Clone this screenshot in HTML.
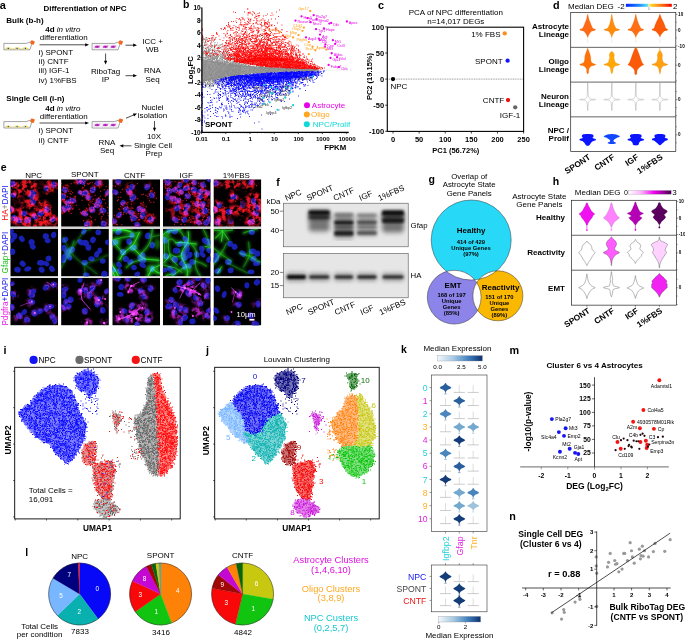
<!DOCTYPE html>
<html><head><meta charset="utf-8"><title>Figure</title><style>html,body{margin:0;padding:0;background:#fff;}body{width:685px;height:640px;overflow:hidden;font-family:"Liberation Sans",sans-serif;}</style></head><body><svg width="685" height="640" viewBox="0 0 685 640" font-family='"Liberation Sans", sans-serif' style="display:block"><text x="-0.30" y="8.56" font-size="11" font-weight="bold">a</text><text x="85.00" y="11.08" font-size="8" text-anchor="middle" font-weight="bold">Differentiation of NPC</text><text x="6.30" y="23.08" font-size="8" font-weight="bold">Bulk (b-h)</text><text x="45.20" y="31.88" font-size="8"><tspan font-weight="bold">4d</tspan> <tspan font-style="italic">in vitro</tspan></text><text x="39.80" y="40.28" font-size="8">differentiation</text><line x1="39.50" y1="44.80" x2="85.96" y2="44.80" stroke="#000" stroke-width="0.7"/><polygon points="89.00,44.80 85.20,43.20 85.20,46.40" fill="#000"/><path d="M3.9 43.4H26.2L30.9 41.8L31.9 43.8L29.8 49.8H3.9Z" fill="#fff" stroke="#555" stroke-width="0.55" stroke-linejoin="round"/><rect x="30.6" y="40.6" width="3.8" height="3.8" rx="0.6" fill="#f4661b" transform="rotate(20 32.5 42.5)"/><line x1="4.90" y1="48.70" x2="28.90" y2="48.70" stroke="#cfc878" stroke-width="0.5"/><ellipse cx="8.3" cy="48.4" rx="2.6" ry="1.1" fill="#e8de58"/><circle cx="8.30" cy="48.40" r="0.65" fill="#2030c0"/><ellipse cx="17.1" cy="48.4" rx="2.6" ry="1.1" fill="#e8de58"/><circle cx="17.10" cy="48.40" r="0.65" fill="#2030c0"/><ellipse cx="25.4" cy="48.4" rx="2.6" ry="1.1" fill="#e8de58"/><circle cx="25.40" cy="48.40" r="0.65" fill="#2030c0"/><text x="38.80" y="55.08" font-size="8">i) SPONT</text><text x="38.80" y="64.28" font-size="8">ii) CNTF</text><text x="38.80" y="73.48" font-size="8">iii) IGF-1</text><text x="38.80" y="82.68" font-size="8">iv) 1%FBS</text><path d="M92.1 43.4H114.4L119.1 41.8L120.1 43.8L118.0 49.8H92.1Z" fill="#fff" stroke="#555" stroke-width="0.55" stroke-linejoin="round"/><rect x="118.8" y="40.6" width="3.8" height="3.8" rx="0.6" fill="#f4661b" transform="rotate(20 120.7 42.5)"/><rect x="92.90" y="44.40" width="24.60" height="4.60" fill="#f6f0f8"/><ellipse cx="97.2" cy="46.8" rx="2.5" ry="1.25" fill="#c83cc8"/><line x1="94.20" y1="47.80" x2="100.20" y2="45.80" stroke="#c83cc8" stroke-width="0.5"/><circle cx="97.20" cy="46.80" r="0.70" fill="#7a1a8a"/><ellipse cx="105.4" cy="46.8" rx="2.5" ry="1.25" fill="#c83cc8"/><line x1="102.40" y1="47.80" x2="108.40" y2="45.80" stroke="#c83cc8" stroke-width="0.5"/><circle cx="105.40" cy="46.80" r="0.70" fill="#7a1a8a"/><ellipse cx="113.2" cy="46.8" rx="2.5" ry="1.25" fill="#c83cc8"/><line x1="110.20" y1="47.80" x2="116.20" y2="45.80" stroke="#c83cc8" stroke-width="0.5"/><circle cx="113.20" cy="46.80" r="0.70" fill="#7a1a8a"/><line x1="125.50" y1="45.20" x2="133.96" y2="45.20" stroke="#000" stroke-width="0.7"/><polygon points="137.00,45.20 133.20,43.60 133.20,46.80" fill="#000"/><text x="152.50" y="44.18" font-size="8" text-anchor="middle">ICC +</text><text x="152.50" y="52.48" font-size="8" text-anchor="middle">WB</text><line x1="105.60" y1="53.50" x2="105.60" y2="61.46" stroke="#000" stroke-width="0.7"/><polygon points="105.60,64.50 107.20,60.70 104.00,60.70" fill="#000"/><text x="105.60" y="73.68" font-size="8" text-anchor="middle">RiboTag</text><text x="105.60" y="81.88" font-size="8" text-anchor="middle">IP</text><line x1="125.50" y1="75.70" x2="133.96" y2="75.70" stroke="#000" stroke-width="0.7"/><polygon points="137.00,75.70 133.20,74.10 133.20,77.30" fill="#000"/><text x="152.50" y="73.48" font-size="8" text-anchor="middle">RNA</text><text x="152.50" y="81.88" font-size="8" text-anchor="middle">Seq</text><text x="6.30" y="101.08" font-size="8" font-weight="bold">Single Cell (i-n)</text><text x="45.20" y="110.68" font-size="8"><tspan font-weight="bold">4d</tspan> <tspan font-style="italic">in vitro</tspan></text><text x="39.80" y="118.68" font-size="8">differentiation</text><line x1="39.50" y1="123.00" x2="85.96" y2="123.00" stroke="#000" stroke-width="0.7"/><polygon points="89.00,123.00 85.20,121.40 85.20,124.60" fill="#000"/><path d="M3.9 121.6H26.2L30.9 120.0L31.9 122.0L29.8 128.0H3.9Z" fill="#fff" stroke="#555" stroke-width="0.55" stroke-linejoin="round"/><rect x="30.6" y="118.8" width="3.8" height="3.8" rx="0.6" fill="#f4661b" transform="rotate(20 32.5 120.7)"/><line x1="4.90" y1="126.90" x2="28.90" y2="126.90" stroke="#cfc878" stroke-width="0.5"/><ellipse cx="8.3" cy="126.6" rx="2.6" ry="1.1" fill="#e8de58"/><circle cx="8.30" cy="126.60" r="0.65" fill="#2030c0"/><ellipse cx="17.1" cy="126.6" rx="2.6" ry="1.1" fill="#e8de58"/><circle cx="17.10" cy="126.60" r="0.65" fill="#2030c0"/><ellipse cx="25.4" cy="126.6" rx="2.6" ry="1.1" fill="#e8de58"/><circle cx="25.40" cy="126.60" r="0.65" fill="#2030c0"/><text x="38.80" y="133.48" font-size="8">i) SPONT</text><text x="38.80" y="142.68" font-size="8">ii) CNTF</text><path d="M92.1 121.6H114.4L119.1 120.0L120.1 122.0L118.0 128.0H92.1Z" fill="#fff" stroke="#555" stroke-width="0.55" stroke-linejoin="round"/><rect x="118.8" y="118.8" width="3.8" height="3.8" rx="0.6" fill="#f4661b" transform="rotate(20 120.7 120.7)"/><rect x="92.90" y="122.60" width="24.60" height="4.60" fill="#f6f0f8"/><ellipse cx="97.2" cy="125.0" rx="2.5" ry="1.25" fill="#c83cc8"/><line x1="94.20" y1="126.00" x2="100.20" y2="124.00" stroke="#c83cc8" stroke-width="0.5"/><circle cx="97.20" cy="125.00" r="0.70" fill="#7a1a8a"/><ellipse cx="105.4" cy="125.0" rx="2.5" ry="1.25" fill="#c83cc8"/><line x1="102.40" y1="126.00" x2="108.40" y2="124.00" stroke="#c83cc8" stroke-width="0.5"/><circle cx="105.40" cy="125.00" r="0.70" fill="#7a1a8a"/><ellipse cx="113.2" cy="125.0" rx="2.5" ry="1.25" fill="#c83cc8"/><line x1="110.20" y1="126.00" x2="116.20" y2="124.00" stroke="#c83cc8" stroke-width="0.5"/><circle cx="113.20" cy="125.00" r="0.70" fill="#7a1a8a"/><line x1="126.00" y1="118.20" x2="134.20" y2="114.77" stroke="#000" stroke-width="0.7"/><polygon points="137.00,113.60 132.88,113.59 134.11,116.54" fill="#000"/><text x="152.50" y="110.28" font-size="8" text-anchor="middle">Nuclei</text><text x="152.50" y="118.48" font-size="8" text-anchor="middle">isolation</text><line x1="154.50" y1="121.00" x2="154.50" y2="128.46" stroke="#000" stroke-width="0.7"/><polygon points="154.50,131.50 156.10,127.70 152.90,127.70" fill="#000"/><text x="154.00" y="139.48" font-size="8" text-anchor="middle">10X</text><text x="153.00" y="147.88" font-size="8" text-anchor="middle">Single Cell</text><text x="154.00" y="156.08" font-size="8" text-anchor="middle">Prep</text><line x1="131.50" y1="145.80" x2="122.54" y2="145.80" stroke="#000" stroke-width="0.7"/><polygon points="119.50,145.80 123.30,147.40 123.30,144.20" fill="#000"/><text x="107.00" y="144.68" font-size="8" text-anchor="middle">RNA</text><text x="107.00" y="152.88" font-size="8" text-anchor="middle">Seq</text>
<polygon points="201.6,59.0 204.5,59.6 207.3,60.2 210.2,60.7 213.1,61.2 216.0,61.7 218.8,62.1 221.7,62.6 224.6,63.0 227.5,63.4 230.3,63.8 233.2,64.1 236.1,64.5 239.0,64.8 241.8,65.1 244.7,65.4 247.6,65.7 250.5,65.9 253.3,66.2 256.2,66.4 259.1,66.6 261.9,66.8 264.8,67.0 267.7,67.2 270.6,67.3 273.4,67.5 276.3,67.7 279.2,67.8 282.1,68.0 284.9,68.1 287.8,68.3 290.7,68.4 293.6,68.5 296.4,68.6 299.3,68.7 302.2,68.8 305.1,68.9 307.9,68.9 310.8,69.0 313.7,69.1 316.6,69.1 316.6,71.0 313.7,71.1 310.8,71.1 307.9,71.2 305.1,71.3 302.2,71.3 299.3,71.4 296.4,71.5 293.6,71.6 290.7,71.6 287.8,71.7 284.9,71.8 282.1,72.0 279.2,72.1 276.3,72.2 273.4,72.3 270.6,72.5 267.7,72.6 264.8,72.8 261.9,73.0 259.1,73.2 256.2,73.4 253.3,73.6 250.5,73.8 247.6,74.1 244.7,74.4 241.8,74.7 239.0,75.0 236.1,75.3 233.2,75.7 230.3,76.1 227.5,76.5 224.6,77.0 221.7,77.4 218.8,78.0 216.0,78.5 213.1,79.1 210.2,79.8 207.3,80.5 204.5,81.2 201.6,82.0" fill="#8a8a8a" fill-opacity="0.85"/><polygon points="240.3,60.8 242.2,60.4 244.1,60.0 245.9,59.7 247.8,59.3 249.7,59.0 251.6,58.7 253.4,58.5 255.3,58.2 257.2,58.0 259.1,57.7 261.0,57.7 262.8,57.7 264.7,57.7 266.6,57.7 268.5,57.7 270.3,57.7 272.2,57.7 274.1,57.7 276.0,57.8 277.8,58.0 279.7,58.1 281.6,58.3 283.5,58.5 285.3,58.6 287.2,58.8 289.1,59.0 291.0,59.3 292.8,59.6 294.7,59.9 296.6,60.4 298.5,61.1 300.3,61.8 302.2,62.6 304.1,63.4 306.0,64.2 307.8,65.0 309.7,65.9 311.6,66.8 313.5,67.7 315.3,68.5 315.3,68.9 313.5,68.9 311.6,68.8 309.7,68.8 307.8,68.7 306.0,68.7 304.1,68.6 302.2,68.6 300.3,68.5 298.5,68.4 296.6,68.3 294.7,68.3 292.8,68.2 291.0,68.1 289.1,68.0 287.2,67.9 285.3,67.8 283.5,67.7 281.6,67.6 279.7,67.5 277.8,67.3 276.0,67.2 274.1,67.1 272.2,66.9 270.3,66.7 268.5,66.6 266.6,66.4 264.7,66.2 262.8,66.0 261.0,65.8 259.1,65.6 257.2,65.3 255.3,65.1 253.4,64.8 251.6,64.5 249.7,64.2 247.8,63.9 245.9,63.6 244.1,63.2 242.2,62.9 240.3,62.5" fill="#ff0000" fill-opacity="0.62"/><polygon points="240.3,75.4 242.3,75.1 244.3,74.9 246.2,74.7 248.2,74.5 250.2,74.3 252.1,74.1 254.1,73.9 256.1,73.8 258.0,73.6 260.0,73.4 261.9,73.3 263.9,73.2 265.9,73.0 267.8,72.9 269.8,72.8 271.8,72.7 273.7,72.6 275.7,72.5 277.7,72.4 279.6,72.3 281.6,72.2 283.6,72.1 285.5,72.0 287.5,71.9 289.5,71.9 291.4,71.8 293.4,71.7 295.4,71.7 297.3,71.6 299.3,71.5 301.3,71.5 303.2,71.4 305.2,71.4 307.2,71.3 309.1,71.3 311.1,71.3 313.1,71.2 315.0,71.2 317.0,71.1 319.0,71.1 319.0,71.2 317.0,73.0 315.0,74.5 313.1,75.0 311.1,75.5 309.1,76.0 307.2,76.4 305.2,76.6 303.2,76.8 301.3,77.0 299.3,77.2 297.3,77.3 295.4,77.4 293.4,77.6 291.4,77.7 289.5,77.8 287.5,77.9 285.5,78.0 283.6,78.1 281.6,78.2 279.6,78.3 277.7,78.3 275.7,78.4 273.7,78.5 271.8,78.5 269.8,78.6 267.8,78.6 265.9,78.7 263.9,78.7 261.9,78.8 260.0,78.8 258.0,78.8 256.1,78.7 254.1,78.6 252.1,78.6 250.2,78.5 248.2,78.1 246.2,77.6 244.3,77.2 242.3,76.8 240.3,76.3" fill="#0000ff" fill-opacity="0.68"/><path d="M201.5 39.5h.9m-.9 1h.9m-.9 .5h.9m-.9 1h.9m-.9 1h.9m-.9 2h.9m-.9 .5h.9m-.9 .5h.9m-.9 1h.9m-.9 .5h.9m-.9 .5h.9m-.9 1.5h.9m-.9 2h.9m-.9 .5h.9m-.9 1.5h.9m-.9 .5h.9m-.9 1h.9m-.9 1h.9m-.9 1h.9m-.9 .5h.9m-.9 1h.9m-.9 1h.9m-.9 .5h.9m-.9 .5h.9m-.9 .5h.9m-.9 .5h.9m-.9 1h.9m-.9 1.5h.9m-.9 1h.9m-.9 1.5h.9m-.9 1h.9m-.9 .5h.9m-.9 .5h.9m-.9 1.5h.9m-.9 1h.9m-.9 .5h.9m-.9 .5h.9m-.9 .5h.9m-.9 2h.9m-.9 .5h.9m-.9 .5h.9m-.9 .5h.9m-.9 1h.9m-.9 .5h.9m-.9 1h.9m-.9 1h.9m-.9 1h.9m-.9 .5h.9m-.9 1.5h.9m-.9 .5h.9m-.9 .5h.9m-.4-43.5h.9m-.9 .5h.9m-.9 1.5h.9m-.9 .5h.9m-.9 .5h.9m-.9 .5h.9m-.9 .5h.9m-.9 .5h.9m-.9 1h.9m-.9 1h.9m-.9 .5h.9m-.9 1.5h.9m-.9 .5h.9m-.9 .5h.9m-.9 1h.9m-.9 .5h.9m-.9 1h.9m-.9 .5h.9m-.9 1h.9m-.9 .5h.9m-.9 .5h.9m-.9 .5h.9m-.9 .5h.9m-.9 1.5h.9m-.9 .5h.9m-.9 .5h.9m-.9 .5h.9m-.9 .5h.9m-.9 .5h.9m-.9 .5h.9m-.9 .5h.9m-.9 2h.9m-.9 .5h.9m-.9 .5h.9m-.9 .5h.9m-.9 .5h.9m-.9 .5h.9m-.9 .5h.9m-.9 .5h.9m-.9 .5h.9m-.9 1h.9m-.9 .5h.9m-.9 .5h.9m-.9 .5h.9m-.9 .5h.9m-.9 1h.9m-.9 .5h.9m-.9 1.5h.9m-.9 .5h.9m-.9 .5h.9m-.9 1h.9m-.9 .5h.9m-.9 .5h.9m-.9 1.5h.9m-.9 1.5h.9m-.9 1h.9m-.9 1.5h.9m-.9 .5h.9m-.9 .5h.9m-.9 .5h.9m-.9 .5h.9m-.9 .5h.9m-.9 .5h.9m-.9 2h.9m-.9 1h.9m-.4-48h.9m-.9 7h.9m-.9 2.5h.9m-.9 1.5h.9m-.9 3h.9m-.9 .5h.9m-.9 1.5h.9m-.9 1.5h.9m-.9 1h.9m-.9 2h.9m-.9 1.5h.9m-.9 1h.9m-.9 1.5h.9m-.9 1h.9m-.9 2.5h.9m-.9 3h.9m-.9 6h.9m-.9 4.5h.9m-.9 1h.9m-.9 1h.9m-.9 1h.9m-.9 .5h.9m-.4-47h.9m-.9 1.5h.9m-.9 1h.9m-.9 .5h.9m-.9 2h.9m-.9 4h.9m-.9 1.5h.9m-.9 4h.9m-.9 .5h.9m-.9 .5h.9m-.9 2.5h.9m-.9 2.5h.9m-.9 .5h.9m-.9 1.5h.9m-.9 4.5h.9m-.9 2h.9m-.9 3h.9m-.9 .5h.9m-.9 2.5h.9m-.9 2h.9m-.9 .5h.9m-.9 .5h.9m-.9 5h.9m-.9 .5h.9m-.9 1h.9m-.9 1h.9m-.9 1.5h.9m-.9 .5h.9m-.9 2.5h.9m-.4-39h.9m-.9 2h.9m-.9 2.5h.9m-.9 .5h.9m-.9 .5h.9m-.9 .5h.9m-.9 2h.9m-.9 1.5h.9m-.9 1.5h.9m-.9 3h.9m-.9 3h.9m-.9 .5h.9m-.9 6h.9m-.9 2h.9m-.9 5h.9m-.9 2h.9m-.9 1h.9m-.9 3h.9m-.4-45h.9m-.9 4.5h.9m-.9 6.5h.9m-.9 7.5h.9m-.9 4h.9m-.9 2.5h.9m-.9 1h.9m-.9 2h.9m-.9 3h.9m-.9 .5h.9m-.9 1.5h.9m-.9 .5h.9m-.9 .5h.9m-.9 3.5h.9m-.9 2.5h.9m-.9 1h.9m-.9 1h.9m-.9 1h.9m-.9 5h.9m-.4-49h.9m-.9 1h.9m-.9 3h.9m-.9 9h.9m-.9 6.5h.9m-.9 9h.9m-.9 1h.9m-.9 .5h.9m-.9 1h.9m-.9 6.5h.9m-.9 1.5h.9m-.9 .5h.9m-.9 1.5h.9m-.9 3h.9m-.9 .5h.9m-.9 2.5h.9m-.4-44h.9m-.9 .5h.9m-.9 .5h.9m-.9 2.5h.9m-.9 .5h.9m-.9 6.5h.9m-.9 2.5h.9m-.9 .5h.9m-.9 1h.9m-.9 1.5h.9m-.9 1.5h.9m-.9 1.5h.9m-.9 3h.9m-.9 2.5h.9m-.9 7.5h.9m-.9 1.5h.9m-.9 1.5h.9m-.9 4h.9m-.9 2h.9m-.9 2.5h.9m-.9 .5h.9m-.9 1h.9m-.4-49h.9m-.9 5h.9m-.9 2.5h.9m-.9 2h.9m-.9 3h.9m-.9 1h.9m-.9 1h.9m-.9 1.5h.9m-.9 .5h.9m-.9 3.5h.9m-.9 .5h.9m-.9 .5h.9m-.9 2h.9m-.9 .5h.9m-.9 2h.9m-.9 1h.9m-.9 1h.9m-.9 .5h.9m-.9 1h.9m-.9 .5h.9m-.9 8h.9m-.9 1h.9m-.9 1h.9m-.9 3h.9m-.9 .5h.9m-.9 1.5h.9m-.9 1.5h.9m-.9 .5h.9m-.9 1.5h.9m-.9 .5h.9m-.4-48.5h.9m-.9 .5h.9m-.9 7h.9m-.9 3h.9m-.9 3.5h.9m-.9 .5h.9m-.9 3h.9m-.9 .5h.9m-.9 .5h.9m-.9 3h.9m-.9 3h.9m-.9 10h.9m-.9 .5h.9m-.9 2h.9m-.9 1.5h.9m-.9 3h.9m-.9 1.5h.9m-.9 .5h.9m-.9 5h.9m-.4-46.5h.9m-.9 .5h.9m-.9 8.5h.9m-.9 2.5h.9m-.9 .5h.9m-.9 1h.9m-.9 1h.9m-.9 1h.9m-.9 .5h.9m-.9 1.5h.9m-.9 .5h.9m-.9 .5h.9m-.9 2.5h.9m-.9 .5h.9m-.9 9h.9m-.9 2.5h.9m-.9 3h.9m-.9 2.5h.9m-.9 2.5h.9m-.9 4.5h.9m-.9 .5h.9m-.4-45h.9m-.9 7.5h.9m-.9 5.5h.9m-.9 .5h.9m-.9 1h.9m-.9 .5h.9m-.9 2h.9m-.9 1h.9m-.9 1.5h.9m-.9 2.5h.9m-.9 9.5h.9m-.9 7.5h.9m-.9 3h.9m-.9 .5h.9m-.9 1h.9m-.4-45.5h.9m-.9 7h.9m-.9 6h.9m-.9 5.5h.9m-.9 3h.9m-.9 1h.9m-.9 4h.9m-.9 2.5h.9m-.9 7h.9m-.9 2.5h.9m-.9 3.5h.9m-.9 2.5h.9m-.9 1h.9m-.9 1h.9m-.9 2.5h.9m-.4-39h.9m-.9 1.5h.9m-.9 .5h.9m-.9 1h.9m-.9 5h.9m-.9 1.5h.9m-.9 1.5h.9m-.9 .5h.9m-.9 1.5h.9m-.9 6h.9m-.9 5.5h.9m-.9 5.5h.9m-.9 2h.9m-.9 .5h.9m-.9 .5h.9m-.9 3.5h.9m-.4-38.5h.9m-.9 1h.9m-.9 1.5h.9m-.9 1h.9m-.9 1.5h.9m-.9 .5h.9m-.9 1h.9m-.9 4.5h.9m-.9 1.5h.9m-.9 7h.9m-.9 1.5h.9m-.9 .5h.9m-.9 .5h.9m-.9 1h.9m-.9 .5h.9m-.9 2h.9m-.9 3.5h.9m-.9 3.5h.9m-.9 .5h.9m-.9 .5h.9m-.9 .5h.9m-.9 1.5h.9m-.9 .5h.9m-.9 2h.9m-.9 2.5h.9m-.4-46.5h.9m-.9 10h.9m-.9 1h.9m-.9 3h.9m-.9 1h.9m-.9 .5h.9m-.9 1h.9m-.9 .5h.9m-.9 2h.9m-.9 .5h.9m-.9 1.5h.9m-.9 12.5h.9m-.9 1h.9m-.9 6h.9m-.9 1h.9m-.9 2.5h.9m-.9 1h.9m-.9 1.5h.9m-.4-48h.9m-.9 11.5h.9m-.9 .5h.9m-.9 2.5h.9m-.9 .5h.9m-.9 1h.9m-.9 1.5h.9m-.9 3h.9m-.9 .5h.9m-.9 .5h.9m-.9 1h.9m-.9 4h.9m-.9 1.5h.9m-.9 1h.9m-.9 1h.9m-.9 2.5h.9m-.9 1.5h.9m-.9 2h.9m-.9 7.5h.9m-.9 1h.9m-.9 1.5h.9m-.9 1h.9m-.9 1h.9m-.4-46h.9m-.9 3h.9m-.9 5h.9m-.9 1.5h.9m-.9 5h.9m-.9 .5h.9m-.9 .5h.9m-.9 .5h.9m-.9 .5h.9m-.9 1h.9m-.9 1.5h.9m-.9 .5h.9m-.9 8.5h.9m-.9 .5h.9m-.9 1.5h.9m-.9 4.5h.9m-.9 .5h.9m-.9 1h.9m-.9 2h.9m-.9 .5h.9m-.9 .5h.9m-.9 1h.9m-.9 1.5h.9m-.9 1h.9m-.9 1.5h.9m-.9 .5h.9m-.4-38h.9m-.9 6h.9m-.9 4h.9m-.9 1h.9m-.9 1h.9m-.9 2.5h.9m-.9 .5h.9m-.9 7h.9m-.9 .5h.9m-.9 6h.9m-.9 3.5h.9m-.9 .5h.9m-.9 3.5h.9m-.9 3h.9m-.4-40.5h.9m-.9 2h.9m-.9 2.5h.9m-.9 3.5h.9m-.9 .5h.9m-.9 1.5h.9m-.9 2.5h.9m-.9 2.5h.9m-.9 1h.9m-.9 .5h.9m-.9 1.5h.9m-.9 1h.9m-.9 6h.9m-.9 2.5h.9m-.9 .5h.9m-.9 .5h.9m-.9 .5h.9m-.9 2.5h.9m-.9 6.5h.9m-.9 2.5h.9m-.4-43.5h.9m-.9 3h.9m-.9 7h.9m-.9 .5h.9m-.9 4.5h.9m-.9 .5h.9m-.9 1.5h.9m-.9 .5h.9m-.9 .5h.9m-.9 .5h.9m-.9 1h.9m-.9 12.5h.9m-.9 1h.9m-.9 1.5h.9m-.9 .5h.9m-.9 .5h.9m-.9 .5h.9m-.9 1h.9m-.9 1h.9m-.9 1h.9m-.9 3.5h.9m-.9 1h.9m-.4-40.5h.9m-.9 1h.9m-.9 3h.9m-.9 .5h.9m-.9 1h.9m-.9 2h.9m-.9 1.5h.9m-.9 1h.9m-.9 1h.9m-.9 .5h.9m-.9 .5h.9m-.9 1h.9m-.9 .5h.9m-.9 1h.9m-.9 .5h.9m-.9 1.5h.9m-.9 4.5h.9m-.9 .5h.9m-.9 1h.9m-.9 3.5h.9m-.9 .5h.9m-.9 1h.9m-.9 5.5h.9m-.9 1h.9m-.9 .5h.9m-.9 .5h.9m-.9 1h.9m-.9 .5h.9m-.9 1.5h.9m-.9 .5h.9m-.9 1.5h.9m-.4-47.5h.9m-.9 10h.9m-.9 2.5h.9m-.9 2h.9m-.9 2.5h.9m-.9 3.5h.9m-.9 1h.9m-.9 2h.9m-.9 4h.9m-.9 2.5h.9m-.9 2.5h.9m-.9 4.5h.9m-.9 3h.9m-.9 .5h.9m-.9 .5h.9m-.9 1h.9m-.9 5h.9m-.9 1.5h.9m-.4-36h.9m-.9 4.5h.9m-.9 2h.9m-.9 1.5h.9m-.9 1h.9m-.9 3h.9m-.9 9h.9m-.9 6.5h.9m-.9 .5h.9m-.9 1.5h.9m-.9 .5h.9m-.9 .5h.9m-.9 1.5h.9m-.9 4h.9m-.4-47.5h.9m-.9 7h.9m-.9 7.5h.9m-.9 2h.9m-.9 1.5h.9m-.9 .5h.9m-.9 1.5h.9m-.9 .5h.9m-.9 1.5h.9m-.9 .5h.9m-.9 1h.9m-.9 6.5h.9m-.9 1.5h.9m-.9 8h.9m-.9 1h.9m-.9 .5h.9m-.9 1.5h.9m-.9 .5h.9m-.4-41.5h.9m-.9 4.5h.9m-.9 3h.9m-.9 4h.9m-.9 4h.9m-.9 1h.9m-.9 1.5h.9m-.9 1h.9m-.9 .5h.9m-.9 5h.9m-.9 10h.9m-.9 1h.9m-.9 .5h.9m-.9 1h.9m-.9 1.5h.9m-.9 3h.9m-.9 1h.9m-.4-40.5h.9m-.9 1.5h.9m-.9 1.5h.9m-.9 3.5h.9m-.9 1.5h.9m-.9 1h.9m-.9 3.5h.9m-.9 2.5h.9m-.9 1h.9m-.9 3.5h.9m-.9 .5h.9m-.9 .5h.9m-.9 1.5h.9m-.9 5.5h.9m-.9 9.5h.9m-.9 .5h.9m-.9 .5h.9m-.9 1h.9m-.9 2.5h.9m-.4-31.5h.9m-.9 1h.9m-.9 1h.9m-.9 2h.9m-.9 .5h.9m-.9 1h.9m-.9 3h.9m-.9 1h.9m-.9 .5h.9m-.9 .5h.9m-.9 6h.9m-.9 3.5h.9m-.9 1.5h.9m-.9 .5h.9m-.9 3h.9m-.9 .5h.9m-.9 2.5h.9m-.9 3h.9m-.4-33h.9m-.9 3h.9m-.9 1h.9m-.9 2h.9m-.9 1.5h.9m-.9 .5h.9m-.9 .5h.9m-.9 2h.9m-.9 .5h.9m-.9 4h.9m-.9 1h.9m-.9 1.5h.9m-.9 2.5h.9m-.9 3h.9m-.9 2.5h.9m-.9 2.5h.9m-.9 .5h.9m-.9 .5h.9m-.9 2.5h.9m-.9 2h.9m-.4-39.5h.9m-.9 1h.9m-.9 8h.9m-.9 2h.9m-.9 .5h.9m-.9 .5h.9m-.9 .5h.9m-.9 2h.9m-.9 .5h.9m-.9 1h.9m-.9 2h.9m-.9 5.5h.9m-.9 4h.9m-.9 2h.9m-.9 .5h.9m-.9 .5h.9m-.9 3h.9m-.9 .5h.9m-.9 1.5h.9m-.9 2h.9m-.9 2h.9m-.4-33.5h.9m-.9 5.5h.9m-.9 .5h.9m-.9 .5h.9m-.9 1h.9m-.9 .5h.9m-.9 .5h.9m-.9 1h.9m-.9 1.5h.9m-.9 .5h.9m-.9 .5h.9m-.9 4.5h.9m-.9 1.5h.9m-.9 3.5h.9m-.9 7h.9m-.9 .5h.9m-.9 .5h.9m-.9 4h.9m-.4-41h.9m-.9 5.5h.9m-.9 1.5h.9m-.9 5h.9m-.9 2.5h.9m-.9 .5h.9m-.9 .5h.9m-.9 .5h.9m-.9 1.5h.9m-.9 .5h.9m-.9 .5h.9m-.9 .5h.9m-.9 1.5h.9m-.9 1h.9m-.9 3.5h.9m-.9 1h.9m-.9 3.5h.9m-.9 4.5h.9m-.9 1.5h.9m-.9 1h.9m-.9 .5h.9m-.9 1.5h.9m-.4-36.5h.9m-.9 2h.9m-.9 3h.9m-.9 .5h.9m-.9 2h.9m-.9 1.5h.9m-.9 2h.9m-.9 .5h.9m-.9 5h.9m-.9 10h.9m-.9 3.5h.9m-.9 .5h.9m-.9 3.5h.9m-.9 3h.9m-.9 3h.9m-.4-35h.9m-.9 1h.9m-.9 .5h.9m-.9 5h.9m-.9 .5h.9m-.9 3h.9m-.9 .5h.9m-.9 1.5h.9m-.9 2h.9m-.9 .5h.9m-.9 1h.9m-.9 4.5h.9m-.9 2.5h.9m-.9 4.5h.9m-.9 .5h.9m-.9 .5h.9m-.9 3h.9m-.9 2.5h.9m-.9 2h.9m-.4-40h.9m-.9 6h.9m-.9 3.5h.9m-.9 5.5h.9m-.9 1h.9m-.9 1h.9m-.9 1h.9m-.9 1h.9m-.9 1h.9m-.9 .5h.9m-.9 3.5h.9m-.9 1h.9m-.9 .5h.9m-.9 2.5h.9m-.9 2h.9m-.9 .5h.9m-.9 .5h.9m-.9 1h.9m-.9 1h.9m-.9 1.5h.9m-.4-33h.9m-.9 1.5h.9m-.9 4.5h.9m-.9 5h.9m-.9 1h.9m-.9 2h.9m-.9 2h.9m-.9 1.5h.9m-.9 7h.9m-.9 2h.9m-.9 2.5h.9m-.9 1.5h.9m-.9 3h.9m-.4-35.5h.9m-.9 2.5h.9m-.9 1h.9m-.9 6.5h.9m-.9 .5h.9m-.9 4h.9m-.9 1.5h.9m-.9 1.5h.9m-.9 .5h.9m-.9 1h.9m-.9 4h.9m-.9 1h.9m-.9 1h.9m-.9 1.5h.9m-.9 1h.9m-.9 1.5h.9m-.9 2.5h.9m-.9 1h.9m-.9 .5h.9m-.9 .5h.9m-.9 1.5h.9m-.9 4h.9m-.4-39h.9m-.9 2.5h.9m-.9 4h.9m-.9 2.5h.9m-.9 2.5h.9m-.9 1.5h.9m-.9 .5h.9m-.9 2.5h.9m-.9 2h.9m-.9 3.5h.9m-.9 4h.9m-.9 3.5h.9m-.9 3h.9m-.9 .5h.9m-.9 .5h.9m-.9 .5h.9m-.9 .5h.9m-.9 .5h.9m-.4-26.5h.9m-.9 1.5h.9m-.9 2h.9m-.9 .5h.9m-.9 2h.9m-.9 2h.9m-.9 .5h.9m-.9 1.5h.9m-.9 .5h.9m-.9 .5h.9m-.9 3.5h.9m-.9 1.5h.9m-.9 .5h.9m-.9 5.5h.9m-.9 .5h.9m-.9 1.5h.9m-.9 .5h.9m-.9 .5h.9m-.9 1.5h.9m-.9 1h.9m-.9 1h.9m-.9 .5h.9m-.4-37.5h.9m-.9 7.5h.9m-.9 3h.9m-.9 2h.9m-.9 4h.9m-.9 1.5h.9m-.9 1.5h.9m-.9 1h.9m-.9 3.5h.9m-.9 3.5h.9m-.9 1.5h.9m-.9 2.5h.9m-.9 1.5h.9m-.9 .5h.9m-.4-29h.9m-.9 .5h.9m-.9 5h.9m-.9 1.5h.9m-.9 1.5h.9m-.9 .5h.9m-.9 1h.9m-.9 .5h.9m-.9 .5h.9m-.9 3.5h.9m-.9 2h.9m-.9 1h.9m-.9 5h.9m-.9 3h.9m-.9 2h.9m-.9 1h.9m-.9 1h.9m-.9 1.5h.9m-.9 1h.9m-.9 3h.9m-.4-31h.9m-.9 4h.9m-.9 .5h.9m-.9 2h.9m-.9 1.5h.9m-.9 1h.9m-.9 .5h.9m-.9 1h.9m-.9 .5h.9m-.9 5.5h.9m-.9 2h.9m-.9 2h.9m-.9 .5h.9m-.9 2h.9m-.9 .5h.9m-.9 .5h.9m-.9 1.5h.9m-.9 1h.9m-.9 1h.9m-.9 1h.9m-.4-26.5h.9m-.9 1h.9m-.9 2h.9m-.9 .5h.9m-.9 2h.9m-.9 1h.9m-.9 .5h.9m-.9 5h.9m-.9 5h.9m-.9 .5h.9m-.9 5h.9m-.9 .5h.9m-.9 3h.9m-.4-28.5h.9m-.9 .5h.9m-.9 1.5h.9m-.9 1h.9m-.9 2h.9m-.9 1h.9m-.9 7.5h.9m-.9 4.5h.9m-.9 2.5h.9m-.9 2h.9m-.9 2.5h.9m-.9 1h.9m-.9 .5h.9m-.9 1h.9m-.9 2h.9m-.4-29h.9m-.9 3h.9m-.9 2.5h.9m-.9 2h.9m-.9 1.5h.9m-.9 .5h.9m-.9 2h.9m-.9 .5h.9m-.9 .5h.9m-.9 2h.9m-.9 3h.9m-.9 2h.9m-.9 1.5h.9m-.9 2h.9m-.9 3h.9m-.9 6h.9m-.4-38.5h.9m-.9 6.5h.9m-.9 2.5h.9m-.9 3.5h.9m-.9 2h.9m-.9 .5h.9m-.9 1h.9m-.9 1h.9m-.9 1h.9m-.9 1h.9m-.9 6h.9m-.9 1.5h.9m-.9 .5h.9m-.9 2h.9m-.9 .5h.9m-.9 .5h.9m-.9 .5h.9m-.9 1h.9m-.4-31h.9m-.9 4h.9m-.9 4h.9m-.9 2h.9m-.9 .5h.9m-.9 .5h.9m-.9 1h.9m-.9 2.5h.9m-.9 .5h.9m-.9 1.5h.9m-.9 2h.9m-.9 3.5h.9m-.9 1h.9m-.9 1.5h.9m-.9 .5h.9m-.9 1.5h.9m-.9 2.5h.9m-.9 .5h.9m-.9 .5h.9m-.4-26h.9m-.9 .5h.9m-.9 5h.9m-.9 3h.9m-.9 3h.9m-.9 1.5h.9m-.9 1h.9m-.9 .5h.9m-.9 2.5h.9m-.9 2h.9m-.9 6h.9m-.9 .5h.9m-.9 1h.9m-.9 1.5h.9m-.9 6h.9m-.4-31.5h.9m-.9 8h.9m-.9 5.5h.9m-.9 4h.9m-.9 2h.9m-.9 3.5h.9m-.9 3h.9m-.4-32.5h.9m-.9 6.5h.9m-.9 .5h.9m-.9 4.5h.9m-.9 1.5h.9m-.9 .5h.9m-.9 .5h.9m-.9 .5h.9m-.9 .5h.9m-.9 .5h.9m-.9 .5h.9m-.9 4h.9m-.9 .5h.9m-.9 .5h.9m-.9 2.5h.9m-.9 1h.9m-.9 .5h.9m-.9 4.5h.9m-.9 1h.9m-.9 .5h.9m-.9 2h.9m-.9 2h.9m-.4-31h.9m-.9 .5h.9m-.9 3.5h.9m-.9 1h.9m-.9 3h.9m-.9 4h.9m-.9 4.5h.9m-.9 3.5h.9m-.9 1.5h.9m-.9 1h.9m-.9 7.5h.9m-.4-32.5h.9m-.9 .5h.9m-.9 4h.9m-.9 2.5h.9m-.9 2.5h.9m-.9 .5h.9m-.9 2h.9m-.9 1h.9m-.9 1h.9m-.9 3.5h.9m-.9 2.5h.9m-.9 2.5h.9m-.9 1h.9m-.9 1h.9m-.9 1.5h.9m-.9 2.5h.9m-.9 .5h.9m-.9 1h.9m-.9 4h.9m-.4-29h.9m-.9 4.5h.9m-.9 1h.9m-.9 1h.9m-.9 1h.9m-.9 2h.9m-.9 .5h.9m-.9 2.5h.9m-.9 1.5h.9m-.9 1.5h.9m-.9 .5h.9m-.9 .5h.9m-.9 1h.9m-.9 .5h.9m-.9 1h.9m-.9 1h.9m-.9 1h.9m-.9 1h.9m-.9 .5h.9m-.9 1.5h.9m-.9 1h.9m-.9 4h.9m-.4-30.5h.9m-.9 5h.9m-.9 .5h.9m-.9 2h.9m-.9 3h.9m-.9 2.5h.9m-.9 2h.9m-.9 3.5h.9m-.9 2.5h.9m-.9 1h.9m-.9 1.5h.9m-.9 1h.9m-.9 1h.9m-.9 .5h.9m-.9 .5h.9m-.9 2h.9m-.4-26h.9m-.9 3h.9m-.9 4.5h.9m-.9 2.5h.9m-.9 .5h.9m-.9 .5h.9m-.9 1h.9m-.9 1.5h.9m-.9 1.5h.9m-.9 .5h.9m-.9 1.5h.9m-.9 1.5h.9m-.9 1.5h.9m-.9 3h.9m-.9 2h.9m-.9 .5h.9m-.4-25h.9m-.9 3h.9m-.9 5.5h.9m-.9 .5h.9m-.9 .5h.9m-.9 1h.9m-.9 3.5h.9m-.9 1.5h.9m-.9 .5h.9m-.9 3h.9m-.9 1h.9m-.9 1h.9m-.9 2h.9m-.9 .5h.9m-.9 .5h.9m-.9 .5h.9m-.4-29h.9m-.9 5.5h.9m-.9 2h.9m-.9 2.5h.9m-.9 .5h.9m-.9 .5h.9m-.9 1.5h.9m-.9 .5h.9m-.9 .5h.9m-.9 .5h.9m-.9 .5h.9m-.9 2.5h.9m-.9 1.5h.9m-.9 1h.9m-.9 6h.9m-.9 1h.9m-.9 1h.9m-.9 .5h.9m-.9 1h.9m-.9 1h.9m-.4-24h.9m-.9 3h.9m-.9 .5h.9m-.9 2.5h.9m-.9 1h.9m-.9 .5h.9m-.9 1h.9m-.9 1.5h.9m-.9 7h.9m-.9 1.5h.9m-.9 .5h.9m-.9 1.5h.9m-.9 1h.9m-.9 7h.9m-.4-31h.9m-.9 4h.9m-.9 .5h.9m-.9 1h.9m-.9 4.5h.9m-.9 .5h.9m-.9 .5h.9m-.9 1.5h.9m-.9 .5h.9m-.9 1h.9m-.9 1h.9m-.9 .5h.9m-.9 3h.9m-.9 2.5h.9m-.9 1.5h.9m-.9 .5h.9m-.9 .5h.9m-.9 2h.9m-.9 .5h.9m-.9 4.5h.9m-.4-26h.9m-.9 1h.9m-.9 2.5h.9m-.9 1h.9m-.9 2.5h.9m-.9 1.5h.9m-.9 1.5h.9m-.9 2.5h.9m-.9 1.5h.9m-.9 .5h.9m-.9 2h.9m-.9 1h.9m-.9 1h.9m-.9 2h.9m-.4-20.5h.9m-.9 .5h.9m-.9 4.5h.9m-.9 1.5h.9m-.9 4h.9m-.9 3.5h.9m-.9 .5h.9m-.9 2h.9m-.9 1h.9m-.9 1h.9m-.9 .5h.9m-.9 2h.9m-.4-25.5h.9m-.9 2.5h.9m-.9 1h.9m-.9 3.5h.9m-.9 1h.9m-.9 1.5h.9m-.9 .5h.9m-.9 .5h.9m-.9 5.5h.9m-.9 1.5h.9m-.9 2.5h.9m-.9 .5h.9m-.9 .5h.9m-.9 1h.9m-.9 .5h.9m-.9 1.5h.9m-.9 2.5h.9m-.4-22h.9m-.9 4h.9m-.9 1h.9m-.9 .5h.9m-.9 1h.9m-.9 .5h.9m-.9 .5h.9m-.9 .5h.9m-.9 .5h.9m-.9 .5h.9m-.9 1.5h.9m-.9 .5h.9m-.9 1h.9m-.9 .5h.9m-.9 1h.9m-.9 1.5h.9m-.9 .5h.9m-.9 1h.9m-.9 .5h.9m-.9 .5h.9m-.9 1.5h.9m-.9 .5h.9m-.9 2.5h.9m-.9 1h.9m-.4-24.5h.9m-.9 4.5h.9m-.9 .5h.9m-.9 .5h.9m-.9 .5h.9m-.9 2h.9m-.9 5h.9m-.9 4h.9m-.9 1h.9m-.9 .5h.9m-.9 1h.9m-.9 10h.9m-.4-32.5h.9m-.9 3.5h.9m-.9 4h.9m-.9 .5h.9m-.9 1.5h.9m-.9 2.5h.9m-.9 3h.9m-.9 1.5h.9m-.9 .5h.9m-.9 2.5h.9m-.9 1h.9m-.9 1.5h.9m-.9 .5h.9m-.9 1h.9m-.4-19.5h.9m-.9 1.5h.9m-.9 .5h.9m-.9 1h.9m-.9 .5h.9m-.9 1.5h.9m-.9 2h.9m-.9 1h.9m-.9 3.5h.9m-.9 2h.9m-.9 .5h.9m-.9 .5h.9m-.9 2.5h.9m-.9 .5h.9m-.9 .5h.9m-.9 1.5h.9m-.9 2h.9m-.4-19.5h.9m-.9 .5h.9m-.9 1h.9m-.9 1h.9m-.9 .5h.9m-.9 2h.9m-.9 1h.9m-.9 3.5h.9m-.9 1h.9m-.9 .5h.9m-.9 1h.9m-.9 2.5h.9m-.9 1h.9m-.9 1h.9m-.9 1h.9m-.9 1.5h.9m-.4-26h.9m-.9 8h.9m-.9 2.5h.9m-.9 .5h.9m-.9 2h.9m-.9 3.5h.9m-.9 2.5h.9m-.9 .5h.9m-.9 .5h.9m-.9 .5h.9m-.9 .5h.9m-.9 1h.9m-.9 .5h.9m-.9 2.5h.9m-.4-21.5h.9m-.9 4.5h.9m-.9 2h.9m-.9 1h.9m-.9 1h.9m-.9 .5h.9m-.9 3h.9m-.9 .5h.9m-.9 1.5h.9m-.9 1.5h.9m-.9 2.5h.9m-.9 1h.9m-.9 2h.9m-.4-19.5h.9m-.9 .5h.9m-.9 .5h.9m-.9 1.5h.9m-.9 1h.9m-.9 1.5h.9m-.9 1.5h.9m-.9 .5h.9m-.9 .5h.9m-.9 .5h.9m-.9 .5h.9m-.9 3h.9m-.9 2h.9m-.9 .5h.9m-.9 .5h.9m-.9 2h.9m-.9 1h.9m-.9 .5h.9m-.9 1h.9m-.9 1h.9m-.9 1h.9m-.4-19.5h.9m-.9 .5h.9m-.9 1.5h.9m-.9 .5h.9m-.9 1h.9m-.9 .5h.9m-.9 2.5h.9m-.9 2.5h.9m-.9 .5h.9m-.9 2h.9m-.9 5h.9m-.9 4.5h.9m-.9 1h.9m-.4-27h.9m-.9 3.5h.9m-.9 2h.9m-.9 1.5h.9m-.9 .5h.9m-.9 .5h.9m-.9 4h.9m-.9 .5h.9m-.9 .5h.9m-.9 3h.9m-.9 2h.9m-.9 2h.9m-.9 .5h.9m-.9 1.5h.9m-.9 .5h.9m-.9 1h.9m-.9 5.5h.9m-.4-24h.9m-.9 .5h.9m-.9 .5h.9m-.9 2.5h.9m-.9 1.5h.9m-.9 .5h.9m-.9 .5h.9m-.9 1h.9m-.9 .5h.9m-.9 5.5h.9m-.9 .5h.9m-.9 .5h.9m-.9 1h.9m-.9 1h.9m-.9 1h.9m-.9 .5h.9m-.9 .5h.9m-.9 .5h.9m-.9 .5h.9m-.4-29h.9m-.9 10.5h.9m-.9 1h.9m-.9 2.5h.9m-.9 .5h.9m-.9 .5h.9m-.9 3h.9m-.9 1.5h.9m-.9 1h.9m-.9 1h.9m-.9 2h.9m-.9 1h.9m-.9 1h.9m-.9 .5h.9m-.9 1h.9m-.9 .5h.9m-.9 1h.9m-.9 2.5h.9m-.4-29.5h.9m-.9 7h.9m-.9 1h.9m-.9 1h.9m-.9 1h.9m-.9 .5h.9m-.9 .5h.9m-.9 2.5h.9m-.9 1h.9m-.9 2h.9m-.9 2.5h.9m-.9 .5h.9m-.9 1h.9m-.9 2.5h.9m-.9 .5h.9m-.9 .5h.9m-.9 1.5h.9m-.4-21.5h.9m-.9 3.5h.9m-.9 1h.9m-.9 .5h.9m-.9 1h.9m-.9 .5h.9m-.9 1h.9m-.9 .5h.9m-.9 .5h.9m-.9 1.5h.9m-.9 .5h.9m-.9 1h.9m-.9 2.5h.9m-.9 1h.9m-.9 1h.9m-.9 1.5h.9m-.9 1h.9m-.9 1.5h.9m-.9 .5h.9m-.9 .5h.9m-.9 1.5h.9m-.9 2.5h.9m-.4-18.5h.9m-.9 1h.9m-.9 1h.9m-.9 .5h.9m-.9 2.5h.9m-.9 1h.9m-.9 .5h.9m-.9 1.5h.9m-.9 .5h.9m-.9 4.5h.9m-.9 .5h.9m-.9 .5h.9m-.9 .5h.9m-.4-11h.9m-.9 .5h.9m-.9 2h.9m-.9 .5h.9m-.9 1.5h.9m-.9 1.5h.9m-.9 1h.9m-.9 1h.9m-.9 3h.9m-.9 3h.9m-.4-17h.9m-.9 2.5h.9m-.9 2h.9m-.9 1.5h.9m-.9 .5h.9m-.9 1.5h.9m-.9 5h.9m-.4-13.5h.9m-.9 3h.9m-.9 1h.9m-.9 .5h.9m-.9 5.5h.9m-.9 2.5h.9m-.9 1.5h.9m-.4-9.5h.9m-.9 .5h.9m-.9 6h.9m-.4-8h.9m-.9 7h.9m-.9 3h.9m-.9 3h.9m-.4-14.5h.9m-.9 1h.9m-.9 9.5h.9m-.4-16h.9m-.9 3.5h.9m-.9 3.5h.9m-.9 1.5h.9m-.9 1h.9m-.9 3h.9m-.9 1.5h.9m-.9 1.5h.9m-.4-9.5h.9m-.9 3h.9m-.9 4.5h.9m-.4-11h.9m-.9 2h.9m-.9 1h.9m-.9 2.5h.9m-.9 1h.9m-.9 2h.9m-.9 3h.9m-.9 2h.9m-.9 1h.9m-.9 .5h.9m-.4-10.5h.9m-.9 1h.9m-.9 5.5h.9m-.9 4.5h.9m-.4-11h.9m-.9 .5h.9m-.9 11h.9m-.4-14.5h.9m-.9 1.5h.9m-.9 1h.9m-.9 2h.9m-.9 1h.9m-.9 5h.9m-.9 1.5h.9m-.9 1h.9m-.4-9.5h.9m-.9 1.5h.9m-.9 4h.9m-.9 1.5h.9m-.9 4.5h.9m-.4-17h.9m-.9 1.5h.9m-.9 7h.9m-.9 6.5h.9m-.4-14.5h.9m-.9 6.5h.9m-.9 .5h.9m-.9 6.5h.9m-.9 1h.9m-.4-11h.9m-.9 2.5h.9m-.4-.5h.9m-.9 .5h.9m-.9 6.5h.9m-.9 2h.9m-.4-12h.9m-.9 .5h.9m-.9 2.5h.9m-.9 1h.9m-.9 .5h.9m-.9 4h.9m-.9 2h.9m-.9 .5h.9m-.4-7h.9m-.9 .5h.9m-.9 2.5h.9m-.9 .5h.9m-.9 1h.9m-.9 5h.9m-.4-13h.9m-.9 .5h.9m-.9 .5h.9m-.9 1.5h.9m-.9 .5h.9m-.9 2h.9m-.9 1.5h.9m-.9 4.5h.9m-.4-11h.9m-.9 .5h.9m-.9 3h.9m-.9 1h.9m-.9 6h.9m-.9 .5h.9m-.9 2h.9m-.4-7h.9m-.9 2h.9m-.4 8h.9m-.4-19h.9m-.9 7h.9m-.9 .5h.9m-.9 2.5h.9m-.9 4.5h.9m-.4-13h.9m-.9 5h.9m-.9 2h.9m-.9 4.5h.9m-.4-9h.9m-.9 2h.9m-.4-3h.9m-.9 4h.9m-.9 .5h.9m-.9 2h.9m-.9 .5h.9m-.9 1.5h.9m-.9 2h.9m-.4-13.5h.9m-.9 10h.9m-.9 4h.9m-.9 1h.9m-.9 1h.9m-.4-9h.9m-.9 .5h.9m-.9 1h.9m-.9 1.5h.9m-.4-6h.9m-.9 4.5h.9m-.9 3.5h.9m-.9 2.5h.9m-.9 2h.9m-.4-12.5h.9m-.9 .5h.9m-.9 4h.9m-.9 3.5h.9m-.9 4h.9m-.4-11h.9m-.9 2.5h.9m-.9 .5h.9m-.9 4h.9m-.4-7h.9m-.9 1.5h.9m-.9 6h.9m-.4-7h.9m-.9 .5h.9m-.9 3.5h.9m-.9 5.5h.9m-.4-9.5h.9m-.9 5.5h.9m-.9 1.5h.9m-.9 .5h.9m-.9 1h.9m-.4-4.5h.9m-.9 4.5h.9m-.4-6.5h.9m-.9 1.5h.9m-.9 1.5h.9m-.9 5h.9m-.4-9h.9m-.9 .5h.9m-.9 1h.9m-.9 7.5h.9m-.4-8.5h.9m-.9 4h.9m-.9 1.5h.9m-.9 1h.9m-.4-7.5h.9m-.9 1.5h.9m-.9 .5h.9m-.4-4h.9m-.9 1h.9m-.9 2h.9m-.9 .5h.9m-.9 2.5h.9m-.9 1h.9m-.9 .5h.9m-.9 1.5h.9m-.4-3.5h.9m-.9 4h.9m-.9 .5h.9m-.4-8h.9m-.9 .5h.9m-.9 .5h.9m-.9 .5h.9m-.9 .5h.9m-.9 .5h.9m-.9 1h.9m-.9 3.5h.9m-.4-8.5h.9m-.9 3h.9m-.9 4h.9m-.9 1h.9m-.4-10.5h.9m-.9 4h.9m-.9 2.5h.9m-.9 .5h.9m-.9 3h.9m-.9 .5h.9m-.9 2.5h.9m-.9 .5h.9m-.4-9.5h.9m-.9 1h.9m-.9 3h.9m-.9 .5h.9m-.9 2h.9m-.9 2h.9m-.4-7.5h.9m-.9 .5h.9m-.9 2h.9m-.9 4h.9m-.9 1h.9m-.4-4.5h.9m-.9 3.5h.9m-.4-5h.9m-.9 .5h.9m-.9 3.5h.9m-.9 2h.9m-.4-10.5h.9m-.9 3.5h.9m-.9 3.5h.9m-.9 1.5h.9m-.4-6h.9m-.9 .5h.9m-.9 1h.9m-.9 .5h.9m-.9 4h.9m-.9 .5h.9m-.4-10h.9m-.9 2h.9m-.9 1.5h.9m-.9 4h.9m-.9 .5h.9m-.4-4h.9m-.9 .5h.9m-.9 1h.9m-.9 4h.9m-.9 1h.9m-.4-1h.9m-.9 .5h.9m-.4-5.5h.9m-.9 .5h.9m-.9 .5h.9m-.9 2.5h.9m-.9 1.5h.9m-.9 .5h.9m-.9 2h.9m-.4-9h.9m-.9 2h.9m-.9 .5h.9m-.9 1.5h.9m-.9 1h.9m-.9 .5h.9m-.9 1h.9m-.9 2.5h.9m-.4-7.5h.9m-.9 2h.9m-.9 2.5h.9m-.9 .5h.9m-.9 1.5h.9m-.9 1h.9m-.9 .5h.9m-.4-10.5h.9m-.9 1.5h.9m-.9 1.5h.9m-.4 1.5h.9m-.9 1h.9m-.9 2h.9m-.4-5h.9m-.9 2.5h.9m-.9 .5h.9m-.9 .5h.9m-.9 1.5h.9m-.4-4h.9m-.9 2h.9m-.9 2h.9m-.4-8h.9m-.9 3h.9m-.9 .5h.9m-.9 .5h.9m-.9 2.5h.9m-.4-5h.9m-.9 1.5h.9m-.9 1h.9m-.9 4h.9m-.4-7h.9m-.9 1h.9m-.9 .5h.9m-.9 4.5h.9m-.9 1h.9m-.4-8.5h.9m-.9 4.5h.9m-.9 2.5h.9m-.4-4h.9m-.9 1h.9m-.9 .5h.9m-.9 1.5h.9m-.4-5h.9m-.9 .5h.9m-.9 1h.9m-.9 2h.9m-.9 9.5h.9m-.4-13h.9m-.9 1h.9m-.9 2h.9m-.9 .5h.9m-.9 3.5h.9m-.9 1.5h.9m-.9 1h.9m-.4-5.5h.9m-.9 1h.9m-.9 .5h.9m-.9 5h.9m-.4-8h.9m-.9 1h.9m-.9 .5h.9m-.9 2.5h.9m-.9 1h.9m-.9 .5h.9m-.4-8h.9m-.9 6h.9m.1-3h.9m-.4-1h.9m-.9 2.5h.9m-.9 2.5h.9m-.4-6h.9m-.9 .5h.9m-.9 3.5h.9m-.9 .5h.9m-.9 .5h.9m-.9 1.5h.9m-.4-8h.9m-.9 2h.9m-.9 1h.9m-.9 3h.9m-.4-3h.9m-.9 1h.9m-.9 .5h.9m-.9 .5h.9m-.4-2.5h.9m-.9 .5h.9m-.9 1.5h.9m-.9 3h.9m-.4 1h.9m-.4-7.5h.9m-.9 1.5h.9m-.9 1.5h.9m-.9 .5h.9m-.9 .5h.9m-.4-2h.9m-.9 1h.9m-.9 .5h.9m-.9 1h.9m-.9 .5h.9m-.4-3h.9m-.9 .5h.9m-.9 .5h.9m-.4 0h.9m-.9 3h.9m-.9 .5h.9m-.9 1h.9m-.4-5.5h.9m-.9 1h.9m-.9 2h.9m-.9 1.5h.9m-.9 .5h.9m-.4-4h.9m-.9 .5h.9m-.9 1.5h.9m-.9 .5h.9m-.9 2.5h.9m-.4-7h.9m-.9 .5h.9m-.9 2.5h.9m-.9 2.5h.9m-.4-3.5h.9m-.9 3h.9m-.4-3h.9m-.9 2h.9m-.9 1h.9m-.4-6h.9m-.9 2.5h.9m-.9 .5h.9m-.9 2h.9m-.4-3.5h.9m-.9 .5h.9m-.9 .5h.9m-.9 .5h.9m-.9 2h.9m-.4-3h.9m-.9 .5h.9m-.9 .5h.9m-.9 1.5h.9m-.4-1.5h.9m-.9 .5h.9m-.9 2h.9m-.9 .5h.9m-.9 1.5h.9m-.4-7h.9m-.9 2h.9m-.9 .5h.9m-.9 1.5h.9m-.9 .5h.9m-.4-2h.9m-.9 .5h.9m-.9 .5h.9m-.9 .5h.9m-.9 1h.9m-.9 1.5h.9m-.4-5.5h.9m-.9 2.5h.9m-.9 2.5h.9m-.4-5h.9m-.9 1h.9m-.9 .5h.9m-.9 1.5h.9m-.9 1.5h.9m-.9 .5h.9m-.4-4h.9m-.9 .5h.9m-.9 .5h.9m-.9 1h.9m-.9 .5h.9m-.9 .5h.9m-.9 1.5h.9m-.4-5h.9m-.9 1.5h.9m-.9 3h.9m-.4-4h.9m-.9 1h.9m-.9 .5h.9m-.9 2h.9m-.4-3h.9m-.9 2h.9m-.9 1h.9m-.9 .5h.9m-.4-4h.9m-.9 .5h.9m-.9 1.5h.9m-.4-1.5h.9m-.9 .5h.9m-.9 1h.9m-.9 1.5h.9m-.9 1.5h.9m-.4-5.5h.9m-.9 .5h.9m-.9 1h.9m-.9 2.5h.9m-.9 1h.9m-.4-1.5h.9m-.9 1h.9m-.4-4h.9m-.9 1h.9m-.9 2.5h.9m-.4-4h.9m-.9 .5h.9m-.9 1.5h.9m-.9 2h.9m-.9 .5h.9m-.9 .5h.9m-.4-4.5h.9m-.9 .5h.9m-.9 .5h.9m-.9 1.5h.9m-.9 .5h.9m-.9 .5h.9m-.9 2h.9m-.4-5.5h.9m-.4 3.5h.9m-.4-4h.9m-.9 .5h.9m-.9 .5h.9m-.9 .5h.9m-.9 1.5h.9m-.4-4h.9m-.9 .5h.9m-.9 1h.9m-.9 .5h.9m-.9 2h.9m-.9 .5h.9m-.4-2h.9m-.4-1.5h.9m-.9 .5h.9m-.9 1h.9m-.9 1h.9m-.9 1.5h.9m-.9 .5h.9m-.4-4h.9m-.9 1h.9m-.9 .5h.9m-.9 .5h.9m-.9 1h.9m-.9 .5h.9m-.4-4h.9m-.9 2.5h.9m-.4-2.5h.9m-.9 2h.9m-.9 2h.9m-.4-1.5h.9m-.4-1h.9m-.9 2h.9m-.9 .5h.9m-.9 .5h.9m-.4-4.5h.9m-.9 4.5h.9m-.4-3.5h.9m-.9 .5h.9m-.9 1.5h.9m-.9 1h.9m-.9 .5h.9m-.4-3.5h.9m-.9 1h.9m-.4-.5h.9m-.4-2h.9m-.9 1.5h.9m-.9 1h.9m-.9 .5h.9m-.9 1h.9m-.9 .5h.9m-.4-2h.9m-.9 .5h.9m-.9 .5h.9m-.9 .5h.9m-.9 1h.9m-.4-4h.9m-.9 .5h.9m-.9 .5h.9m-.9 .5h.9m-.9 1h.9m-.4-2.5h.9m-.9 2.5h.9m-.9 1.5h.9m-.4-4h.9m-.9 .5h.9m-.9 3h.9m-.4-2h.9m-.9 1.5h.9m-.9 1.5h.9m-.4-3.5h.9m-.9 .5h.9m-.4 0h.9m-.9 .5h.9m-.9 1h.9m-.4-.5h.9m-.4-1.5h.9m-.9 .5h.9m-.9 1h.9m-.9 .5h.9m-.4-2.5h.9m-.9 .5h.9m-.9 .5h.9m-.9 1h.9m-.9 1h.9m-.4-3h.9m-.9 .5h.9m-.9 .5h.9m-.9 1h.9m-.9 .5h.9m-.4-2.5h.9m-.9 1h.9m-.9 1h.9m-.9 .5h.9m-.4-2.5h.9m-.9 .5h.9m-.9 1h.9m-.4-1h.9m-.9 1h.9m-.4 .5h.9m-.9 1h.9m-.4-2.5h.9m-.9 .5h.9m-.9 1.5h.9m-.9 .5h.9m-.9 .5h.9m-.9 .5h.9m-.4-2.5h.9m-.9 1.5h.9m-.9 .5h.9m-.4-4h.9m-.9 .5h.9m-.9 .5h.9m-.9 .5h.9m-.9 1h.9m-.9 .5h.9m-.9 1h.9m-.4-3h.9m-.9 .5h.9m-.9 1h.9m-.4-2h.9m-.9 2.5h.9m-.4-3h.9m-.9 1h.9m-.9 1.5h.9m-.9 .5h.9m-.9 .5h.9m-.4-2.5h.9m-.9 1.5h.9m-.9 .5h.9m-.4-1.5h.9m-.9 .5h.9m-.9 .5h.9m-.9 1h.9m-.4-3.5h.9m-.9 3.5h.9m-.4-3.5h.9m-.9 1.5h.9m-.9 1.5h.9m-.4-2h.9m-.9 .5h.9m-.9 .5h.9m-.9 .5h.9m-.4 1.5h.9m-.4-4h.9m-.9 1.5h.9m-.9 1h.9m-.4-1h.9m-.4 0h.9m-.9 2h.9m-.4-4h.9m-.9 1.5h.9m-.9 1.5h.9m-.9 .5h.9m-.4-1.5h.9m-.9 .5h.9m-.9 1h.9m-.4-2.5h.9m-.9 .5h.9m-.9 .5h.9m-.9 1.5h.9m-.9 .5h.9m-.4-1h.9" stroke="#8a8a8a" stroke-width="0.9" fill="none"/><path d="M201.5 29h.9m-.9 5.5h.9m-.9 4h.9m-.9 1.5h.9m-.4-11h.9m-.9 1.5h.9m-.9 5h.9m-.9 1h.9m-.9 .5h.9m-.9 .5h.9m-.9 1.5h.9m1.1 6.5h.9m-.4-1.5h.9m-.9 7.5h.9m-.9 2h.9m-.4-12.5h.9m-.9 7.5h.9m-.4-8.5h.9m-.9 12h.9m-.9 .5h.9m-.9 2.5h.9m-.4-5h.9m-.9 3.5h.9m-.9 .5h.9m-.4-10h.9m-.4-2.5h.9m-.9 11.5h.9m-.9 .5h.9m-.4-6.5h.9m-.4-5.5h.9m-.9 10.5h.9m-.9 3.5h.9m-.4-17h.9m-.9 2h.9m-.9 12.5h.9m-.4-14.5h.9m-.4 7h.9m.1-2.5h.9m-.9 1.5h.9m-.9 2h.9m-.9 7h.9m-.9 3h.9m-.4-18.5h.9m-.9 1h.9m-.9 2h.9m-.4-5.5h.9m-.4 2.5h.9m-.9 2h.9m-.9 10.5h.9m-.9 1.5h.9m-.4-15h.9m-.4-1.5h.9m-.9 5.5h.9m-.9 13h.9m-.9 .5h.9m-.4-4.5h.9m-.9 4h.9m-.9 1.5h.9m-.4-16h.9m-.9 6.5h.9m-.9 .5h.9m-.9 1h.9m-.9 4h.9m-.4 2h.9m-.4-14.5h.9m-.9 7h.9m-.4-8.5h.9m-.4-5h.9m-.9 1h.9m-.9 19.5h.9m-.4-18.5h.9m-.9 14h.9m-.9 2.5h.9m-.9 3.5h.9m-.4-20.5h.9m-.9 14h.9m-.9 7h.9m-.4-1h.9m-.9 .5h.9m-.9 .5h.9m-.4-7.5h.9m-.9 .5h.9m-.4-12h.9m-.9 12.5h.9m-.4 2.5h.9m-.9 1h.9m-.4-12.5h.9m-.4 12h.9m-.4-23h.9m-.4 .5h.9m-.4 18h.9m-.4-3h.9m-.9 9.5h.9m-.4-13h.9m-.9 5.5h.9m-.9 .5h.9m-.9 6h.9m-.9 1.5h.9m-.9 2h.9m-.4-26.5h.9m-.9 21.5h.9m-.9 .5h.9m-.4-18h.9m-.9 4.5h.9m-.9 10h.9m-.9 1.5h.9m-.9 1.5h.9m-.4-23h.9m-.9 .5h.9m-.9 17h.9m-.9 3.5h.9m-.9 5h.9m-.4-26.5h.9m-.9 18h.9m-.9 6.5h.9m-.9 4.5h.9m-.9 .5h.9m-.9 1.5h.9m-.4-29.5h.9m-.9 6h.9m-.9 1h.9m-.9 6.5h.9m-.9 8.5h.9m-.9 4h.9m-.9 1h.9m-.9 3h.9m-.4-16h.9m-.9 1h.9m-.9 1.5h.9m-.9 .5h.9m-.9 1.5h.9m-.9 1h.9m-.9 1h.9m-.4-24h.9m-.9 15h.9m-.9 1.5h.9m-.9 1.5h.9m-.9 9h.9m-.4-20.5h.9m-.9 2h.9m-.9 3h.9m-.9 13h.9m-.9 2h.9m-.9 5.5h.9m-.9 1h.9m-.9 .5h.9m-.4-25.5h.9m-.9 12h.9m-.9 .5h.9m-.9 5.5h.9m-.9 3h.9m-.9 4.5h.9m-.4-32.5h.9m-.9 .5h.9m-.9 3.5h.9m-.9 10h.9m-.9 3.5h.9m-.9 11.5h.9m-.9 2h.9m-.4-35h.9m-.9 1.5h.9m-.9 .5h.9m-.9 18h.9m-.9 1h.9m-.9 5.5h.9m-.9 1.5h.9m-.9 2.5h.9m-.9 3.5h.9m-.9 .5h.9m-.9 1h.9m-.9 1h.9m-.9 .5h.9m-.4-34h.9m-.9 10h.9m-.9 2.5h.9m-.9 6.5h.9m-.9 1h.9m-.9 1h.9m-.9 8.5h.9m-.9 2.5h.9m-.9 1h.9m-.9 1.5h.9m-.4-33h.9m-.9 10.5h.9m-.9 3.5h.9m-.9 3h.9m-.9 4.5h.9m-.9 4h.9m-.9 2h.9m-.9 1h.9m-.9 4.5h.9m-.4-34h.9m-.9 1h.9m-.9 11h.9m-.9 2h.9m-.9 2.5h.9m-.9 1h.9m-.9 4h.9m-.9 6.5h.9m-.9 1h.9m-.9 1h.9m-.9 2.5h.9m-.4-30h.9m-.9 .5h.9m-.9 5.5h.9m-.9 1h.9m-.9 2.5h.9m-.9 2h.9m-.9 1.5h.9m-.9 3h.9m-.9 4h.9m-.9 .5h.9m-.9 .5h.9m-.9 .5h.9m-.9 5h.9m-.9 2h.9m-.9 1h.9m-.9 1h.9m-.9 .5h.9m-.9 1h.9m-.4-32h.9m-.9 2h.9m-.9 23.5h.9m-.9 1.5h.9m-.9 3.5h.9m-.9 .5h.9m-.4-38h.9m-.9 15h.9m-.9 7.5h.9m-.9 2h.9m-.9 1.5h.9m-.9 2h.9m-.9 .5h.9m-.9 4.5h.9m-.9 1.5h.9m-.9 .5h.9m-.9 2.5h.9m-.4-30h.9m-.9 7.5h.9m-.9 2.5h.9m-.9 5h.9m-.9 4h.9m-.9 2h.9m-.9 .5h.9m-.9 2.5h.9m-.9 1.5h.9m-.9 4h.9m-.9 .5h.9m-.4-21h.9m-.9 1.5h.9m-.9 1h.9m-.9 2.5h.9m-.9 4.5h.9m-.9 4h.9m-.9 4h.9m-.9 3.5h.9m-.4-31.5h.9m-.9 .5h.9m-.9 2.5h.9m-.9 12h.9m-.9 2.5h.9m-.9 4.5h.9m-.9 2h.9m-.9 7.5h.9m-.4-47h.9m-.9 9.5h.9m-.9 11.5h.9m-.9 5h.9m-.9 9h.9m-.9 1.5h.9m-.9 .5h.9m-.9 5h.9m-.9 2h.9m-.9 2.5h.9m-.9 1.5h.9m-.4-34.5h.9m-.9 20h.9m-.9 1h.9m-.9 5h.9m-.9 .5h.9m-.9 1h.9m-.9 .5h.9m-.9 1h.9m-.9 .5h.9m-.9 .5h.9m-.9 3.5h.9m-.9 .5h.9m-.4-22h.9m-.9 1h.9m-.9 4.5h.9m-.9 5h.9m-.9 1.5h.9m-.9 3.5h.9m-.9 1.5h.9m-.9 1h.9m-.9 1.5h.9m-.9 1h.9m-.9 .5h.9m-.9 .5h.9m-.9 1.5h.9m-.9 1h.9m-.4-29h.9m-.9 .5h.9m-.9 2h.9m-.9 4.5h.9m-.9 .5h.9m-.9 1.5h.9m-.9 2h.9m-.9 1h.9m-.9 7.5h.9m-.9 1.5h.9m-.9 1h.9m-.9 .5h.9m-.9 2h.9m-.9 1h.9m-.9 .5h.9m-.9 1.5h.9m-.9 1h.9m-.9 .5h.9m-.4-49h.9m-.9 24.5h.9m-.9 4.5h.9m-.9 2.5h.9m-.9 3h.9m-.9 1.5h.9m-.9 1h.9m-.9 1.5h.9m-.9 1.5h.9m-.9 1.5h.9m-.9 1h.9m-.9 .5h.9m-.9 5.5h.9m-.9 .5h.9m-.4-40.5h.9m-.9 5.5h.9m-.9 1.5h.9m-.9 3.5h.9m-.9 12h.9m-.9 2h.9m-.9 2.5h.9m-.9 1h.9m-.9 .5h.9m-.9 5h.9m-.9 .5h.9m-.9 1h.9m-.9 .5h.9m-.9 .5h.9m-.9 1.5h.9m-.9 1h.9m-.9 2h.9m-.9 .5h.9m-.4-39.5h.9m-.9 7h.9m-.9 4.5h.9m-.9 2h.9m-.9 2.5h.9m-.9 1h.9m-.9 1h.9m-.9 2.5h.9m-.9 2.5h.9m-.9 .5h.9m-.9 3h.9m-.9 2h.9m-.9 .5h.9m-.9 2h.9m-.9 1.5h.9m-.9 .5h.9m-.9 .5h.9m-.9 .5h.9m-.9 .5h.9m-.9 .5h.9m-.9 2h.9m-.9 .5h.9m-.9 1.5h.9m-.9 .5h.9m-.4-43.5h.9m-.9 13.5h.9m-.9 4h.9m-.9 6h.9m-.9 .5h.9m-.9 4.5h.9m-.9 1h.9m-.9 1h.9m-.9 1h.9m-.9 1h.9m-.9 1h.9m-.9 .5h.9m-.9 .5h.9m-.9 1h.9m-.9 1.5h.9m-.9 2h.9m-.9 .5h.9m-.9 1.5h.9m-.9 .5h.9m-.9 .5h.9m-.9 .5h.9m-.9 .5h.9m-.4-34h.9m-.9 5h.9m-.9 9h.9m-.9 2h.9m-.9 .5h.9m-.9 4.5h.9m-.9 1.5h.9m-.9 .5h.9m-.9 1.5h.9m-.9 1.5h.9m-.9 1h.9m-.9 1h.9m-.9 1h.9m-.9 .5h.9m-.9 1.5h.9m-.9 .5h.9m-.9 .5h.9m-.9 .5h.9m-.9 .5h.9m-.9 .5h.9m-.9 .5h.9m-.4-26h.9m-.9 1h.9m-.9 2.5h.9m-.9 1.5h.9m-.9 3h.9m-.9 3.5h.9m-.9 1.5h.9m-.9 3h.9m-.9 2.5h.9m-.9 1h.9m-.9 1.5h.9m-.9 1.5h.9m-.9 3.5h.9m-.9 .5h.9m-.4-23.5h.9m-.9 2h.9m-.9 5.5h.9m-.9 .5h.9m-.9 1h.9m-.9 .5h.9m-.9 1h.9m-.9 2h.9m-.9 1.5h.9m-.9 1h.9m-.9 .5h.9m-.9 .5h.9m-.9 1h.9m-.9 1h.9m-.9 .5h.9m-.9 .5h.9m-.9 2h.9m-.9 1.5h.9m-.4-41.5h.9m-.9 6.5h.9m-.9 1.5h.9m-.9 .5h.9m-.9 2.5h.9m-.9 3.5h.9m-.9 5.5h.9m-.9 2.5h.9m-.9 3.5h.9m-.9 1h.9m-.9 2.5h.9m-.9 2.5h.9m-.9 1.5h.9m-.9 2.5h.9m-.9 1h.9m-.9 1h.9m-.9 .5h.9m-.9 2h.9m-.9 1.5h.9m-.4-43h.9m-.9 10.5h.9m-.9 8.5h.9m-.9 1.5h.9m-.9 2.5h.9m-.9 1h.9m-.9 2.5h.9m-.9 4h.9m-.9 1.5h.9m-.9 .5h.9m-.9 .5h.9m-.9 2.5h.9m-.9 .5h.9m-.9 1h.9m-.9 1h.9m-.9 2h.9m-.9 2h.9m-.9 1h.9m-.9 1h.9m-.4-38h.9m-.9 11h.9m-.9 1h.9m-.9 3.5h.9m-.9 4.5h.9m-.9 1.5h.9m-.9 .5h.9m-.9 1.5h.9m-.9 .5h.9m-.9 1h.9m-.9 1.5h.9m-.9 .5h.9m-.9 .5h.9m-.9 .5h.9m-.9 2.5h.9m-.9 .5h.9m-.9 1h.9m-.9 1.5h.9m-.9 1.5h.9m-.9 .5h.9m-.9 .5h.9m-.9 .5h.9m-.4-41h.9m-.9 3h.9m-.9 14h.9m-.9 2h.9m-.9 3.5h.9m-.9 2h.9m-.9 3.5h.9m-.9 2h.9m-.9 1h.9m-.9 1h.9m-.9 1h.9m-.9 3h.9m-.9 .5h.9m-.9 1.5h.9m-.9 1h.9m-.9 1h.9m-.9 2h.9m-.9 .5h.9m-.4-42.5h.9m-.9 2h.9m-.9 2.5h.9m-.9 .5h.9m-.9 8h.9m-.9 6.5h.9m-.9 1h.9m-.9 2h.9m-.9 5h.9m-.9 1h.9m-.9 1.5h.9m-.9 6h.9m-.9 .5h.9m-.9 .5h.9m-.9 1h.9m-.9 .5h.9m-.9 .5h.9m-.9 .5h.9m-.9 1h.9m-.9 1.5h.9m-.4-31h.9m-.9 7.5h.9m-.9 4.5h.9m-.9 1h.9m-.9 2h.9m-.9 4.5h.9m-.9 .5h.9m-.9 1h.9m-.9 1h.9m-.9 2h.9m-.9 2h.9m-.9 .5h.9m-.9 2h.9m-.9 1h.9m-.9 .5h.9m-.9 .5h.9m-.9 .5h.9m-.9 .5h.9m-.9 .5h.9m-.4-45.5h.9m-.9 7h.9m-.9 1h.9m-.9 8.5h.9m-.9 5.5h.9m-.9 .5h.9m-.9 1h.9m-.9 1h.9m-.9 1.5h.9m-.9 1h.9m-.9 .5h.9m-.9 1h.9m-.9 .5h.9m-.9 .5h.9m-.9 .5h.9m-.9 1.5h.9m-.9 2h.9m-.9 2h.9m-.9 .5h.9m-.9 .5h.9m-.9 2h.9m-.9 1.5h.9m-.9 .5h.9m-.9 3h.9m-.9 1.5h.9m-.4-43.5h.9m-.9 10h.9m-.9 2.5h.9m-.9 5h.9m-.9 2h.9m-.9 .5h.9m-.9 1h.9m-.9 1h.9m-.9 1h.9m-.9 1.5h.9m-.9 .5h.9m-.9 1h.9m-.9 3.5h.9m-.9 3h.9m-.9 1.5h.9m-.9 1h.9m-.9 .5h.9m-.9 .5h.9m-.9 .5h.9m-.9 2h.9m-.9 .5h.9m-.9 1.5h.9m-.9 1.5h.9m-.9 .5h.9m-.9 .5h.9m-.9 .5h.9m-.4-44.5h.9m-.9 13h.9m-.9 3.5h.9m-.9 4h.9m-.9 5h.9m-.9 4h.9m-.9 .5h.9m-.9 .5h.9m-.9 .5h.9m-.9 3h.9m-.9 3.5h.9m-.9 2h.9m-.9 1h.9m-.9 .5h.9m-.9 .5h.9m-.9 .5h.9m-.9 .5h.9m-.9 1h.9m-.9 .5h.9m-.9 .5h.9m-.4-43.5h.9m-.9 6h.9m-.9 1.5h.9m-.9 8h.9m-.9 1h.9m-.9 5h.9m-.9 3.5h.9m-.9 3h.9m-.9 .5h.9m-.9 .5h.9m-.9 1h.9m-.9 1h.9m-.9 .5h.9m-.9 1h.9m-.9 .5h.9m-.9 1h.9m-.9 .5h.9m-.9 1h.9m-.9 .5h.9m-.9 2h.9m-.9 3.5h.9m-.9 .5h.9m-.9 1.5h.9m-.4-36h.9m-.9 2.5h.9m-.9 4.5h.9m-.9 3.5h.9m-.9 1h.9m-.9 2h.9m-.9 7.5h.9m-.9 1h.9m-.9 2h.9m-.9 1.5h.9m-.9 .5h.9m-.9 .5h.9m-.9 3.5h.9m-.9 .5h.9m-.9 1h.9m-.9 1h.9m-.9 .5h.9m-.9 1h.9m-.9 .5h.9m-.9 .5h.9m-.9 .5h.9m-.9 .5h.9m-.9 .5h.9m-.4-51h.9m-.9 8h.9m-.9 4.5h.9m-.9 9h.9m-.9 3.5h.9m-.9 1h.9m-.9 3.5h.9m-.9 1.5h.9m-.9 1.5h.9m-.9 5h.9m-.9 4.5h.9m-.9 .5h.9m-.9 2.5h.9m-.9 .5h.9m-.9 1h.9m-.9 1h.9m-.9 .5h.9m-.9 1h.9m-.9 2h.9m-.4-40.5h.9m-.9 2.5h.9m-.9 3h.9m-.9 1h.9m-.9 3.5h.9m-.9 1.5h.9m-.9 .5h.9m-.9 3h.9m-.9 3h.9m-.9 1h.9m-.9 1.5h.9m-.9 3h.9m-.9 2h.9m-.9 1h.9m-.9 .5h.9m-.9 2.5h.9m-.9 .5h.9m-.9 .5h.9m-.9 .5h.9m-.9 2h.9m-.9 .5h.9m-.9 2.5h.9m-.9 .5h.9m-.9 .5h.9m-.9 1h.9m-.9 .5h.9m-.9 .5h.9m-.9 1.5h.9m-.4-39h.9m-.9 3h.9m-.9 .5h.9m-.9 4h.9m-.9 .5h.9m-.9 .5h.9m-.9 4.5h.9m-.9 3h.9m-.9 2h.9m-.9 .5h.9m-.9 2h.9m-.9 4h.9m-.9 1h.9m-.9 1.5h.9m-.9 3h.9m-.9 .5h.9m-.9 .5h.9m-.9 .5h.9m-.9 1h.9m-.9 .5h.9m-.9 1.5h.9m-.9 1h.9m-.9 .5h.9m-.9 .5h.9m-.9 .5h.9m-.9 1h.9m-.9 1h.9m-.4-34h.9m-.9 9h.9m-.9 1h.9m-.9 1h.9m-.9 1.5h.9m-.9 3h.9m-.9 1.5h.9m-.9 1h.9m-.9 .5h.9m-.9 1h.9m-.9 1.5h.9m-.9 .5h.9m-.9 1h.9m-.9 1h.9m-.9 1.5h.9m-.9 .5h.9m-.9 1h.9m-.9 .5h.9m-.9 .5h.9m-.9 2h.9m-.9 1h.9m-.9 .5h.9m-.9 .5h.9m-.4-36.5h.9m-.9 3.5h.9m-.9 2.5h.9m-.9 5h.9m-.9 2.5h.9m-.9 1.5h.9m-.9 5h.9m-.9 1.5h.9m-.9 6.5h.9m-.9 1h.9m-.9 2h.9m-.9 1h.9m-.9 1h.9m-.9 3h.9m-.9 .5h.9m-.9 1h.9m-.9 .5h.9m-.4-37h.9m-.9 7h.9m-.9 2h.9m-.9 1.5h.9m-.9 .5h.9m-.9 1h.9m-.9 .5h.9m-.9 2h.9m-.9 4.5h.9m-.9 3h.9m-.9 1.5h.9m-.9 4h.9m-.9 1.5h.9m-.9 .5h.9m-.9 1.5h.9m-.9 1h.9m-.9 1h.9m-.9 .5h.9m-.9 .5h.9m-.9 1h.9m-.9 1.5h.9m-.9 .5h.9m-.9 1.5h.9m-.9 .5h.9m-.4-55h.9m-.9 12.5h.9m-.9 2.5h.9m-.9 17h.9m-.9 6h.9m-.9 1h.9m-.9 2.5h.9m-.9 1h.9m-.9 2h.9m-.9 1.5h.9m-.9 .5h.9m-.9 2h.9m-.9 .5h.9m-.9 1.5h.9m-.9 .5h.9m-.9 1.5h.9m-.9 .5h.9m-.9 1h.9m-.4-54h.9m-.9 4h.9m-.9 2h.9m-.9 3h.9m-.9 6.5h.9m-.9 11.5h.9m-.9 1h.9m-.9 3h.9m-.9 3h.9m-.9 3.5h.9m-.9 .5h.9m-.9 3h.9m-.9 .5h.9m-.9 .5h.9m-.9 1.5h.9m-.9 .5h.9m-.9 2.5h.9m-.9 1h.9m-.9 1h.9m-.9 2h.9m-.9 1h.9m-.9 .5h.9m-.9 .5h.9m-.9 .5h.9m-.9 .5h.9m-.9 1.5h.9m-.4-51.5h.9m-.9 .5h.9m-.9 6.5h.9m-.9 3h.9m-.9 19.5h.9m-.9 2h.9m-.9 4h.9m-.9 .5h.9m-.9 1.5h.9m-.9 1.5h.9m-.9 1h.9m-.9 2h.9m-.9 1.5h.9m-.9 .5h.9m-.9 .5h.9m-.9 .5h.9m-.9 .5h.9m-.9 .5h.9m-.9 1.5h.9m-.9 1h.9m-.9 .5h.9m-.9 .5h.9m-.9 .5h.9m-.9 1h.9m-.4-44.5h.9m-.9 2h.9m-.9 2h.9m-.9 4.5h.9m-.9 2h.9m-.9 5h.9m-.9 .5h.9m-.9 3h.9m-.9 1h.9m-.9 4.5h.9m-.9 .5h.9m-.9 1h.9m-.9 6h.9m-.9 1h.9m-.9 4h.9m-.9 .5h.9m-.9 .5h.9m-.9 1h.9m-.9 .5h.9m-.9 .5h.9m-.9 .5h.9m-.9 1.5h.9m-.9 2.5h.9m-.9 .5h.9m-.4-51h.9m-.9 15.5h.9m-.9 5h.9m-.9 3h.9m-.9 2.5h.9m-.9 4h.9m-.9 6.5h.9m-.9 3h.9m-.9 1.5h.9m-.9 1h.9m-.9 1h.9m-.9 .5h.9m-.9 .5h.9m-.9 .5h.9m-.9 1.5h.9m-.9 .5h.9m-.9 .5h.9m-.9 .5h.9m-.9 .5h.9m-.9 .5h.9m-.4-49.5h.9m-.9 9h.9m-.9 2.5h.9m-.9 13h.9m-.9 4.5h.9m-.9 2.5h.9m-.9 3.5h.9m-.9 2.5h.9m-.9 1.5h.9m-.9 1h.9m-.9 .5h.9m-.9 1h.9m-.9 .5h.9m-.9 .5h.9m-.9 .5h.9m-.9 .5h.9m-.9 1.5h.9m-.9 1.5h.9m-.9 1h.9m-.9 .5h.9m-.9 1h.9m-.9 .5h.9m-.9 1.5h.9m-.4-50h.9m-.9 6.5h.9m-.9 1.5h.9m-.9 7.5h.9m-.9 1.5h.9m-.9 8.5h.9m-.9 1h.9m-.9 1h.9m-.9 5.5h.9m-.9 4h.9m-.9 1h.9m-.9 1.5h.9m-.9 1h.9m-.9 1h.9m-.9 .5h.9m-.9 1h.9m-.9 .5h.9m-.9 .5h.9m-.9 2h.9m-.9 .5h.9m-.9 .5h.9m-.9 1h.9m-.9 .5h.9m-.9 .5h.9m-.9 1.5h.9m-.9 .5h.9m-.9 .5h.9m-.4-45.5h.9m-.9 7.5h.9m-.9 1h.9m-.9 3h.9m-.9 2h.9m-.9 13.5h.9m-.9 2.5h.9m-.9 2.5h.9m-.9 2h.9m-.9 .5h.9m-.9 1h.9m-.9 1.5h.9m-.9 .5h.9m-.9 1h.9m-.9 2h.9m-.9 .5h.9m-.9 1h.9m-.9 .5h.9m-.9 3h.9m-.4-39h.9m-.9 3h.9m-.9 3.5h.9m-.9 3.5h.9m-.9 .5h.9m-.9 3.5h.9m-.9 2h.9m-.9 4.5h.9m-.9 2.5h.9m-.9 2h.9m-.9 2h.9m-.9 .5h.9m-.9 .5h.9m-.9 1.5h.9m-.9 .5h.9m-.9 .5h.9m-.9 .5h.9m-.9 .5h.9m-.9 1h.9m-.9 .5h.9m-.9 1.5h.9m-.9 1.5h.9m-.9 .5h.9m-.4-48h.9m-.9 16h.9m-.9 7.5h.9m-.9 4h.9m-.9 .5h.9m-.9 3h.9m-.9 5.5h.9m-.9 .5h.9m-.9 .5h.9m-.9 1h.9m-.9 .5h.9m-.9 .5h.9m-.9 1h.9m-.9 .5h.9m-.9 .5h.9m-.9 .5h.9m-.9 .5h.9m-.9 .5h.9m-.9 2h.9m-.9 1h.9m-.9 .5h.9m-.9 .5h.9m-.9 .5h.9m-.9 1.5h.9m-.9 1h.9m-.9 .5h.9m-.4-49.5h.9m-.9 17h.9m-.9 3h.9m-.9 .5h.9m-.9 1.5h.9m-.9 6h.9m-.9 4h.9m-.9 1.5h.9m-.9 2.5h.9m-.9 5h.9m-.9 2.5h.9m-.9 .5h.9m-.9 .5h.9m-.9 .5h.9m-.9 .5h.9m-.9 .5h.9m-.9 .5h.9m-.9 .5h.9m-.9 1h.9m-.9 .5h.9m-.9 1h.9m-.4-53h.9m-.9 12.5h.9m-.9 4.5h.9m-.9 1.5h.9m-.9 2h.9m-.9 1h.9m-.9 5h.9m-.9 .5h.9m-.9 3h.9m-.9 .5h.9m-.9 3.5h.9m-.9 1h.9m-.9 1h.9m-.9 1h.9m-.9 .5h.9m-.9 1h.9m-.9 1.5h.9m-.9 1h.9m-.9 3h.9m-.9 1.5h.9m-.9 .5h.9m-.9 1.5h.9m-.9 1.5h.9m-.9 .5h.9m-.9 1h.9m-.9 .5h.9m-.9 1h.9m-.4-40h.9m-.9 8h.9m-.9 4h.9m-.9 8h.9m-.9 3h.9m-.9 1.5h.9m-.9 2h.9m-.9 1h.9m-.9 .5h.9m-.9 3.5h.9m-.9 1h.9m-.9 .5h.9m-.9 .5h.9m-.9 1.5h.9m-.9 1.5h.9m-.9 1h.9m-.9 1h.9m-.9 .5h.9m-.9 .5h.9m-.4-50.5h.9m-.9 8h.9m-.9 5.5h.9m-.9 1h.9m-.9 4h.9m-.9 5.5h.9m-.9 2h.9m-.9 3h.9m-.9 3.5h.9m-.9 2.5h.9m-.9 1h.9m-.9 4h.9m-.9 .5h.9m-.9 1h.9m-.9 1h.9m-.9 1h.9m-.9 1.5h.9m-.9 .5h.9m-.9 .5h.9m-.9 .5h.9m-.9 1h.9m-.9 .5h.9m-.9 .5h.9m-.9 1h.9m-.9 1h.9m-.9 1h.9m-.9 1h.9m-.4-51.5h.9m-.9 21.5h.9m-.9 5h.9m-.9 1.5h.9m-.9 2.5h.9m-.9 2h.9m-.9 2.5h.9m-.9 .5h.9m-.9 1.5h.9m-.9 1.5h.9m-.9 1.5h.9m-.9 2.5h.9m-.9 .5h.9m-.9 .5h.9m-.9 .5h.9m-.9 .5h.9m-.9 .5h.9m-.9 1h.9m-.9 .5h.9m-.9 .5h.9m-.9 .5h.9m-.9 .5h.9m-.4-44h.9m-.9 .5h.9m-.9 10h.9m-.9 10.5h.9m-.9 3h.9m-.9 1h.9m-.9 1.5h.9m-.9 5h.9m-.9 1h.9m-.9 .5h.9m-.9 1h.9m-.9 2h.9m-.9 .5h.9m-.9 .5h.9m-.9 2h.9m-.9 .5h.9m-.9 .5h.9m-.9 .5h.9m-.9 1.5h.9m-.9 1.5h.9m-.9 .5h.9m-.9 2.5h.9m-.9 .5h.9m-.4-41.5h.9m-.9 12h.9m-.9 1h.9m-.9 2h.9m-.9 .5h.9m-.9 3h.9m-.9 3h.9m-.9 2.5h.9m-.9 1h.9m-.9 2.5h.9m-.9 2h.9m-.9 1h.9m-.9 1h.9m-.9 1h.9m-.9 .5h.9m-.9 .5h.9m-.9 1h.9m-.9 1h.9m-.9 1h.9m-.9 .5h.9m-.9 .5h.9m-.9 .5h.9m-.9 1h.9m-.9 1h.9m-.4-48h.9m-.9 1.5h.9m-.9 11.5h.9m-.9 10h.9m-.9 2h.9m-.9 .5h.9m-.9 1h.9m-.9 1h.9m-.9 3h.9m-.9 3h.9m-.9 1h.9m-.9 1h.9m-.9 .5h.9m-.9 4h.9m-.9 1h.9m-.9 .5h.9m-.9 .5h.9m-.9 .5h.9m-.9 1h.9m-.9 .5h.9m-.9 .5h.9m-.9 1h.9m-.9 .5h.9m-.9 3h.9m-.4-47.5h.9m-.9 2.5h.9m-.9 3.5h.9m-.9 7.5h.9m-.9 8h.9m-.9 1h.9m-.9 .5h.9m-.9 2h.9m-.9 3h.9m-.9 1h.9m-.9 1h.9m-.9 3.5h.9m-.9 2.5h.9m-.9 1h.9m-.9 1.5h.9m-.9 .5h.9m-.9 1h.9m-.9 .5h.9m-.9 2h.9m-.9 .5h.9m-.9 .5h.9m-.9 2h.9m-.9 2.5h.9m-.9 .5h.9m-.4-46.5h.9m-.9 2h.9m-.9 .5h.9m-.9 2.5h.9m-.9 7h.9m-.9 4.5h.9m-.9 1.5h.9m-.9 1h.9m-.9 3h.9m-.9 .5h.9m-.9 3.5h.9m-.9 1h.9m-.9 2h.9m-.9 2.5h.9m-.9 .5h.9m-.9 1.5h.9m-.9 2h.9m-.9 1.5h.9m-.9 .5h.9m-.9 .5h.9m-.9 .5h.9m-.9 1.5h.9m-.9 2h.9m-.9 .5h.9m-.9 .5h.9m-.9 1h.9m-.9 1.5h.9m-.9 1.5h.9m-.4-35.5h.9m-.9 3h.9m-.9 2.5h.9m-.9 1.5h.9m-.9 4h.9m-.9 3.5h.9m-.9 .5h.9m-.9 1h.9m-.9 .5h.9m-.9 .5h.9m-.9 .5h.9m-.9 1h.9m-.9 3h.9m-.9 .5h.9m-.9 2.5h.9m-.9 .5h.9m-.9 2.5h.9m-.9 .5h.9m-.9 .5h.9m-.9 1.5h.9m-.9 .5h.9m-.9 .5h.9m-.9 .5h.9m-.9 2.5h.9m-.9 .5h.9m-.9 .5h.9m-.4-51.5h.9m-.9 2.5h.9m-.9 5h.9m-.9 3.5h.9m-.9 3h.9m-.9 .5h.9m-.9 3.5h.9m-.9 1.5h.9m-.9 2.5h.9m-.9 1h.9m-.9 3h.9m-.9 4h.9m-.9 3.5h.9m-.9 1.5h.9m-.9 1h.9m-.9 1h.9m-.9 .5h.9m-.9 1.5h.9m-.9 1h.9m-.9 1.5h.9m-.9 .5h.9m-.9 .5h.9m-.9 1h.9m-.9 .5h.9m-.9 .5h.9m-.9 .5h.9m-.9 1h.9m-.9 1h.9m-.9 1h.9m-.9 2h.9m-.9 2h.9m-.4-50h.9m-.9 13.5h.9m-.9 2.5h.9m-.9 1h.9m-.9 6.5h.9m-.9 4h.9m-.9 2.5h.9m-.9 1.5h.9m-.9 3h.9m-.9 .5h.9m-.9 .5h.9m-.9 .5h.9m-.9 1h.9m-.9 .5h.9m-.9 2.5h.9m-.9 1.5h.9m-.9 1h.9m-.9 .5h.9m-.9 1.5h.9m-.9 .5h.9m-.9 2.5h.9m-.9 1h.9m-.9 1h.9m-.9 .5h.9m-.4-48.5h.9m-.9 11.5h.9m-.9 2h.9m-.9 .5h.9m-.9 12h.9m-.9 1h.9m-.9 .5h.9m-.9 2h.9m-.9 3h.9m-.9 3h.9m-.9 2h.9m-.9 .5h.9m-.9 1h.9m-.9 1.5h.9m-.9 .5h.9m-.9 .5h.9m-.9 1.5h.9m-.9 .5h.9m-.9 .5h.9m-.9 2.5h.9m-.9 .5h.9m-.4-51h.9m-.9 2.5h.9m-.9 19.5h.9m-.9 1h.9m-.9 4h.9m-.9 1h.9m-.9 2h.9m-.9 1.5h.9m-.9 1.5h.9m-.9 3h.9m-.9 .5h.9m-.9 1.5h.9m-.9 .5h.9m-.9 .5h.9m-.9 2.5h.9m-.9 1h.9m-.9 .5h.9m-.9 1.5h.9m-.9 1h.9m-.9 1.5h.9m-.9 1.5h.9m-.9 1.5h.9m-.9 1.5h.9m-.4-43.5h.9m-.9 3h.9m-.9 12.5h.9m-.9 4.5h.9m-.9 .5h.9m-.9 .5h.9m-.9 1h.9m-.9 .5h.9m-.9 1.5h.9m-.9 2.5h.9m-.9 1.5h.9m-.9 4h.9m-.9 .5h.9m-.9 1.5h.9m-.9 .5h.9m-.9 1h.9m-.9 .5h.9m-.9 1h.9m-.9 .5h.9m-.9 .5h.9m-.9 .5h.9m-.9 .5h.9m-.9 1.5h.9m-.9 .5h.9m-.9 2.5h.9m-.9 1h.9m-.4-41h.9m-.9 10h.9m-.9 8h.9m-.9 1.5h.9m-.9 2.5h.9m-.9 2h.9m-.9 3h.9m-.9 1h.9m-.9 1.5h.9m-.9 1h.9m-.9 .5h.9m-.9 .5h.9m-.9 1h.9m-.9 .5h.9m-.9 1h.9m-.9 .5h.9m-.9 .5h.9m-.9 .5h.9m-.9 1h.9m-.9 1.5h.9m-.9 .5h.9m-.9 .5h.9m-.9 1.5h.9m-.9 .5h.9m-.9 .5h.9m-.4-46h.9m-.9 8h.9m-.9 6h.9m-.9 6h.9m-.9 .5h.9m-.9 .5h.9m-.9 .5h.9m-.9 3.5h.9m-.9 .5h.9m-.9 2h.9m-.9 1.5h.9m-.9 1.5h.9m-.9 3.5h.9m-.9 1.5h.9m-.9 1h.9m-.9 .5h.9m-.9 1h.9m-.9 2h.9m-.9 .5h.9m-.9 .5h.9m-.9 2h.9m-.9 1h.9m-.9 .5h.9m-.9 .5h.9m-.9 1h.9m-.4-43.5h.9m-.9 1.5h.9m-.9 1.5h.9m-.9 10h.9m-.9 3h.9m-.9 1.5h.9m-.9 5.5h.9m-.9 3h.9m-.9 1h.9m-.9 .5h.9m-.9 .5h.9m-.9 .5h.9m-.9 .5h.9m-.9 2.5h.9m-.9 1h.9m-.9 1h.9m-.9 .5h.9m-.9 .5h.9m-.9 1h.9m-.9 .5h.9m-.9 .5h.9m-.9 1.5h.9m-.9 .5h.9m-.9 1.5h.9m-.9 .5h.9m-.9 1h.9m-.9 1h.9m-.4-45h.9m-.9 6.5h.9m-.9 3.5h.9m-.9 5.5h.9m-.9 4h.9m-.9 .5h.9m-.9 1h.9m-.9 1h.9m-.9 .5h.9m-.9 4h.9m-.9 .5h.9m-.9 .5h.9m-.9 2h.9m-.9 .5h.9m-.9 .5h.9m-.9 .5h.9m-.9 2h.9m-.9 .5h.9m-.9 .5h.9m-.9 1h.9m-.9 .5h.9m-.9 .5h.9m-.9 2h.9m-.9 1.5h.9m-.9 .5h.9m-.9 .5h.9m-.9 2.5h.9m-.9 1h.9m-.9 1h.9m-.9 1h.9m-.4-31h.9m-.9 .5h.9m-.9 2h.9m-.9 5h.9m-.9 2.5h.9m-.9 .5h.9m-.9 1h.9m-.9 .5h.9m-.9 2h.9m-.9 2h.9m-.9 1h.9m-.9 .5h.9m-.9 .5h.9m-.9 .5h.9m-.9 1.5h.9m-.9 1h.9m-.9 1.5h.9m-.9 .5h.9m-.9 .5h.9m-.9 1.5h.9m-.9 .5h.9m-.9 1h.9m-.9 1h.9m-.9 3.5h.9m-.4-47.5h.9m-.9 7h.9m-.9 8h.9m-.9 11h.9m-.9 4h.9m-.9 3h.9m-.9 .5h.9m-.9 1h.9m-.9 1.5h.9m-.9 .5h.9m-.9 1.5h.9m-.9 1h.9m-.9 .5h.9m-.9 .5h.9m-.9 .5h.9m-.9 .5h.9m-.9 .5h.9m-.9 .5h.9m-.9 .5h.9m-.9 .5h.9m-.9 .5h.9m-.9 2.5h.9m-.9 1h.9m-.9 .5h.9m-.4-50h.9m-.9 23.5h.9m-.9 2h.9m-.9 1.5h.9m-.9 1.5h.9m-.9 1h.9m-.9 1.5h.9m-.9 .5h.9m-.9 .5h.9m-.9 3h.9m-.9 .5h.9m-.9 1h.9m-.9 1.5h.9m-.9 .5h.9m-.9 .5h.9m-.9 1h.9m-.9 1.5h.9m-.9 1h.9m-.9 1h.9m-.9 .5h.9m-.9 2.5h.9m-.9 .5h.9m-.9 1.5h.9m-.9 1h.9m-.4-45.5h.9m-.9 9.5h.9m-.9 2h.9m-.9 3h.9m-.9 2h.9m-.9 6h.9m-.9 1.5h.9m-.9 2h.9m-.9 1h.9m-.9 4.5h.9m-.9 .5h.9m-.9 .5h.9m-.9 .5h.9m-.9 2.5h.9m-.9 1.5h.9m-.9 1.5h.9m-.9 1h.9m-.9 2h.9m-.9 1.5h.9m-.9 .5h.9m-.9 .5h.9m-.9 .5h.9m-.9 .5h.9m-.9 .5h.9m-.4-43.5h.9m-.9 1.5h.9m-.9 1h.9m-.9 5.5h.9m-.9 3.5h.9m-.9 1.5h.9m-.9 3h.9m-.9 .5h.9m-.9 2.5h.9m-.9 1.5h.9m-.9 1.5h.9m-.9 1h.9m-.9 3.5h.9m-.9 .5h.9m-.9 1h.9m-.9 .5h.9m-.9 1h.9m-.9 2h.9m-.9 1h.9m-.9 1h.9m-.9 .5h.9m-.9 .5h.9m-.9 .5h.9m-.9 1.5h.9m-.9 .5h.9m-.9 .5h.9m-.9 .5h.9m-.9 1h.9m-.9 1h.9m-.9 1h.9m-.9 1.5h.9m-.4-44h.9m-.9 2h.9m-.9 .5h.9m-.9 2h.9m-.9 1h.9m-.9 5h.9m-.9 2h.9m-.9 4h.9m-.9 2.5h.9m-.9 2.5h.9m-.9 5h.9m-.9 3h.9m-.9 2.5h.9m-.9 .5h.9m-.9 .5h.9m-.9 1.5h.9m-.9 .5h.9m-.9 .5h.9m-.9 .5h.9m-.9 .5h.9m-.9 .5h.9m-.9 1.5h.9m-.9 .5h.9m-.9 .5h.9m-.9 1.5h.9m-.9 1h.9m-.9 .5h.9m-.9 1.5h.9m-.9 .5h.9m-.9 .5h.9m-.4-43h.9m-.9 7.5h.9m-.9 .5h.9m-.9 3h.9m-.9 1h.9m-.9 5h.9m-.9 3.5h.9m-.9 3h.9m-.9 .5h.9m-.9 .5h.9m-.9 .5h.9m-.9 1h.9m-.9 .5h.9m-.9 .5h.9m-.9 1h.9m-.9 1h.9m-.9 1h.9m-.9 1h.9m-.9 .5h.9m-.9 .5h.9m-.9 1h.9m-.9 1h.9m-.9 1h.9m-.9 .5h.9m-.9 1h.9m-.9 .5h.9m-.9 .5h.9m-.9 .5h.9m-.9 1h.9m-.9 1.5h.9m-.9 1h.9m-.9 .5h.9m-.9 1h.9m-.9 .5h.9m-.9 .5h.9m-.4-51h.9m-.9 7.5h.9m-.9 1h.9m-.9 2.5h.9m-.9 .5h.9m-.9 1.5h.9m-.9 2h.9m-.9 2.5h.9m-.9 1h.9m-.9 4h.9m-.9 7.5h.9m-.9 .5h.9m-.9 .5h.9m-.9 3h.9m-.9 .5h.9m-.9 2.5h.9m-.9 1.5h.9m-.9 .5h.9m-.9 .5h.9m-.9 .5h.9m-.9 .5h.9m-.9 2h.9m-.9 .5h.9m-.9 2h.9m-.9 1.5h.9m-.9 .5h.9m-.9 1h.9m-.9 1.5h.9m-.4-42h.9m-.9 4h.9m-.9 5.5h.9m-.9 1h.9m-.9 .5h.9m-.9 1.5h.9m-.9 1h.9m-.9 2.5h.9m-.9 2h.9m-.9 2h.9m-.9 .5h.9m-.9 1h.9m-.9 3h.9m-.9 .5h.9m-.9 1h.9m-.9 1.5h.9m-.9 .5h.9m-.9 .5h.9m-.9 1.5h.9m-.9 2h.9m-.9 .5h.9m-.9 .5h.9m-.9 1h.9m-.9 .5h.9m-.9 1h.9m-.9 .5h.9m-.9 .5h.9m-.9 1h.9m-.9 .5h.9m-.9 1.5h.9m-.9 2h.9m-.9 1h.9m-.9 .5h.9m-.9 .5h.9m-.4-43.5h.9m-.9 13h.9m-.9 5.5h.9m-.9 3h.9m-.9 1h.9m-.9 2.5h.9m-.9 .5h.9m-.9 1h.9m-.9 .5h.9m-.9 .5h.9m-.9 .5h.9m-.9 .5h.9m-.9 1h.9m-.9 1h.9m-.9 .5h.9m-.9 1h.9m-.9 .5h.9m-.9 .5h.9m-.9 1h.9m-.9 1.5h.9m-.9 .5h.9m-.9 .5h.9m-.9 .5h.9m-.9 .5h.9m-.9 2h.9m-.9 3h.9m-.4-51.5h.9m-.9 9.5h.9m-.9 1h.9m-.9 3h.9m-.9 .5h.9m-.9 5.5h.9m-.9 2h.9m-.9 2h.9m-.9 2h.9m-.9 .5h.9m-.9 2.5h.9m-.9 1h.9m-.9 .5h.9m-.9 3.5h.9m-.9 1h.9m-.9 3.5h.9m-.9 1.5h.9m-.9 1h.9m-.9 1h.9m-.9 1h.9m-.9 .5h.9m-.9 .5h.9m-.9 1h.9m-.9 .5h.9m-.9 .5h.9m-.9 .5h.9m-.9 3.5h.9m-.9 .5h.9m-.9 .5h.9m-.9 .5h.9m-.9 1.5h.9m-.4-45h.9m-.9 5.5h.9m-.9 7.5h.9m-.9 .5h.9m-.9 4h.9m-.9 2h.9m-.9 2h.9m-.9 2h.9m-.9 .5h.9m-.9 .5h.9m-.9 1.5h.9m-.9 1.5h.9m-.9 .5h.9m-.9 .5h.9m-.9 .5h.9m-.9 3.5h.9m-.9 .5h.9m-.9 1.5h.9m-.9 1h.9m-.9 .5h.9m-.9 1h.9m-.9 .5h.9m-.9 .5h.9m-.9 1.5h.9m-.9 .5h.9m-.9 3.5h.9m-.9 .5h.9m-.9 .5h.9m-.4-46h.9m-.9 6.5h.9m-.9 7.5h.9m-.9 .5h.9m-.9 3h.9m-.9 1.5h.9m-.9 .5h.9m-.9 1h.9m-.9 6.5h.9m-.9 1.5h.9m-.9 .5h.9m-.9 4.5h.9m-.9 3h.9m-.9 .5h.9m-.9 1.5h.9m-.9 2h.9m-.9 1.5h.9m-.9 .5h.9m-.9 .5h.9m-.9 3.5h.9m-.4-44h.9m-.9 2.5h.9m-.9 1h.9m-.9 .5h.9m-.9 3.5h.9m-.9 5h.9m-.9 1.5h.9m-.9 2h.9m-.9 1h.9m-.9 1h.9m-.9 4.5h.9m-.9 1.5h.9m-.9 2.5h.9m-.9 2.5h.9m-.9 2h.9m-.9 1h.9m-.9 .5h.9m-.9 2.5h.9m-.9 .5h.9m-.9 .5h.9m-.9 .5h.9m-.9 .5h.9m-.9 .5h.9m-.9 3h.9m-.9 .5h.9m-.9 1.5h.9m-.9 1.5h.9m-.4-43.5h.9m-.9 5.5h.9m-.9 1h.9m-.9 1.5h.9m-.9 4h.9m-.9 .5h.9m-.9 .5h.9m-.9 4h.9m-.9 4.5h.9m-.9 1h.9m-.9 .5h.9m-.9 2h.9m-.9 .5h.9m-.9 .5h.9m-.9 2h.9m-.9 .5h.9m-.9 .5h.9m-.9 1.5h.9m-.9 1h.9m-.9 1h.9m-.9 .5h.9m-.9 .5h.9m-.9 .5h.9m-.9 .5h.9m-.9 1h.9m-.9 1h.9m-.9 .5h.9m-.9 .5h.9m-.9 5.5h.9m-.9 1h.9m-.4-42h.9m-.9 9.5h.9m-.9 6h.9m-.9 7h.9m-.9 .5h.9m-.9 .5h.9m-.9 .5h.9m-.9 1.5h.9m-.9 1h.9m-.9 1.5h.9m-.9 1.5h.9m-.9 .5h.9m-.9 2h.9m-.9 1h.9m-.9 .5h.9m-.9 .5h.9m-.9 .5h.9m-.9 1h.9m-.9 2.5h.9m-.9 1h.9m-.9 .5h.9m-.9 2h.9m-.4-35h.9m-.9 2h.9m-.9 2h.9m-.9 3h.9m-.9 .5h.9m-.9 1.5h.9m-.9 1h.9m-.9 .5h.9m-.9 3.5h.9m-.9 3.5h.9m-.9 .5h.9m-.9 2.5h.9m-.9 1.5h.9m-.9 1.5h.9m-.9 1h.9m-.9 .5h.9m-.9 .5h.9m-.9 1h.9m-.9 .5h.9m-.9 .5h.9m-.9 .5h.9m-.9 .5h.9m-.9 .5h.9m-.9 .5h.9m-.9 1h.9m-.9 2h.9m-.9 2h.9m-.9 .5h.9m-.9 .5h.9m-.4-51.5h.9m-.9 28.5h.9m-.9 1h.9m-.9 1.5h.9m-.9 .5h.9m-.9 .5h.9m-.9 1h.9m-.9 1.5h.9m-.9 1h.9m-.9 1.5h.9m-.9 1.5h.9m-.9 1.5h.9m-.9 2h.9m-.9 .5h.9m-.9 .5h.9m-.9 .5h.9m-.9 1h.9m-.9 .5h.9m-.9 1h.9m-.9 .5h.9m-.9 1h.9m-.9 .5h.9m-.9 .5h.9m-.9 2h.9m-.9 1h.9m-.4-48h.9m-.9 6.5h.9m-.9 7h.9m-.9 6h.9m-.9 4.5h.9m-.9 2h.9m-.9 3h.9m-.9 .5h.9m-.9 .5h.9m-.9 3h.9m-.9 1.5h.9m-.9 1h.9m-.9 .5h.9m-.9 .5h.9m-.9 .5h.9m-.9 1h.9m-.9 .5h.9m-.9 .5h.9m-.9 .5h.9m-.9 .5h.9m-.9 1.5h.9m-.9 1h.9m-.9 2h.9m-.9 .5h.9m-.9 1h.9m-.9 .5h.9m-.9 .5h.9m-.9 1h.9m-.4-54h.9m-.9 11.5h.9m-.9 1.5h.9m-.9 16.5h.9m-.9 1h.9m-.9 4.5h.9m-.9 .5h.9m-.9 .5h.9m-.9 .5h.9m-.9 3.5h.9m-.9 .5h.9m-.9 1h.9m-.9 2.5h.9m-.9 2h.9m-.9 .5h.9m-.9 .5h.9m-.9 .5h.9m-.9 1.5h.9m-.9 .5h.9m-.9 1.5h.9m-.4-34h.9m-.9 8h.9m-.9 5h.9m-.9 .5h.9m-.9 1.5h.9m-.9 4h.9m-.9 1.5h.9m-.9 1.5h.9m-.9 1.5h.9m-.9 1.5h.9m-.9 .5h.9m-.9 .5h.9m-.9 .5h.9m-.9 1.5h.9m-.9 1h.9m-.9 .5h.9m-.9 1h.9m-.9 .5h.9m-.9 1h.9m-.9 1h.9m-.9 4h.9m-.4-52h.9m-.9 19h.9m-.9 5.5h.9m-.9 6h.9m-.9 1.5h.9m-.9 2h.9m-.9 2.5h.9m-.9 2h.9m-.9 .5h.9m-.9 2.5h.9m-.9 1h.9m-.9 1h.9m-.9 .5h.9m-.9 .5h.9m-.9 .5h.9m-.9 .5h.9m-.9 1h.9m-.9 1h.9m-.9 1h.9m-.9 .5h.9m-.9 .5h.9m-.9 .5h.9m-.9 .5h.9m-.9 .5h.9m-.9 .5h.9m-.9 .5h.9m-.4-31.5h.9m-.9 2h.9m-.9 5h.9m-.9 5.5h.9m-.9 1.5h.9m-.9 1.5h.9m-.9 1h.9m-.9 .5h.9m-.9 1h.9m-.9 1h.9m-.9 1h.9m-.9 1h.9m-.9 1.5h.9m-.9 .5h.9m-.9 .5h.9m-.9 .5h.9m-.9 1.5h.9m-.9 2.5h.9m-.9 2h.9m-.4-35.5h.9m-.9 9.5h.9m-.9 1.5h.9m-.9 .5h.9m-.9 4h.9m-.9 3.5h.9m-.9 2.5h.9m-.9 1.5h.9m-.9 4h.9m-.9 .5h.9m-.9 .5h.9m-.9 .5h.9m-.9 1h.9m-.9 1h.9m-.9 .5h.9m-.9 1h.9m-.9 3h.9m-.9 2h.9m-.4-41.5h.9m-.9 12.5h.9m-.9 4.5h.9m-.9 7h.9m-.9 .5h.9m-.9 1h.9m-.9 1h.9m-.9 3.5h.9m-.9 2.5h.9m-.9 1.5h.9m-.9 .5h.9m-.9 .5h.9m-.9 1h.9m-.9 1h.9m-.9 3.5h.9m-.9 .5h.9m-.4-33h.9m-.9 .5h.9m-.9 2.5h.9m-.9 .5h.9m-.9 8.5h.9m-.9 2h.9m-.9 3h.9m-.9 .5h.9m-.9 1h.9m-.9 1h.9m-.9 .5h.9m-.9 1.5h.9m-.9 1h.9m-.9 .5h.9m-.9 .5h.9m-.9 .5h.9m-.9 .5h.9m-.9 .5h.9m-.9 .5h.9m-.9 3.5h.9m-.9 1.5h.9m-.9 .5h.9m-.9 .5h.9m-.9 1h.9m-.9 1.5h.9m-.4-48.5h.9m-.9 9.5h.9m-.9 1.5h.9m-.9 10h.9m-.9 3h.9m-.9 1h.9m-.9 .5h.9m-.9 6h.9m-.9 .5h.9m-.9 1h.9m-.9 .5h.9m-.9 .5h.9m-.9 2h.9m-.9 1.5h.9m-.9 1h.9m-.9 .5h.9m-.9 .5h.9m-.9 .5h.9m-.9 1.5h.9m-.9 2h.9m-.9 1h.9m-.9 1.5h.9m-.9 .5h.9m-.9 1h.9m-.9 .5h.9m-.4-39.5h.9m-.9 2h.9m-.9 1.5h.9m-.9 6h.9m-.9 .5h.9m-.9 2.5h.9m-.9 1.5h.9m-.9 .5h.9m-.9 3.5h.9m-.9 4h.9m-.9 1h.9m-.9 1h.9m-.9 1.5h.9m-.9 .5h.9m-.9 .5h.9m-.9 2h.9m-.9 1h.9m-.9 1h.9m-.9 .5h.9m-.9 1h.9m-.9 .5h.9m-.9 .5h.9m-.9 .5h.9m-.9 .5h.9m-.9 1.5h.9m-.9 .5h.9m-.9 .5h.9m-.9 .5h.9m-.9 .5h.9m-.9 1h.9m-.9 .5h.9m-.4-54.5h.9m-.9 17h.9m-.9 8h.9m-.9 6h.9m-.9 4.5h.9m-.9 .5h.9m-.9 2h.9m-.9 .5h.9m-.9 .5h.9m-.9 2h.9m-.9 3.5h.9m-.9 .5h.9m-.9 1h.9m-.9 .5h.9m-.9 1h.9m-.9 .5h.9m-.9 .5h.9m-.9 .5h.9m-.9 1.5h.9m-.9 1h.9m-.9 1h.9m-.9 .5h.9m-.9 .5h.9m-.9 1.5h.9m-.4-33.5h.9m-.9 3h.9m-.9 1.5h.9m-.9 1.5h.9m-.9 2h.9m-.9 1h.9m-.9 2h.9m-.9 .5h.9m-.9 1h.9m-.9 1.5h.9m-.9 .5h.9m-.9 1h.9m-.9 1h.9m-.9 .5h.9m-.9 2h.9m-.9 1h.9m-.9 .5h.9m-.9 .5h.9m-.9 .5h.9m-.9 3h.9m-.9 .5h.9m-.9 .5h.9m-.9 1h.9m-.9 .5h.9m-.9 .5h.9m-.9 2.5h.9m-.9 .5h.9m-.9 .5h.9m-.9 .5h.9m-.9 .5h.9m-.9 .5h.9m-.9 1h.9m-.4-44h.9m-.9 19h.9m-.9 1h.9m-.9 7.5h.9m-.9 2.5h.9m-.9 1h.9m-.9 .5h.9m-.9 3h.9m-.9 .5h.9m-.9 .5h.9m-.9 .5h.9m-.9 .5h.9m-.9 .5h.9m-.9 4.5h.9m-.9 1h.9m-.9 .5h.9m-.9 1h.9m-.4-36.5h.9m-.9 6h.9m-.9 14h.9m-.9 .5h.9m-.9 2h.9m-.9 1.5h.9m-.9 2h.9m-.9 .5h.9m-.9 2.5h.9m-.9 .5h.9m-.9 2h.9m-.9 1h.9m-.9 1.5h.9m-.9 2h.9m-.9 1h.9m-.4-51h.9m-.9 14.5h.9m-.9 10h.9m-.9 .5h.9m-.9 1.5h.9m-.9 3h.9m-.9 1h.9m-.9 1h.9m-.9 1h.9m-.9 2.5h.9m-.9 .5h.9m-.9 1.5h.9m-.9 2h.9m-.9 1.5h.9m-.9 .5h.9m-.9 .5h.9m-.9 1.5h.9m-.9 .5h.9m-.9 .5h.9m-.9 .5h.9m-.9 1h.9m-.9 2h.9m-.9 .5h.9m-.9 1h.9m-.9 1.5h.9m-.4-33.5h.9m-.9 5h.9m-.9 1h.9m-.9 6h.9m-.9 1h.9m-.9 .5h.9m-.9 .5h.9m-.9 3.5h.9m-.9 1h.9m-.9 2h.9m-.9 .5h.9m-.9 .5h.9m-.9 .5h.9m-.9 1h.9m-.9 1h.9m-.9 .5h.9m-.9 2h.9m-.9 .5h.9m-.9 5h.9m-.9 1h.9m-.9 .5h.9m-.4-57h.9m-.9 35h.9m-.9 1h.9m-.9 1.5h.9m-.9 3h.9m-.9 1h.9m-.9 1h.9m-.9 1h.9m-.9 3h.9m-.9 1h.9m-.9 1h.9m-.9 1h.9m-.9 1h.9m-.9 2h.9m-.9 .5h.9m-.9 1h.9m-.9 .5h.9m-.9 1h.9m-.4-34h.9m-.9 5h.9m-.9 3h.9m-.9 .5h.9m-.9 1.5h.9m-.9 2h.9m-.9 .5h.9m-.9 4h.9m-.9 .5h.9m-.9 1.5h.9m-.9 1.5h.9m-.9 .5h.9m-.9 1h.9m-.9 .5h.9m-.9 2h.9m-.9 .5h.9m-.9 .5h.9m-.9 .5h.9m-.9 2.5h.9m-.9 1h.9m-.9 .5h.9m-.9 1.5h.9m-.9 1.5h.9m-.9 .5h.9m-.9 .5h.9m-.4-19.5h.9m-.9 .5h.9m-.9 1h.9m-.9 1.5h.9m-.9 .5h.9m-.9 .5h.9m-.9 2h.9m-.9 .5h.9m-.9 2h.9m-.9 .5h.9m-.9 1h.9m-.9 1.5h.9m-.9 1.5h.9m-.9 .5h.9m-.9 .5h.9m-.9 .5h.9m-.9 .5h.9m-.9 .5h.9m-.9 1h.9m-.9 2h.9m-.9 1h.9m-.9 1.5h.9m-.4-29.5h.9m-.9 7h.9m-.9 8h.9m-.9 4h.9m-.9 2.5h.9m-.9 .5h.9m-.9 .5h.9m-.9 1h.9m-.9 3h.9m-.9 .5h.9m-.9 2h.9m-.9 1h.9m-.9 .5h.9m-.4-35h.9m-.9 8.5h.9m-.9 1.5h.9m-.9 2h.9m-.9 1.5h.9m-.9 5h.9m-.9 .5h.9m-.9 1.5h.9m-.9 1h.9m-.9 1h.9m-.9 2h.9m-.9 .5h.9m-.9 1h.9m-.9 .5h.9m-.9 1h.9m-.9 .5h.9m-.9 .5h.9m-.9 3.5h.9m-.9 .5h.9m-.9 .5h.9m-.9 .5h.9m-.4-41h.9m-.9 4.5h.9m-.9 .5h.9m-.9 6h.9m-.9 4h.9m-.9 3.5h.9m-.9 3.5h.9m-.9 .5h.9m-.9 3h.9m-.9 1h.9m-.9 1h.9m-.9 1h.9m-.9 .5h.9m-.9 3.5h.9m-.9 1h.9m-.9 .5h.9m-.9 .5h.9m-.9 1h.9m-.9 .5h.9m-.9 .5h.9m-.9 4h.9m-.9 1h.9m-.4-31h.9m-.9 3.5h.9m-.9 11h.9m-.9 3h.9m-.9 1h.9m-.9 1h.9m-.9 .5h.9m-.9 1h.9m-.9 .5h.9m-.9 1h.9m-.9 1h.9m-.9 .5h.9m-.9 .5h.9m-.9 .5h.9m-.9 6.5h.9m-.9 .5h.9m-.4-33h.9m-.9 4.5h.9m-.9 .5h.9m-.9 2h.9m-.9 1.5h.9m-.9 .5h.9m-.9 3h.9m-.9 .5h.9m-.9 .5h.9m-.9 5h.9m-.9 1.5h.9m-.9 .5h.9m-.9 4h.9m-.9 .5h.9m-.9 1h.9m-.9 1h.9m-.9 2.5h.9m-.9 1.5h.9m-.9 1.5h.9m-.9 1h.9m-.4-32h.9m-.9 1h.9m-.9 13h.9m-.9 2h.9m-.9 6.5h.9m-.9 1h.9m-.9 .5h.9m-.9 .5h.9m-.9 .5h.9m-.9 3h.9m-.9 .5h.9m-.9 .5h.9m-.9 1.5h.9m-.9 .5h.9m-.9 .5h.9m-.9 .5h.9m-.4-27.5h.9m-.9 3h.9m-.9 4h.9m-.9 2h.9m-.9 2h.9m-.9 1h.9m-.9 .5h.9m-.9 1.5h.9m-.9 2.5h.9m-.9 .5h.9m-.9 2h.9m-.9 .5h.9m-.9 1.5h.9m-.9 1h.9m-.9 1h.9m-.9 .5h.9m-.9 2.5h.9m-.9 .5h.9m-.9 .5h.9m-.9 .5h.9m-.4-30.5h.9m-.9 .5h.9m-.9 9h.9m-.9 9.5h.9m-.9 1.5h.9m-.9 1h.9m-.9 1h.9m-.9 .5h.9m-.9 1h.9m-.9 1h.9m-.9 .5h.9m-.9 2h.9m-.9 2.5h.9m-.4-30.5h.9m-.9 .5h.9m-.9 .5h.9m-.9 1.5h.9m-.9 .5h.9m-.9 5h.9m-.9 .5h.9m-.9 2h.9m-.9 .5h.9m-.9 2h.9m-.9 .5h.9m-.9 1h.9m-.9 2.5h.9m-.9 .5h.9m-.9 1h.9m-.9 5h.9m-.9 .5h.9m-.9 .5h.9m-.9 1.5h.9m-.9 .5h.9m-.9 .5h.9m-.9 .5h.9m-.9 .5h.9m-.9 1h.9m-.9 .5h.9m-.9 .5h.9m-.4-29.5h.9m-.9 5.5h.9m-.9 3h.9m-.9 .5h.9m-.9 4h.9m-.9 1.5h.9m-.9 1.5h.9m-.9 1h.9m-.9 .5h.9m-.9 2h.9m-.9 2h.9m-.9 1h.9m-.9 .5h.9m-.9 2h.9m-.9 .5h.9m-.9 2h.9m-.9 .5h.9m-.9 1h.9m-.9 1h.9m-.9 .5h.9m-.4-30h.9m-.9 7.5h.9m-.9 7.5h.9m-.9 1h.9m-.9 1h.9m-.9 1.5h.9m-.9 .5h.9m-.9 .5h.9m-.9 1h.9m-.9 .5h.9m-.9 1h.9m-.9 .5h.9m-.9 .5h.9m-.9 2.5h.9m-.9 1h.9m-.9 .5h.9m-.9 1h.9m-.9 2.5h.9m-.4-20.5h.9m-.9 2.5h.9m-.9 1h.9m-.9 .5h.9m-.9 2h.9m-.9 .5h.9m-.9 3h.9m-.9 1h.9m-.9 1h.9m-.9 1h.9m-.9 .5h.9m-.9 .5h.9m-.9 .5h.9m-.9 .5h.9m-.9 1h.9m-.9 1.5h.9m-.9 1.5h.9m-.9 1h.9m-.9 .5h.9m-.9 .5h.9m-.4-36.5h.9m-.9 7h.9m-.9 4h.9m-.9 6.5h.9m-.9 5h.9m-.9 1h.9m-.9 1h.9m-.9 1.5h.9m-.9 .5h.9m-.9 1.5h.9m-.9 1.5h.9m-.9 1.5h.9m-.9 2.5h.9m-.9 .5h.9m-.9 .5h.9m-.9 1.5h.9m-.4-24h.9m-.9 5h.9m-.9 1.5h.9m-.9 2h.9m-.9 1h.9m-.9 1h.9m-.9 .5h.9m-.9 .5h.9m-.9 2h.9m-.9 1h.9m-.9 .5h.9m-.9 1h.9m-.9 .5h.9m-.9 1.5h.9m-.9 3h.9m-.9 1h.9m-.9 .5h.9m-.9 1h.9m-.9 1h.9m-.4-21.5h.9m-.9 7h.9m-.9 1.5h.9m-.9 1h.9m-.9 2.5h.9m-.9 1h.9m-.9 1h.9m-.9 1h.9m-.9 1h.9m-.9 .5h.9m-.9 .5h.9m-.9 1h.9m-.9 .5h.9m-.9 .5h.9m-.9 1.5h.9m-.9 .5h.9m-.4-24.5h.9m-.9 7h.9m-.9 3.5h.9m-.9 .5h.9m-.9 .5h.9m-.9 .5h.9m-.9 .5h.9m-.9 1.5h.9m-.9 2h.9m-.9 4h.9m-.9 2h.9m-.9 .5h.9m-.9 .5h.9m-.9 .5h.9m-.9 1h.9m-.4-26.5h.9m-.9 2h.9m-.9 1.5h.9m-.9 .5h.9m-.9 1.5h.9m-.9 9.5h.9m-.9 1h.9m-.9 2.5h.9m-.9 1.5h.9m-.9 .5h.9m-.9 .5h.9m-.9 1h.9m-.9 1h.9m-.9 1h.9m-.9 2.5h.9m-.9 .5h.9m-.4-19.5h.9m-.9 6.5h.9m-.9 2h.9m-.9 .5h.9m-.9 .5h.9m-.9 .5h.9m-.9 1h.9m-.9 .5h.9m-.9 1.5h.9m-.9 1h.9m-.9 1.5h.9m-.9 2h.9m-.9 .5h.9m-.9 .5h.9m-.9 .5h.9m-.4-26h.9m-.9 4h.9m-.9 4h.9m-.9 5h.9m-.9 2.5h.9m-.9 .5h.9m-.9 1h.9m-.9 1h.9m-.9 3h.9m-.9 .5h.9m-.9 1h.9m-.9 1h.9m-.9 .5h.9m-.9 2.5h.9m-.4-17h.9m-.9 2.5h.9m-.9 .5h.9m-.9 2.5h.9m-.9 1.5h.9m-.9 1.5h.9m-.9 .5h.9m-.9 1.5h.9m-.9 .5h.9m-.9 2h.9m-.9 .5h.9m-.9 1.5h.9m-.9 1h.9m-.9 .5h.9m-.9 .5h.9m-.4-25h.9m-.9 4h.9m-.9 1h.9m-.9 2.5h.9m-.9 .5h.9m-.9 1h.9m-.9 .5h.9m-.9 1h.9m-.9 2h.9m-.9 .5h.9m-.9 1.5h.9m-.9 1h.9m-.9 1.5h.9m-.9 1h.9m-.9 2h.9m-.9 1.5h.9m-.9 1h.9m-.9 1.5h.9m-.9 1h.9m-.4-23h.9m-.9 1h.9m-.9 2h.9m-.9 1h.9m-.9 .5h.9m-.9 3h.9m-.9 1.5h.9m-.9 1h.9m-.9 1h.9m-.9 .5h.9m-.9 .5h.9m-.9 2h.9m-.9 .5h.9m-.9 1.5h.9m-.9 .5h.9m-.9 2.5h.9m-.9 .5h.9m-.9 .5h.9m-.9 2.5h.9m-.4-18.5h.9m-.9 2h.9m-.9 5h.9m-.9 2h.9m-.9 2.5h.9m-.9 1.5h.9m-.9 1h.9m-.9 .5h.9m-.9 1h.9m-.9 3h.9m-.4-21h.9m-.9 1h.9m-.9 1h.9m-.9 2h.9m-.9 2.5h.9m-.9 3.5h.9m-.9 .5h.9m-.9 .5h.9m-.9 .5h.9m-.9 .5h.9m-.9 1.5h.9m-.9 1h.9m-.9 .5h.9m-.9 .5h.9m-.9 3h.9m-.9 3h.9m-.4-22.5h.9m-.9 1h.9m-.9 1.5h.9m-.9 2h.9m-.9 1h.9m-.9 2.5h.9m-.9 2.5h.9m-.9 1.5h.9m-.9 1.5h.9m-.9 .5h.9m-.9 1h.9m-.9 1.5h.9m-.9 .5h.9m-.9 1h.9m-.9 1h.9m-.9 1h.9m-.9 .5h.9m-.9 .5h.9m-.9 1h.9m-.9 .5h.9m-.4-16h.9m-.9 2.5h.9m-.9 3h.9m-.9 1h.9m-.9 1h.9m-.9 .5h.9m-.9 2h.9m-.9 .5h.9m-.9 4h.9m-.9 1.5h.9m-.4-19.5h.9m-.9 .5h.9m-.9 .5h.9m-.9 1.5h.9m-.9 7.5h.9m-.9 1.5h.9m-.9 4h.9m-.9 .5h.9m-.9 .5h.9m-.9 3h.9m-.4-20.5h.9m-.9 10.5h.9m-.9 1h.9m-.9 2h.9m-.9 1.5h.9m-.9 .5h.9m-.9 2.5h.9m-.4-19h.9m-.9 4h.9m-.9 .5h.9m-.9 6h.9m-.9 5h.9m-.9 1h.9m-.9 1.5h.9m-.9 1.5h.9m-.9 .5h.9m-.9 .5h.9m-.9 1h.9m-.9 .5h.9m-.4-15.5h.9m-.9 1.5h.9m-.9 .5h.9m-.9 3h.9m-.9 1h.9m-.9 2.5h.9m-.9 1.5h.9m-.9 2h.9m-.9 1h.9m-.9 1h.9m-.9 .5h.9m-.4-15.5h.9m-.9 1.5h.9m-.9 2h.9m-.9 1.5h.9m-.9 1h.9m-.9 .5h.9m-.9 3.5h.9m-.9 2h.9m-.9 2h.9m-.9 1h.9m-.9 1.5h.9m-.4-20h.9m-.9 5.5h.9m-.9 .5h.9m-.9 1h.9m-.9 .5h.9m-.9 4h.9m-.9 .5h.9m-.9 .5h.9m-.9 .5h.9m-.9 .5h.9m-.9 2h.9m-.9 1h.9m-.9 1.5h.9m-.9 1.5h.9m-.9 .5h.9m-.4-23.5h.9m-.9 5h.9m-.9 5h.9m-.9 2.5h.9m-.9 2.5h.9m-.9 .5h.9m-.9 1h.9m-.9 .5h.9m-.9 1.5h.9m-.9 1.5h.9m-.9 1h.9m-.9 1.5h.9m-.9 1h.9m-.4-12h.9m-.9 1h.9m-.9 1.5h.9m-.9 .5h.9m-.9 1.5h.9m-.9 .5h.9m-.9 1h.9m-.9 .5h.9m-.9 2.5h.9m-.9 1h.9m-.9 .5h.9m-.4-14.5h.9m-.9 3h.9m-.9 2.5h.9m-.9 1h.9m-.9 1.5h.9m-.9 4.5h.9m-.9 1.5h.9m-.9 1.5h.9m-.4-22h.9m-.9 3.5h.9m-.9 1h.9m-.9 8h.9m-.9 1.5h.9m-.9 .5h.9m-.9 1.5h.9m-.9 .5h.9m-.9 .5h.9m-.9 .5h.9m-.9 1.5h.9m-.9 .5h.9m-.9 .5h.9m-.9 1h.9m-.9 .5h.9m-.9 1h.9m-.4-17.5h.9m-.9 .5h.9m-.9 1h.9m-.9 7h.9m-.9 .5h.9m-.9 2.5h.9m-.9 .5h.9m-.9 1h.9m-.9 1.5h.9m-.9 1.5h.9m-.9 1.5h.9m-.4-14h.9m-.9 1.5h.9m-.9 1.5h.9m-.9 1.5h.9m-.9 .5h.9m-.9 2.5h.9m-.9 1h.9m-.9 1h.9m-.9 1h.9m-.9 .5h.9m-.9 .5h.9m-.9 .5h.9m-.9 1.5h.9m-.9 .5h.9m-.4-14.5h.9m-.9 1h.9m-.9 .5h.9m-.9 1.5h.9m-.9 2h.9m-.9 2.5h.9m-.9 1h.9m-.9 2h.9m-.9 .5h.9m-.9 3h.9m-.4-16h.9m-.9 7h.9m-.9 2h.9m-.9 .5h.9m-.9 .5h.9m-.9 .5h.9m-.9 1h.9m-.9 2h.9m-.9 1h.9m-.4-11h.9m-.9 3.5h.9m-.9 3h.9m-.9 .5h.9m-.9 2.5h.9m-.9 .5h.9m-.9 2h.9m-.9 .5h.9m-.9 .5h.9m-.4-8.5h.9m-.9 1h.9m-.9 5h.9m-.9 2h.9m-.9 .5h.9m-.4-9h.9m-.9 .5h.9m-.9 1h.9m-.9 1.5h.9m-.9 1h.9m-.9 .5h.9m-.4-10h.9m-.9 5h.9m-.9 3h.9m-.9 1h.9m-.9 .5h.9m-.9 .5h.9m-.9 1.5h.9m-.9 1.5h.9m-.9 .5h.9m-.9 .5h.9m-.9 .5h.9m-.4-8h.9m-.9 .5h.9m-.9 .5h.9m-.9 .5h.9m-.9 .5h.9m-.9 .5h.9m-.9 .5h.9m-.9 .5h.9m-.9 .5h.9m-.9 .5h.9m-.9 2h.9m-.9 .5h.9m-.4-13.5h.9m-.9 3h.9m-.9 2.5h.9m-.9 2.5h.9m-.9 .5h.9m-.9 1h.9m-.9 .5h.9m-.9 4h.9m-.9 .5h.9m-.4-3h.9m-.9 1h.9m-.9 1h.9m-.9 .5h.9m-.4-12h.9m-.9 1.5h.9m-.9 3.5h.9m-.9 1.5h.9m-.9 .5h.9m-.9 .5h.9m-.9 1h.9m-.9 .5h.9m-.9 1.5h.9m-.9 .5h.9m-.9 .5h.9m-.9 .5h.9m-.9 .5h.9m-.4-8h.9m-.9 4h.9m-.9 .5h.9m-.9 2.5h.9m-.9 .5h.9m-.4-6h.9m-.9 2h.9m-.9 2h.9m-.9 2h.9m-.4-8.5h.9m-.9 1.5h.9m-.9 1.5h.9m-.9 2h.9m-.9 .5h.9m-.9 1h.9m-.9 1h.9m-.9 1h.9m-.9 .5h.9m-.4-11.5h.9m-.9 4.5h.9m-.9 2h.9m-.9 2.5h.9m-.4-7.5h.9m-.9 4.5h.9m-.9 2.5h.9m-.9 2h.9m-.9 .5h.9m-.9 .5h.9m-.4-9h.9m-.9 5h.9m-.4-2.5h.9m-.9 3.5h.9m-.9 1h.9m-.9 2h.9m-.4-6h.9m-.9 .5h.9m-.9 3h.9m-.9 1.5h.9m-.9 1h.9m-.4-8.5h.9m-.9 1h.9m-.9 4h.9m-.9 1.5h.9m-.9 .5h.9m-.4-1h.9m-.9 .5h.9m-.9 1h.9m-.9 .5h.9m-.4-4h.9m-.9 2h.9m-.9 1h.9m-.9 .5h.9m-.9 1h.9m-.4-5h.9m-.9 .5h.9m-.9 1.5h.9m-.9 .5h.9m-.9 1h.9m-.9 1h.9m-.4-6.5h.9m-.9 2h.9m-.9 1.5h.9m-.9 1.5h.9m-.9 .5h.9m-.4-7h.9m-.9 1.5h.9m-.9 4h.9m-.9 1.5h.9m-.9 .5h.9m-.9 1h.9m-.4-.5h.9m-.9 .5h.9m-.4-9.5h.9m-.9 3h.9m-.9 2h.9m-.9 2.5h.9m-.9 .5h.9m-.9 .5h.9m-.9 1h.9m-.4-4h.9m-.9 3h.9m-.9 .5h.9m-.9 .5h.9m-.4-3.5h.9m-.9 1.5h.9m-.4-2h.9m-.9 1.5h.9m-.9 2.5h.9m-.9 .5h.9m-.4-5h.9m-.9 2.5h.9m-.9 .5h.9m-.9 .5h.9m-.9 .5h.9m-.9 .5h.9m-.4-4h.9m-.9 1.5h.9m-.9 .5h.9m-.9 .5h.9m-.9 .5h.9m-.9 .5h.9m-.9 1h.9m-.4-2h.9m-.9 .5h.9m-.9 .5h.9m-.4-2.5h.9m-.9 2h.9m-.9 .5h.9m-.9 .5h.9m-.9 .5h.9m-.4-.5h.9m-.9 .5h.9m-.4-2h.9m-.9 1.5h.9m-.4-2.5h.9m-.9 2h.9m-.4 0h.9m-.9 .5h.9m-.9 .5h.9m-.4-.5h.9m-.4-2h.9m-.9 1.5h.9m-.9 .5h.9m-.4-.5h.9m-.4-.5h.9m-.4 1.5h.9m.1-1.5h.9m-.4 1.5h.9m-.4-1h.9m-.9 .5h.9m1.1-.5h.9" stroke="#ff0000" stroke-width="0.9" fill="none"/><path d="M201 84.5h.9m-.9 8h.9m-.9 .5h.9m-.9 1.5h.9m-.9 2h.9m-.9 4h.9m-.9 5.5h.9m-.9 6h.9m-.4-29.5h.9m-.9 1h.9m-.9 .5h.9m-.9 .5h.9m-.9 1h.9m-.9 2h.9m-.9 .5h.9m-.9 1.5h.9m-.9 1h.9m-.9 1.5h.9m-.9 .5h.9m-.9 .5h.9m-.9 .5h.9m-.9 .5h.9m-.9 .5h.9m-.9 1.5h.9m-.9 1h.9m-.9 1h.9m-.9 .5h.9m-.9 1h.9m-.9 5h.9m-.9 .5h.9m-.9 1h.9m-.9 1.5h.9m-.9 4.5h.9m-.9 .5h.9m-.9 1h.9m-.9 1h.9m-.9 .5h.9m-.9 1h.9m-.9 4.5h.9m-.9 .5h.9m-.9 .5h.9m-.9 1h.9m-.9 .5h.9m-.9 .5h.9m-.9 1h.9m-.9 .5h.9m-.9 3h.9m-.9 2h.9m-.9 .5h.9m-.9 .5h.9m-.9 .5h.9m-.4-46.5h.9m-.9 1h.9m-.9 .5h.9m-.9 .5h.9m-.9 7h.9m-.9 .5h.9m-.9 1h.9m-.9 2h.9m-.9 3.5h.9m-.9 1h.9m-.9 1.5h.9m-.9 7h.9m-.9 1.5h.9m-.9 3h.9m-.9 .5h.9m-.9 .5h.9m-.9 1h.9m-.9 .5h.9m-.9 .5h.9m-.9 1h.9m-.9 1h.9m-.9 .5h.9m-.9 2h.9m-.9 3h.9m.1-38.5h.9m-.4 10h.9m-.9 19h.9m-.4 5h.9m-.9 1h.9m-.4-13.5h.9m-.9 3.5h.9m-.9 6h.9m-.4-33h.9m-.9 .5h.9m-.9 1.5h.9m.1 20.5h.9m-.4 2.5h.9m-.4-18.5h.9m-.9 3h.9m-.9 13h.9m-.9 3.5h.9m-.4-8.5h.9m-.9 12.5h.9m-.9 3.5h.9m.1-15.5h.9m-.9 6h.9m-.9 .5h.9m-.4-24h.9m-.4 2.5h.9m-.9 6.5h.9m-.9 11h.9m-.9 .5h.9m-.4-8.5h.9m-.9 3h.9m-.9 2h.9m-.9 6h.9m-.9 3h.9m-.9 5h.9m.1-14.5h.9m-.4-12.5h.9m-.9 10.5h.9m-.9 2.5h.9m-.4 2.5h.9m-.9 2.5h.9m.1-22h.9m-.9 28h.9m-.4-29.5h.9m-.9 9.5h.9m-.9 4.5h.9m-.4 .5h.9m-.4-18.5h.9m-.9 1h.9m-.9 11h.9m-.9 23.5h.9m-.4-33h.9m-.9 7.5h.9m-.9 17.5h.9m-.9 2.5h.9m-.9 2.5h.9m-.4-31.5h.9m-.9 11h.9m-.9 16h.9m-.9 2.5h.9m-.4-21h.9m-.9 8.5h.9m-.9 18.5h.9m-.4-34.5h.9m-.9 2h.9m-.9 18h.9m-.9 11h.9m-.4-30h.9m-.9 .5h.9m-.9 2.5h.9m-.9 22.5h.9m-.9 3h.9m-.4-32h.9m-.9 7.5h.9m-.9 .5h.9m-.9 4.5h.9m-.9 3h.9m-.9 21.5h.9m-.4-34.5h.9m-.9 2.5h.9m-.9 9h.9m-.9 2h.9m-.9 2.5h.9m-.9 11h.9m-.4-29.5h.9m-.9 2.5h.9m-.9 1.5h.9m-.9 13.5h.9m-.9 3h.9m-.4-19h.9m-.9 4h.9m-.9 .5h.9m-.9 2.5h.9m-.9 6.5h.9m-.9 4h.9m-.9 2h.9m-.9 6.5h.9m-.9 19h.9m-.4-44.5h.9m-.9 1.5h.9m-.4-4h.9m-.9 9.5h.9m-.9 1h.9m-.9 2h.9m-.9 3h.9m-.9 .5h.9m-.9 .5h.9m-.9 2h.9m-.4-17.5h.9m-.9 .5h.9m-.9 .5h.9m-.9 7.5h.9m-.9 19h.9m-.9 .5h.9m-.4-29h.9m-.9 .5h.9m-.9 .5h.9m-.9 6h.9m-.9 17.5h.9m-.9 1h.9m-.4-25.5h.9m-.9 4h.9m-.9 1.5h.9m-.9 .5h.9m-.9 18h.9m-.9 3h.9m-.9 10.5h.9m-.4-35h.9m-.9 1h.9m-.9 2.5h.9m-.9 1.5h.9m-.9 1h.9m-.9 5.5h.9m-.9 3.5h.9m-.9 8h.9m-.9 13.5h.9m-.4-39h.9m-.9 .5h.9m-.9 1.5h.9m-.9 8h.9m-.4-10h.9m-.9 .5h.9m-.9 1h.9m-.9 3h.9m-.9 3.5h.9m-.9 6.5h.9m-.9 15.5h.9m-.9 2h.9m-.4-33h.9m-.9 3.5h.9m-.9 1.5h.9m-.9 3h.9m-.9 7h.9m-.9 2h.9m-.4-15h.9m-.9 1.5h.9m-.9 3.5h.9m-.9 3.5h.9m-.9 21.5h.9m-.4-32h.9m-.9 1h.9m-.9 .5h.9m-.9 2h.9m-.9 8.5h.9m-.9 .5h.9m-.9 15.5h.9m-.4-28.5h.9m-.9 .5h.9m-.9 .5h.9m-.9 .5h.9m-.9 1h.9m-.9 6h.9m-.9 1h.9m-.9 3.5h.9m-.9 1.5h.9m-.9 1h.9m-.9 15h.9m-.9 7h.9m-.9 1h.9m-.4-37.5h.9m-.9 1h.9m-.9 3h.9m-.9 1.5h.9m-.9 1h.9m-.9 .5h.9m-.9 .5h.9m-.9 2.5h.9m-.9 5.5h.9m-.9 1h.9m-.9 21h.9m-.4-38h.9m-.9 .5h.9m-.9 1.5h.9m-.9 1h.9m-.9 1.5h.9m-.9 2h.9m-.9 12.5h.9m-.9 2h.9m-.9 7h.9m-.9 2h.9m-.4-30h.9m-.9 .5h.9m-.9 1.5h.9m-.9 2h.9m-.9 2h.9m-.9 2.5h.9m-.9 5h.9m-.9 9h.9m-.9 7.5h.9m-.9 1.5h.9m-.4-27h.9m-.9 1.5h.9m-.9 .5h.9m-.9 13.5h.9m-.9 .5h.9m-.9 1h.9m-.4-18.5h.9m-.9 1h.9m-.9 .5h.9m-.9 .5h.9m-.9 .5h.9m-.9 .5h.9m-.9 9.5h.9m-.9 5.5h.9m-.9 12.5h.9m-.4-34h.9m-.9 .5h.9m-.9 1h.9m-.9 4h.9m-.9 .5h.9m-.9 1h.9m-.9 2h.9m-.9 1.5h.9m-.9 5h.9m-.9 3h.9m-.9 3h.9m-.9 2.5h.9m-.9 2h.9m-.9 9.5h.9m-.4-35.5h.9m-.9 2h.9m-.9 1h.9m-.9 .5h.9m-.9 1h.9m-.9 .5h.9m-.9 1h.9m-.9 .5h.9m-.9 2h.9m-.9 15h.9m-.9 12h.9m-.4-35.5h.9m-.9 2h.9m-.9 .5h.9m-.9 .5h.9m-.9 .5h.9m-.9 2.5h.9m-.9 .5h.9m-.9 3h.9m-.9 1.5h.9m-.9 17.5h.9m-.9 11h.9m-.4-40h.9m-.9 .5h.9m-.9 1h.9m-.9 1h.9m-.9 1h.9m-.9 .5h.9m-.9 9h.9m-.9 1h.9m-.9 1h.9m-.9 15h.9m-.9 2h.9m-.9 6h.9m-.4-38h.9m-.9 .5h.9m-.9 1h.9m-.9 1h.9m-.9 2h.9m-.9 .5h.9m-.9 1h.9m-.9 2.5h.9m-.9 4.5h.9m-.9 4h.9m-.9 3h.9m-.9 5h.9m-.9 15h.9m-.4-40h.9m-.9 2h.9m-.9 1.5h.9m-.9 1h.9m-.9 1h.9m-.9 .5h.9m-.9 .5h.9m-.9 2h.9m-.9 2.5h.9m-.9 2.5h.9m-.9 .5h.9m-.9 .5h.9m-.9 4h.9m-.4-19h.9m-.9 1h.9m-.9 1h.9m-.9 .5h.9m-.9 .5h.9m-.9 .5h.9m-.9 .5h.9m-.9 2h.9m-.9 .5h.9m-.9 1.5h.9m-.9 .5h.9m-.9 .5h.9m-.9 1h.9m-.9 14h.9m-.9 3.5h.9m-.9 2h.9m-.9 1h.9m-.9 2.5h.9m-.9 1.5h.9m-.4-33.5h.9m-.9 1.5h.9m-.9 1.5h.9m-.9 .5h.9m-.9 1h.9m-.9 3.5h.9m-.9 5h.9m-.9 1h.9m-.9 1.5h.9m-.9 .5h.9m-.9 4h.9m-.9 19h.9m-.4-40h.9m-.9 .5h.9m-.9 .5h.9m-.9 1.5h.9m-.9 .5h.9m-.9 1.5h.9m-.9 2h.9m-.9 2.5h.9m-.9 3.5h.9m-.9 1h.9m-.4-12.5h.9m-.9 1h.9m-.9 .5h.9m-.9 .5h.9m-.9 .5h.9m-.9 3.5h.9m-.9 4.5h.9m-.9 .5h.9m-.9 4.5h.9m-.9 5.5h.9m-.9 2.5h.9m-.9 10.5h.9m-.4-35h.9m-.9 1h.9m-.9 1h.9m-.9 .5h.9m-.9 .5h.9m-.9 .5h.9m-.9 4.5h.9m-.9 1.5h.9m-.9 3h.9m-.9 1h.9m-.9 2h.9m-.9 7h.9m-.9 2.5h.9m-.4-25h.9m-.9 .5h.9m-.9 .5h.9m-.9 1h.9m-.9 .5h.9m-.9 1h.9m-.9 2.5h.9m-.9 .5h.9m-.9 1h.9m-.9 .5h.9m-.9 4.5h.9m-.9 1.5h.9m-.9 .5h.9m-.9 14.5h.9m-.4-29.5h.9m-.9 .5h.9m-.9 2.5h.9m-.9 1.5h.9m-.9 1h.9m-.9 .5h.9m-.9 1.5h.9m-.9 1h.9m-.9 1h.9m-.9 1.5h.9m-.9 2.5h.9m-.9 1.5h.9m-.9 2.5h.9m-.9 6h.9m-.9 7.5h.9m-.4-30.5h.9m-.9 .5h.9m-.9 1.5h.9m-.9 .5h.9m-.9 .5h.9m-.9 2h.9m-.9 .5h.9m-.9 3h.9m-.9 4.5h.9m-.9 2h.9m-.9 1.5h.9m-.9 1h.9m-.9 2.5h.9m-.4-20h.9m-.9 .5h.9m-.9 .5h.9m-.9 .5h.9m-.9 .5h.9m-.9 .5h.9m-.9 .5h.9m-.9 5h.9m-.9 1h.9m-.9 3.5h.9m-.9 1h.9m-.9 1.5h.9m-.9 2h.9m-.9 1h.9m-.9 1h.9m-.9 3.5h.9m-.9 1h.9m-.4-23h.9m-.9 1.5h.9m-.9 .5h.9m-.9 1h.9m-.9 .5h.9m-.9 1.5h.9m-.9 1h.9m-.9 2h.9m-.9 2.5h.9m-.9 .5h.9m-.9 1h.9m-.9 19h.9m-.4-32h.9m-.9 1h.9m-.9 .5h.9m-.9 .5h.9m-.9 3.5h.9m-.9 .5h.9m-.9 1h.9m-.9 3h.9m-.9 4.5h.9m-.9 .5h.9m-.9 1.5h.9m-.9 3h.9m-.9 6h.9m-.4-25.5h.9m-.9 .5h.9m-.9 1.5h.9m-.9 1h.9m-.9 1h.9m-.9 1.5h.9m-.9 1.5h.9m-.9 .5h.9m-.9 .5h.9m-.9 1h.9m-.9 1h.9m-.9 1h.9m-.9 .5h.9m-.9 .5h.9m-.9 .5h.9m-.9 1h.9m-.9 4.5h.9m-.9 6.5h.9m-.9 3h.9m-.4-27.5h.9m-.9 1h.9m-.9 .5h.9m-.9 .5h.9m-.9 5.5h.9m-.9 .5h.9m-.9 1h.9m-.9 33.5h.9m-.4-42.5h.9m-.9 1.5h.9m-.9 .5h.9m-.9 .5h.9m-.9 .5h.9m-.9 3h.9m-.9 5.5h.9m-.9 4.5h.9m-.9 3h.9m-.9 4h.9m-.9 3.5h.9m-.9 5h.9m-.4-32h.9m-.9 .5h.9m-.9 .5h.9m-.9 .5h.9m-.9 1.5h.9m-.9 1h.9m-.9 1h.9m-.9 2.5h.9m-.9 .5h.9m-.9 .5h.9m-.9 2h.9m-.9 .5h.9m-.9 1h.9m-.9 1h.9m-.9 .5h.9m-.9 .5h.9m-.9 .5h.9m-.9 6h.9m-.9 .5h.9m-.9 14.5h.9m-.9 1.5h.9m-.4-36.5h.9m-.9 1.5h.9m-.9 3.5h.9m-.9 1h.9m-.9 1h.9m-.9 .5h.9m-.9 .5h.9m-.9 .5h.9m-.9 1h.9m-.9 2.5h.9m-.9 1h.9m-.9 .5h.9m-.9 2.5h.9m-.9 5h.9m-.9 5h.9m-.9 6.5h.9m-.4-32.5h.9m-.9 1h.9m-.9 2h.9m-.9 .5h.9m-.9 .5h.9m-.9 .5h.9m-.9 1h.9m-.9 2.5h.9m-.9 1h.9m-.9 2h.9m-.9 2.5h.9m-.9 2.5h.9m-.9 1.5h.9m-.9 11h.9m-.9 4h.9m-.9 1.5h.9m-.4-34.5h.9m-.9 1h.9m-.9 1h.9m-.9 1h.9m-.9 .5h.9m-.9 1.5h.9m-.9 .5h.9m-.9 1.5h.9m-.9 .5h.9m-.9 1h.9m-.9 4.5h.9m-.9 6.5h.9m-.9 4h.9m-.9 10.5h.9m-.9 2.5h.9m-.9 2.5h.9m-.4-39h.9m-.9 .5h.9m-.9 1.5h.9m-.9 .5h.9m-.9 .5h.9m-.9 .5h.9m-.9 .5h.9m-.9 .5h.9m-.9 1h.9m-.9 3.5h.9m-.9 .5h.9m-.9 .5h.9m-.9 1h.9m-.9 2h.9m-.9 3h.9m-.9 3h.9m-.9 10.5h.9m-.9 2h.9m-.9 3.5h.9m-.9 6.5h.9m-.4-41.5h.9m-.9 .5h.9m-.9 .5h.9m-.9 .5h.9m-.9 .5h.9m-.9 .5h.9m-.9 1.5h.9m-.9 .5h.9m-.9 .5h.9m-.9 1h.9m-.9 1h.9m-.9 1.5h.9m-.9 1h.9m-.9 .5h.9m-.9 4.5h.9m-.9 6.5h.9m-.9 4h.9m-.9 13.5h.9m-.4-37.5h.9m-.9 .5h.9m-.9 .5h.9m-.9 1h.9m-.9 .5h.9m-.9 1.5h.9m-.9 1.5h.9m-.9 1.5h.9m-.9 5h.9m-.9 3h.9m-.9 6h.9m-.9 8.5h.9m-.9 .5h.9m-.4-31h.9m-.9 1h.9m-.9 .5h.9m-.9 .5h.9m-.9 3h.9m-.9 1.5h.9m-.9 2h.9m-.9 .5h.9m-.9 .5h.9m-.9 2.5h.9m-.9 .5h.9m-.9 .5h.9m-.9 1.5h.9m-.9 1h.9m-.9 4.5h.9m-.9 .5h.9m-.4-20.5h.9m-.9 .5h.9m-.9 .5h.9m-.9 .5h.9m-.9 .5h.9m-.9 1h.9m-.9 .5h.9m-.9 .5h.9m-.9 2h.9m-.9 1h.9m-.9 3h.9m-.9 1h.9m-.9 .5h.9m-.9 4.5h.9m-.9 4.5h.9m-.9 15h.9m-.9 .5h.9m-.4-36h.9m-.9 2.5h.9m-.9 2h.9m-.9 2.5h.9m-.9 1.5h.9m-.9 3.5h.9m-.9 3.5h.9m-.9 .5h.9m-.9 1.5h.9m-.9 .5h.9m-.9 .5h.9m-.9 .5h.9m-.9 12.5h.9m-.9 .5h.9m-.9 3h.9m-.4-34h.9m-.9 1.5h.9m-.9 1.5h.9m-.9 .5h.9m-.9 3h.9m-.9 .5h.9m-.9 2.5h.9m-.9 .5h.9m-.9 1h.9m-.9 .5h.9m-.9 1h.9m-.9 .5h.9m-.9 5.5h.9m-.9 5.5h.9m-.9 7.5h.9m-.9 4h.9m-.4-36.5h.9m-.9 .5h.9m-.9 1h.9m-.9 1h.9m-.9 1.5h.9m-.9 .5h.9m-.9 .5h.9m-.9 1h.9m-.9 3.5h.9m-.9 1h.9m-.9 .5h.9m-.9 .5h.9m-.9 1h.9m-.9 .5h.9m-.9 .5h.9m-.9 7.5h.9m-.9 2.5h.9m-.9 10h.9m-.9 1h.9m-.9 2h.9m-.4-36h.9m-.9 .5h.9m-.9 .5h.9m-.9 1.5h.9m-.9 .5h.9m-.9 2h.9m-.9 1.5h.9m-.9 1h.9m-.9 1h.9m-.9 5h.9m-.9 2.5h.9m-.9 4h.9m-.9 .5h.9m-.9 6.5h.9m-.9 1.5h.9m-.9 6h.9m-.4-34.5h.9m-.9 1h.9m-.9 .5h.9m-.9 .5h.9m-.9 .5h.9m-.9 .5h.9m-.9 .5h.9m-.9 .5h.9m-.9 .5h.9m-.9 1h.9m-.9 1.5h.9m-.9 .5h.9m-.9 2h.9m-.9 .5h.9m-.9 .5h.9m-.9 .5h.9m-.9 2h.9m-.9 1.5h.9m-.9 1h.9m-.9 7.5h.9m-.9 10h.9m-.4-34h.9m-.9 1h.9m-.9 .5h.9m-.9 1h.9m-.9 2h.9m-.9 3h.9m-.9 .5h.9m-.9 .5h.9m-.9 1.5h.9m-.9 .5h.9m-.9 .5h.9m-.9 1h.9m-.9 2.5h.9m-.9 2.5h.9m-.9 1h.9m-.9 1.5h.9m-.9 .5h.9m-.9 2h.9m-.9 1h.9m-.9 5h.9m-.9 3h.9m-.9 1.5h.9m-.9 5.5h.9m-.4-38h.9m-.9 .5h.9m-.9 1h.9m-.9 .5h.9m-.9 1h.9m-.9 .5h.9m-.9 1h.9m-.9 4.5h.9m-.9 1h.9m-.9 5.5h.9m-.9 3h.9m-.9 .5h.9m-.9 5h.9m-.9 2.5h.9m-.9 4.5h.9m-.9 6h.9m-.4-37h.9m-.9 1h.9m-.9 .5h.9m-.9 .5h.9m-.9 .5h.9m-.9 .5h.9m-.9 .5h.9m-.9 .5h.9m-.9 1h.9m-.9 1h.9m-.9 .5h.9m-.9 .5h.9m-.9 2.5h.9m-.9 1.5h.9m-.9 10.5h.9m-.9 10.5h.9m-.4-32h.9m-.9 1.5h.9m-.9 .5h.9m-.9 .5h.9m-.9 .5h.9m-.9 1h.9m-.9 .5h.9m-.9 1h.9m-.9 .5h.9m-.9 .5h.9m-.9 .5h.9m-.9 1.5h.9m-.9 .5h.9m-.9 1h.9m-.9 1h.9m-.9 1.5h.9m-.9 1h.9m-.9 1.5h.9m-.9 1h.9m-.9 4h.9m-.9 7.5h.9m-.9 9h.9m-.4-36h.9m-.9 .5h.9m-.9 .5h.9m-.9 1h.9m-.9 3h.9m-.9 1h.9m-.9 .5h.9m-.9 .5h.9m-.9 .5h.9m-.9 2h.9m-.9 3h.9m-.9 3.5h.9m-.9 .5h.9m-.9 .5h.9m-.9 .5h.9m-.9 2h.9m-.9 8h.9m-.9 .5h.9m-.9 9.5h.9m-.4-36.5h.9m-.9 1h.9m-.9 1h.9m-.9 1.5h.9m-.9 .5h.9m-.9 2.5h.9m-.9 .5h.9m-.9 .5h.9m-.9 7h.9m-.9 2.5h.9m-.9 6h.9m-.9 7h.9m-.9 4.5h.9m-.4-35h.9m-.9 .5h.9m-.9 .5h.9m-.9 .5h.9m-.9 .5h.9m-.9 .5h.9m-.9 2.5h.9m-.9 1h.9m-.9 .5h.9m-.9 2.5h.9m-.9 1h.9m-.9 1h.9m-.9 4h.9m-.9 3.5h.9m-.9 1h.9m-.9 4.5h.9m-.9 1.5h.9m-.9 12.5h.9m-.4-38h.9m-.9 .5h.9m-.9 1.5h.9m-.9 .5h.9m-.9 .5h.9m-.9 .5h.9m-.9 .5h.9m-.9 .5h.9m-.9 .5h.9m-.9 .5h.9m-.9 .5h.9m-.9 .5h.9m-.9 3h.9m-.9 .5h.9m-.9 2h.9m-.9 17.5h.9m-.9 2h.9m-.4-33h.9m-.9 2.5h.9m-.9 .5h.9m-.9 .5h.9m-.9 1.5h.9m-.9 .5h.9m-.9 .5h.9m-.9 1.5h.9m-.9 1h.9m-.9 2h.9m-.9 .5h.9m-.9 2h.9m-.9 .5h.9m-.9 3h.9m-.9 .5h.9m-.9 4.5h.9m-.9 10h.9m-.9 10.5h.9m-.4-40.5h.9m-.9 1h.9m-.9 .5h.9m-.9 .5h.9m-.9 1h.9m-.9 1.5h.9m-.9 .5h.9m-.9 .5h.9m-.9 1.5h.9m-.9 1h.9m-.9 1h.9m-.9 .5h.9m-.9 .5h.9m-.9 2h.9m-.9 6.5h.9m-.9 .5h.9m-.9 3.5h.9m-.9 9h.9m-.4-32h.9m-.9 1.5h.9m-.9 .5h.9m-.9 .5h.9m-.9 .5h.9m-.9 .5h.9m-.9 .5h.9m-.9 .5h.9m-.9 .5h.9m-.9 2.5h.9m-.9 .5h.9m-.9 .5h.9m-.9 .5h.9m-.9 3.5h.9m-.9 3.5h.9m-.9 2.5h.9m-.9 .5h.9m-.9 .5h.9m-.9 .5h.9m-.9 1h.9m-.9 2h.9m-.9 2.5h.9m-.9 3.5h.9m-.4-30h.9m-.9 2.5h.9m-.9 1h.9m-.9 1h.9m-.9 1h.9m-.9 .5h.9m-.9 .5h.9m-.9 .5h.9m-.9 .5h.9m-.9 1h.9m-.9 5.5h.9m-.9 4.5h.9m-.9 3h.9m-.9 1h.9m-.9 13h.9m-.4-34.5h.9m-.9 1.5h.9m-.9 .5h.9m-.9 1h.9m-.9 1h.9m-.9 .5h.9m-.9 1.5h.9m-.9 1h.9m-.9 1.5h.9m-.9 .5h.9m-.9 .5h.9m-.9 6.5h.9m-.9 6h.9m-.9 8.5h.9m-.9 1h.9m-.4-31.5h.9m-.9 2.5h.9m-.9 .5h.9m-.9 .5h.9m-.9 .5h.9m-.9 .5h.9m-.9 .5h.9m-.9 1h.9m-.9 1h.9m-.9 1h.9m-.9 2h.9m-.9 .5h.9m-.9 1h.9m-.9 8h.9m-.9 3h.9m-.9 3.5h.9m-.9 .5h.9m-.9 1.5h.9m-.9 1h.9m-.9 .5h.9m-.4-29.5h.9m-.9 .5h.9m-.9 1.5h.9m-.9 .5h.9m-.9 .5h.9m-.9 1.5h.9m-.9 2h.9m-.9 1h.9m-.9 4.5h.9m-.9 4h.9m-.9 3h.9m-.9 .5h.9m-.9 4h.9m-.9 11h.9m-.4-35.5h.9m-.9 1h.9m-.9 1.5h.9m-.9 1h.9m-.9 .5h.9m-.9 1h.9m-.9 1.5h.9m-.9 .5h.9m-.9 .5h.9m-.9 2.5h.9m-.9 1.5h.9m-.9 .5h.9m-.9 .5h.9m-.9 3h.9m-.9 1.5h.9m-.9 13h.9m-.4-30.5h.9m-.9 .5h.9m-.9 .5h.9m-.9 .5h.9m-.9 1.5h.9m-.9 .5h.9m-.9 2h.9m-.9 1h.9m-.9 2.5h.9m-.9 .5h.9m-.9 .5h.9m-.9 .5h.9m-.9 1h.9m-.9 2h.9m-.9 3.5h.9m-.9 3h.9m-.9 3h.9m-.9 11h.9m-.4-32.5h.9m-.9 1.5h.9m-.9 .5h.9m-.9 1h.9m-.9 .5h.9m-.9 1.5h.9m-.9 1.5h.9m-.9 .5h.9m-.9 1h.9m-.9 .5h.9m-.9 1.5h.9m-.9 .5h.9m-.9 1.5h.9m-.9 1h.9m-.9 5.5h.9m-.9 2.5h.9m-.9 1h.9m-.4-23.5h.9m-.9 1h.9m-.9 1.5h.9m-.9 1h.9m-.9 .5h.9m-.9 1h.9m-.9 .5h.9m-.9 1h.9m-.9 1.5h.9m-.9 1h.9m-.9 2.5h.9m-.9 5h.9m-.9 2h.9m-.9 3h.9m-.9 12h.9m-.9 15.5h.9m-.4-48h.9m-.9 .5h.9m-.9 .5h.9m-.9 1h.9m-.9 1h.9m-.9 .5h.9m-.9 2h.9m-.9 1.5h.9m-.9 2h.9m-.9 .5h.9m-.9 3h.9m-.9 2h.9m-.9 .5h.9m-.9 1h.9m-.9 1.5h.9m-.9 10.5h.9m-.9 1h.9m-.9 .5h.9m-.4-29.5h.9m-.9 .5h.9m-.9 1h.9m-.9 1h.9m-.9 1h.9m-.9 .5h.9m-.9 .5h.9m-.9 1h.9m-.9 1h.9m-.9 .5h.9m-.9 .5h.9m-.9 1.5h.9m-.9 1.5h.9m-.9 5h.9m-.9 1.5h.9m-.9 .5h.9m-.9 3.5h.9m-.9 .5h.9m-.9 1.5h.9m-.9 7h.9m-.4-31h.9m-.9 1h.9m-.9 2h.9m-.9 1h.9m-.9 .5h.9m-.9 .5h.9m-.9 .5h.9m-.9 .5h.9m-.9 .5h.9m-.9 .5h.9m-.9 2h.9m-.9 1.5h.9m-.9 4h.9m-.9 6h.9m-.9 3h.9m-.4-22.5h.9m-.9 2h.9m-.9 .5h.9m-.9 .5h.9m-.9 .5h.9m-.9 .5h.9m-.9 1h.9m-.9 .5h.9m-.9 .5h.9m-.9 2.5h.9m-.9 .5h.9m-.9 1h.9m-.9 3h.9m-.9 3.5h.9m-.9 .5h.9m-.9 2h.9m-.9 9h.9m-.4-29h.9m-.9 .5h.9m-.9 1h.9m-.9 1h.9m-.9 .5h.9m-.9 .5h.9m-.9 1h.9m-.9 1h.9m-.9 .5h.9m-.9 .5h.9m-.9 1h.9m-.9 .5h.9m-.9 1h.9m-.9 .5h.9m-.9 .5h.9m-.9 .5h.9m-.9 5h.9m-.9 1.5h.9m-.9 14.5h.9m-.4-31.5h.9m-.9 .5h.9m-.9 1h.9m-.9 1.5h.9m-.9 .5h.9m-.9 .5h.9m-.9 .5h.9m-.9 .5h.9m-.9 .5h.9m-.9 .5h.9m-.9 1h.9m-.9 .5h.9m-.9 2.5h.9m-.9 1.5h.9m-.9 3.5h.9m-.9 2h.9m-.9 2.5h.9m-.9 2h.9m-.9 .5h.9m-.9 2.5h.9m-.9 .5h.9m-.9 2h.9m-.9 4h.9m-.9 1h.9m-.4-31h.9m-.9 .5h.9m-.9 .5h.9m-.9 1h.9m-.9 .5h.9m-.9 .5h.9m-.9 .5h.9m-.9 .5h.9m-.9 1.5h.9m-.9 1h.9m-.9 2h.9m-.9 .5h.9m-.9 1.5h.9m-.9 2h.9m-.9 3h.9m-.9 7h.9m-.4-23.5h.9m-.9 .5h.9m-.9 .5h.9m-.9 1h.9m-.9 .5h.9m-.9 .5h.9m-.9 1h.9m-.9 .5h.9m-.9 .5h.9m-.9 .5h.9m-.9 1h.9m-.9 .5h.9m-.9 .5h.9m-.9 .5h.9m-.9 1h.9m-.9 .5h.9m-.9 1h.9m-.9 1h.9m-.9 2h.9m-.9 4h.9m-.9 .5h.9m-.9 .5h.9m-.9 13h.9m-.4-29.5h.9m-.9 1h.9m-.9 .5h.9m-.9 .5h.9m-.9 1h.9m-.9 1.5h.9m-.9 1.5h.9m-.9 1h.9m-.9 2h.9m-.9 1h.9m-.9 5h.9m-.9 6.5h.9m-.9 1h.9m-.9 23.5h.9m-.4-46h.9m-.9 .5h.9m-.9 1h.9m-.9 .5h.9m-.9 .5h.9m-.9 1h.9m-.9 1h.9m-.9 .5h.9m-.9 .5h.9m-.9 .5h.9m-.9 .5h.9m-.9 1h.9m-.9 6.5h.9m-.9 4.5h.9m-.9 1.5h.9m-.9 5h.9m-.9 .5h.9m-.9 2.5h.9m-.4-30.5h.9m-.9 1.5h.9m-.9 2h.9m-.9 .5h.9m-.9 .5h.9m-.9 .5h.9m-.9 1h.9m-.9 .5h.9m-.9 1.5h.9m-.9 .5h.9m-.9 1h.9m-.9 1.5h.9m-.9 1h.9m-.9 6h.9m-.9 3h.9m-.9 3.5h.9m-.9 .5h.9m-.9 .5h.9m-.4-24.5h.9m-.9 2.5h.9m-.9 1.5h.9m-.9 .5h.9m-.9 .5h.9m-.9 .5h.9m-.9 .5h.9m-.9 .5h.9m-.9 1h.9m-.9 1h.9m-.9 1h.9m-.9 1h.9m-.9 5.5h.9m-.9 3h.9m-.9 9.5h.9m-.4-27.5h.9m-.9 .5h.9m-.9 1.5h.9m-.9 1h.9m-.9 1h.9m-.9 .5h.9m-.9 1h.9m-.9 .5h.9m-.9 2.5h.9m-.9 1.5h.9m-.9 .5h.9m-.9 1h.9m-.9 2h.9m-.9 2.5h.9m-.9 .5h.9m-.9 .5h.9m-.9 7h.9m-.4-25.5h.9m-.9 .5h.9m-.9 2h.9m-.9 .5h.9m-.9 .5h.9m-.9 2h.9m-.9 1.5h.9m-.9 .5h.9m-.9 1h.9m-.9 1h.9m-.9 .5h.9m-.9 1h.9m-.9 .5h.9m-.9 .5h.9m-.9 2h.9m-.9 3h.9m-.9 1h.9m-.9 4.5h.9m-.9 18.5h.9m-.4-41.5h.9m-.9 .5h.9m-.9 .5h.9m-.9 .5h.9m-.9 .5h.9m-.9 2.5h.9m-.9 1h.9m-.9 1h.9m-.9 1h.9m-.9 .5h.9m-.9 1h.9m-.9 1h.9m-.9 1h.9m-.9 1.5h.9m-.9 3.5h.9m-.9 .5h.9m-.9 .5h.9m-.9 1h.9m-.9 2h.9m-.9 1.5h.9m-.9 4.5h.9m-.9 1h.9m-.9 3.5h.9m-.9 25h.9m-.4-52.5h.9m-.9 1h.9m-.9 .5h.9m-.9 .5h.9m-.9 .5h.9m-.9 .5h.9m-.9 2.5h.9m-.9 1h.9m-.9 .5h.9m-.9 .5h.9m-.9 .5h.9m-.9 1.5h.9m-.9 2h.9m-.9 2.5h.9m-.9 1.5h.9m-.9 8h.9m-.9 1h.9m-.4-27.5h.9m-.9 .5h.9m-.9 .5h.9m-.9 .5h.9m-.9 1.5h.9m-.9 1h.9m-.9 1.5h.9m-.9 3.5h.9m-.9 2.5h.9m-.9 .5h.9m-.9 7.5h.9m-.9 4.5h.9m-.9 1h.9m-.9 3h.9m-.9 2.5h.9m-.4-30h.9m-.9 1.5h.9m-.9 .5h.9m-.9 .5h.9m-.9 1.5h.9m-.9 .5h.9m-.9 1h.9m-.9 .5h.9m-.9 .5h.9m-.9 1h.9m-.9 1.5h.9m-.9 5h.9m-.9 4h.9m-.4-18.5h.9m-.9 .5h.9m-.9 .5h.9m-.9 .5h.9m-.9 1h.9m-.9 1h.9m-.9 .5h.9m-.9 1h.9m-.9 1h.9m-.9 .5h.9m-.9 2h.9m-.9 .5h.9m-.9 .5h.9m-.9 .5h.9m-.9 2h.9m-.9 1h.9m-.9 4h.9m-.9 3h.9m-.9 7.5h.9m-.9 1h.9m-.9 1.5h.9m-.4-27h.9m-.9 .5h.9m-.9 .5h.9m-.9 2.5h.9m-.9 1h.9m-.9 1h.9m-.9 1h.9m-.9 1h.9m-.9 .5h.9m-.9 2h.9m-.9 .5h.9m-.9 2.5h.9m-.9 1h.9m-.9 .5h.9m-.9 3h.9m-.9 2h.9m-.9 .5h.9m-.4-23h.9m-.9 .5h.9m-.9 .5h.9m-.9 1h.9m-.9 1.5h.9m-.9 .5h.9m-.9 1h.9m-.9 1h.9m-.9 .5h.9m-.9 .5h.9m-.9 .5h.9m-.9 1.5h.9m-.9 1h.9m-.9 .5h.9m-.9 1.5h.9m-.9 .5h.9m-.9 2h.9m-.4-14h.9m-.9 1.5h.9m-.9 .5h.9m-.9 .5h.9m-.9 .5h.9m-.9 .5h.9m-.9 .5h.9m-.9 .5h.9m-.9 1.5h.9m-.9 1h.9m-.9 .5h.9m-.9 2.5h.9m-.9 3.5h.9m-.9 1h.9m-.9 1.5h.9m-.9 2h.9m-.9 1h.9m-.9 2h.9m-.4-20.5h.9m-.9 1h.9m-.9 1h.9m-.9 .5h.9m-.9 1h.9m-.9 .5h.9m-.9 2h.9m-.9 .5h.9m-.9 .5h.9m-.9 .5h.9m-.9 3.5h.9m-.9 .5h.9m-.9 1h.9m-.9 .5h.9m-.9 2h.9m-.9 4h.9m-.4-20.5h.9m-.9 4h.9m-.9 1h.9m-.9 .5h.9m-.9 1h.9m-.9 .5h.9m-.9 .5h.9m-.9 .5h.9m-.9 1h.9m-.9 3h.9m-.9 .5h.9m-.9 2.5h.9m-.9 .5h.9m-.9 9h.9m-.4-24.5h.9m-.9 2h.9m-.9 1.5h.9m-.9 1h.9m-.9 .5h.9m-.9 .5h.9m-.9 1h.9m-.9 .5h.9m-.9 .5h.9m-.9 .5h.9m-.9 .5h.9m-.9 1h.9m-.9 .5h.9m-.9 .5h.9m-.9 2h.9m-.9 .5h.9m-.9 1.5h.9m-.9 1h.9m-.9 2.5h.9m-.9 1.5h.9m-.9 .5h.9m-.9 3h.9m-.4-22h.9m-.9 1.5h.9m-.9 .5h.9m-.9 1h.9m-.9 .5h.9m-.9 .5h.9m-.9 .5h.9m-.9 .5h.9m-.9 1h.9m-.9 .5h.9m-.9 1.5h.9m-.9 .5h.9m-.9 8.5h.9m-.9 4h.9m-.9 4.5h.9m-.4-26.5h.9m-.9 .5h.9m-.9 1h.9m-.9 .5h.9m-.9 1h.9m-.9 1h.9m-.9 .5h.9m-.9 1h.9m-.9 .5h.9m-.9 .5h.9m-.9 1h.9m-.9 .5h.9m-.9 .5h.9m-.9 .5h.9m-.9 .5h.9m-.9 5h.9m-.9 3h.9m-.4-17h.9m-.9 .5h.9m-.9 .5h.9m-.9 .5h.9m-.9 .5h.9m-.9 1h.9m-.9 1h.9m-.9 .5h.9m-.9 .5h.9m-.9 1h.9m-.9 1h.9m-.9 .5h.9m-.9 .5h.9m-.9 2h.9m-.9 3h.9m-.9 1h.9m-.9 1h.9m-.9 12.5h.9m-.4-25.5h.9m-.9 2h.9m-.9 .5h.9m-.9 .5h.9m-.9 1h.9m-.9 .5h.9m-.9 .5h.9m-.9 .5h.9m-.9 .5h.9m-.9 2h.9m-.9 2h.9m-.9 5.5h.9m-.9 1h.9m-.9 1h.9m-.9 4h.9m-.9 2h.9m-.4-25.5h.9m-.9 .5h.9m-.9 1h.9m-.9 2h.9m-.9 .5h.9m-.9 .5h.9m-.9 .5h.9m-.9 .5h.9m-.9 .5h.9m-.9 .5h.9m-.9 1.5h.9m-.9 1h.9m-.9 .5h.9m-.9 2.5h.9m-.9 .5h.9m-.9 4h.9m-.9 5h.9m-.4-22h.9m-.9 .5h.9m-.9 .5h.9m-.9 .5h.9m-.9 1h.9m-.9 .5h.9m-.9 1h.9m-.9 .5h.9m-.9 .5h.9m-.9 .5h.9m-.9 .5h.9m-.9 .5h.9m-.9 .5h.9m-.9 .5h.9m-.9 .5h.9m-.9 2.5h.9m-.9 .5h.9m-.9 .5h.9m-.9 1h.9m-.9 1.5h.9m-.9 .5h.9m-.9 9.5h.9m-.4-24h.9m-.9 .5h.9m-.9 1h.9m-.9 2h.9m-.9 .5h.9m-.9 .5h.9m-.9 1h.9m-.9 .5h.9m-.9 .5h.9m-.9 1.5h.9m-.9 .5h.9m-.9 3h.9m-.9 .5h.9m-.9 .5h.9m-.9 4h.9m-.9 .5h.9m-.9 2h.9m-.9 22.5h.9m-.4-38.5h.9m-.9 1.5h.9m-.9 .5h.9m-.9 1.5h.9m-.9 .5h.9m-.9 .5h.9m-.9 .5h.9m-.9 .5h.9m-.9 1h.9m-.9 1h.9m-.9 1.5h.9m-.9 1h.9m-.9 1.5h.9m-.4-14.5h.9m-.9 .5h.9m-.9 .5h.9m-.9 .5h.9m-.9 3h.9m-.9 1h.9m-.9 .5h.9m-.9 .5h.9m-.9 .5h.9m-.9 1.5h.9m-.9 1h.9m-.9 3h.9m-.9 .5h.9m-.9 .5h.9m-.9 1h.9m-.9 .5h.9m-.9 .5h.9m-.9 6.5h.9m-.9 1.5h.9m-.9 2.5h.9m-.9 7.5h.9m-.4-34h.9m-.9 .5h.9m-.9 .5h.9m-.9 3.5h.9m-.9 .5h.9m-.9 .5h.9m-.9 .5h.9m-.9 .5h.9m-.9 .5h.9m-.9 2.5h.9m-.9 1h.9m-.9 .5h.9m-.9 3.5h.9m-.9 1h.9m-.9 4.5h.9m-.9 7.5h.9m-.4-23.5h.9m-.9 1h.9m-.9 2h.9m-.9 1h.9m-.9 1h.9m-.9 .5h.9m-.9 1.5h.9m-.9 6h.9m-.9 4h.9m-.9 1h.9m-.9 2.5h.9m-.9 2.5h.9m-.4-24h.9m-.9 .5h.9m-.9 1h.9m-.9 1h.9m-.9 .5h.9m-.9 .5h.9m-.9 3h.9m-.9 1h.9m-.9 .5h.9m-.9 .5h.9m-.9 1.5h.9m-.9 3h.9m-.9 1.5h.9m-.9 3.5h.9m-.4-20h.9m-.9 1.5h.9m-.9 1.5h.9m-.9 .5h.9m-.9 .5h.9m-.9 .5h.9m-.9 1.5h.9m-.9 .5h.9m-.9 .5h.9m-.9 .5h.9m-.9 .5h.9m-.9 1h.9m-.9 1h.9m-.9 1.5h.9m-.9 .5h.9m-.9 4h.9m-.4-16h.9m-.9 1h.9m-.9 2h.9m-.9 1h.9m-.9 .5h.9m-.9 .5h.9m-.9 1h.9m-.9 1.5h.9m-.9 .5h.9m-.9 1h.9m-.9 2.5h.9m-.9 2h.9m-.9 .5h.9m-.9 1h.9m-.9 1h.9m-.9 2.5h.9m-.9 6.5h.9m-.4-26h.9m-.9 3.5h.9m-.9 1h.9m-.9 .5h.9m-.9 1h.9m-.9 .5h.9m-.9 .5h.9m-.4-6.5h.9m-.9 2.5h.9m-.9 .5h.9m-.9 .5h.9m-.9 .5h.9m-.9 .5h.9m-.9 1h.9m-.9 2h.9m-.9 1h.9m-.9 .5h.9m-.9 .5h.9m-.9 1.5h.9m-.9 .5h.9m-.9 2h.9m-.9 .5h.9m-.9 2.5h.9m-.9 1.5h.9m-.9 1.5h.9m-.4-19h.9m-.9 1h.9m-.9 2h.9m-.9 .5h.9m-.9 2h.9m-.9 .5h.9m-.9 1.5h.9m-.9 .5h.9m-.9 .5h.9m-.9 4h.9m-.9 .5h.9m-.9 1h.9m-.9 .5h.9m-.9 3.5h.9m-.9 1h.9m-.9 .5h.9m-.9 1.5h.9m-.9 1.5h.9m-.4-21.5h.9m-.9 .5h.9m-.9 2.5h.9m-.9 .5h.9m-.9 .5h.9m-.9 2.5h.9m-.9 3.5h.9m-.9 2h.9m-.9 2h.9m-.9 2h.9m-.9 1.5h.9m-.9 6h.9m-.4-24h.9m-.9 1.5h.9m-.9 1h.9m-.9 1h.9m-.9 1h.9m-.9 1h.9m-.9 .5h.9m-.9 1.5h.9m-.9 3.5h.9m-.9 1h.9m-.9 .5h.9m-.9 2.5h.9m-.9 4.5h.9m-.9 4h.9m-.4-24.5h.9m-.9 3.5h.9m-.9 .5h.9m-.9 .5h.9m-.9 1h.9m-.9 .5h.9m-.9 .5h.9m-.9 .5h.9m-.9 .5h.9m-.9 1.5h.9m-.9 .5h.9m-.9 5h.9m-.9 1.5h.9m-.9 1h.9m-.9 4.5h.9m-.4-21.5h.9m-.9 2h.9m-.9 2.5h.9m-.9 .5h.9m-.9 1.5h.9m-.9 1h.9m-.9 .5h.9m-.9 .5h.9m-.9 .5h.9m-.9 .5h.9m-.9 .5h.9m-.9 1.5h.9m-.9 2h.9m-.9 2h.9m-.9 7h.9m-.9 2h.9m-.9 1.5h.9m-.4-24h.9m-.9 2h.9m-.9 1h.9m-.9 .5h.9m-.9 .5h.9m-.9 .5h.9m-.9 .5h.9m-.9 .5h.9m-.9 1h.9m-.9 .5h.9m-.9 1.5h.9m-.9 1h.9m-.9 .5h.9m-.9 2h.9m-.9 1h.9m-.9 1h.9m-.9 3.5h.9m-.9 .5h.9m-.9 1h.9m-.9 1.5h.9m-.4-22.5h.9m-.9 .5h.9m-.9 1h.9m-.9 1h.9m-.9 1h.9m-.9 .5h.9m-.9 .5h.9m-.9 .5h.9m-.9 .5h.9m-.9 1h.9m-.9 1h.9m-.9 1h.9m-.9 2.5h.9m-.9 6h.9m-.4-17.5h.9m-.9 1h.9m-.9 1.5h.9m-.9 1.5h.9m-.9 .5h.9m-.9 2.5h.9m-.9 .5h.9m-.9 1.5h.9m-.9 .5h.9m-.9 .5h.9m-.9 .5h.9m-.9 1h.9m-.9 3h.9m-.9 1h.9m-.9 22h.9m-.4-37.5h.9m-.9 1h.9m-.9 2.5h.9m-.9 1h.9m-.9 .5h.9m-.9 1h.9m-.9 .5h.9m-.9 1h.9m-.9 1.5h.9m-.9 1.5h.9m-.9 1.5h.9m-.9 1.5h.9m-.9 3h.9m-.9 4h.9m-.9 1.5h.9m-.4-22h.9m-.9 1.5h.9m-.9 .5h.9m-.9 1h.9m-.9 1h.9m-.9 .5h.9m-.9 .5h.9m-.9 1h.9m-.9 2h.9m-.9 1h.9m-.9 1.5h.9m-.9 .5h.9m-.9 3h.9m-.9 2.5h.9m-.9 .5h.9m-.9 1.5h.9m-.9 2.5h.9m-.4-21h.9m-.9 .5h.9m-.9 .5h.9m-.9 4h.9m-.9 .5h.9m-.9 .5h.9m-.9 1h.9m-.9 .5h.9m-.9 .5h.9m-.9 1.5h.9m-.9 3h.9m-.9 1.5h.9m-.9 .5h.9m-.9 3.5h.9m-.9 .5h.9m-.9 1.5h.9m-.4-20h.9m-.9 .5h.9m-.9 .5h.9m-.9 .5h.9m-.9 .5h.9m-.9 1h.9m-.9 .5h.9m-.9 .5h.9m-.9 .5h.9m-.9 .5h.9m-.9 1.5h.9m-.9 .5h.9m-.9 1h.9m-.9 .5h.9m-.9 3.5h.9m-.9 3h.9m-.9 2h.9m-.9 1h.9m-.9 2.5h.9m-.9 2h.9m-.9 5.5h.9m-.4-28h.9m-.9 .5h.9m-.9 .5h.9m-.9 1h.9m-.9 2h.9m-.9 .5h.9m-.9 1h.9m-.9 1h.9m-.9 1.5h.9m-.9 1h.9m-.9 4.5h.9m-.9 1.5h.9m-.9 1h.9m-.9 3h.9m-.9 10h.9m-.4-29h.9m-.9 1h.9m-.9 .5h.9m-.9 .5h.9m-.9 2h.9m-.9 .5h.9m-.9 .5h.9m-.9 1h.9m-.9 .5h.9m-.9 .5h.9m-.9 2h.9m-.9 .5h.9m-.9 .5h.9m-.9 .5h.9m-.9 4h.9m-.4-14.5h.9m-.9 2h.9m-.9 2h.9m-.9 1h.9m-.9 .5h.9m-.9 4h.9m-.9 4.5h.9m-.9 1.5h.9m-.9 2h.9m-.4-17h.9m-.9 1h.9m-.9 .5h.9m-.9 1h.9m-.9 1.5h.9m-.9 .5h.9m-.9 .5h.9m-.9 .5h.9m-.9 1.5h.9m-.9 .5h.9m-.9 3h.9m-.9 1.5h.9m-.9 1.5h.9m-.9 1.5h.9m-.9 3.5h.9m-.9 2.5h.9m-.4-21h.9m-.9 .5h.9m-.9 1.5h.9m-.9 .5h.9m-.9 1h.9m-.9 .5h.9m-.9 1.5h.9m-.9 .5h.9m-.9 .5h.9m-.9 .5h.9m-.9 1h.9m-.9 1h.9m-.9 1.5h.9m-.9 .5h.9m-.9 1h.9m-.9 1.5h.9m-.9 1h.9m-.9 7h.9m-.4-22.5h.9m-.9 1h.9m-.9 .5h.9m-.9 1.5h.9m-.9 1.5h.9m-.9 1.5h.9m-.9 .5h.9m-.9 .5h.9m-.9 1h.9m-.9 1.5h.9m-.9 1h.9m-.4-9h.9m-.9 1h.9m-.9 .5h.9m-.9 2h.9m-.9 .5h.9m-.9 .5h.9m-.9 3h.9m-.9 20.5h.9m-.4-28h.9m-.9 1h.9m-.9 1.5h.9m-.9 1.5h.9m-.9 .5h.9m-.9 1h.9m-.9 .5h.9m-.9 7h.9m-.9 8.5h.9m-.9 2h.9m-.4-25h.9m-.9 1h.9m-.9 .5h.9m-.9 1h.9m-.9 1h.9m-.9 1.5h.9m-.9 1h.9m-.9 1h.9m-.9 1h.9m-.9 1h.9m-.9 .5h.9m-.9 3h.9m-.9 1.5h.9m-.9 2.5h.9m-.9 .5h.9m-.9 1.5h.9m-.9 3h.9m-.4-21.5h.9m-.9 .5h.9m-.9 .5h.9m-.9 .5h.9m-.9 1h.9m-.9 .5h.9m-.9 .5h.9m-.9 1h.9m-.9 .5h.9m-.9 1h.9m-.9 1h.9m-.9 5h.9m-.9 2h.9m-.9 1h.9m-.9 1h.9m-.9 .5h.9m-.9 .5h.9m-.4-17h.9m-.9 1h.9m-.9 1.5h.9m-.9 1h.9m-.9 1h.9m-.9 1h.9m-.9 1h.9m-.9 .5h.9m-.9 .5h.9m-.9 2.5h.9m-.9 .5h.9m-.9 1.5h.9m-.9 1h.9m-.4-13h.9m-.9 .5h.9m-.9 .5h.9m-.9 .5h.9m-.9 .5h.9m-.9 .5h.9m-.9 1.5h.9m-.9 .5h.9m-.9 .5h.9m-.9 2h.9m-.9 .5h.9m-.9 1h.9m-.9 .5h.9m-.9 .5h.9m-.9 2.5h.9m-.9 1h.9m-.9 3.5h.9m-.9 1h.9m-.4-17h.9m-.9 1h.9m-.9 .5h.9m-.9 1h.9m-.9 1.5h.9m-.9 1.5h.9m-.9 .5h.9m-.9 1h.9m-.9 .5h.9m-.9 1.5h.9m-.9 5.5h.9m-.4-14.5h.9m-.9 .5h.9m-.9 .5h.9m-.9 .5h.9m-.9 .5h.9m-.9 1h.9m-.9 .5h.9m-.9 .5h.9m-.9 1.5h.9m-.9 1.5h.9m-.9 1.5h.9m-.9 2h.9m-.9 .5h.9m-.9 2h.9m-.9 .5h.9m-.9 1h.9m-.9 1h.9m-.9 1h.9m-.9 3.5h.9m-.4-19h.9m-.9 .5h.9m-.9 .5h.9m-.9 1.5h.9m-.9 .5h.9m-.9 1h.9m-.9 .5h.9m-.9 1h.9m-.9 1h.9m-.9 1.5h.9m-.9 1h.9m-.9 1h.9m-.9 2.5h.9m-.9 4.5h.9m-.4-18h.9m-.9 .5h.9m-.9 .5h.9m-.9 1.5h.9m-.9 1.5h.9m-.9 1h.9m-.9 1h.9m-.9 .5h.9m-.9 1h.9m-.9 .5h.9m-.9 1.5h.9m-.9 4h.9m-.4-13h.9m-.9 .5h.9m-.9 1h.9m-.9 1.5h.9m-.9 2h.9m-.9 .5h.9m-.9 .5h.9m-.9 1h.9m-.9 3h.9m-.9 7.5h.9m-.9 1h.9m-.9 2.5h.9m-.9 5h.9m-.4-27h.9m-.9 1.5h.9m-.9 2h.9m-.9 1h.9m-.9 1h.9m-.9 .5h.9m-.9 .5h.9m-.9 .5h.9m-.9 1h.9m-.9 2.5h.9m-.9 .5h.9m-.9 .5h.9m-.9 2.5h.9m-.9 7h.9m-.4-20.5h.9m-.9 .5h.9m-.9 1h.9m-.9 .5h.9m-.9 2.5h.9m-.9 1h.9m-.9 .5h.9m-.9 1h.9m-.9 .5h.9m-.9 .5h.9m-.9 1h.9m-.9 2h.9m-.9 6.5h.9m-.4-18h.9m-.9 1.5h.9m-.9 .5h.9m-.9 .5h.9m-.9 1h.9m-.9 1h.9m-.9 .5h.9m-.9 .5h.9m-.9 .5h.9m-.9 1h.9m-.9 2h.9m-.9 .5h.9m-.9 .5h.9m-.9 4h.9m-.4-14h.9m-.9 .5h.9m-.9 1.5h.9m-.9 2.5h.9m-.9 1h.9m-.9 .5h.9m-.9 1h.9m-.9 2h.9m-.9 2h.9m-.4-11h.9m-.9 .5h.9m-.9 3h.9m-.9 1h.9m-.9 .5h.9m-.9 .5h.9m-.9 .5h.9m-.9 1h.9m-.9 3h.9m-.9 .5h.9m-.9 .5h.9m-.9 1h.9m-.9 .5h.9m-.9 1.5h.9m-.9 1.5h.9m-.9 .5h.9m-.9 1h.9m-.4-17h.9m-.9 1h.9m-.9 3h.9m-.9 1h.9m-.9 1h.9m-.9 1h.9m-.9 2h.9m-.9 4h.9m-.9 3.5h.9m-.4-12.5h.9m-.9 1h.9m-.9 2h.9m-.9 1.5h.9m-.9 2h.9m-.9 1.5h.9m-.9 1h.9m-.9 1h.9m-.9 2.5h.9m-.9 2.5h.9m-.9 1h.9m-.4-19h.9m-.9 .5h.9m-.9 .5h.9m-.9 .5h.9m-.9 1h.9m-.9 .5h.9m-.9 .5h.9m-.9 .5h.9m-.9 1h.9m-.9 5h.9m-.9 2h.9m-.4-13h.9m-.9 .5h.9m-.9 .5h.9m-.9 .5h.9m-.9 .5h.9m-.9 1h.9m-.9 1h.9m-.9 .5h.9m-.9 2.5h.9m-.9 3h.9m-.9 .5h.9m-.4-10.5h.9m-.9 2h.9m-.9 1h.9m-.9 1.5h.9m-.9 .5h.9m-.9 .5h.9m-.9 3h.9m-.9 .5h.9m-.4-8.5h.9m-.9 .5h.9m-.9 .5h.9m-.9 .5h.9m-.9 1.5h.9m-.9 .5h.9m-.9 .5h.9m-.9 .5h.9m-.9 .5h.9m-.9 .5h.9m-.9 1h.9m-.9 .5h.9m-.9 1.5h.9m-.9 6.5h.9m-.4-15h.9m-.9 .5h.9m-.9 .5h.9m-.9 2.5h.9m-.9 1.5h.9m-.9 1h.9m-.9 1h.9m-.9 3h.9m-.9 3h.9m-.9 2.5h.9m-.4-15.5h.9m-.9 1h.9m-.9 1h.9m-.9 .5h.9m-.9 1h.9m-.9 1.5h.9m-.9 4h.9m-.9 1.5h.9m-.9 1h.9m-.9 1.5h.9m-.9 1h.9m-.9 1h.9m-.4-15.5h.9m-.9 1h.9m-.9 .5h.9m-.9 .5h.9m-.9 1.5h.9m-.9 .5h.9m-.9 .5h.9m-.9 1h.9m-.9 .5h.9m-.9 1h.9m-.9 4h.9m-.4-10.5h.9m-.9 1h.9m-.9 .5h.9m-.9 .5h.9m-.9 .5h.9m-.9 .5h.9m-.9 .5h.9m-.9 .5h.9m-.9 .5h.9m-.9 .5h.9m-.4-5.5h.9m-.9 1.5h.9m-.9 2.5h.9m-.9 .5h.9m-.9 1h.9m-.9 3.5h.9m-.9 2h.9m-.4-10.5h.9m-.9 1h.9m-.9 3h.9m-.9 .5h.9m-.9 1.5h.9m-.9 1h.9m-.9 1.5h.9m-.9 5.5h.9m-.9 .5h.9m-.4-15.5h.9m-.9 2h.9m-.9 2.5h.9m-.9 .5h.9m-.9 .5h.9m-.9 .5h.9m-.9 1.5h.9m-.9 .5h.9m-.9 .5h.9m-.9 16h.9m-.4-24.5h.9m-.9 .5h.9m-.9 2.5h.9m-.9 2h.9m-.9 .5h.9m-.9 .5h.9m-.9 1.5h.9m-.9 .5h.9m-.4-8h.9m-.9 .5h.9m-.9 .5h.9m-.9 1h.9m-.9 .5h.9m-.9 2h.9m-.9 1h.9m-.9 1h.9m-.9 .5h.9m-.9 2.5h.9m-.9 3h.9m-.4-9h.9m-.9 1.5h.9m-.9 .5h.9m-.9 1h.9m-.9 1h.9m-.9 9.5h.9m-.9 .5h.9m-.4-17h.9m-.9 1h.9m-.9 1h.9m-.9 .5h.9m-.9 2.5h.9m-.9 .5h.9m-.9 4.5h.9m-.4-9.5h.9m-.9 2h.9m-.9 .5h.9m-.9 .5h.9m-.9 8h.9m-.4-11.5h.9m-.9 .5h.9m-.9 .5h.9m-.9 2.5h.9m-.9 2h.9m-.9 .5h.9m-.9 4.5h.9m-.4-11h.9m-.9 .5h.9m-.9 1h.9m-.9 .5h.9m-.9 1h.9m-.9 2.5h.9m-.9 6h.9m-.4-11h.9m-.9 1h.9m-.9 2h.9m-.9 2h.9m-.9 2.5h.9m-.9 1h.9m-.9 2h.9m-.4-10h.9m-.9 .5h.9m-.9 2.5h.9m-.9 .5h.9m-.9 1h.9m-.9 1.5h.9m-.9 .5h.9m-.9 3.5h.9m-.4-10.5h.9m-.9 4h.9m-.9 1h.9m-.9 2.5h.9m-.9 .5h.9m-.9 4.5h.9m-.4-12h.9m-.9 3h.9m-.9 .5h.9m-.9 10h.9m-.4-12h.9m-.9 1.5h.9m-.9 2.5h.9m-.9 1h.9m-.4-7.5h.9m-.9 .5h.9m-.9 .5h.9m-.9 .5h.9m-.9 .5h.9m-.9 .5h.9m-.9 .5h.9m-.9 2h.9m-.9 1.5h.9m-.9 1.5h.9m-.9 5.5h.9m-.9 1h.9m-.4-11.5h.9m-.9 .5h.9m-.9 1.5h.9m-.9 .5h.9m-.9 7.5h.9m-.9 6h.9m-.4-18h.9m-.9 1h.9m-.9 .5h.9m-.9 1h.9m-.9 .5h.9m-.9 .5h.9m-.9 1h.9m-.9 1h.9m-.4-6.5h.9m-.9 1.5h.9m-.9 1.5h.9m-.9 1h.9m-.9 .5h.9m-.9 1h.9m-.9 1h.9m-.4-6.5h.9m-.9 .5h.9m-.9 .5h.9m-.9 1.5h.9m-.9 1h.9m-.9 1h.9m-.9 4h.9m-.4-8.5h.9m-.9 2.5h.9m-.9 8h.9m-.4-9h.9m-.9 3h.9m-.9 3h.9m-.9 6.5h.9m-.4-13.5h.9m-.9 5h.9m-.4-5.5h.9m-.9 1h.9m-.9 3.5h.9m-.9 .5h.9m-.4-4.5h.9m-.9 6h.9m-.9 2.5h.9m-.4-9h.9m-.9 2h.9m-.9 .5h.9m-.9 .5h.9m-.9 .5h.9m-.9 .5h.9m-.9 .5h.9m-.4-1h.9m-.9 .5h.9m-.9 1.5h.9m-.9 .5h.9m-.9 3.5h.9m-.4-7.5h.9m-.9 1.5h.9m-.4-3h.9m-.9 .5h.9m-.9 .5h.9m-.9 1.5h.9m-.9 1h.9m-.9 1.5h.9m-.9 .5h.9m-.9 .5h.9m-.4-6.5h.9m-.9 .5h.9m-.9 1h.9m-.9 2h.9m-.9 1h.9m-.4-4.5h.9m-.9 1h.9m-.9 2h.9m-.9 .5h.9m-.9 1h.9m-.9 .5h.9m-.9 1h.9m-.9 1.5h.9m-.4-5h.9m-.9 2h.9m-.9 4.5h.9m-.9 1.5h.9m-.4-10h.9m-.9 4h.9m-.9 .5h.9m-.4-4.5h.9m-.9 2.5h.9m-.9 8h.9m-.4-8.5h.9m-.9 1h.9m-.4-2h.9m-.9 1.5h.9m-.9 .5h.9m-.9 4.5h.9m-.4-7h.9m-.9 2.5h.9m-.9 .5h.9m-.4-.5h.9m-.4-1h.9m-.9 2h.9m-.9 2.5h.9m-.4-3.5h.9m-.9 .5h.9m-.9 1.5h.9m-.4-5.5h.9m-.9 1.5h.9m-.9 4h.9m-.4-4.5h.9m-.9 1.5h.9m-.9 .5h.9m-.4-2.5h.9m-.9 1h.9m-.9 1h.9m-.9 1.5h.9m-.4-3.5h.9m-.9 1h.9m.1-2h.9m-.9 1.5h.9m-.9 2.5h.9m.1-3.5h.9m-.9 .5h.9m-.4 1.5h.9m-.4 0h.9m-.9 2.5h.9m.6-5h.9m-.9 1h.9m.1-1h.9" stroke="#0000ff" stroke-width="0.9" fill="none"/><line x1="316.55" y1="70.10" x2="352.00" y2="70.10" stroke="#aaa" stroke-width="0.4" stroke-dasharray="0.6 0.8"/><line x1="201.90" y1="7.60" x2="201.90" y2="132.80" stroke="#000" stroke-width="1.2"/><line x1="201.30" y1="132.40" x2="348.80" y2="132.40" stroke="#000" stroke-width="1.1"/><line x1="200.20" y1="132.30" x2="201.60" y2="132.30" stroke="#000" stroke-width="0.6"/><text x="200.50" y="134.70" font-size="6.4" text-anchor="end" font-weight="bold">-10</text><line x1="200.20" y1="119.86" x2="201.60" y2="119.86" stroke="#000" stroke-width="0.6"/><text x="200.50" y="122.26" font-size="6.4" text-anchor="end" font-weight="bold">-8</text><line x1="200.20" y1="107.42" x2="201.60" y2="107.42" stroke="#000" stroke-width="0.6"/><text x="200.50" y="109.82" font-size="6.4" text-anchor="end" font-weight="bold">-6</text><line x1="200.20" y1="94.98" x2="201.60" y2="94.98" stroke="#000" stroke-width="0.6"/><text x="200.50" y="97.38" font-size="6.4" text-anchor="end" font-weight="bold">-4</text><line x1="200.20" y1="82.54" x2="201.60" y2="82.54" stroke="#000" stroke-width="0.6"/><text x="200.50" y="84.94" font-size="6.4" text-anchor="end" font-weight="bold">-2</text><line x1="200.20" y1="70.10" x2="201.60" y2="70.10" stroke="#000" stroke-width="0.6"/><text x="200.50" y="72.50" font-size="6.4" text-anchor="end" font-weight="bold">0</text><line x1="200.20" y1="57.66" x2="201.60" y2="57.66" stroke="#000" stroke-width="0.6"/><text x="200.50" y="60.06" font-size="6.4" text-anchor="end" font-weight="bold">2</text><line x1="200.20" y1="45.22" x2="201.60" y2="45.22" stroke="#000" stroke-width="0.6"/><text x="200.50" y="47.62" font-size="6.4" text-anchor="end" font-weight="bold">4</text><line x1="200.20" y1="32.78" x2="201.60" y2="32.78" stroke="#000" stroke-width="0.6"/><text x="200.50" y="35.18" font-size="6.4" text-anchor="end" font-weight="bold">6</text><line x1="200.20" y1="20.34" x2="201.60" y2="20.34" stroke="#000" stroke-width="0.6"/><text x="200.50" y="22.74" font-size="6.4" text-anchor="end" font-weight="bold">8</text><line x1="200.20" y1="7.90" x2="201.60" y2="7.90" stroke="#000" stroke-width="0.6"/><text x="200.50" y="10.30" font-size="6.4" text-anchor="end" font-weight="bold">10</text><line x1="201.60" y1="132.30" x2="201.60" y2="134.10" stroke="#000" stroke-width="0.7"/><text x="201.80" y="140.93" font-size="6.2" text-anchor="middle" font-weight="bold">0.01</text><line x1="208.88" y1="132.30" x2="208.88" y2="133.40" stroke="#000" stroke-width="0.4"/><line x1="213.15" y1="132.30" x2="213.15" y2="133.40" stroke="#000" stroke-width="0.4"/><line x1="216.17" y1="132.30" x2="216.17" y2="133.40" stroke="#000" stroke-width="0.4"/><line x1="218.52" y1="132.30" x2="218.52" y2="133.40" stroke="#000" stroke-width="0.4"/><line x1="220.43" y1="132.30" x2="220.43" y2="133.40" stroke="#000" stroke-width="0.4"/><line x1="222.05" y1="132.30" x2="222.05" y2="133.40" stroke="#000" stroke-width="0.4"/><line x1="223.45" y1="132.30" x2="223.45" y2="133.40" stroke="#000" stroke-width="0.4"/><line x1="224.69" y1="132.30" x2="224.69" y2="133.40" stroke="#000" stroke-width="0.4"/><line x1="225.80" y1="132.30" x2="225.80" y2="134.10" stroke="#000" stroke-width="0.7"/><text x="226.00" y="140.93" font-size="6.2" text-anchor="middle" font-weight="bold">0.1</text><line x1="233.08" y1="132.30" x2="233.08" y2="133.40" stroke="#000" stroke-width="0.4"/><line x1="237.35" y1="132.30" x2="237.35" y2="133.40" stroke="#000" stroke-width="0.4"/><line x1="240.37" y1="132.30" x2="240.37" y2="133.40" stroke="#000" stroke-width="0.4"/><line x1="242.72" y1="132.30" x2="242.72" y2="133.40" stroke="#000" stroke-width="0.4"/><line x1="244.63" y1="132.30" x2="244.63" y2="133.40" stroke="#000" stroke-width="0.4"/><line x1="246.25" y1="132.30" x2="246.25" y2="133.40" stroke="#000" stroke-width="0.4"/><line x1="247.65" y1="132.30" x2="247.65" y2="133.40" stroke="#000" stroke-width="0.4"/><line x1="248.89" y1="132.30" x2="248.89" y2="133.40" stroke="#000" stroke-width="0.4"/><line x1="250.00" y1="132.30" x2="250.00" y2="134.10" stroke="#000" stroke-width="0.7"/><text x="250.20" y="140.93" font-size="6.2" text-anchor="middle" font-weight="bold">1</text><line x1="257.28" y1="132.30" x2="257.28" y2="133.40" stroke="#000" stroke-width="0.4"/><line x1="261.55" y1="132.30" x2="261.55" y2="133.40" stroke="#000" stroke-width="0.4"/><line x1="264.57" y1="132.30" x2="264.57" y2="133.40" stroke="#000" stroke-width="0.4"/><line x1="266.92" y1="132.30" x2="266.92" y2="133.40" stroke="#000" stroke-width="0.4"/><line x1="268.83" y1="132.30" x2="268.83" y2="133.40" stroke="#000" stroke-width="0.4"/><line x1="270.45" y1="132.30" x2="270.45" y2="133.40" stroke="#000" stroke-width="0.4"/><line x1="271.85" y1="132.30" x2="271.85" y2="133.40" stroke="#000" stroke-width="0.4"/><line x1="273.09" y1="132.30" x2="273.09" y2="133.40" stroke="#000" stroke-width="0.4"/><line x1="274.20" y1="132.30" x2="274.20" y2="134.10" stroke="#000" stroke-width="0.7"/><text x="274.40" y="140.93" font-size="6.2" text-anchor="middle" font-weight="bold">10</text><line x1="281.48" y1="132.30" x2="281.48" y2="133.40" stroke="#000" stroke-width="0.4"/><line x1="285.75" y1="132.30" x2="285.75" y2="133.40" stroke="#000" stroke-width="0.4"/><line x1="288.77" y1="132.30" x2="288.77" y2="133.40" stroke="#000" stroke-width="0.4"/><line x1="291.12" y1="132.30" x2="291.12" y2="133.40" stroke="#000" stroke-width="0.4"/><line x1="293.03" y1="132.30" x2="293.03" y2="133.40" stroke="#000" stroke-width="0.4"/><line x1="294.65" y1="132.30" x2="294.65" y2="133.40" stroke="#000" stroke-width="0.4"/><line x1="296.05" y1="132.30" x2="296.05" y2="133.40" stroke="#000" stroke-width="0.4"/><line x1="297.29" y1="132.30" x2="297.29" y2="133.40" stroke="#000" stroke-width="0.4"/><line x1="298.40" y1="132.30" x2="298.40" y2="134.10" stroke="#000" stroke-width="0.7"/><text x="298.60" y="140.93" font-size="6.2" text-anchor="middle" font-weight="bold">100</text><line x1="305.68" y1="132.30" x2="305.68" y2="133.40" stroke="#000" stroke-width="0.4"/><line x1="309.95" y1="132.30" x2="309.95" y2="133.40" stroke="#000" stroke-width="0.4"/><line x1="312.97" y1="132.30" x2="312.97" y2="133.40" stroke="#000" stroke-width="0.4"/><line x1="315.32" y1="132.30" x2="315.32" y2="133.40" stroke="#000" stroke-width="0.4"/><line x1="317.23" y1="132.30" x2="317.23" y2="133.40" stroke="#000" stroke-width="0.4"/><line x1="318.85" y1="132.30" x2="318.85" y2="133.40" stroke="#000" stroke-width="0.4"/><line x1="320.25" y1="132.30" x2="320.25" y2="133.40" stroke="#000" stroke-width="0.4"/><line x1="321.49" y1="132.30" x2="321.49" y2="133.40" stroke="#000" stroke-width="0.4"/><line x1="322.60" y1="132.30" x2="322.60" y2="134.10" stroke="#000" stroke-width="0.7"/><text x="322.80" y="140.93" font-size="6.2" text-anchor="middle" font-weight="bold">1000</text><line x1="329.88" y1="132.30" x2="329.88" y2="133.40" stroke="#000" stroke-width="0.4"/><line x1="334.15" y1="132.30" x2="334.15" y2="133.40" stroke="#000" stroke-width="0.4"/><line x1="337.17" y1="132.30" x2="337.17" y2="133.40" stroke="#000" stroke-width="0.4"/><line x1="339.52" y1="132.30" x2="339.52" y2="133.40" stroke="#000" stroke-width="0.4"/><line x1="341.43" y1="132.30" x2="341.43" y2="133.40" stroke="#000" stroke-width="0.4"/><line x1="343.05" y1="132.30" x2="343.05" y2="133.40" stroke="#000" stroke-width="0.4"/><line x1="344.45" y1="132.30" x2="344.45" y2="133.40" stroke="#000" stroke-width="0.4"/><line x1="345.69" y1="132.30" x2="345.69" y2="133.40" stroke="#000" stroke-width="0.4"/><line x1="346.80" y1="132.30" x2="346.80" y2="134.10" stroke="#000" stroke-width="0.7"/><text x="347.00" y="140.93" font-size="6.2" text-anchor="middle" font-weight="bold">10000</text><text x="190.40" y="72.81" font-size="7.8" text-anchor="middle" font-weight="bold" transform="rotate(-90 190.40 70.00)"><tspan>Log</tspan><tspan font-size="5.6" dy="1.5">2</tspan><tspan dy="-1.5">FC</tspan></text><text x="335.20" y="149.51" font-size="7.8" text-anchor="middle" font-weight="bold">FPKM</text><text x="205.10" y="127.24" font-size="7.9" font-weight="bold">SPONT</text><text x="183.00" y="7.98" font-size="10.5" font-weight="bold">b</text><circle cx="301.54" cy="16.36" r="1.15" fill="#e800e8"/><text x="303.54" y="19.29" font-size="3.7" fill="#e800e8">Hes5</text><circle cx="307.62" cy="18.22" r="1.15" fill="#e800e8"/><text x="309.62" y="21.16" font-size="3.7" fill="#e800e8">Pax6</text><circle cx="313.69" cy="15.19" r="1.15" fill="#e800e8"/><text x="315.69" y="18.12" font-size="3.7" fill="#e800e8">Pla2g7</text><circle cx="316.50" cy="19.16" r="1.15" fill="#e800e8"/><text x="318.50" y="22.09" font-size="3.7" fill="#e800e8">Mmd2</text><circle cx="295.47" cy="20.56" r="1.15" fill="#e800e8"/><text x="297.47" y="23.49" font-size="3.7" fill="#e800e8">Rnase1</text><circle cx="310.65" cy="22.20" r="1.15" fill="#e800e8"/><text x="312.65" y="25.13" font-size="3.7" fill="#e800e8">Ntsr2</text><circle cx="331.21" cy="22.90" r="1.15" fill="#e800e8"/><text x="333.21" y="25.83" font-size="3.7" fill="#e800e8">Dbi</text><circle cx="329.35" cy="23.60" r="1.15" fill="#e800e8"/><circle cx="346.87" cy="21.50" r="1.15" fill="#e800e8"/><text x="348.87" y="24.43" font-size="3.7" fill="#e800e8">Apoe</text><circle cx="316.03" cy="29.21" r="1.15" fill="#e800e8"/><text x="318.03" y="32.14" font-size="3.7" fill="#e800e8">Tgf1</text><circle cx="323.97" cy="28.50" r="1.15" fill="#e800e8"/><text x="325.97" y="31.44" font-size="3.7" fill="#e800e8">Hopx</text><circle cx="320.00" cy="34.58" r="1.15" fill="#e800e8"/><text x="322.00" y="37.51" font-size="3.7" fill="#e800e8">Agt</text><circle cx="305.98" cy="37.38" r="1.15" fill="#e800e8"/><text x="307.98" y="40.32" font-size="3.7" fill="#e800e8">Aqp4</text><circle cx="318.83" cy="38.55" r="1.15" fill="#e800e8"/><text x="320.83" y="41.48" font-size="3.7" fill="#e800e8">Mt2</text><circle cx="319.77" cy="40.19" r="1.15" fill="#e800e8"/><text x="321.77" y="43.12" font-size="3.7" fill="#e800e8">Clu</text><circle cx="332.85" cy="40.19" r="1.15" fill="#e800e8"/><text x="334.85" y="43.12" font-size="3.7" fill="#e800e8">Mt1</text><circle cx="325.37" cy="44.39" r="1.15" fill="#e800e8"/><text x="327.37" y="47.32" font-size="3.7" fill="#e800e8">Cpe</text><circle cx="335.19" cy="43.93" r="1.15" fill="#e800e8"/><text x="337.19" y="46.86" font-size="3.7" fill="#e800e8">Cst3</text><circle cx="331.68" cy="53.27" r="1.15" fill="#e800e8"/><text x="333.68" y="56.20" font-size="3.7" fill="#e800e8">Aldoc</text><circle cx="330.51" cy="57.94" r="1.15" fill="#e800e8"/><text x="332.51" y="60.88" font-size="3.7" fill="#e800e8">Gja1</text><circle cx="337.06" cy="57.24" r="1.15" fill="#e800e8"/><text x="339.06" y="60.17" font-size="3.7" fill="#e800e8">Glul</text><circle cx="328.64" cy="64.95" r="1.15" fill="#e800e8"/><text x="330.64" y="67.89" font-size="3.7" fill="#e800e8">Fabp7</text><circle cx="338.93" cy="67.06" r="1.15" fill="#e800e8"/><text x="340.93" y="69.99" font-size="3.7" fill="#e800e8">Ckb</text><circle cx="324.91" cy="46.73" r="1.15" fill="#e800e8"/><text x="326.91" y="49.66" font-size="3.7" fill="#e800e8">Mt3</text><circle cx="310.19" cy="10.98" r="1.15" fill="#ffa020"/><text x="308.69" y="10.31" font-size="3.7" text-anchor="end" fill="#ffa020">Gpr17</text><circle cx="279.58" cy="32.01" r="1.15" fill="#ffa020"/><text x="278.08" y="31.34" font-size="3.7" text-anchor="end" fill="#ffa020">Sox10</text><circle cx="293.13" cy="37.38" r="1.15" fill="#ffa020"/><text x="291.63" y="36.72" font-size="3.7" text-anchor="end" fill="#ffa020">Olig1</text><circle cx="302.48" cy="30.84" r="1.15" fill="#ffa020"/><text x="300.98" y="30.17" font-size="3.7" text-anchor="end" fill="#ffa020">Olig2</text><circle cx="303.88" cy="27.57" r="1.15" fill="#ffa020"/><text x="302.38" y="26.90" font-size="3.7" text-anchor="end" fill="#ffa020">C1ql1</text><circle cx="298.50" cy="35.05" r="1.15" fill="#ffa020"/><text x="297.00" y="34.38" font-size="3.7" text-anchor="end" fill="#ffa020">Mbp</text><circle cx="308.79" cy="42.06" r="1.15" fill="#ffa020"/><text x="307.29" y="41.39" font-size="3.7" text-anchor="end" fill="#ffa020">Pdgfra</text><circle cx="312.52" cy="46.73" r="1.15" fill="#ffa020"/><text x="311.02" y="46.06" font-size="3.7" text-anchor="end" fill="#ffa020">Cnp</text><circle cx="308.79" cy="54.21" r="1.15" fill="#ffa020"/><circle cx="326.31" cy="49.53" r="1.15" fill="#ffa020"/><text x="324.81" y="48.86" font-size="3.7" text-anchor="end" fill="#ffa020">Apod</text><circle cx="315.33" cy="50.23" r="1.15" fill="#ffa020"/><text x="313.83" y="49.57" font-size="3.7" text-anchor="end" fill="#ffa020">Bcan</text><circle cx="264.39" cy="84.81" r="1.05" fill="#10d0d0"/><text x="263.39" y="88.55" font-size="3.7" text-anchor="end" fill="#333">Mki67</text><circle cx="270.93" cy="87.15" r="1.05" fill="#10d0d0"/><circle cx="276.31" cy="89.25" r="1.05" fill="#10d0d0"/><text x="275.31" y="92.98" font-size="3.7" text-anchor="end" fill="#333">Top2a</text><circle cx="289.63" cy="84.11" r="1.05" fill="#10d0d0"/><text x="288.63" y="87.84" font-size="3.7" text-anchor="end" fill="#333">Nes</text><circle cx="286.12" cy="87.62" r="1.05" fill="#10d0d0"/><circle cx="290.79" cy="88.32" r="1.05" fill="#10d0d0"/><text x="289.79" y="92.05" font-size="3.7" text-anchor="end" fill="#333">Ube2c</text><circle cx="271.40" cy="92.99" r="1.05" fill="#10d0d0"/><text x="270.40" y="96.72" font-size="3.7" text-anchor="end" fill="#333">Cdca2</text><circle cx="263.93" cy="97.66" r="1.05" fill="#10d0d0"/><text x="262.93" y="101.40" font-size="3.7" text-anchor="end" fill="#333">Ttk</text><circle cx="269.77" cy="102.34" r="1.05" fill="#10d0d0"/><text x="268.77" y="106.07" font-size="3.7" text-anchor="end" fill="#333">Pbk</text><circle cx="263.93" cy="103.97" r="1.05" fill="#10d0d0"/><text x="262.93" y="107.70" font-size="3.7" text-anchor="end" fill="#333">Ccnd2</text><circle cx="285.42" cy="97.66" r="1.05" fill="#10d0d0"/><text x="284.42" y="101.40" font-size="3.7" text-anchor="end" fill="#333">Igfbp2</text><circle cx="290.33" cy="92.29" r="1.05" fill="#10d0d0"/><text x="289.33" y="96.02" font-size="3.7" text-anchor="end" fill="#333">Ccnd1</text><circle cx="293.13" cy="105.14" r="1.05" fill="#10d0d0"/><text x="292.13" y="108.87" font-size="3.7" text-anchor="end" fill="#333">Igfbp2</text><circle cx="277.48" cy="109.81" r="1.05" fill="#10d0d0"/><text x="276.48" y="113.55" font-size="3.7" text-anchor="end" fill="#333">Igfbp4</text><circle cx="312.52" cy="76.64" r="1.05" fill="#10d0d0"/><text x="311.52" y="80.37" font-size="3.7" text-anchor="end" fill="#333">Slc34a8</text><circle cx="272.10" cy="93.46" r="1.05" fill="#10d0d0"/><circle cx="307.00" cy="105.20" r="3.00" fill="#e800e8"/><text x="311.80" y="107.78" font-size="8.0" fill="#e800e8">Astrocyte</text><circle cx="306.80" cy="114.60" r="3.00" fill="#ffa51e"/><text x="311.10" y="117.18" font-size="8.0" fill="#ffa51e">Oligo</text><circle cx="306.80" cy="124.20" r="3.00" fill="#10d8d8"/><text x="312.80" y="126.78" font-size="8.0" fill="#10d8d8">NPC/Prolif</text>
<text x="377.90" y="8.49" font-size="10.8" font-weight="bold">c</text><text x="455.80" y="15.48" font-size="8" text-anchor="middle">PCA of NPC differentiation</text><text x="455.80" y="23.88" font-size="8" text-anchor="middle">n=14,017 DEGs</text><line x1="387.30" y1="79.10" x2="523.60" y2="79.10" stroke="#444" stroke-width="0.55" stroke-dasharray="1 0.7"/><rect x="387.30" y="27.20" width="136.30" height="104.20" fill="none" stroke="#000" stroke-width="1.1"/><line x1="385.10" y1="26.90" x2="387.30" y2="26.90" stroke="#000" stroke-width="0.7"/><text x="384.10" y="29.60" font-size="7.5" text-anchor="end" font-weight="bold">100</text><line x1="385.10" y1="53.00" x2="387.30" y2="53.00" stroke="#000" stroke-width="0.7"/><text x="384.10" y="55.70" font-size="7.5" text-anchor="end" font-weight="bold">50</text><line x1="385.10" y1="79.10" x2="387.30" y2="79.10" stroke="#000" stroke-width="0.7"/><text x="384.10" y="81.80" font-size="7.5" text-anchor="end" font-weight="bold">0</text><line x1="385.10" y1="105.20" x2="387.30" y2="105.20" stroke="#000" stroke-width="0.7"/><text x="384.10" y="107.90" font-size="7.5" text-anchor="end" font-weight="bold">-50</text><line x1="385.10" y1="131.30" x2="387.30" y2="131.30" stroke="#000" stroke-width="0.7"/><text x="384.10" y="134.00" font-size="7.5" text-anchor="end" font-weight="bold">-100</text><line x1="393.00" y1="131.40" x2="393.00" y2="133.60" stroke="#000" stroke-width="0.7"/><text x="393.00" y="141.50" font-size="7.5" text-anchor="middle" font-weight="bold">0</text><line x1="419.12" y1="131.40" x2="419.12" y2="133.60" stroke="#000" stroke-width="0.7"/><text x="419.12" y="141.50" font-size="7.5" text-anchor="middle" font-weight="bold">50</text><line x1="445.24" y1="131.40" x2="445.24" y2="133.60" stroke="#000" stroke-width="0.7"/><text x="445.24" y="141.50" font-size="7.5" text-anchor="middle" font-weight="bold">100</text><line x1="471.36" y1="131.40" x2="471.36" y2="133.60" stroke="#000" stroke-width="0.7"/><text x="471.36" y="141.50" font-size="7.5" text-anchor="middle" font-weight="bold">150</text><line x1="497.48" y1="131.40" x2="497.48" y2="133.60" stroke="#000" stroke-width="0.7"/><text x="497.48" y="141.50" font-size="7.5" text-anchor="middle" font-weight="bold">200</text><line x1="523.60" y1="131.40" x2="523.60" y2="133.60" stroke="#000" stroke-width="0.7"/><text x="523.60" y="141.50" font-size="7.5" text-anchor="middle" font-weight="bold">250</text><text x="455.80" y="152.50" font-size="7.5" text-anchor="middle" font-weight="bold">PC1 (56.72%)</text><text x="369.60" y="79.20" font-size="7.5" text-anchor="middle" font-weight="bold" transform="rotate(-90 369.60 76.50)">PC2 (19.15%)</text><circle cx="393.00" cy="79.10" r="2.15" fill="#000"/><circle cx="504.70" cy="33.40" r="2.15" fill="#ff8c1a"/><circle cx="507.60" cy="60.70" r="2.15" fill="#1414ff"/><circle cx="508.00" cy="100.10" r="2.15" fill="#f01010"/><circle cx="515.20" cy="107.30" r="2.15" fill="#666"/><text x="500.50" y="37.48" font-size="8" text-anchor="end">1% FBS</text><text x="502.60" y="63.58" font-size="8" text-anchor="end">SPONT</text><text x="390.40" y="89.08" font-size="8">NPC</text><text x="504.20" y="102.98" font-size="8" text-anchor="end">CNTF</text><text x="520.30" y="117.68" font-size="8" text-anchor="end">IGF-1</text>
<text x="552.90" y="8.49" font-size="10.8" font-weight="bold">d</text><text x="568.00" y="8.68" font-size="8">Median DEG</text><text x="624.60" y="8.68" font-size="8" text-anchor="end">-2</text><defs><linearGradient id="gd"><stop offset="0" stop-color="#0020ff"/><stop offset="0.3" stop-color="#1e90ff"/><stop offset="0.47" stop-color="#60e0f0"/><stop offset="0.5" stop-color="#f8f0a0"/><stop offset="0.56" stop-color="#ffd020"/><stop offset="0.78" stop-color="#ff7010"/><stop offset="1" stop-color="#f00000"/></linearGradient></defs><rect x="625.90" y="3.80" width="45.90" height="3.00" fill="url(#gd)"/><text x="673.00" y="8.68" font-size="8">2</text><text x="648.80" y="9.54" font-size="2.6" text-anchor="middle" fill="#666">0</text><rect x="570.70" y="12.60" width="105.10" height="139.00" fill="none" stroke="#222" stroke-width="0.7"/><line x1="570.70" y1="47.35" x2="675.80" y2="47.35" stroke="#222" stroke-width="0.7"/><line x1="570.70" y1="82.10" x2="675.80" y2="82.10" stroke="#222" stroke-width="0.7"/><line x1="570.70" y1="116.85" x2="675.80" y2="116.85" stroke="#222" stroke-width="0.7"/><text x="569.00" y="29.18" font-size="8" text-anchor="end" font-weight="bold">Astrocyte</text><text x="569.00" y="37.08" font-size="8" text-anchor="end" font-weight="bold">Lineage</text><text x="569.00" y="63.93" font-size="8" text-anchor="end" font-weight="bold">Oligo</text><text x="569.00" y="71.83" font-size="8" text-anchor="end" font-weight="bold">Lineage</text><text x="569.00" y="98.68" font-size="8" text-anchor="end" font-weight="bold">Neuron</text><text x="569.00" y="106.58" font-size="8" text-anchor="end" font-weight="bold">Lineage</text><text x="569.00" y="133.43" font-size="8" text-anchor="end" font-weight="bold">NPC /</text><text x="569.00" y="141.33" font-size="8" text-anchor="end" font-weight="bold">Prolif</text><line x1="587.70" y1="37.50" x2="587.70" y2="43.00" stroke="#c8c0b8" stroke-width="0.5" stroke-dasharray="0.7 0.5"/><path d="M588.02 14.50C588.19 14.91 588.33 16.46 588.50 17.23C588.67 18.00 588.90 18.91 589.15 19.64C589.39 20.36 589.82 21.32 590.11 22.04C590.40 22.77 590.78 23.73 591.07 24.45C591.36 25.18 591.77 26.31 592.04 26.86C592.30 27.42 592.43 27.83 592.84 28.15C593.25 28.46 594.33 28.73 594.77 28.95C595.20 29.17 595.73 29.38 595.73 29.59C595.73 29.81 595.30 30.18 594.77 30.40C594.24 30.61 592.82 30.77 592.20 31.04C591.57 31.30 591.02 31.70 590.59 32.16C590.16 32.62 589.64 33.51 589.31 34.09C588.97 34.67 588.56 35.53 588.34 36.02C588.13 36.50 587.98 37.11 587.86 37.30C587.74 37.49 587.66 37.49 587.54 37.30C587.42 37.11 587.27 36.50 587.06 36.02C586.84 35.53 586.43 34.67 586.09 34.09C585.76 33.51 585.24 32.62 584.81 32.16C584.38 31.70 583.83 31.30 583.20 31.04C582.58 30.77 581.16 30.61 580.63 30.40C580.10 30.18 579.67 29.81 579.67 29.59C579.67 29.38 580.20 29.17 580.63 28.95C581.07 28.73 582.15 28.46 582.56 28.15C582.97 27.83 583.10 27.42 583.36 26.86C583.63 26.31 584.04 25.18 584.33 24.45C584.62 23.73 585.00 22.77 585.29 22.04C585.58 21.32 586.01 20.36 586.25 19.64C586.50 18.91 586.73 18.00 586.90 17.23C587.07 16.46 587.21 14.91 587.38 14.50C587.55 14.09 587.85 14.09 588.02 14.50Z" fill="#ff6a14" stroke="#d06010" stroke-width="0.15"/><line x1="611.80" y1="37.50" x2="611.80" y2="43.00" stroke="#c8c0b8" stroke-width="0.5" stroke-dasharray="0.7 0.5"/><path d="M612.12 14.50C612.27 14.91 612.32 16.46 612.44 17.23C612.56 18.00 612.78 18.91 612.92 19.64C613.07 20.36 613.21 21.32 613.41 22.04C613.60 22.77 613.94 23.73 614.21 24.45C614.47 25.18 614.88 26.31 615.17 26.86C615.46 27.42 615.63 27.83 616.14 28.15C616.64 28.46 617.99 28.73 618.54 28.95C619.10 29.17 619.83 29.38 619.83 29.59C619.83 29.81 619.17 30.18 618.54 30.40C617.92 30.61 616.30 30.77 615.65 31.04C615.00 31.30 614.59 31.70 614.21 32.16C613.82 32.62 613.37 33.51 613.08 34.09C612.80 34.67 612.45 35.53 612.28 36.02C612.11 36.50 612.06 37.11 611.96 37.30C611.86 37.49 611.74 37.49 611.64 37.30C611.54 37.11 611.49 36.50 611.32 36.02C611.15 35.53 610.80 34.67 610.52 34.09C610.23 33.51 609.78 32.62 609.39 32.16C609.01 31.70 608.60 31.30 607.95 31.04C607.30 30.77 605.68 30.61 605.06 30.40C604.43 30.18 603.77 29.81 603.77 29.59C603.77 29.38 604.50 29.17 605.06 28.95C605.61 28.73 606.96 28.46 607.46 28.15C607.97 27.83 608.14 27.42 608.43 26.86C608.72 26.31 609.13 25.18 609.39 24.45C609.66 23.73 610.00 22.77 610.19 22.04C610.39 21.32 610.53 20.36 610.68 19.64C610.82 18.91 611.04 18.00 611.16 17.23C611.28 16.46 611.33 14.91 611.48 14.50C611.62 14.09 611.98 14.09 612.12 14.50Z" fill="#ff8c0a" stroke="#d06010" stroke-width="0.15"/><line x1="635.80" y1="37.50" x2="635.80" y2="43.00" stroke="#c8c0b8" stroke-width="0.5" stroke-dasharray="0.7 0.5"/><path d="M636.12 14.50C636.29 14.91 636.43 16.46 636.60 17.23C636.77 18.00 637.03 18.91 637.25 19.64C637.46 20.36 637.78 21.32 638.05 22.04C638.31 22.77 638.70 23.73 639.01 24.45C639.32 25.18 639.85 26.31 640.14 26.86C640.43 27.42 640.53 27.83 640.94 28.15C641.35 28.46 642.43 28.73 642.87 28.95C643.30 29.17 643.83 29.38 643.83 29.59C643.83 29.81 643.40 30.18 642.87 30.40C642.34 30.61 640.92 30.77 640.30 31.04C639.67 31.30 639.12 31.70 638.69 32.16C638.26 32.62 637.74 33.51 637.41 34.09C637.07 34.67 636.66 35.53 636.44 36.02C636.23 36.50 636.08 37.11 635.96 37.30C635.84 37.49 635.76 37.49 635.64 37.30C635.52 37.11 635.37 36.50 635.16 36.02C634.94 35.53 634.53 34.67 634.19 34.09C633.86 33.51 633.34 32.62 632.91 32.16C632.48 31.70 631.93 31.30 631.30 31.04C630.68 30.77 629.26 30.61 628.73 30.40C628.20 30.18 627.77 29.81 627.77 29.59C627.77 29.38 628.30 29.17 628.73 28.95C629.17 28.73 630.25 28.46 630.66 28.15C631.07 27.83 631.17 27.42 631.46 26.86C631.75 26.31 632.28 25.18 632.59 24.45C632.90 23.73 633.29 22.77 633.55 22.04C633.82 21.32 634.14 20.36 634.35 19.64C634.57 18.91 634.83 18.00 635.00 17.23C635.17 16.46 635.31 14.91 635.48 14.50C635.65 14.09 635.95 14.09 636.12 14.50Z" fill="#ff7014" stroke="#d06010" stroke-width="0.15"/><line x1="659.90" y1="37.50" x2="659.90" y2="43.00" stroke="#c8c0b8" stroke-width="0.5" stroke-dasharray="0.7 0.5"/><path d="M660.22 14.50C660.41 14.79 660.62 15.77 660.86 16.42C661.10 17.07 661.49 18.11 661.83 18.83C662.16 19.56 662.75 20.52 663.11 21.24C663.47 21.96 663.95 22.93 664.24 23.65C664.53 24.37 664.82 25.41 665.04 26.06C665.26 26.71 665.34 27.55 665.68 27.99C666.02 28.42 666.95 28.71 667.29 28.95C667.62 29.19 667.98 29.38 667.93 29.59C667.88 29.81 667.45 30.18 666.97 30.40C666.48 30.61 665.30 30.77 664.72 31.04C664.14 31.30 663.57 31.70 663.11 32.16C662.65 32.62 662.05 33.56 661.67 34.09C661.28 34.62 660.78 35.26 660.54 35.69C660.30 36.13 660.18 36.79 660.06 36.98C659.94 37.17 659.86 37.17 659.74 36.98C659.62 36.79 659.50 36.13 659.26 35.69C659.02 35.26 658.52 34.62 658.13 34.09C657.75 33.56 657.15 32.62 656.69 32.16C656.23 31.70 655.66 31.30 655.08 31.04C654.50 30.77 653.32 30.61 652.83 30.40C652.35 30.18 651.92 29.81 651.87 29.59C651.82 29.38 652.18 29.19 652.51 28.95C652.85 28.71 653.78 28.42 654.12 27.99C654.46 27.55 654.54 26.71 654.76 26.06C654.98 25.41 655.27 24.37 655.56 23.65C655.85 22.93 656.33 21.96 656.69 21.24C657.05 20.52 657.64 19.56 657.97 18.83C658.31 18.11 658.70 17.07 658.94 16.42C659.18 15.77 659.39 14.79 659.58 14.50C659.77 14.21 660.03 14.21 660.22 14.50Z" fill="#fb5a08" stroke="#d06010" stroke-width="0.15"/><path d="M588.02 48.53C588.21 48.85 588.42 49.95 588.66 50.62C588.90 51.30 589.36 52.31 589.63 53.03C589.89 53.75 590.26 54.72 590.43 55.44C590.60 56.16 590.68 57.12 590.75 57.85C590.82 58.57 590.79 59.58 590.91 60.26C591.03 60.93 591.17 61.86 591.55 62.34C591.94 62.83 592.85 63.18 593.48 63.47C594.11 63.76 595.54 64.01 595.73 64.27C595.92 64.54 595.39 64.97 594.77 65.23C594.14 65.50 592.28 65.70 591.55 66.04C590.83 66.37 590.33 67.03 589.95 67.48C589.56 67.94 589.15 68.61 588.98 69.09C588.82 69.57 588.87 70.16 588.82 70.69C588.78 71.22 588.78 72.14 588.66 72.62C588.54 73.10 588.21 73.71 588.02 73.91C587.83 74.10 587.57 74.10 587.38 73.91C587.19 73.71 586.86 73.10 586.74 72.62C586.62 72.14 586.62 71.22 586.58 70.69C586.53 70.16 586.58 69.57 586.42 69.09C586.25 68.61 585.84 67.94 585.45 67.48C585.07 67.03 584.57 66.37 583.85 66.04C583.12 65.70 581.26 65.50 580.63 65.23C580.01 64.97 579.48 64.54 579.67 64.27C579.86 64.01 581.29 63.76 581.92 63.47C582.55 63.18 583.46 62.83 583.85 62.34C584.23 61.86 584.37 60.93 584.49 60.26C584.61 59.58 584.58 58.57 584.65 57.85C584.72 57.12 584.80 56.16 584.97 55.44C585.14 54.72 585.51 53.75 585.77 53.03C586.04 52.31 586.50 51.30 586.74 50.62C586.98 49.95 587.19 48.85 587.38 48.53C587.57 48.22 587.83 48.22 588.02 48.53Z" fill="#ff7208" stroke="#c87010" stroke-width="0.15"/><path d="M612.12 51.42C612.36 51.54 612.80 51.87 613.08 52.23C613.37 52.59 613.86 53.35 614.05 53.83C614.24 54.31 614.37 54.96 614.37 55.44C614.37 55.92 614.07 56.56 614.05 57.04C614.02 57.53 614.11 58.17 614.21 58.65C614.31 59.13 614.52 59.70 614.69 60.26C614.86 60.81 614.95 61.86 615.33 62.34C615.72 62.83 616.59 63.18 617.26 63.47C617.93 63.76 619.64 64.01 619.83 64.27C620.02 64.54 619.22 64.97 618.54 65.23C617.87 65.50 616.06 65.70 615.33 66.04C614.61 66.37 614.06 67.03 613.73 67.48C613.39 67.94 613.21 68.61 613.08 69.09C612.96 69.57 613.00 70.16 612.92 70.69C612.85 71.22 612.72 72.19 612.60 72.62C612.48 73.06 612.29 73.44 612.12 73.59C611.95 73.73 611.65 73.73 611.48 73.59C611.31 73.44 611.12 73.06 611.00 72.62C610.88 72.19 610.75 71.22 610.68 70.69C610.60 70.16 610.64 69.57 610.52 69.09C610.39 68.61 610.21 67.94 609.87 67.48C609.54 67.03 608.99 66.37 608.27 66.04C607.54 65.70 605.73 65.50 605.06 65.23C604.38 64.97 603.58 64.54 603.77 64.27C603.96 64.01 605.67 63.76 606.34 63.47C607.01 63.18 607.88 62.83 608.27 62.34C608.65 61.86 608.74 60.81 608.91 60.26C609.08 59.70 609.29 59.13 609.39 58.65C609.49 58.17 609.58 57.53 609.55 57.04C609.53 56.56 609.23 55.92 609.23 55.44C609.23 54.96 609.36 54.31 609.55 53.83C609.74 53.35 610.23 52.59 610.52 52.23C610.80 51.87 611.24 51.54 611.48 51.42C611.72 51.30 611.88 51.30 612.12 51.42Z" fill="#ffa808" stroke="#c87010" stroke-width="0.15"/><path d="M636.28 47.41C636.59 47.77 637.09 49.10 637.41 49.82C637.72 50.54 638.08 51.50 638.37 52.23C638.66 52.95 639.07 53.91 639.33 54.64C639.60 55.36 639.90 56.32 640.14 57.04C640.38 57.77 640.67 58.73 640.94 59.45C641.20 60.18 641.66 61.31 641.90 61.86C642.14 62.42 642.30 62.83 642.54 63.15C642.79 63.46 643.32 63.73 643.51 63.95C643.70 64.17 643.97 64.35 643.83 64.59C643.69 64.83 643.07 65.24 642.54 65.56C642.01 65.87 640.87 66.27 640.30 66.68C639.72 67.09 639.12 67.80 638.69 68.29C638.26 68.77 637.65 69.41 637.41 69.89C637.17 70.37 637.16 70.94 637.08 71.50C637.01 72.05 637.04 73.10 636.92 73.59C636.80 74.07 636.52 74.54 636.28 74.71C636.04 74.88 635.56 74.88 635.32 74.71C635.08 74.54 634.80 74.07 634.68 73.59C634.56 73.10 634.59 72.05 634.52 71.50C634.44 70.94 634.43 70.37 634.19 69.89C633.95 69.41 633.34 68.77 632.91 68.29C632.48 67.80 631.88 67.09 631.30 66.68C630.73 66.27 629.59 65.87 629.06 65.56C628.53 65.24 627.91 64.83 627.77 64.59C627.63 64.35 627.90 64.17 628.09 63.95C628.28 63.73 628.81 63.46 629.06 63.15C629.30 62.83 629.46 62.42 629.70 61.86C629.94 61.31 630.40 60.18 630.66 59.45C630.93 58.73 631.22 57.77 631.46 57.04C631.70 56.32 632.00 55.36 632.27 54.64C632.53 53.91 632.94 52.95 633.23 52.23C633.52 51.50 633.88 50.54 634.19 49.82C634.51 49.10 635.01 47.77 635.32 47.41C635.63 47.05 635.97 47.05 636.28 47.41Z" fill="#fb5a08" stroke="#c87010" stroke-width="0.15"/><path d="M660.06 47.89C660.13 48.30 660.05 50.04 660.22 50.62C660.39 51.20 660.90 51.26 661.18 51.74C661.47 52.23 661.93 53.28 662.15 53.83C662.37 54.39 662.61 54.96 662.63 55.44C662.65 55.92 662.36 56.56 662.31 57.04C662.26 57.53 662.26 58.17 662.31 58.65C662.36 59.13 662.46 59.70 662.63 60.26C662.80 60.81 663.02 61.86 663.43 62.34C663.84 62.83 664.69 63.18 665.36 63.47C666.03 63.76 667.74 64.01 667.93 64.27C668.12 64.54 667.32 64.97 666.64 65.23C665.97 65.50 664.16 65.70 663.43 66.04C662.71 66.37 662.19 67.03 661.83 67.48C661.47 67.94 661.19 68.49 661.02 69.09C660.86 69.69 660.85 70.77 660.70 71.50C660.56 72.22 660.21 73.55 660.06 73.91C659.92 74.27 659.88 74.27 659.74 73.91C659.59 73.55 659.24 72.22 659.10 71.50C658.95 70.77 658.94 69.69 658.78 69.09C658.61 68.49 658.33 67.94 657.97 67.48C657.61 67.03 657.09 66.37 656.37 66.04C655.64 65.70 653.83 65.50 653.16 65.23C652.48 64.97 651.68 64.54 651.87 64.27C652.06 64.01 653.77 63.76 654.44 63.47C655.11 63.18 655.96 62.83 656.37 62.34C656.78 61.86 657.00 60.81 657.17 60.26C657.34 59.70 657.44 59.13 657.49 58.65C657.54 58.17 657.54 57.53 657.49 57.04C657.44 56.56 657.15 55.92 657.17 55.44C657.19 54.96 657.43 54.39 657.65 53.83C657.87 53.28 658.33 52.23 658.62 51.74C658.90 51.26 659.41 51.20 659.58 50.62C659.75 50.04 659.67 48.30 659.74 47.89C659.81 47.48 659.99 47.48 660.06 47.89Z" fill="#ffa010" stroke="#c87010" stroke-width="0.15"/><line x1="587.70" y1="83.50" x2="587.70" y2="111.00" stroke="#bbb" stroke-width="0.4" stroke-dasharray="0.8 0.4"/><path d="M587.85 83.60C587.91 84.67 587.93 89.87 588.00 91.60C588.07 93.33 588.20 95.73 588.40 96.60C588.60 97.47 589.19 97.77 589.50 98.10C589.81 98.43 589.93 98.88 590.70 99.05C591.47 99.22 594.69 99.24 595.30 99.35C595.91 99.46 595.91 99.74 595.30 99.85C594.69 99.96 591.47 99.98 590.70 100.15C589.93 100.32 589.81 100.77 589.50 101.10C589.19 101.43 588.61 101.87 588.40 102.60C588.19 103.33 588.02 105.60 587.95 106.60C587.88 107.60 587.90 109.63 587.85 110.10C587.80 110.57 587.60 110.57 587.55 110.10C587.50 109.63 587.52 107.60 587.45 106.60C587.38 105.60 587.21 103.33 587.00 102.60C586.79 101.87 586.21 101.43 585.90 101.10C585.59 100.77 585.47 100.32 584.70 100.15C583.93 99.98 580.71 99.96 580.10 99.85C579.49 99.74 579.49 99.46 580.10 99.35C580.71 99.24 583.93 99.22 584.70 99.05C585.47 98.88 585.59 98.43 585.90 98.10C586.21 97.77 586.80 97.47 587.00 96.60C587.20 95.73 587.33 93.33 587.40 91.60C587.47 89.87 587.49 84.67 587.55 83.60C587.61 82.53 587.79 82.53 587.85 83.60Z" fill="#fff" stroke="#999" stroke-width="0.4"/><line x1="611.80" y1="83.50" x2="611.80" y2="111.00" stroke="#bbb" stroke-width="0.4" stroke-dasharray="0.8 0.4"/><path d="M611.95 83.60C612.01 84.67 612.03 89.87 612.10 91.60C612.17 93.33 612.30 95.73 612.50 96.60C612.70 97.47 613.29 97.77 613.60 98.10C613.91 98.43 614.03 98.88 614.80 99.05C615.57 99.22 618.79 99.24 619.40 99.35C620.01 99.46 620.01 99.74 619.40 99.85C618.79 99.96 615.57 99.98 614.80 100.15C614.03 100.32 613.91 100.77 613.60 101.10C613.29 101.43 612.71 101.87 612.50 102.60C612.29 103.33 612.12 105.60 612.05 106.60C611.98 107.60 612.00 109.63 611.95 110.10C611.90 110.57 611.70 110.57 611.65 110.10C611.60 109.63 611.62 107.60 611.55 106.60C611.48 105.60 611.31 103.33 611.10 102.60C610.89 101.87 610.31 101.43 610.00 101.10C609.69 100.77 609.57 100.32 608.80 100.15C608.03 99.98 604.81 99.96 604.20 99.85C603.59 99.74 603.59 99.46 604.20 99.35C604.81 99.24 608.03 99.22 608.80 99.05C609.57 98.88 609.69 98.43 610.00 98.10C610.31 97.77 610.90 97.47 611.10 96.60C611.30 95.73 611.43 93.33 611.50 91.60C611.57 89.87 611.59 84.67 611.65 83.60C611.71 82.53 611.89 82.53 611.95 83.60Z" fill="#fff" stroke="#999" stroke-width="0.4"/><line x1="635.80" y1="83.50" x2="635.80" y2="111.00" stroke="#bbb" stroke-width="0.4" stroke-dasharray="0.8 0.4"/><path d="M635.95 83.60C636.01 84.67 636.03 89.87 636.10 91.60C636.17 93.33 636.30 95.73 636.50 96.60C636.70 97.47 637.29 97.77 637.60 98.10C637.91 98.43 638.03 98.88 638.80 99.05C639.57 99.22 642.79 99.24 643.40 99.35C644.01 99.46 644.01 99.74 643.40 99.85C642.79 99.96 639.57 99.98 638.80 100.15C638.03 100.32 637.91 100.77 637.60 101.10C637.29 101.43 636.71 101.87 636.50 102.60C636.29 103.33 636.12 105.60 636.05 106.60C635.98 107.60 636.00 109.63 635.95 110.10C635.90 110.57 635.70 110.57 635.65 110.10C635.60 109.63 635.62 107.60 635.55 106.60C635.48 105.60 635.31 103.33 635.10 102.60C634.89 101.87 634.31 101.43 634.00 101.10C633.69 100.77 633.57 100.32 632.80 100.15C632.03 99.98 628.81 99.96 628.20 99.85C627.59 99.74 627.59 99.46 628.20 99.35C628.81 99.24 632.03 99.22 632.80 99.05C633.57 98.88 633.69 98.43 634.00 98.10C634.31 97.77 634.90 97.47 635.10 96.60C635.30 95.73 635.43 93.33 635.50 91.60C635.57 89.87 635.59 84.67 635.65 83.60C635.71 82.53 635.89 82.53 635.95 83.60Z" fill="#fff" stroke="#999" stroke-width="0.4"/><line x1="659.90" y1="83.50" x2="659.90" y2="111.00" stroke="#bbb" stroke-width="0.4" stroke-dasharray="0.8 0.4"/><path d="M660.05 83.60C660.11 84.67 660.13 89.87 660.20 91.60C660.27 93.33 660.40 95.73 660.60 96.60C660.80 97.47 661.39 97.77 661.70 98.10C662.01 98.43 662.13 98.88 662.90 99.05C663.67 99.22 666.89 99.24 667.50 99.35C668.11 99.46 668.11 99.74 667.50 99.85C666.89 99.96 663.67 99.98 662.90 100.15C662.13 100.32 662.01 100.77 661.70 101.10C661.39 101.43 660.81 101.87 660.60 102.60C660.39 103.33 660.22 105.60 660.15 106.60C660.08 107.60 660.10 109.63 660.05 110.10C660.00 110.57 659.80 110.57 659.75 110.10C659.70 109.63 659.72 107.60 659.65 106.60C659.58 105.60 659.41 103.33 659.20 102.60C658.99 101.87 658.41 101.43 658.10 101.10C657.79 100.77 657.67 100.32 656.90 100.15C656.13 99.98 652.91 99.96 652.30 99.85C651.69 99.74 651.69 99.46 652.30 99.35C652.91 99.24 656.13 99.22 656.90 99.05C657.67 98.88 657.79 98.43 658.10 98.10C658.41 97.77 659.00 97.47 659.20 96.60C659.40 95.73 659.53 93.33 659.60 91.60C659.67 89.87 659.69 84.67 659.75 83.60C659.81 82.53 659.99 82.53 660.05 83.60Z" fill="#fff" stroke="#999" stroke-width="0.4"/><path d="M589.31 134.11C590.06 134.17 592.03 134.42 592.52 134.59C593.00 134.76 593.37 135.29 593.48 135.56C593.59 135.82 593.59 136.60 593.48 136.84C593.37 137.08 592.44 137.46 592.52 137.64C592.59 137.83 593.75 138.28 594.12 138.45C594.50 138.61 595.54 138.88 595.73 139.09C595.92 139.29 595.92 140.01 595.73 140.21C595.54 140.42 594.54 140.69 594.12 140.86C593.71 141.02 592.53 141.45 592.20 141.66C591.86 141.86 591.46 142.36 591.23 142.62C591.01 142.88 590.46 143.63 590.27 143.91C590.08 144.19 589.87 144.81 589.63 145.03C589.38 145.26 588.46 145.74 588.18 145.83C587.90 145.93 587.50 145.93 587.22 145.83C586.94 145.74 586.02 145.26 585.77 145.03C585.53 144.81 585.32 144.19 585.13 143.91C584.94 143.63 584.39 142.88 584.17 142.62C583.94 142.36 583.54 141.86 583.20 141.66C582.87 141.45 581.69 141.02 581.28 140.86C580.86 140.69 579.86 140.42 579.67 140.21C579.48 140.01 579.48 139.29 579.67 139.09C579.86 138.88 580.90 138.61 581.28 138.45C581.65 138.28 582.81 137.83 582.88 137.64C582.96 137.46 582.03 137.08 581.92 136.84C581.81 136.60 581.81 135.82 581.92 135.56C582.03 135.29 582.40 134.76 582.88 134.59C583.37 134.42 585.34 134.17 586.09 134.11C586.84 134.05 588.56 134.05 589.31 134.11Z" fill="#0a14ff"/><path d="M612.76 134.11C613.51 134.20 616.44 134.69 617.26 134.91C618.08 135.14 619.60 135.79 619.83 136.04C620.05 136.28 619.60 136.76 619.19 137.00C618.78 137.24 616.88 137.84 616.30 138.13C615.72 138.41 614.55 139.11 614.21 139.41C613.87 139.71 613.44 140.41 613.41 140.69C613.37 140.98 613.63 141.61 613.89 141.82C614.15 142.02 615.45 142.25 615.65 142.46C615.86 142.67 615.95 143.40 615.65 143.59C615.35 143.77 613.68 144.01 613.08 144.07C612.49 144.12 611.11 144.12 610.52 144.07C609.92 144.01 608.25 143.77 607.95 143.59C607.65 143.40 607.74 142.67 607.95 142.46C608.15 142.25 609.45 142.02 609.71 141.82C609.97 141.61 610.23 140.98 610.19 140.69C610.16 140.41 609.73 139.71 609.39 139.41C609.05 139.11 607.88 138.41 607.30 138.13C606.72 137.84 604.82 137.24 604.41 137.00C604.00 136.76 603.55 136.28 603.77 136.04C604.00 135.79 605.52 135.14 606.34 134.91C607.16 134.69 610.09 134.20 610.84 134.11C611.59 134.02 612.01 134.02 612.76 134.11Z" fill="#1446ff"/><path d="M637.41 134.11C638.16 134.17 640.13 134.42 640.62 134.59C641.10 134.76 641.47 135.29 641.58 135.56C641.69 135.82 641.69 136.60 641.58 136.84C641.47 137.08 640.54 137.46 640.62 137.64C640.69 137.83 641.85 138.28 642.22 138.45C642.60 138.61 643.64 138.88 643.83 139.09C644.02 139.29 644.05 140.01 643.83 140.21C643.60 140.42 642.35 140.69 641.90 140.86C641.45 141.02 640.31 141.41 639.98 141.66C639.64 141.90 639.16 142.62 639.01 142.94C638.86 143.26 638.92 144.11 638.69 144.39C638.47 144.67 637.57 145.24 637.08 145.35C636.60 145.46 635.00 145.46 634.52 145.35C634.03 145.24 633.13 144.67 632.91 144.39C632.68 144.11 632.74 143.26 632.59 142.94C632.44 142.62 631.96 141.90 631.62 141.66C631.29 141.41 630.15 141.02 629.70 140.86C629.25 140.69 628.00 140.42 627.77 140.21C627.55 140.01 627.58 139.29 627.77 139.09C627.96 138.88 629.00 138.61 629.38 138.45C629.75 138.28 630.91 137.83 630.98 137.64C631.06 137.46 630.13 137.08 630.02 136.84C629.91 136.60 629.91 135.82 630.02 135.56C630.13 135.29 630.50 134.76 630.98 134.59C631.47 134.42 633.44 134.17 634.19 134.11C634.94 134.05 636.66 134.05 637.41 134.11Z" fill="#0a14ff"/><path d="M661.18 134.11C661.90 134.19 664.23 134.58 664.72 134.75C665.20 134.92 665.29 135.35 665.36 135.56C665.44 135.76 665.44 136.29 665.36 136.52C665.29 136.74 664.57 137.28 664.72 137.48C664.87 137.69 666.27 138.10 666.64 138.29C667.02 138.47 667.82 138.88 667.93 139.09C668.04 139.29 667.87 139.85 667.61 140.05C667.35 140.26 666.09 140.63 665.68 140.86C665.27 141.08 664.41 141.72 664.08 141.98C663.74 142.24 663.09 142.84 662.79 143.10C662.49 143.37 661.81 143.98 661.51 144.23C661.21 144.47 660.45 145.08 660.22 145.19C660.00 145.30 659.80 145.30 659.58 145.19C659.35 145.08 658.59 144.47 658.29 144.23C657.99 143.98 657.31 143.37 657.01 143.10C656.71 142.84 656.06 142.24 655.72 141.98C655.39 141.72 654.53 141.08 654.12 140.86C653.71 140.63 652.45 140.26 652.19 140.05C651.93 139.85 651.76 139.29 651.87 139.09C651.98 138.88 652.78 138.47 653.16 138.29C653.53 138.10 654.93 137.69 655.08 137.48C655.23 137.28 654.51 136.74 654.44 136.52C654.36 136.29 654.36 135.76 654.44 135.56C654.51 135.35 654.60 134.92 655.08 134.75C655.57 134.58 657.90 134.19 658.62 134.11C659.33 134.04 660.47 134.04 661.18 134.11Z" fill="#0a14ff"/><line x1="675.80" y1="14.40" x2="677.50" y2="14.40" stroke="#222" stroke-width="0.45"/><text x="678.10" y="16.06" font-size="4.6" font-weight="bold">10</text><line x1="675.80" y1="30.10" x2="677.50" y2="30.10" stroke="#222" stroke-width="0.45"/><text x="678.10" y="31.76" font-size="4.6" font-weight="bold">0</text><line x1="675.80" y1="45.90" x2="677.50" y2="45.90" stroke="#222" stroke-width="0.45"/><text x="678.10" y="47.56" font-size="4.6" font-weight="bold">-10</text><line x1="675.80" y1="65.20" x2="677.50" y2="65.20" stroke="#222" stroke-width="0.45"/><text x="678.10" y="66.86" font-size="4.6" font-weight="bold">0</text><line x1="675.80" y1="99.60" x2="677.50" y2="99.60" stroke="#222" stroke-width="0.45"/><text x="678.10" y="101.26" font-size="4.6" font-weight="bold">0</text><line x1="675.80" y1="134.80" x2="677.50" y2="134.80" stroke="#222" stroke-width="0.45"/><text x="678.10" y="136.46" font-size="4.6" font-weight="bold">0</text><line x1="675.80" y1="22.20" x2="677.00" y2="22.20" stroke="#222" stroke-width="0.4"/><line x1="675.80" y1="38.00" x2="677.00" y2="38.00" stroke="#222" stroke-width="0.4"/><line x1="675.80" y1="49.40" x2="677.00" y2="49.40" stroke="#222" stroke-width="0.4"/><line x1="675.80" y1="57.30" x2="677.00" y2="57.30" stroke="#222" stroke-width="0.4"/><line x1="675.80" y1="73.00" x2="677.00" y2="73.00" stroke="#222" stroke-width="0.4"/><line x1="675.80" y1="80.90" x2="677.00" y2="80.90" stroke="#222" stroke-width="0.4"/><line x1="675.80" y1="91.60" x2="677.00" y2="91.60" stroke="#222" stroke-width="0.4"/><line x1="675.80" y1="107.60" x2="677.00" y2="107.60" stroke="#222" stroke-width="0.4"/><line x1="675.80" y1="115.50" x2="677.00" y2="115.50" stroke="#222" stroke-width="0.4"/><line x1="675.80" y1="126.80" x2="677.00" y2="126.80" stroke="#222" stroke-width="0.4"/><line x1="675.80" y1="142.80" x2="677.00" y2="142.80" stroke="#222" stroke-width="0.4"/><text x="591.1" y="158.6" font-size="8.3" font-weight="bold" text-anchor="end" transform="rotate(-33 591.1 158.6)">SPONT</text><text x="615.2" y="158.6" font-size="8.3" font-weight="bold" text-anchor="end" transform="rotate(-33 615.2 158.6)">CNTF</text><text x="639.2" y="158.6" font-size="8.3" font-weight="bold" text-anchor="end" transform="rotate(-33 639.2 158.6)">IGF</text><text x="663.3" y="158.6" font-size="8.3" font-weight="bold" text-anchor="end" transform="rotate(-33 663.3 158.6)">1%FBS</text>
<defs><filter id="eb1" x="-20%" y="-20%" width="140%" height="140%"><feGaussianBlur stdDeviation="1.5"/></filter><filter id="et1" x="-10%" y="-10%" width="120%" height="120%"><feGaussianBlur stdDeviation="1.0" result="b"/><feTurbulence type="fractalNoise" baseFrequency="0.24" numOctaves="3" seed="4" result="n"/><feColorMatrix in="n" type="matrix" values="0 0 0 0 1 0 0 0 0 1 0 0 0 0 1 3.6 0 0 0 -1.25" result="m"/><feComposite in="b" in2="m" operator="in"/></filter><filter id="et2" x="-10%" y="-10%" width="120%" height="120%"><feGaussianBlur stdDeviation="1.3" result="b"/><feTurbulence type="fractalNoise" baseFrequency="0.2" numOctaves="2" seed="9" result="n"/><feColorMatrix in="n" type="matrix" values="0 0 0 0 1 0 0 0 0 1 0 0 0 0 1 2.6 0 0 0 -0.35" result="m"/><feComposite in="b" in2="m" operator="in"/></filter><filter id="eb2" x="-20%" y="-20%" width="140%" height="140%"><feGaussianBlur stdDeviation="0.5"/></filter><filter id="eb3" x="-20%" y="-20%" width="140%" height="140%"><feGaussianBlur stdDeviation="0.4"/></filter></defs><text x="0.80" y="170.78" font-size="10.5" font-weight="bold">e</text><text x="33.60" y="178.08" font-size="8" text-anchor="middle">NPC</text><text x="84.80" y="177.48" font-size="8" text-anchor="middle">SPONT</text><text x="134.60" y="178.08" font-size="8" text-anchor="middle">CNTF</text><text x="186.20" y="178.08" font-size="8" text-anchor="middle">IGF</text><text x="236.40" y="178.08" font-size="8" text-anchor="middle">1%FBS</text><rect x="10.30" y="226.70" width="251.00" height="2.30" fill="#d4d4d4"/><rect x="10.30" y="276.40" width="251.00" height="1.60" fill="#e4e4e4"/><rect x="58.10" y="179.30" width="3.00" height="146.10" fill="#fff"/><rect x="108.90" y="179.30" width="3.40" height="146.10" fill="#fff"/><rect x="160.10" y="179.30" width="2.80" height="146.10" fill="#fff"/><rect x="210.70" y="179.30" width="2.80" height="146.10" fill="#fff"/><text x="4.60" y="205.95" font-size="8.2" text-anchor="middle" transform="rotate(-90 4.60 203.00)"><tspan fill="#f01010">HA</tspan><tspan fill="#888">+</tspan><tspan fill="#1818f0">DAPI</tspan></text><text x="4.60" y="255.55" font-size="8.2" text-anchor="middle" transform="rotate(-90 4.60 252.60)"><tspan fill="#18c018">Gfap</tspan><tspan fill="#888">+</tspan><tspan fill="#1818f0">DAPI</tspan></text><text x="4.60" y="304.55" font-size="8.2" text-anchor="middle" transform="rotate(-90 4.60 301.60)"><tspan fill="#e818e8">Pdgfra</tspan><tspan fill="#1818f0">+DAPI</tspan></text><svg x="10.3" y="179.3" width="47.8" height="47.4" viewBox="0 0 47.8 47.4"><rect width="47.8" height="47.4" fill="#000"/><path d="M5.4 3.8a3.3 2.6 166 1 0 -6.3 1.5a3.3 2.6 166 1 0 6.3 -1.5M44.2 2.2a3.3 2.6 105 1 0 -1.8 6.3a3.3 2.6 105 1 0 1.8 -6.3M36.9 6.3a3 2.6 113 1 0 -2.4 5.6a3 2.6 113 1 0 2.4 -5.6M20.7 10.8a3.5 2.4 54 1 0 4.1 5.8a3.5 2.4 54 1 0 -4.1 -5.8M22.9 14.3a3 2.8 124 1 0 -3.4 4.9a3 2.8 124 1 0 3.4 -4.9M25.7 22.4a2.9 2.9 173 1 0 -5.8 0.7a2.9 2.9 173 1 0 5.8 -0.7M-2.3 28a3.4 2.7 28 1 0 6 3.2a3.4 2.7 28 1 0 -6 -3.2M0.2 15.4a2.9 2.6 10 1 0 5.7 1.1a2.9 2.6 10 1 0 -5.7 -1.1M10.6 33.9a3.1 2.4 5 1 0 6.1 0.6a3.1 2.4 5 1 0 -6.1 -0.6M33.2 32.6a3.3 2.6 151 1 0 -5.8 3.1a3.3 2.6 151 1 0 5.8 -3.1M36.4 27a3.3 2.7 89 1 0 0 6.6a3.3 2.7 89 1 0 -0 -6.6M22.1 34.6a3.4 2.6 50 1 0 4.4 5.3a3.4 2.6 50 1 0 -4.4 -5.3M20.7 39.2a3.7 2.9 151 1 0 -6.5 3.6a3.7 2.9 151 1 0 6.5 -3.6M5.7 38.7a3.5 2.5 41 1 0 5.2 4.6a3.5 2.5 41 1 0 -5.2 -4.6M44.8 38.1a3.1 2.3 137 1 0 -4.6 4.2a3.1 2.3 137 1 0 4.6 -4.2M2.7 35.7a3.2 2.8 69 1 0 2.3 6a3.2 2.8 69 1 0 -2.3 -6" fill="#2226cc" opacity="0.85" filter="url(#eb2)"/><g style="mix-blend-mode:screen"><g filter="url(#et1)"><path d="M0.5 12.6a14 8 -15 1 0 27 -7.2a14 8 -15 1 0 -27 7.2" fill="#f01424" opacity="0.95"/><path d="M0.1 28.6a8 10 10 1 0 15.8 2.8a8 10 10 1 0 -15.8 -2.8" fill="#e01424" opacity="0.80"/><path d="M0 41a24 7 0 1 0 48 0a24 7 0 1 0 -48 -0" fill="#f81424" opacity="1.00"/><path d="M30.1 4a8 7 30 1 0 13.9 8a8 7 30 1 0 -13.9 -8" fill="#f01424" opacity="0.90"/><path d="M25.3 35a10 8 -30 1 0 17.3 -10a10 8 -30 1 0 -17.3 10" fill="#ff1424" opacity="0.95"/><path d="M13 20a9 10 0 1 0 18 0a9 10 0 1 0 -18 -0" fill="#e01424" opacity="0.80"/><path d="M39 42a5 7 0 1 0 10 0a5 7 0 1 0 -10 -0" fill="#f01424" opacity="0.80"/><path d="M8.3 4.7a4.4 3.8 163 1 0 -8.5 2.4a4.4 3.8 163 1 0 8.5 -2.4" fill="#f01424" opacity="0.80"/><path d="M48.7 2a4.6 4.7 140 1 0 -7.1 5.9a4.6 4.7 140 1 0 7.1 -5.9" fill="#f01424" opacity="0.73"/><path d="M27.5 5.9a7.1 5 21 1 0 13.1 5.1a7.1 5 21 1 0 -13.1 -5.1" fill="#f01424" opacity="0.72"/><path d="M22.4 5.4a6.6 3.7 100 1 0 -2.4 13a6.6 3.7 100 1 0 2.4 -13" fill="#f01424" opacity="0.79"/><path d="M15.6 15.9a4.8 4.7 20 1 0 8.9 3.4a4.8 4.7 20 1 0 -8.9 -3.4" fill="#f01424" opacity="0.78"/><path d="M17.5 16.1a7.1 5.1 54 1 0 8.2 11.5a7.1 5.1 54 1 0 -8.2 -11.5" fill="#f01424" opacity="0.95"/><path d="M-6.8 27.1a6.7 4.7 18 1 0 12.8 4.2a6.7 4.7 18 1 0 -12.8 -4.2" fill="#f01424" opacity="0.99"/><path d="M-2 9.7a6.5 4 53 1 0 7.8 10.5a6.5 4 53 1 0 -7.8 -10.5" fill="#f01424" opacity="0.66"/><path d="M10 29.8a5.1 4.6 66 1 0 4 9.3a5.1 4.6 66 1 0 -4 -9.3" fill="#f01424" opacity="0.79"/><path d="M27.2 30.8a6 5.2 32 1 0 10 6.5a6 5.2 32 1 0 -10 -6.5" fill="#f01424" opacity="0.69"/><path d="M41.5 27.9a5.1 3.7 133 1 0 -6.9 7.4a5.1 3.7 133 1 0 6.9 -7.4" fill="#f01424" opacity="0.97"/><path d="M21.4 32.4a6.8 4.6 75 1 0 3.3 13.2a6.8 4.6 75 1 0 -3.3 -13.2" fill="#f01424" opacity="0.67"/><path d="M12.1 39.2a5.1 4.9 46 1 0 7 7.3a5.1 4.9 46 1 0 -7 -7.3" fill="#f01424" opacity="0.93"/><path d="M4 39.1a4.9 4.9 12 1 0 9.5 2.1a4.9 4.9 12 1 0 -9.5 -2.1" fill="#f01424" opacity="0.71"/><path d="M48.6 40.1a6.1 3.9 165 1 0 -11.8 3.1a6.1 3.9 165 1 0 11.8 -3.1" fill="#f01424" opacity="0.70"/><path d="M-2.9 34.8a5.6 3.4 31 1 0 9.6 5.9a5.6 3.4 31 1 0 -9.6 -5.9" fill="#f01424" opacity="0.76"/></g><g filter="url(#eb3)"><path d="M3.5 41h1.1m-.6-14.5h1.1m.4-11.5h1.1m-.6-15h1.1m.4 40.5h1.1m.9-5.5h1.1m-.1-1h1.1m2.4-22h1.1m.4 26h1.1m-.6 4.5h1.1m1.9-13h1.1m2.9-11h1.1m-.6-10h1.1m-1.1 10h1.1m-1.1 10.5h1.1m-1.1 9h1.1m-.6-21.5h1.1m.9 14.5h1.1m1.4-.5h1.1m-.6 9.5h1.1m-.1-31.5h1.1m3.4 30.5h1.1m-.6 4h1.1m.9-10h1.1m.9-27.5h1.1m-1.1 35h1.1m-.6-32.5h1.1m.9 4h1.1m6.4 27.5h1.1m-.6-33.5h1.1" stroke="#f02030" stroke-width="1.1" fill="none"/></g></g><g filter="url(#eb1)"><path d="M28 9a3 9 0 1 0 6 0a3 9 0 1 0 -6 -0" fill="#000" opacity="0.90"/><path d="M38 21a5 8 0 1 0 10 0a5 8 0 1 0 -10 -0" fill="#000" opacity="0.90"/><path d="M1 24a5 4 0 1 0 10 0a5 4 0 1 0 -10 -0" fill="#000" opacity="0.80"/><path d="M10 17a4 3 0 1 0 8 0a4 3 0 1 0 -8 -0" fill="#000" opacity="0.70"/><path d="M24 27a3 3 0 1 0 6 0a3 3 0 1 0 -6 -0" fill="#000" opacity="0.70"/></g></svg><svg x="61.1" y="179.3" width="47.8" height="47.4" viewBox="0 0 47.8 47.4"><rect width="47.8" height="47.4" fill="#000"/><path d="M1.8 8.3a3 2.6 49 1 0 3.9 4.6a3 2.6 49 1 0 -3.9 -4.6M3.5 14.6a3.1 2.5 112 1 0 -2.4 5.7a3.1 2.5 112 1 0 2.4 -5.7M9.7 21.2a3.3 2.5 150 1 0 -5.8 3.2a3.3 2.5 150 1 0 5.8 -3.2M7.8 20.4a3.7 2.6 13 1 0 7.2 1.7a3.7 2.6 13 1 0 -7.2 -1.7M4.7 27.7a2.9 2.8 7 1 0 5.8 0.8a2.9 2.8 7 1 0 -5.8 -0.8M1.1 26.7a3.5 2.6 55 1 0 3.9 5.7a3.5 2.6 55 1 0 -3.9 -5.7M16.5 12.2a3.5 2.3 24 1 0 6.4 2.9a3.5 2.3 24 1 0 -6.4 -2.9M27.1 12a3.3 2.3 149 1 0 -5.6 3.3a3.3 2.3 149 1 0 5.6 -3.3M24.3 17.8a3.1 2.4 8 1 0 6.1 0.9a3.1 2.4 8 1 0 -6.1 -0.9M33.2 7.5a3.4 2.6 113 1 0 -2.7 6.2a3.4 2.6 113 1 0 2.7 -6.2M40.6 3.3a3.4 2.8 172 1 0 -6.8 0.9a3.4 2.8 172 1 0 6.8 -0.9M21.7 -1.2a3.4 2.4 85 1 0 0.5 6.9a3.4 2.4 85 1 0 -0.5 -6.9M17.9 -0.8a3 2.3 84 1 0 0.5 6.1a3 2.3 84 1 0 -0.5 -6.1M35.7 19.4a3.5 2.4 48 1 0 4.6 5.2a3.5 2.4 48 1 0 -4.6 -5.2M35.9 22.6a3.2 2.7 93 1 0 -0.4 6.3a3.2 2.7 93 1 0 0.4 -6.3M30 27.2a3.4 2.8 70 1 0 2.2 6.4a3.4 2.8 70 1 0 -2.2 -6.4M38.3 30.2a3.5 2.8 15 1 0 6.8 1.9a3.5 2.8 15 1 0 -6.8 -1.9M20.2 32.7a3.6 2.7 23 1 0 6.7 2.9a3.6 2.7 23 1 0 -6.7 -2.9M50.2 12.7a3.3 2.7 163 1 0 -6.3 1.8a3.3 2.7 163 1 0 6.3 -1.8M28.8 43.6a3.2 2.6 158 1 0 -5.9 2.4a3.2 2.6 158 1 0 5.9 -2.4M42.1 41.3a3.5 2.9 83 1 0 0.8 7a3.5 2.9 83 1 0 -0.8 -7" fill="#2226cc" opacity="0.85" filter="url(#eb2)"/><g style="mix-blend-mode:screen"><g filter="url(#et1)"><path d="M6.4 5.3a4.6 3.7 115 1 0 -4 8.4a4.6 3.7 115 1 0 4 -8.4" fill="#f01424" opacity="0.79"/><path d="M1.7 13.9a5.2 4 96 1 0 -1.2 10.3a5.2 4 96 1 0 1.2 -10.3" fill="#f01424" opacity="0.81"/><path d="M1.4 23.1a4.9 3 14 1 0 9.5 2.5a4.9 3 14 1 0 -9.5 -2.5" fill="#f01424" opacity="0.70"/><path d="M15 20a4.2 2.4 145 1 0 -6.9 4.7a4.2 2.4 145 1 0 6.9 -4.7" fill="#f01424" opacity="0.58"/><path d="M5.3 25.1a3.9 3.7 25 1 0 7 3.3a3.9 3.7 25 1 0 -7 -3.3" fill="#f01424" opacity="0.61"/><path d="M7.9 29.7a4.9 3.5 170 1 0 -9.6 1.7a4.9 3.5 170 1 0 9.6 -1.7" fill="#f01424" opacity="0.72"/><path d="M19.3 9.1a3.6 3.2 52 1 0 4.5 5.8a3.6 3.2 52 1 0 -4.5 -5.8" fill="#f01424" opacity="0.79"/><path d="M22.1 9.7a4.9 3.3 56 1 0 5.5 8.1a4.9 3.3 56 1 0 -5.5 -8.1" fill="#f01424" opacity="0.68"/><path d="M32.3 19.5a3.6 3.8 174 1 0 -7.2 0.7a3.6 3.8 174 1 0 7.2 -0.7" fill="#f01424" opacity="0.73"/><path d="M33.6 5.4a4.3 3.2 108 1 0 -2.8 8.1a4.3 3.2 108 1 0 2.8 -8.1" fill="#f01424" opacity="0.57"/><path d="M39.9 -0.1a4 3.7 101 1 0 -1.6 7.8a4 3.7 101 1 0 1.6 -7.8" fill="#f01424" opacity="0.72"/><path d="M27 -0a4.3 3.1 172 1 0 -8.5 1.2a4.3 3.1 172 1 0 8.5 -1.2" fill="#f01424" opacity="0.86"/><path d="M20.2 0.3a3.5 3.1 146 1 0 -5.8 3.8a3.5 3.1 146 1 0 5.8 -3.8" fill="#f01424" opacity="0.85"/><path d="M41.3 20.4a3.6 3.4 166 1 0 -7 1.7a3.6 3.4 166 1 0 7 -1.7" fill="#f01424" opacity="0.60"/><path d="M38.8 20.9a3.6 2.8 123 1 0 -4 6a3.6 2.8 123 1 0 4 -6" fill="#f01424" opacity="0.66"/><path d="M27.4 29.6a3.4 3.6 22 1 0 6.3 2.6a3.4 3.6 22 1 0 -6.3 -2.6" fill="#f01424" opacity="0.72"/><path d="M39.1 26a4.3 3.1 67 1 0 3.2 7.9a4.3 3.1 67 1 0 -3.2 -7.9" fill="#f01424" opacity="0.69"/><path d="M25.2 29.5a3.6 3.4 114 1 0 -3 6.5a3.6 3.4 114 1 0 3 -6.5" fill="#f01424" opacity="0.73"/><path d="M51.8 10.5a4.9 2.8 133 1 0 -6.7 7.1a4.9 2.8 133 1 0 6.7 -7.1" fill="#f01424" opacity="0.82"/><path d="M24.5 41.6a3.8 3.9 39 1 0 5.9 4.8a3.8 3.9 39 1 0 -5.9 -4.8" fill="#f01424" opacity="0.88"/><path d="M41.5 40.6a3.7 3.6 46 1 0 5 5.4a3.7 3.6 46 1 0 -5 -5.4" fill="#f01424" opacity="0.59"/></g><g filter="url(#eb3)"><path d="M-4.5 18.5h1.1m-.6 4.5h1.1m-.6-16.5h1.1m-1.1 9.5h1.1m-.6 11.5h1.1m.4 1h1.1m-.6 3h1.1m-.6-27h1.1m-1.1 27.5h1.1m-.1-17.5h1.1m-1.1 5.5h1.1m-.6 .5h1.1m-1.1 13.5h1.1m-.1-25.5h1.1m-.1 12h1.1m-1.1 12.5h1.1m.4-6.5h1.1m-.6-1.5h1.1m-.6-19h1.1m-.6 11.5h1.1m-.1-5.5h1.1m-1.1 10.5h1.1m-1.1 4h1.1m-1.1 5h1.1m-.6-2h1.1m-1.1 3h1.1m-.1-18.5h1.1m-1.1 4h1.1m-.6 2h1.1m-1.1 3.5h1.1m-1.1 2.5h1.1m-.6-21.5h1.1m-1.1 7.5h1.1m-1.1 3h1.1m-1.1 19h1.1m-.1-11h1.1m-.6-9.5h1.1m-1.1 16.5h1.1m-.6-1h1.1m-.1-25.5h1.1m-1.1 14.5h1.1m-.1-1h1.1m-1.1 2.5h1.1m-.6-2h1.1m-.6 8.5h1.1m-.6-23h1.1m-.1 1.5h1.1m.4-2h1.1m-1.1 11h1.1m-1.1 16.5h1.1m-.1-18h1.1m-.6-8h1.1m-1.1 10.5h1.1m-1.1 18.5h1.1m-.6-34.5h1.1m-1.1 36h1.1m-.1-32.5h1.1m-1.1 19h1.1m-.6-12.5h1.1m-1.1 8.5h1.1m-.6-8.5h1.1m-1.1 3.5h1.1m-1.1 3.5h1.1m-.6-15.5h1.1m-1.1 3.5h1.1m-1.1 8.5h1.1m-1.1 29.5h1.1m-.1-35.5h1.1m-1.1 .5h1.1m-1.1 43.5h1.1m-.6-4h1.1m-.6-14.5h1.1m-.6 .5h1.1m-.6-3h1.1m-1.1 21.5h1.1m-.1-46h1.1m-1.1 26.5h1.1m-1.1 4.5h1.1m-.6-39.5h1.1m-1.1 9h1.1m-.6 9.5h1.1m-1.1 6.5h1.1m-1.1 4h1.1m-.6-20.5h1.1m-1.1 10.5h1.1m-1.1 11.5h1.1m-.6 2h1.1m-.6-25h1.1m-1.1 8h1.1m-1.1 25.5h1.1m-1.1 10h1.1m-.1-49.5h1.1m-1.1 34h1.1m-1.1 7h1.1m-1.1 3h1.1m-1.1 5.5h1.1m-.6-4.5h1.1m-.6-39h1.1m-1.1 18.5h1.1m-.1-2h1.1m-1.1 4.5h1.1m-.6 4h1.1m-.6-1h1.1m-.6-23h1.1m-1.1 3h1.1m-1.1 2.5h1.1m-1.1 15.5h1.1m-1.1 2h1.1m-.6-11.5h1.1m-1.1 11.5h1.1m-1.1 13h1.1m-.6-13.5h1.1m-.6-28h1.1m.9 7.5h1.1m-1.1 40.5h1.1m-1.1 1h1.1m-.6-29.5h1.1m-.6 .5h1.1m-1.1 16h1.1m-.6-26.5h1.1m-1.1 18.5h1.1m-.6-10h1.1m-1.1 16.5h1.1m-.6-21.5h1.1m-1.1 14.5h1.1m-.6 13h1.1m-.6-2h1.1m-.6 0h1.1m-.6-17.5h1.1m-1.1 12.5h1.1m-1.1 10h1.1m-.1-43.5h1.1m-1.1 30.5h1.1m-1.1 6h1.1m-.6-25h1.1m-1.1 10h1.1m-.6-21.5h1.1m-.1 18h1.1m-1.1 7h1.1m-.6-16.5h1.1m-1.1 8.5h1.1m-1.1 27.5h1.1m.4-33h1.1m-1.1 17.5h1.1m-1.1 6h1.1m-.6 2.5h1.1m-.6 9h1.1m-.1-3h1.1m.9-28h1.1" stroke="#f02030" stroke-width="1.1" fill="none"/></g></g></svg><svg x="112.3" y="179.3" width="47.8" height="47.4" viewBox="0 0 47.8 47.4"><rect width="47.8" height="47.4" fill="#000"/><path d="M3.7 0.5a3 2.8 37 1 0 4.7 3.6a3 2.8 37 1 0 -4.7 -3.6M0.1 11.3a3.3 2.6 28 1 0 5.9 3.2a3.3 2.6 28 1 0 -5.9 -3.2M14.7 9.2a3.6 2.5 55 1 0 4 5.9a3.6 2.5 55 1 0 -4 -5.9M19.4 4.6a3 2.5 84 1 0 0.6 5.9a3 2.5 84 1 0 -0.6 -5.9M36.8 4.7a3.5 2.5 123 1 0 -3.8 5.8a3.5 2.5 123 1 0 3.8 -5.8M39.1 13a3 2.5 83 1 0 0.7 5.9a3 2.5 83 1 0 -0.7 -5.9M22.2 15a3.7 2.8 117 1 0 -3.4 6.5a3.7 2.8 117 1 0 3.4 -6.5M12.4 21.2a2.9 2.5 127 1 0 -3.6 4.6a2.9 2.5 127 1 0 3.6 -4.6M13.3 27.3a3.1 2.6 82 1 0 0.8 6.1a3.1 2.6 82 1 0 -0.8 -6.1M21.3 31.7a2.9 2.9 143 1 0 -4.7 3.4a2.9 2.9 143 1 0 4.7 -3.4M25.4 27.2a3.1 2.7 52 1 0 3.8 4.8a3.1 2.7 52 1 0 -3.8 -4.8M28.5 28.5a3.2 2.6 53 1 0 3.8 5.2a3.2 2.6 53 1 0 -3.8 -5.2M31.9 33.7a3.2 2.5 119 1 0 -3.2 5.5a3.2 2.5 119 1 0 3.2 -5.5M8.9 33.4a3.1 2.4 131 1 0 -4.1 4.6a3.1 2.4 131 1 0 4.1 -4.6M21.9 35.6a3.2 2.9 101 1 0 -1.2 6.2a3.2 2.9 101 1 0 1.2 -6.2M41.7 38.4a3.5 2.5 148 1 0 -5.9 3.6a3.5 2.5 148 1 0 5.9 -3.6M-1.3 40.9a3 2.4 16 1 0 5.7 1.7a3 2.4 16 1 0 -5.7 -1.7M22.1 43.7a3.4 2.7 32 1 0 5.8 3.7a3.4 2.7 32 1 0 -5.8 -3.7" fill="#2226cc" opacity="0.85" filter="url(#eb2)"/><g style="mix-blend-mode:screen"><g filter="url(#et1)"><path d="M32 40a6 5 0 1 0 12 0a6 5 0 1 0 -12 -0" fill="#f01424" opacity="0.80"/><path d="M12 12a6 4 0 1 0 12 0a6 4 0 1 0 -12 -0" fill="#f01424" opacity="0.60"/><path d="M2.4 0.8a4.4 2.5 40 1 0 6.6 5.7a4.4 2.5 40 1 0 -6.6 -5.7" fill="#f01424" opacity="0.50"/><path d="M0.8 9.3a3.3 3.9 76 1 0 1.5 6.5a3.3 3.9 76 1 0 -1.5 -6.5" fill="#f01424" opacity="0.59"/><path d="M14.8 9a4.8 3 59 1 0 4.9 8.4a4.8 3 59 1 0 -4.9 -8.4" fill="#f01424" opacity="0.56"/><path d="M21.4 4.4a4.6 4 142 1 0 -7.3 5.6a4.6 4 142 1 0 7.3 -5.6" fill="#f01424" opacity="0.63"/><path d="M37.1 2.2a3.9 2.9 117 1 0 -3.5 6.9a3.9 2.9 117 1 0 3.5 -6.9" fill="#f01424" opacity="0.48"/><path d="M40.6 11.5a4.8 3.7 110 1 0 -3.3 9a4.8 3.7 110 1 0 3.3 -9" fill="#f01424" opacity="0.50"/><path d="M21.6 15.5a4.3 3 90 1 0 -0 8.6a4.3 3 90 1 0 0 -8.6" fill="#f01424" opacity="0.49"/><path d="M15.2 23.4a4.2 3.5 150 1 0 -7.4 4.2a4.2 3.5 150 1 0 7.4 -4.2" fill="#f01424" opacity="0.51"/><path d="M12.9 28.4a3.6 2.5 44 1 0 5.2 5a3.6 2.5 44 1 0 -5.2 -5" fill="#f01424" opacity="0.60"/><path d="M19.2 27.7a5.1 3 83 1 0 1.2 10a5.1 3 83 1 0 -1.2 -10" fill="#f01424" opacity="0.49"/><path d="M30.2 23.2a5 3.3 100 1 0 -1.9 9.8a5 3.3 100 1 0 1.9 -9.8" fill="#f01424" opacity="0.60"/><path d="M31 27.8a5.2 3.7 108 1 0 -3.3 9.8a5.2 3.7 108 1 0 3.3 -9.8" fill="#f01424" opacity="0.49"/><path d="M32.8 30.7a5 2.8 103 1 0 -2.3 9.7a5 2.8 103 1 0 2.3 -9.7" fill="#f01424" opacity="0.67"/><path d="M2.7 34.1a3.4 2.5 32 1 0 5.7 3.6a3.4 2.5 32 1 0 -5.7 -3.6" fill="#f01424" opacity="0.71"/><path d="M25.6 36.5a3.8 3.5 132 1 0 -5.2 5.6a3.8 3.5 132 1 0 5.2 -5.6" fill="#f01424" opacity="0.55"/><path d="M38.8 38.2a3.2 2.7 84 1 0 0.6 6.4a3.2 2.7 84 1 0 -0.6 -6.4" fill="#f01424" opacity="0.49"/><path d="M-1.3 39.4a3.5 3.2 47 1 0 4.8 5.2a3.5 3.2 47 1 0 -4.8 -5.2" fill="#f01424" opacity="0.60"/><path d="M21.4 44.7a3.3 3.5 26 1 0 5.9 2.9a3.3 3.5 26 1 0 -5.9 -2.9" fill="#f01424" opacity="0.70"/></g><g filter="url(#eb3)"><path d="M-4.5 9.5h1.1m-.1 31.5h1.1m-.6-34h1.1m-.6 5.5h1.1m.4-11h1.1m-.1 5h1.1m.4 29.5h1.1m-.1-29h1.1m-.6-7h1.1m-.6 45h1.1m-.1-23.5h1.1m-1.1 24h1.1m-.6-41h1.1m-.6 13.5h1.1m-1.1 2.5h1.1m-.6 9h1.1m-1.1 8h1.1m-.1-7h1.1m-.6 5h1.1m-.6-22.5h1.1m-1.1 5h1.1m-1.1 9h1.1m-1.1 6h1.1m-.6-8h1.1m-1.1 8h1.1m-.6 12.5h1.1m-.6-35.5h1.1m-.6 16h1.1m-.6 3.5h1.1m-1.1 5.5h1.1m-.6-1.5h1.1m.9-9.5h1.1m-.6 6h1.1m-1.1 4.5h1.1m-.6-22h1.1m-1.1 12.5h1.1m-.6 2h1.1m-.6-18.5h1.1m-1.1 15h1.1m-1.1 5h1.1m-1.1 5h1.1m.9-18.5h1.1m-1.1 2.5h1.1m-.6 2.5h1.1m-1.1 17.5h1.1m-.1-12.5h1.1m-1.1 15.5h1.1m-.6-18h1.1m-1.1 19.5h1.1m-.1-13h1.1m.9-23h1.1m-1.1 28h1.1m.9 4h1.1m-.6-33.5h1.1m-.6 15h1.1m-1.1 8.5h1.1m-1.1 10.5h1.1m-.6-6.5h1.1m-1.1 2.5h1.1m-.6 6h1.1m-.1 0h1.1m-1.1 11h1.1m-.6-17.5h1.1m-.6-9.5h1.1m-1.1 11.5h1.1m-.6 1.5h1.1m-.6-22h1.1m.4-.5h1.1m-1.1 8h1.1m-.1 18.5h1.1m-.6-11.5h1.1m-.1-14h1.1m-.6 11.5h1.1m-.1 14h1.1m-.6-24.5h1.1m.4 4.5h1.1m-.6 13.5h1.1m-.6-22.5h1.1m-.6-1h1.1m-1.1 11.5h1.1m-.6 13.5h1.1m-1.1 7h1.1m-.6-32h1.1m-.6-2.5h1.1m-.1 26h1.1m-.6-12h1.1m-1.1 15h1.1m-.6-24.5h1.1m.9 5.5h1.1" stroke="#f02030" stroke-width="1.1" fill="none"/></g></g></svg><svg x="162.9" y="179.3" width="47.8" height="47.4" viewBox="0 0 47.8 47.4"><rect width="47.8" height="47.4" fill="#000"/><path d="M26.9 24.6a3.3 2.8 137 1 0 -4.9 4.5a3.3 2.8 137 1 0 4.9 -4.5M33.8 9.3a3 2.8 159 1 0 -5.5 2.1a3 2.8 159 1 0 5.5 -2.1M2.6 0.2a3.5 2.8 47 1 0 4.7 5.1a3.5 2.8 47 1 0 -4.7 -5.1M37.2 35.1a3 2.3 144 1 0 -4.9 3.4a3 2.3 144 1 0 4.9 -3.4M3.8 10a3.1 2.5 28 1 0 5.4 2.9a3.1 2.5 28 1 0 -5.4 -2.9M38.6 3a3.1 2.4 59 1 0 3.1 5.3a3.1 2.4 59 1 0 -3.1 -5.3M45.6 37a3.5 2.8 52 1 0 4.2 5.5a3.5 2.8 52 1 0 -4.2 -5.5M23.1 37.7a3.2 2.5 120 1 0 -3.2 5.6a3.2 2.5 120 1 0 3.2 -5.6M16.8 9.2a3.3 2.7 65 1 0 2.8 6a3.3 2.7 65 1 0 -2.8 -6M44.3 29.2a3.5 2.9 132 1 0 -4.7 5.1a3.5 2.9 132 1 0 4.7 -5.1M17.5 26.9a3.6 2.9 147 1 0 -6.1 3.9a3.6 2.9 147 1 0 6.1 -3.9M26.6 7.2a3.6 2.5 152 1 0 -6.4 3.3a3.6 2.5 152 1 0 6.4 -3.3M6.7 19a3.3 2.7 7 1 0 6.6 0.8a3.3 2.7 7 1 0 -6.6 -0.8M22.7 29.5a3.4 2.5 86 1 0 0.4 6.8a3.4 2.5 86 1 0 -0.4 -6.8M17.2 19.1a3.2 2.5 133 1 0 -4.3 4.6a3.2 2.5 133 1 0 4.3 -4.6M41.3 22.2a3.5 2.5 114 1 0 -2.8 6.3a3.5 2.5 114 1 0 2.8 -6.3M22 15.1a3.2 2.7 33 1 0 5.4 3.5a3.2 2.7 33 1 0 -5.4 -3.5M5.6 14a3.6 2.4 101 1 0 -1.4 7a3.6 2.4 101 1 0 1.4 -7M24.4 -2.2a3 2.9 115 1 0 -2.6 5.4a3 2.9 115 1 0 2.6 -5.4M29.6 0.9a3 2.7 48 1 0 4 4.5a3 2.7 48 1 0 -4 -4.5M18 3a3 2.4 111 1 0 -2.2 5.6a3 2.4 111 1 0 2.2 -5.6M40.2 17.5a3.1 2.7 175 1 0 -6.2 0.5a3.1 2.7 175 1 0 6.2 -0.5M40 10.3a3.3 2.7 142 1 0 -5.2 4a3.3 2.7 142 1 0 5.2 -4M42.1 10.7a3.6 2.5 48 1 0 4.8 5.5a3.6 2.5 48 1 0 -4.8 -5.5M33 21.8a3.1 2.7 69 1 0 2.2 5.8a3.1 2.7 69 1 0 -2.2 -5.8M32.5 41.4a3.4 2.4 28 1 0 6.1 3.3a3.4 2.4 28 1 0 -6.1 -3.3M9.3 38.3a3.7 2.8 34 1 0 6.1 4.2a3.7 2.8 34 1 0 -6.1 -4.2M46.1 41.4a3.2 2.6 144 1 0 -5.2 3.7a3.2 2.6 144 1 0 5.2 -3.7M15.1 8.8a3.2 2.8 149 1 0 -5.6 3.2a3.2 2.8 149 1 0 5.6 -3.2M43.3 -0.6a3.6 2.4 12 1 0 7 1.5a3.6 2.4 12 1 0 -7 -1.5" fill="#2226cc" opacity="0.85" filter="url(#eb2)"/><g style="mix-blend-mode:screen"><g filter="url(#et1)"><path d="M29.1 20.4a9 13 10 1 0 17.7 3.1a9 13 10 1 0 -17.7 -3.1" fill="#f01424" opacity="0.80"/><path d="M3 30a11 8 0 1 0 22 0a11 8 0 1 0 -22 -0" fill="#e01424" opacity="0.60"/><path d="M20 38a10 6 0 1 0 20 0a10 6 0 1 0 -20 -0" fill="#e01424" opacity="0.60"/><path d="M27.3 24.7a4.8 2.9 129 1 0 -6.1 7.3a4.8 2.9 129 1 0 6.1 -7.3" fill="#f01424" opacity="0.60"/><path d="M26.6 6.9a4.8 2.9 50 1 0 6.1 7.5a4.8 2.9 50 1 0 -6.1 -7.5" fill="#f01424" opacity="0.73"/><path d="M9 2.4a4.6 4.1 158 1 0 -8.5 3.4a4.6 4.1 158 1 0 8.5 -3.4" fill="#f01424" opacity="0.61"/><path d="M30.8 35.3a4 3.5 49 1 0 5.2 6a4 3.5 49 1 0 -5.2 -6" fill="#f01424" opacity="0.60"/><path d="M6.5 6a3.8 3.5 100 1 0 -1.4 7.5a3.8 3.5 100 1 0 1.4 -7.5" fill="#f01424" opacity="0.53"/><path d="M35.8 2.5a4.8 2.6 60 1 0 4.7 8.4a4.8 2.6 60 1 0 -4.7 -8.4" fill="#f01424" opacity="0.53"/><path d="M46.9 37.9a4.3 2.6 63 1 0 3.8 7.6a4.3 2.6 63 1 0 -3.8 -7.6" fill="#f01424" opacity="0.65"/><path d="M18.4 36a4.7 4 45 1 0 6.6 6.7a4.7 4 45 1 0 -6.6 -6.7" fill="#f01424" opacity="0.54"/><path d="M22.4 10.2a5.1 3.5 169 1 0 -10 1.9a5.1 3.5 169 1 0 10 -1.9" fill="#f01424" opacity="0.50"/><path d="M40.4 30.1a4.5 3.7 48 1 0 6 6.8a4.5 3.7 48 1 0 -6 -6.8" fill="#f01424" opacity="0.50"/><path d="M10.4 26.2a4.4 4.1 11 1 0 8.6 1.7a4.4 4.1 11 1 0 -8.6 -1.7" fill="#f01424" opacity="0.59"/><path d="M24.4 4a3.9 4.1 89 1 0 0.1 7.8a3.9 4.1 89 1 0 -0.1 -7.8" fill="#f01424" opacity="0.58"/><path d="M15.1 19.1a5.1 3.9 168 1 0 -10 2a5.1 3.9 168 1 0 10 -2" fill="#f01424" opacity="0.62"/><path d="M18.9 32.4a5.3 3.6 1 1 0 10.6 0.3a5.3 3.6 1 1 0 -10.6 -0.3" fill="#f01424" opacity="0.53"/><path d="M18.8 22.2a4.5 3 178 1 0 -8.9 0.2a4.5 3 178 1 0 8.9 -0.2" fill="#f01424" opacity="0.67"/><path d="M40.7 21.2a3.5 3.7 106 1 0 -2.1 6.8a3.5 3.7 106 1 0 2.1 -6.8" fill="#f01424" opacity="0.56"/><path d="M21.5 12.7a3.5 2.8 54 1 0 4 5.7a3.5 2.8 54 1 0 -4 -5.7" fill="#f01424" opacity="0.55"/><path d="M0.1 15.9a4.2 2.9 3 1 0 8.4 0.6a4.2 2.9 3 1 0 -8.4 -0.6" fill="#f01424" opacity="0.60"/><path d="M25.3 -4.8a5.4 4 137 1 0 -7.9 7.4a5.4 4 137 1 0 7.9 -7.4" fill="#f01424" opacity="0.50"/><path d="M27.8 -2.5a4.7 3.5 57 1 0 4.9 7.9a4.7 3.5 57 1 0 -4.9 -7.9" fill="#f01424" opacity="0.62"/><path d="M22.9 3a5.1 4.1 146 1 0 -8.4 5.6a5.1 4.1 146 1 0 8.4 -5.6" fill="#f01424" opacity="0.51"/><path d="M37 14.2a5.3 3.9 94 1 0 -0.8 10.5a5.3 3.9 94 1 0 0.8 -10.5" fill="#f01424" opacity="0.49"/><path d="M40.3 8a5.3 2.6 110 1 0 -3.8 10a5.3 2.6 110 1 0 3.8 -10" fill="#f01424" opacity="0.59"/><path d="M48.4 13.3a4.3 4.2 166 1 0 -8.4 2a4.3 4.2 166 1 0 8.4 -2" fill="#f01424" opacity="0.52"/><path d="M38.8 23.5a4.3 3.3 150 1 0 -7.5 4.2a4.3 3.3 150 1 0 7.5 -4.2" fill="#f01424" opacity="0.63"/><path d="M35.3 39.7a3.5 4.1 95 1 0 -0.6 7a3.5 4.1 95 1 0 0.6 -7" fill="#f01424" opacity="0.62"/><path d="M11.8 35.1a3.5 3.1 96 1 0 -0.8 7a3.5 3.1 96 1 0 0.8 -7" fill="#f01424" opacity="0.58"/><path d="M43.1 40a3.8 3.3 99 1 0 -1.2 7.5a3.8 3.3 99 1 0 1.2 -7.5" fill="#f01424" opacity="0.50"/><path d="M9.8 8.5a5.3 2.7 33 1 0 8.8 5.9a5.3 2.7 33 1 0 -8.8 -5.9" fill="#f01424" opacity="0.75"/><path d="M45.4 -3.9a3.6 2.7 45 1 0 5.1 5.2a3.6 2.7 45 1 0 -5.1 -5.2" fill="#f01424" opacity="0.56"/></g><g filter="url(#eb3)"><path d="M-3.5 14.5h1.1m4.4-9.5h1.1m-1.1 4h1.1m-.6-13h1.1m-.1 13.5h1.1m-.6 1.5h1.1m.9-11h1.1m-1.1 11h1.1m-.6 10h1.1m-.1-26h1.1m-.1 7.5h1.1m-.1 7h1.1m.4 35.5h1.1m-.6-42.5h1.1m-1.1 5.5h1.1m-.6 10h1.1m-.6 25h1.1m-.6-29.5h1.1m-1.1 10.5h1.1m-.6-10.5h1.1m-.6-2h1.1m-.6-13h1.1m-1.1 14h1.1m-1.1 7.5h1.1m-1.1 23.5h1.1m-.6-29h1.1m-.6-11.5h1.1m-1.1 37.5h1.1m-.6-24.5h1.1m-1.1 24h1.1m-.6-29h1.1m-1.1 8h1.1m-.6 1h1.1m-.6 25h1.1m-.6 0h1.1m-.6-30.5h1.1m-1.1 23h1.1m-1.1 3h1.1m-.1-19h1.1m-.6-20.5h1.1m-1.1 28h1.1m-1.1 1h1.1m-.1-33.5h1.1m-1.1 37h1.1m-.6-26h1.1m-1.1 12h1.1m-1.1 16h1.1m-1.1 10h1.1m-.1-29.5h1.1m-.6 5h1.1m-.6 21.5h1.1m-.6-37.5h1.1m-.1 1h1.1m-1.1 7h1.1m-.6-4.5h1.1m-1.1 .5h1.1m-.6 1h1.1m-1.1 4h1.1m-1.1 24.5h1.1m-.6-34h1.1m-.6 11h1.1m-1.1 27.5h1.1m-.6-20.5h1.1m-.6-12.5h1.1m-.6-6.5h1.1m-1.1 1h1.1m-.6 10.5h1.1m-.6-9h1.1m-1.1 18h1.1m-.1-1.5h1.1m-1.1 16.5h1.1m-.6 3.5h1.1m-1.1 1h1.1m-.6-30h1.1m-.6 19h1.1m.4-18.5h1.1m-1.1 26h1.1m-.1 1h1.1m-.6-37h1.1m-1.1 16.5h1.1m-.6-4h1.1m-.6 18.5h1.1m-.6-20h1.1m-1.1 13.5h1.1m-.6-18.5h1.1m-1.1 10h1.1m-.6 14h1.1m-.6-4.5h1.1m-1.1 15h1.1m-.6 4.5h1.1m-.6-8.5h1.1m-.6-4h1.1m-.6-18.5h1.1m-1.1 20h1.1m-.6-35.5h1.1m-.6 34.5h1.1m-.6-21.5h1.1m-.1-8.5h1.1m-.6 22.5h1.1m-1.1 11h1.1m-.1-2h1.1m-.1-38h1.1m-.6 30h1.1m-1.1 3h1.1m2.4 1h1.1m-1.1 12h1.1m-.6-32.5h1.1m-1.1 24.5h1.1m.9 6.5h1.1m.4-46h1.1" stroke="#f02030" stroke-width="1.1" fill="none"/></g></g></svg><svg x="213.5" y="179.3" width="47.8" height="47.4" viewBox="0 0 47.8 47.4"><rect width="47.8" height="47.4" fill="#000"/><path d="M38.1 0.1a2.9 2.7 99 1 0 -1 5.8a2.9 2.7 99 1 0 1 -5.8M16.6 17.2a3.6 2.7 4 1 0 7.3 0.5a3.6 2.7 4 1 0 -7.3 -0.5M30.2 21.5a3.6 2.8 104 1 0 -1.8 7.1a3.6 2.8 104 1 0 1.8 -7.1M5 23a2.9 2.7 75 1 0 1.5 5.6a2.9 2.7 75 1 0 -1.5 -5.6M4.5 29.5a3.4 2.9 164 1 0 -6.7 1.8a3.4 2.9 164 1 0 6.7 -1.8M15.1 29.7a3 2.8 79 1 0 1.1 5.8a3 2.8 79 1 0 -1.1 -5.8M39.4 18.6a3.5 2.5 80 1 0 1.2 6.9a3.5 2.5 80 1 0 -1.2 -6.9M42 25.3a3.2 2.4 57 1 0 3.5 5.5a3.2 2.4 57 1 0 -3.5 -5.5M38.9 32.9a3.5 2.3 20 1 0 6.5 2.5a3.5 2.3 20 1 0 -6.5 -2.5M4.8 39a3.6 2.7 98 1 0 -1.1 7.1a3.6 2.7 98 1 0 1.1 -7.1M15.5 39.3a3 2.4 55 1 0 3.4 4.9a3 2.4 55 1 0 -3.4 -4.9M41.2 41.6a3.7 2.6 165 1 0 -7.1 1.8a3.7 2.6 165 1 0 7.1 -1.8M3.1 0.7a3.1 2.5 96 1 0 -0.7 6.1a3.1 2.5 96 1 0 0.7 -6.1" fill="#2226cc" opacity="0.85" filter="url(#eb2)"/><g style="mix-blend-mode:screen"><g filter="url(#et1)"><path d="M31 24a9 11 0 1 0 18 0a9 11 0 1 0 -18 -0" fill="#ff1424" opacity="1.00"/><path d="M7.1 4.5a17 6 5 1 0 33.9 3a17 6 5 1 0 -33.9 -3" fill="#f01424" opacity="0.90"/><path d="M3.2 36.6a15 7 -10 1 0 29.5 -5.2a15 7 -10 1 0 -29.5 5.2" fill="#f81424" opacity="0.95"/><path d="M31 42a9 6 0 1 0 18 0a9 6 0 1 0 -18 -0" fill="#f81424" opacity="0.90"/><path d="M15 18a5 5 0 1 0 10 0a5 5 0 1 0 -10 -0" fill="#ff1424" opacity="0.90"/><path d="M-1 28a5 9 0 1 0 10 0a5 9 0 1 0 -10 -0" fill="#f01424" opacity="0.80"/><path d="M32.9 0.9a6.2 3.9 5 1 0 12.3 1.2a6.2 3.9 5 1 0 -12.3 -1.2" fill="#f01424" opacity="0.79"/><path d="M23.2 12.9a6.3 4 124 1 0 -7.1 10.5a6.3 4 124 1 0 7.1 -10.5" fill="#f01424" opacity="0.77"/><path d="M32 17.8a5.9 3.3 105 1 0 -3.1 11.3a5.9 3.3 105 1 0 3.1 -11.3" fill="#f01424" opacity="0.70"/><path d="M5.5 19.6a4.9 4.2 93 1 0 -0.6 9.7a4.9 4.2 93 1 0 0.6 -9.7" fill="#f01424" opacity="0.77"/><path d="M1.2 26.8a4.9 4.2 86 1 0 0.6 9.8a4.9 4.2 86 1 0 -0.6 -9.8" fill="#f01424" opacity="0.98"/><path d="M18 30a4.6 3.5 131 1 0 -6.1 6.9a4.6 3.5 131 1 0 6.1 -6.9" fill="#f01424" opacity="0.84"/><path d="M42.8 15.6a6.1 3.8 128 1 0 -7.6 9.4a6.1 3.8 128 1 0 7.6 -9.4" fill="#f01424" opacity="0.79"/><path d="M43.3 21.9a6.4 4.8 82 1 0 1.8 12.8a6.4 4.8 82 1 0 -1.8 -12.8" fill="#f01424" opacity="0.81"/><path d="M44.9 33.2a4.3 3.6 152 1 0 -7.6 3.9a4.3 3.6 152 1 0 7.6 -3.9" fill="#f01424" opacity="0.64"/><path d="M0.3 40.3a5.4 3.7 27 1 0 9.6 4.9a5.4 3.7 27 1 0 -9.6 -4.9" fill="#f01424" opacity="0.97"/><path d="M14.9 40.3a4.2 4.6 39 1 0 6.6 5.4a4.2 4.6 39 1 0 -6.6 -5.4" fill="#f01424" opacity="0.70"/><path d="M38.9 38.8a4.3 4.5 104 1 0 -2.2 8.3a4.3 4.5 104 1 0 2.2 -8.3" fill="#f01424" opacity="0.95"/><path d="M7.5 0.8a4.9 4.9 129 1 0 -6.2 7.6a4.9 4.9 129 1 0 6.2 -7.6" fill="#f01424" opacity="0.73"/></g><g filter="url(#eb3)"><path d="M-2.5 2.5h1.1m-.6-6h1.1m-1.1 35h1.1m-.1-4.5h1.1m-.1-26.5h1.1m.9 27.5h1.1m.4-19.5h1.1m.4 27.5h1.1m-.6-4h1.1m1.9-.5h1.1m-.6-4.5h1.1m-1.1 11h1.1m-.6 0h1.1m-.1-9.5h1.1m-.6 13h1.1m-.1-8h1.1m-.6 13.5h1.1m1.9-8h1.1m-.1-2.5h1.1m-.6 1h1.1m-.6-6.5h1.1m-.6 .5h1.1m.4 15.5h1.1m.9-25h1.1m-1.1 11.5h1.1m-.1-16h1.1m-.6 3h1.1m1.9 20h1.1m-.6-18h1.1m-.6-2.5h1.1m3.9-21.5h1.1m-1.1 19.5h1.1m1.4 .5h1.1m-.6-14h1.1m1.4 28.5h1.1m-.6-9.5h1.1m.9 21h1.1m-.6-2.5h1.1m-.6-13.5h1.1m-.6-4h1.1m-.1-18h1.1m-.6 24.5h1.1m-.1-11h1.1m-.1 18h1.1m-.1-9h1.1m-1.1 9h1.1m-.1 3h1.1m.9-1.5h1.1m-.1-8.5h1.1" stroke="#f02030" stroke-width="1.1" fill="none"/></g></g><g filter="url(#eb1)"><path d="M1 15a6 8 0 1 0 12 0a6 8 0 1 0 -12 -0" fill="#000" opacity="0.90"/><path d="M22 12a5 5 0 1 0 10 0a5 5 0 1 0 -10 -0" fill="#000" opacity="0.90"/><path d="M13 39a9 4 0 1 0 18 0a9 4 0 1 0 -18 -0" fill="#000" opacity="0.80"/><path d="M27 24a3 4 0 1 0 6 0a3 4 0 1 0 -6 -0" fill="#000" opacity="0.70"/></g></svg><svg x="10.3" y="229.0" width="47.8" height="47.4" viewBox="0 0 47.8 47.4"><rect width="47.8" height="47.4" fill="#000"/><path d="M2.6 0.2a3.6 2.4 121 1 0 -3.9 6.2a3.6 2.4 121 1 0 3.9 -6.2M4.9 3.9a3.4 2.7 103 1 0 -1.6 6.6a3.4 2.7 103 1 0 1.6 -6.6M9.6 7a3.4 2.3 55 1 0 3.8 5.6a3.4 2.3 55 1 0 -3.8 -5.6M23.3 11.1a3 2.6 133 1 0 -4 4.3a3 2.6 133 1 0 4 -4.3M20.2 15.4a3.1 2.3 44 1 0 4.4 4.3a3.1 2.3 44 1 0 -4.4 -4.3M35.6 4.2a3 2.7 90 1 0 -0.1 5.9a3 2.7 90 1 0 0.1 -5.9M43.9 2.8a3.3 2.3 100 1 0 -1.2 6.4a3.3 2.3 100 1 0 1.2 -6.4M34.4 10.9a3 2.7 12 1 0 5.9 1.3a3 2.7 12 1 0 -5.9 -1.3M5 22.7a3 2.8 179 1 0 -5.9 0a3 2.8 179 1 0 5.9 -0M10 32.6a3.2 2.7 41 1 0 4.8 4.3a3.2 2.7 41 1 0 -4.8 -4.3M21.1 38.8a3.7 2.4 163 1 0 -7.1 2.1a3.7 2.4 163 1 0 7.1 -2.1M3.9 40a3.3 2.9 12 1 0 6.5 1.4a3.3 2.9 12 1 0 -6.5 -1.4M26.8 33.3a3.7 2.8 9 1 0 7.3 1.2a3.7 2.8 9 1 0 -7.3 -1.2M37.5 26.7a2.9 2.9 76 1 0 1.4 5.7a2.9 2.9 76 1 0 -1.4 -5.7M33.4 33.3a3 2.3 28 1 0 5.3 2.9a3 2.3 28 1 0 -5.3 -2.9M39.8 37.1a3.3 2.4 57 1 0 3.6 5.5a3.3 2.4 57 1 0 -3.6 -5.5M3.7 9.8a3 2.4 144 1 0 -4.9 3.5a3 2.4 144 1 0 4.9 -3.5M29 38.6a3.2 2.3 42 1 0 4.6 4.3a3.2 2.3 42 1 0 -4.6 -4.3" fill="#1c28cc" opacity="0.88" filter="url(#eb2)"/><g style="mix-blend-mode:screen"><g filter="url(#eb1)" opacity="0" stroke="#2af02a" fill="none" stroke-linecap="round"></g><g filter="url(#eb3)" stroke="#2af02a" fill="none" stroke-linecap="round"></g></g></svg><svg x="61.1" y="229.0" width="47.8" height="47.4" viewBox="0 0 47.8 47.4"><rect width="47.8" height="47.4" fill="#000"/><path d="M6.9 9.3a3.5 2.4 152 1 0 -6.2 3.2a3.5 2.4 152 1 0 6.2 -3.2M1.6 16a3.6 2.7 66 1 0 2.9 6.6a3.6 2.7 66 1 0 -2.9 -6.6M3.7 21.5a3.5 2.9 26 1 0 6.2 3.1a3.5 2.9 26 1 0 -6.2 -3.1M6.1 24.9a3.6 2.9 130 1 0 -4.7 5.5a3.6 2.9 130 1 0 4.7 -5.5M6.5 25.5a3.4 2.4 57 1 0 3.7 5.8a3.4 2.4 57 1 0 -3.7 -5.8M2.5 27.3a3.4 2.5 93 1 0 -0.5 6.7a3.4 2.5 93 1 0 0.5 -6.7M13.5 18.7a3.6 2.6 144 1 0 -5.8 4.1a3.6 2.6 144 1 0 5.8 -4.1M24.2 -0.2a3.1 2.4 117 1 0 -2.9 5.5a3.1 2.4 117 1 0 2.9 -5.5M40.1 3.1a2.9 2.9 175 1 0 -5.8 0.5a2.9 2.9 175 1 0 5.8 -0.5M16.7 11.2a3.6 2.7 33 1 0 6.1 4a3.6 2.7 33 1 0 -6.1 -4M20.8 12.8a3.7 2.7 18 1 0 6.9 2.4a3.7 2.7 18 1 0 -6.9 -2.4M32.9 7.8a3.3 2.8 107 1 0 -2 6.3a3.3 2.8 107 1 0 2 -6.3M27.2 15.3a3.2 2.9 87 1 0 0.2 6.4a3.2 2.9 87 1 0 -0.2 -6.4M38.4 18.6a2.9 2.4 84 1 0 0.6 5.8a2.9 2.4 84 1 0 -0.6 -5.8M36.6 22a3.4 2.6 105 1 0 -1.8 6.6a3.4 2.6 105 1 0 1.8 -6.6M27.1 29.4a3.3 2.5 8 1 0 6.6 0.9a3.3 2.5 8 1 0 -6.6 -0.9M26.7 33.3a3.2 2.8 172 1 0 -6.4 0.8a3.2 2.8 172 1 0 6.4 -0.8M44.6 31.8a2.9 2.6 172 1 0 -5.8 0.7a2.9 2.6 172 1 0 5.8 -0.7M21.7 45.6a3.4 2.3 4 1 0 6.8 0.5a3.4 2.3 4 1 0 -6.8 -0.5M50.2 12.9a3.2 2.4 174 1 0 -6.3 0.6a3.2 2.4 174 1 0 6.3 -0.6M43.9 42a3.2 2.8 101 1 0 -1.2 6.2a3.2 2.8 101 1 0 1.2 -6.2" fill="#1c28cc" opacity="0.88" filter="url(#eb2)"/><g style="mix-blend-mode:screen"><g filter="url(#eb1)" opacity="0.5" stroke="#22d02a" fill="none" stroke-linecap="round"><path d="M9 23Q5 30 0 39" stroke-width="1.8"/><path d="M9 23Q15 30 22 35" stroke-width="1.8"/><path d="M9 23Q16 12 22 3" stroke-width="1.7"/><path d="M9 23Q5 15 2 8" stroke-width="1.6"/><path d="M23 35Q30 40 36 45" stroke-width="1.7"/><path d="M23 35Q24 41 24 47" stroke-width="1.6"/><path d="M22 3Q26 1 30 0" stroke-width="1.6"/><path d="M23 35Q35 32 47 26" stroke-width="1.5"/><path d="M9 23Q11 17 13 12" stroke-width="2.2"/><path d="M4 24a4 5 0 1 0 8 0a4 5 0 1 0 -8 -0" fill="#22d02a" opacity="1.00"/></g><g filter="url(#eb3)" stroke="#22d02a" fill="none" stroke-linecap="round"><path d="M9 23Q5 30 0 39" stroke-width="0.25"/><path d="M9 23Q15 30 22 35" stroke-width="0.25"/><path d="M9 23Q16 12 22 3" stroke-width="0.23"/><path d="M9 23Q5 15 2 8" stroke-width="0.2"/><path d="M23 35Q30 40 36 45" stroke-width="0.23"/><path d="M23 35Q24 41 24 47" stroke-width="0.2"/><path d="M22 3Q26 1 30 0" stroke-width="0.2"/><path d="M23 35Q35 32 47 26" stroke-width="0.17"/><path d="M9 23Q11 17 13 12" stroke-width="0.35"/></g></g></svg><svg x="112.3" y="229.0" width="47.8" height="47.4" viewBox="0 0 47.8 47.4"><rect width="47.8" height="47.4" fill="#000"/><path d="M8.6 0.3a3.5 2.5 133 1 0 -4.8 5a3.5 2.5 133 1 0 4.8 -5M20.4 3.6a3 2.4 104 1 0 -1.5 5.9a3 2.4 104 1 0 1.5 -5.9M36.4 3.6a3.4 2.6 105 1 0 -1.8 6.5a3.4 2.6 105 1 0 1.8 -6.5M16.7 9.5a3.1 2.9 88 1 0 0.2 6.2a3.1 2.9 88 1 0 -0.2 -6.2M5.8 12.3a3.4 2.7 160 1 0 -6.5 2.3a3.4 2.7 160 1 0 6.5 -2.3M40.7 12.9a3.4 2.6 101 1 0 -1.3 6.7a3.4 2.6 101 1 0 1.3 -6.7M24.5 17.9a3.6 2.8 168 1 0 -7.1 1.5a3.6 2.8 168 1 0 7.1 -1.5M9.8 20.2a3.2 2.6 72 1 0 1.9 6a3.2 2.6 72 1 0 -1.9 -6M31.7 23.7a3.5 2.5 114 1 0 -2.9 6.3a3.5 2.5 114 1 0 2.9 -6.3M27.2 25.9a3.4 2.3 86 1 0 0.4 6.8a3.4 2.3 86 1 0 -0.4 -6.8M16 28.3a3 2.7 144 1 0 -4.8 3.5a3 2.7 144 1 0 4.8 -3.5M32.7 28.7a3.4 2.7 119 1 0 -3.3 6a3.4 2.7 119 1 0 3.3 -6M20.9 31.4a3.2 2.6 152 1 0 -5.7 3a3.2 2.6 152 1 0 5.7 -3M4.9 32.9a3.4 2.3 57 1 0 3.6 5.7a3.4 2.3 57 1 0 -3.6 -5.7M27.2 34.7a3.4 2.3 25 1 0 6.1 3a3.4 2.3 25 1 0 -6.1 -3M18.8 38.2a2.9 2.6 9 1 0 5.8 0.9a2.9 2.6 9 1 0 -5.8 -0.9M40.8 36.8a3.1 2.3 104 1 0 -1.6 6a3.1 2.3 104 1 0 1.6 -6M-1.7 38.8a3.2 2.3 35 1 0 5.3 3.7a3.2 2.3 35 1 0 -5.3 -3.7M6 39.2a3.4 2.4 63 1 0 3 6.1a3.4 2.4 63 1 0 -3 -6.1M27.6 43.9a2.9 2.3 154 1 0 -5.3 2.5a2.9 2.3 154 1 0 5.3 -2.5" fill="#1c28cc" opacity="0.88" filter="url(#eb2)"/><g style="mix-blend-mode:screen"><g filter="url(#eb1)" opacity="0.62" stroke="#2af02a" fill="none" stroke-linecap="round"><path d="M0 1.2Q5.9 0.4 9.9 0.6Q14 0.8 18 2.8" stroke-width="5.6"/><path d="M0.2 11Q5.9 9.3 9.9 8.5Q14 7.7 22.1 6.9" stroke-width="2.8"/><path d="M27 3.7Q23.7 11 22.1 13.8Q20.5 16.7 17.2 19.1Q14 21.5 12 23.6Q9.9 25.6 7.5 30.5" stroke-width="4.2"/><path d="M40 0.4Q39.2 7.7 38 11.8Q36.7 15.9 34.3 18.7Q31.9 21.5 28.6 24.8" stroke-width="2.6"/><path d="M20.5 19.1Q25.4 23.2 27.8 26.4Q30.2 29.7 33.5 30.1Q36.7 30.5 46.5 31.3" stroke-width="4.0"/><path d="M0.2 11.8Q4.2 16.7 9.1 22.4" stroke-width="3.2"/><path d="M14 38.6Q18.9 33.7 21.7 32.9Q24.6 32.1 30.2 30.5" stroke-width="2.4"/><path d="M0 36.2Q3.4 41.9 5.9 46.7" stroke-width="4.8"/><path d="M0 41.9Q1.4 45.1 2.6 47.6" stroke-width="5.2"/><path d="M40 39.4Q37.6 43.5 35.9 46.7" stroke-width="4.8"/><path d="M40 39.4Q44.1 37.8 47.3 36.2" stroke-width="3.6"/><path d="M40 39.4Q43.3 43.5 47.5 44.3" stroke-width="4.4"/><path d="M18 2.8Q22.1 5.3 27 3.7" stroke-width="2.0"/><path d="M40 7.7Q44.1 6.9 47.3 6.1" stroke-width="1.8"/><path d="M0 13a4 5 0 1 0 8 0a4 5 0 1 0 -8 -0" fill="#2af02a" opacity="1.00"/><path d="M34 40a6 4 0 1 0 12 0a6 4 0 1 0 -12 -0" fill="#2af02a" opacity="1.00"/><path d="M17.5 15a4 5 30 1 0 6.9 4a4 5 30 1 0 -6.9 -4" fill="#2af02a" opacity="1.00"/><path d="M42 15a3 5 0 1 0 6 0a3 5 0 1 0 -6 -0" fill="#2af02a" opacity="0.60"/></g><g filter="url(#eb3)" stroke="#2af02a" fill="none" stroke-linecap="round"><path d="M0 1.2Q5.9 0.4 9.9 0.6Q14 0.8 18 2.8" stroke-width="1.2"/><path d="M0.2 11Q5.9 9.3 9.9 8.5Q14 7.7 22.1 6.9" stroke-width="0.5"/><path d="M27 3.7Q23.7 11 22.1 13.8Q20.5 16.7 17.2 19.1Q14 21.5 12 23.6Q9.9 25.6 7.5 30.5" stroke-width="0.85"/><path d="M40 0.4Q39.2 7.7 38 11.8Q36.7 15.9 34.3 18.7Q31.9 21.5 28.6 24.8" stroke-width="0.45"/><path d="M20.5 19.1Q25.4 23.2 27.8 26.4Q30.2 29.7 33.5 30.1Q36.7 30.5 46.5 31.3" stroke-width="0.8"/><path d="M0.2 11.8Q4.2 16.7 9.1 22.4" stroke-width="0.6"/><path d="M14 38.6Q18.9 33.7 21.7 32.9Q24.6 32.1 30.2 30.5" stroke-width="0.4"/><path d="M0 36.2Q3.4 41.9 5.9 46.7" stroke-width="1.0"/><path d="M0 41.9Q1.4 45.1 2.6 47.6" stroke-width="1.1"/><path d="M40 39.4Q37.6 43.5 35.9 46.7" stroke-width="1.0"/><path d="M40 39.4Q44.1 37.8 47.3 36.2" stroke-width="0.7"/><path d="M40 39.4Q43.3 43.5 47.5 44.3" stroke-width="0.9"/><path d="M18 2.8Q22.1 5.3 27 3.7" stroke-width="0.3"/><path d="M40 7.7Q44.1 6.9 47.3 6.1" stroke-width="0.25"/></g></g></svg><svg x="162.9" y="229.0" width="47.8" height="47.4" viewBox="0 0 47.8 47.4"><rect width="47.8" height="47.4" fill="#000"/><path d="M7.8 -1a3 2.5 119 1 0 -3 5.2a3 2.5 119 1 0 3 -5.2M13.5 -0.9a3.3 2.9 116 1 0 -2.9 5.9a3.3 2.9 116 1 0 2.9 -5.9M-0.2 8.6a3.5 2.6 53 1 0 4.1 5.6a3.5 2.6 53 1 0 -4.1 -5.6M20.1 7.8a3.4 2.4 44 1 0 4.9 4.8a3.4 2.4 44 1 0 -4.9 -4.8M40 9a3.5 2.5 53 1 0 4.1 5.6a3.5 2.5 53 1 0 -4.1 -5.6M45.1 9.8a3.6 2.4 85 1 0 0.6 7.2a3.6 2.4 85 1 0 -0.6 -7.2M19.8 13.1a3.5 2.3 145 1 0 -5.7 3.9a3.5 2.3 145 1 0 5.7 -3.9M23.1 11.8a3.7 2.7 84 1 0 0.7 7.3a3.7 2.7 84 1 0 -0.7 -7.3M37.8 16.7a3.4 2.7 71 1 0 2.1 6.5a3.4 2.7 71 1 0 -2.1 -6.5M17.3 21.3a3.7 2.8 175 1 0 -7.3 0.6a3.7 2.8 175 1 0 7.3 -0.6M44.3 19.2a3 2.5 51 1 0 3.7 4.8a3 2.5 51 1 0 -3.7 -4.8M25.3 17.7a3.2 2.5 109 1 0 -2.2 6a3.2 2.5 109 1 0 2.2 -6M23.1 22a3.5 2.5 127 1 0 -4.3 5.6a3.5 2.5 127 1 0 4.3 -5.6M28.4 23.1a3.4 2.7 120 1 0 -3.5 5.9a3.4 2.7 120 1 0 3.5 -5.9M32.9 22.5a3.2 2.5 70 1 0 2.1 6.1a3.2 2.5 70 1 0 -2.1 -6.1M37.3 23a3.5 2.3 47 1 0 4.7 5.2a3.5 2.3 47 1 0 -4.7 -5.2M0.6 25.1a3.3 2.9 40 1 0 5 4.3a3.3 2.9 40 1 0 -5 -4.3M25 28a3.5 2.3 158 1 0 -6.5 2.5a3.5 2.3 158 1 0 6.5 -2.5M9.6 28.3a3.3 2.9 41 1 0 4.9 4.4a3.3 2.9 41 1 0 -4.9 -4.4M26.5 31.4a3.4 2.4 27 1 0 6 3.1a3.4 2.4 27 1 0 -6 -3.1M48 27.8a3.2 2.6 124 1 0 -3.7 5.4a3.2 2.6 124 1 0 3.7 -5.4M21.1 32.2a2.9 2.5 138 1 0 -4.4 3.8a2.9 2.5 138 1 0 4.4 -3.8M4.2 39.3a3 2.5 9 1 0 5.9 1a3 2.5 9 1 0 -5.9 -1M22.5 35a2.9 2.6 104 1 0 -1.5 5.7a2.9 2.6 104 1 0 1.5 -5.7M22.8 36.4a3.1 2.6 10 1 0 6.2 1.1a3.1 2.6 10 1 0 -6.2 -1.1M4.4 41a3 2.4 178 1 0 -6 0.2a3 2.4 178 1 0 6 -0.2M12.2 41.1a3 2.4 126 1 0 -3.5 4.7a3 2.4 126 1 0 3.5 -4.7" fill="#1c28cc" opacity="0.88" filter="url(#eb2)"/><g style="mix-blend-mode:screen"><g filter="url(#eb1)" opacity="0.58" stroke="#2af02a" fill="none" stroke-linecap="round"><path d="M0 5.7Q3.1 2.8 5.9 2Q8.8 1.2 17.7 0.4" stroke-width="3.6"/><path d="M25.4 2.8Q26.3 12.6 24.4 14.6Q22.6 16.7 21 19.5Q19.3 22.4 18.5 24.8Q17.7 27.2 19.3 29.7Q21 32.1 22.2 34.6Q23.4 37 24.2 40.2Q25 43.5 24.2 47.6" stroke-width="3.6"/><path d="M12.8 13.8Q19.3 13 22.6 13.6Q25.9 14.2 33.2 15" stroke-width="3.8"/><path d="M0.7 6.1Q1.5 14.2 1.7 18.3Q1.9 22.4 1.1 30.5" stroke-width="2.6"/><path d="M5.5 11Q5.1 19.1 6.1 22.4Q7.2 25.6 8 28.9Q8.8 32.1 14.5 36.2" stroke-width="2.6"/><path d="M7.2 25.6Q3.1 32.1 0.7 33.7" stroke-width="3.4"/><path d="M0.7 36.2Q6.3 37.8 9.6 38.2Q12.8 38.6 19.3 43.5" stroke-width="2.6"/><path d="M32.4 32.1Q34 24.8 33.2 22Q32.4 19.1 27.5 14.2" stroke-width="2.4"/><path d="M32.4 32.1Q38.9 33.7 43.7 37" stroke-width="2.2"/><path d="M32.4 32.1Q31.5 40.2 37.2 46.7" stroke-width="2.4"/><path d="M40.5 0.4Q43.7 6.1 45.4 11.8Q47 17.5 47.8 19.1" stroke-width="2.2"/><path d="M47 18.3Q44.6 17.9 42.1 17.5" stroke-width="3.2"/><path d="M9.6 46.7Q8 44.3 3.1 46.7" stroke-width="3.2"/><path d="M14.5 0.4Q19.3 2.8 21 7.7" stroke-width="2.4"/><path d="M17.7 27.2Q12.8 28.9 7.2 25.6" stroke-width="2.4"/><path d="M5.5 11Q9.6 7.7 12.8 13.8" stroke-width="2.4"/><path d="M23.4 37Q18.5 40.2 9.6 46.7" stroke-width="2.8"/><path d="M-1 6a4 4 0 1 0 8 0a4 4 0 1 0 -8 -0" fill="#2af02a" opacity="1.00"/><path d="M21 40a4 5 0 1 0 8 0a4 5 0 1 0 -8 -0" fill="#2af02a" opacity="0.90"/><path d="M17 28a3 4 0 1 0 6 0a3 4 0 1 0 -6 -0" fill="#2af02a" opacity="0.80"/></g><g filter="url(#eb3)" stroke="#2af02a" fill="none" stroke-linecap="round"><path d="M0 5.7Q3.1 2.8 5.9 2Q8.8 1.2 17.7 0.4" stroke-width="0.7"/><path d="M25.4 2.8Q26.3 12.6 24.4 14.6Q22.6 16.7 21 19.5Q19.3 22.4 18.5 24.8Q17.7 27.2 19.3 29.7Q21 32.1 22.2 34.6Q23.4 37 24.2 40.2Q25 43.5 24.2 47.6" stroke-width="0.7"/><path d="M12.8 13.8Q19.3 13 22.6 13.6Q25.9 14.2 33.2 15" stroke-width="0.75"/><path d="M0.7 6.1Q1.5 14.2 1.7 18.3Q1.9 22.4 1.1 30.5" stroke-width="0.45"/><path d="M5.5 11Q5.1 19.1 6.1 22.4Q7.2 25.6 8 28.9Q8.8 32.1 14.5 36.2" stroke-width="0.45"/><path d="M7.2 25.6Q3.1 32.1 0.7 33.7" stroke-width="0.65"/><path d="M0.7 36.2Q6.3 37.8 9.6 38.2Q12.8 38.6 19.3 43.5" stroke-width="0.45"/><path d="M32.4 32.1Q34 24.8 33.2 22Q32.4 19.1 27.5 14.2" stroke-width="0.4"/><path d="M32.4 32.1Q38.9 33.7 43.7 37" stroke-width="0.35"/><path d="M32.4 32.1Q31.5 40.2 37.2 46.7" stroke-width="0.4"/><path d="M40.5 0.4Q43.7 6.1 45.4 11.8Q47 17.5 47.8 19.1" stroke-width="0.35"/><path d="M47 18.3Q44.6 17.9 42.1 17.5" stroke-width="0.6"/><path d="M9.6 46.7Q8 44.3 3.1 46.7" stroke-width="0.6"/><path d="M14.5 0.4Q19.3 2.8 21 7.7" stroke-width="0.4"/><path d="M17.7 27.2Q12.8 28.9 7.2 25.6" stroke-width="0.4"/><path d="M5.5 11Q9.6 7.7 12.8 13.8" stroke-width="0.4"/><path d="M23.4 37Q18.5 40.2 9.6 46.7" stroke-width="0.5"/></g></g></svg><svg x="213.5" y="229.0" width="47.8" height="47.4" viewBox="0 0 47.8 47.4"><rect width="47.8" height="47.4" fill="#000"/><path d="M16.9 11.8a2.9 2.8 94 1 0 -0.5 5.9a2.9 2.8 94 1 0 0.5 -5.9M19.7 14.9a3.1 2.9 65 1 0 2.6 5.7a3.1 2.9 65 1 0 -2.6 -5.7M1.5 24a3.2 2.5 61 1 0 3.1 5.7a3.2 2.5 61 1 0 -3.1 -5.7M5.3 29.1a3.7 2.5 154 1 0 -6.6 3.1a3.7 2.5 154 1 0 6.6 -3.1M26.5 22.3a3.6 2.6 38 1 0 5.6 4.5a3.6 2.6 38 1 0 -5.6 -4.5M42.7 21.4a3.6 2.8 164 1 0 -7 1.9a3.6 2.8 164 1 0 7 -1.9M43.5 21.6a3 2.6 85 1 0 0.5 5.9a3 2.6 85 1 0 -0.5 -5.9M42.6 28.1a3.2 2.7 145 1 0 -5.3 3.7a3.2 2.7 145 1 0 5.3 -3.7M46.6 33.9a3.6 2.6 170 1 0 -7.2 1.2a3.6 2.6 170 1 0 7.2 -1.2M11.5 32.8a3.4 2.6 2 1 0 6.7 0.3a3.4 2.6 2 1 0 -6.7 -0.3M20.1 41.2a3 2.4 177 1 0 -5.9 0.3a3 2.4 177 1 0 5.9 -0.3M41 42.5a3.4 2.4 174 1 0 -6.8 0.7a3.4 2.4 174 1 0 6.8 -0.7M7.7 41.3a3.5 2.7 168 1 0 -6.9 1.4a3.5 2.7 168 1 0 6.9 -1.4M35.3 2.9a3.1 2.8 7 1 0 6.2 0.8a3.1 2.8 7 1 0 -6.2 -0.8" fill="#1c28cc" opacity="0.88" filter="url(#eb2)"/><g style="mix-blend-mode:screen"><g filter="url(#eb1)" opacity="0.55" stroke="#2af02a" fill="none" stroke-linecap="round"><path d="M9 2Q6 5 2 9" stroke-width="3.6"/><path d="M9 2Q12 6 15 11" stroke-width="3.2"/><path d="M9 2Q9 7 8 12" stroke-width="3.8"/><path d="M9 2Q14 2 19 1" stroke-width="2.8"/><path d="M9 2Q4 1 0 1" stroke-width="3.2"/><path d="M7 25Q3 30 0 36" stroke-width="2.4"/><path d="M7 25Q11 20 13 14" stroke-width="2.2"/><path d="M7 25Q12 28 18 32" stroke-width="2.2"/><path d="M7 25Q3 21 0 19" stroke-width="2.6"/><path d="M36 27Q31 26 26 24" stroke-width="2.4"/><path d="M36 27Q36 20 35 13" stroke-width="2.0"/><path d="M36 27Q41 31 47 33" stroke-width="2.4"/><path d="M36 27Q33 33 30 38" stroke-width="2.0"/><path d="M30 4Q37 1 44 0" stroke-width="2.6"/><path d="M14 34Q24 39 34 44" stroke-width="1.8"/><path d="M4 44Q6 41 8 38" stroke-width="3.2"/><path d="M5 2a4 3 0 1 0 8 0a4 3 0 1 0 -8 -0" fill="#2af02a" opacity="1.00"/><path d="M3 25a4 3 0 1 0 8 0a4 3 0 1 0 -8 -0" fill="#2af02a" opacity="0.80"/><path d="M32 27a4 3 0 1 0 8 0a4 3 0 1 0 -8 -0" fill="#2af02a" opacity="0.90"/></g><g filter="url(#eb3)" stroke="#2af02a" fill="none" stroke-linecap="round"><path d="M9 2Q6 5 2 9" stroke-width="0.7"/><path d="M9 2Q12 6 15 11" stroke-width="0.6"/><path d="M9 2Q9 7 8 12" stroke-width="0.75"/><path d="M9 2Q14 2 19 1" stroke-width="0.5"/><path d="M9 2Q4 1 0 1" stroke-width="0.6"/><path d="M7 25Q3 30 0 36" stroke-width="0.4"/><path d="M7 25Q11 20 13 14" stroke-width="0.35"/><path d="M7 25Q12 28 18 32" stroke-width="0.35"/><path d="M7 25Q3 21 0 19" stroke-width="0.45"/><path d="M36 27Q31 26 26 24" stroke-width="0.4"/><path d="M36 27Q36 20 35 13" stroke-width="0.3"/><path d="M36 27Q41 31 47 33" stroke-width="0.4"/><path d="M36 27Q33 33 30 38" stroke-width="0.3"/><path d="M30 4Q37 1 44 0" stroke-width="0.45"/><path d="M14 34Q24 39 34 44" stroke-width="0.25"/><path d="M4 44Q6 41 8 38" stroke-width="0.6"/></g></g></svg><svg x="10.3" y="278.0" width="47.8" height="47.4" viewBox="0 0 47.8 47.4"><rect width="47.8" height="47.4" fill="#000"/><path d="M4.5 5.5a2.9 2.3 175 1 0 -5.9 0.5a2.9 2.3 175 1 0 5.9 -0.5M-0.1 13.5a3.7 2.4 45 1 0 5.1 5.2a3.7 2.4 45 1 0 -5.1 -5.2M18.8 13.3a3.6 2.6 0 1 0 7.2 0a3.6 2.6 0 1 0 -7.2 -0M24.4 15.8a3.3 2.7 156 1 0 -6 2.6a3.3 2.7 156 1 0 6 -2.6M38.6 7.2a3.7 2.6 141 1 0 -5.8 4.6a3.7 2.6 141 1 0 5.8 -4.6M41 4.5a3.1 2.8 43 1 0 4.5 4.2a3.1 2.8 43 1 0 -4.5 -4.2M18 22.8a3.6 2.5 15 1 0 6.9 1.9a3.6 2.5 15 1 0 -6.9 -1.9M2.2 26.1a3.4 2.4 102 1 0 -1.5 6.5a3.4 2.4 102 1 0 1.5 -6.5M16.1 31.8a3.2 2.5 133 1 0 -4.4 4.7a3.2 2.5 133 1 0 4.4 -4.7M6.3 35.8a3.5 2.7 37 1 0 5.5 4.2a3.5 2.7 37 1 0 -5.5 -4.2M19.8 41.6a3.1 2.7 177 1 0 -6.2 0.3a3.1 2.7 177 1 0 6.2 -0.3M25.8 31.8a3.6 2.9 114 1 0 -3 6.5a3.6 2.9 114 1 0 3 -6.5M32.7 31.6a3.2 2.3 150 1 0 -5.5 3.1a3.2 2.3 150 1 0 5.5 -3.1M39 27.8a3.5 2.6 132 1 0 -4.7 5.1a3.5 2.6 132 1 0 4.7 -5.1M36.8 28.1a3.6 2.4 6 1 0 7.2 0.8a3.6 2.4 6 1 0 -7.2 -0.8M39.9 37.1a3 2.5 37 1 0 4.7 3.6a3 2.5 37 1 0 -4.7 -3.6M43.5 39.3a3.4 2.4 78 1 0 1.4 6.7a3.4 2.4 78 1 0 -1.4 -6.7" fill="#1e22cc" opacity="0.88" filter="url(#eb2)"/><g style="mix-blend-mode:screen"><g filter="url(#et1)"><path d="M3 3.4a5.1 2.7 132 1 0 -6.8 7.5a5.1 2.7 132 1 0 6.8 -7.5" fill="#c424cc" opacity="0.42"/><path d="M7.8 15.8a4.8 4.1 167 1 0 -9.3 2.1a4.8 4.1 167 1 0 9.3 -2.1" fill="#c424cc" opacity="0.49"/><path d="M26.3 12.1a5 3.7 179 1 0 -10 0.1a5 3.7 179 1 0 10 -0.1" fill="#c424cc" opacity="0.37"/><path d="M23.1 14.7a3.7 3.7 130 1 0 -4.9 5.6a3.7 3.7 130 1 0 4.9 -5.6" fill="#c424cc" opacity="0.40"/><path d="M35.3 4.6a4.6 2.7 68 1 0 3.4 8.5a4.6 2.7 68 1 0 -3.4 -8.5" fill="#c424cc" opacity="0.48"/><path d="M40.6 6.9a4.6 3.5 9 1 0 9 1.5a4.6 3.5 9 1 0 -9 -1.5" fill="#c424cc" opacity="0.30"/><path d="M17.5 20.8a5.3 3.2 65 1 0 4.4 9.6a5.3 3.2 65 1 0 -4.4 -9.6" fill="#c424cc" opacity="0.37"/><path d="M5 26.3a3.9 2.6 135 1 0 -5.6 5.5a3.9 2.6 135 1 0 5.6 -5.5" fill="#c424cc" opacity="0.40"/><path d="M4.9 35.2a4.4 4.4 58 1 0 4.5 7.5a4.4 4.4 58 1 0 -4.5 -7.5" fill="#c424cc" opacity="0.50"/><path d="M19.7 36.8a5.8 4.4 121 1 0 -6.1 9.8a5.8 4.4 121 1 0 6.1 -9.8" fill="#c424cc" opacity="0.27"/><path d="M21.3 31.7a4.6 2.5 52 1 0 5.6 7.3a4.6 2.5 52 1 0 -5.6 -7.3" fill="#c424cc" opacity="0.36"/><path d="M25 30.9a3.9 3.2 38 1 0 6.1 4.9a3.9 3.2 38 1 0 -6.1 -4.9" fill="#c424cc" opacity="0.44"/><path d="M35.5 25.8a4.8 3.3 72 1 0 2.9 9.3a4.8 3.3 72 1 0 -2.9 -9.3" fill="#c424cc" opacity="0.46"/><path d="M45.6 27.8a4 2.6 163 1 0 -7.7 2.2a4 2.6 163 1 0 7.7 -2.2" fill="#c424cc" opacity="0.42"/><path d="M42.9 33.8a3.6 3.7 119 1 0 -3.6 6.3a3.6 3.7 119 1 0 3.6 -6.3" fill="#c424cc" opacity="0.32"/><path d="M48.8 40.9a4.3 4.1 162 1 0 -8.2 2.5a4.3 4.1 162 1 0 8.2 -2.5" fill="#c424cc" opacity="0.48"/></g><g filter="url(#eb3)" stroke="#e040e8" fill="none" stroke-linecap="round"><path d="M36 4Q39 5 42 8" stroke-width="0.6"/><path d="M10 28Q16 25 22 24" stroke-width="0.5"/></g><g filter="url(#eb3)"><circle cx="43" cy="6.5" r="1.0" fill="#ff58ff"/><circle cx="21.5" cy="23.5" r="0.9" fill="#ff58ff"/><circle cx="39.5" cy="28.5" r="0.8" fill="#ff58ff"/><circle cx="24.5" cy="35" r="1.0" fill="#ff58ff"/></g></g></svg><svg x="61.1" y="278.0" width="47.8" height="47.4" viewBox="0 0 47.8 47.4"><rect width="47.8" height="47.4" fill="#000"/><path d="M7.1 10.5a3.5 2.3 165 1 0 -6.7 1.8a3.5 2.3 165 1 0 6.7 -1.8M2.9 13.5a3.5 2.5 90 1 0 -0.1 7.1a3.5 2.5 90 1 0 0.1 -7.1M5.7 20.7a3.2 2.6 108 1 0 -2 6.1a3.2 2.6 108 1 0 2 -6.1M12.5 21a3.2 2.7 165 1 0 -6.1 1.5a3.2 2.7 165 1 0 6.1 -1.5M-0.2 27.6a3.5 2.8 31 1 0 6 3.7a3.5 2.8 31 1 0 -6 -3.7M9.8 26.4a3 2.7 137 1 0 -4.5 4.1a3 2.7 137 1 0 4.5 -4.1M22.2 30.3a3.3 2.7 62 1 0 3 5.8a3.3 2.7 62 1 0 -3 -5.8M23.1 10.8a3.5 2.5 153 1 0 -6.3 3.1a3.5 2.5 153 1 0 6.3 -3.1M24.6 9.1a3.3 2.3 88 1 0 0.2 6.6a3.3 2.3 88 1 0 -0.2 -6.6M33.7 8a3.4 2.8 134 1 0 -4.8 4.9a3.4 2.8 134 1 0 4.8 -4.9M41.4 3.1a3.5 2.7 169 1 0 -6.9 1.3a3.5 2.7 169 1 0 6.9 -1.3M19.8 -0.9a2.9 2.5 106 1 0 -1.7 5.6a2.9 2.5 106 1 0 1.7 -5.6M38.3 18.3a3.5 2.6 95 1 0 -0.7 7a3.5 2.6 95 1 0 0.7 -7M40.9 29.2a3.2 2.8 75 1 0 1.6 6.2a3.2 2.8 75 1 0 -1.6 -6.2M29.1 13.5a3.6 2.7 99 1 0 -1.2 7.2a3.6 2.7 99 1 0 1.2 -7.2M47.1 10.8a2.9 2.4 122 1 0 -3.1 5a2.9 2.4 122 1 0 3.1 -5M33.8 24.7a2.9 2.8 39 1 0 4.5 3.8a2.9 2.8 39 1 0 -4.5 -3.8" fill="#1e22cc" opacity="0.88" filter="url(#eb2)"/><g style="mix-blend-mode:screen"><g filter="url(#et1)"><path d="M32 22a6 5 0 1 0 12 0a6 5 0 1 0 -12 -0" fill="#d428dc" opacity="0.90"/><path d="M21 44a5 4 0 1 0 10 0a5 4 0 1 0 -10 -0" fill="#d428dc" opacity="0.90"/><path d="M17.1 13.3a4 7 10 1 0 7.9 1.4a4 7 10 1 0 -7.9 -1.4" fill="#d428dc" opacity="0.80"/><path d="M39 44a4 3 0 1 0 8 0a4 3 0 1 0 -8 -0" fill="#d428dc" opacity="0.80"/><path d="M25 8a5 3 0 1 0 10 0a5 3 0 1 0 -10 -0" fill="#c424cc" opacity="0.60"/><path d="M-3 9.1a5.8 3.1 2 1 0 11.6 0.5a5.8 3.1 2 1 0 -11.6 -0.5" fill="#c424cc" opacity="0.36"/><path d="M3.6 12.5a3.9 2.7 121 1 0 -4.1 6.6a3.9 2.7 121 1 0 4.1 -6.6" fill="#c424cc" opacity="0.31"/><path d="M9.7 21a5.5 3.4 129 1 0 -7 8.5a5.5 3.4 129 1 0 7 -8.5" fill="#c424cc" opacity="0.32"/><path d="M5.9 26.3a4.9 4.5 144 1 0 -8 5.7a4.9 4.5 144 1 0 8 -5.7" fill="#c424cc" opacity="0.50"/><path d="M6.1 23a5.1 2.6 82 1 0 1.4 10.1a5.1 2.6 82 1 0 -1.4 -10.1" fill="#c424cc" opacity="0.41"/><path d="M30 32.6a4.7 3.2 169 1 0 -9.2 1.6a4.7 3.2 169 1 0 9.2 -1.6" fill="#c424cc" opacity="0.28"/><path d="M14.6 9.7a5.1 4.2 35 1 0 8.4 5.9a5.1 4.2 35 1 0 -8.4 -5.9" fill="#c424cc" opacity="0.28"/><path d="M21 8.2a4.9 2.6 52 1 0 6 7.7a4.9 2.6 52 1 0 -6 -7.7" fill="#c424cc" opacity="0.36"/><path d="M40.3 1.4a5.5 3.9 135 1 0 -7.8 7.8a5.5 3.9 135 1 0 7.8 -7.8" fill="#c424cc" opacity="0.38"/><path d="M45.6 26.7a5.3 2.6 134 1 0 -7.3 7.6a5.3 2.6 134 1 0 7.3 -7.6" fill="#c424cc" opacity="0.32"/><path d="M35.6 16.3a5.5 4.5 165 1 0 -10.7 2.7a5.5 4.5 165 1 0 10.7 -2.7" fill="#c424cc" opacity="0.43"/><path d="M43.6 10.8a5 3 56 1 0 5.6 8.3a5 3 56 1 0 -5.6 -8.3" fill="#c424cc" opacity="0.30"/></g><g filter="url(#eb3)" stroke="#e040e8" fill="none" stroke-linecap="round"><path d="M19.5 12.5Q20 17 21 22" stroke-width="0.9"/><path d="M21 22Q25 27 29 31" stroke-width="0.8"/><path d="M19.5 12.5Q22 9 23 5" stroke-width="0.7"/><path d="M28 15Q31 13 33 10" stroke-width="0.6"/></g><g filter="url(#eb3)"><circle cx="19.5" cy="12.5" r="1.2" fill="#ff58ff"/><circle cx="37.5" cy="22" r="1.3" fill="#ff58ff"/><circle cx="44" cy="21" r="0.9" fill="#ff58ff"/><circle cx="26" cy="44.5" r="1.2" fill="#ff58ff"/><circle cx="43" cy="45" r="1.2" fill="#ff58ff"/><circle cx="40" cy="2" r="1.0" fill="#ff58ff"/></g></g></svg><svg x="112.3" y="278.0" width="47.8" height="47.4" viewBox="0 0 47.8 47.4"><rect width="47.8" height="47.4" fill="#000"/><path d="M22.2 45.2a3 2.5 21 1 0 5.6 2.2a3 2.5 21 1 0 -5.6 -2.2M9.4 5.8a3.2 2.7 100 1 0 -1.1 6.3a3.2 2.7 100 1 0 1.1 -6.3M39.5 7.7a3.2 2.9 115 1 0 -2.8 5.8a3.2 2.9 115 1 0 2.8 -5.8M4.5 16.2a3.4 2.4 2 1 0 6.8 0.2a3.4 2.4 2 1 0 -6.8 -0.2M36 30.8a3.4 2.7 112 1 0 -2.7 6.3a3.4 2.7 112 1 0 2.7 -6.3M32.2 41.6a3.3 2.6 7 1 0 6.5 0.9a3.3 2.6 7 1 0 -6.5 -0.9M2.4 -1a3.3 2.9 23 1 0 6.1 2.6a3.3 2.9 23 1 0 -6.1 -2.6M13.9 38.5a3.2 2.4 78 1 0 1.3 6.3a3.2 2.4 78 1 0 -1.3 -6.3M30.1 15.5a3.2 2.4 65 1 0 2.7 5.8a3.2 2.4 65 1 0 -2.7 -5.8M27.8 0.9a3.6 2.5 12 1 0 7 1.5a3.6 2.5 12 1 0 -7 -1.5M31.2 11.8a3.1 2.7 161 1 0 -5.9 2a3.1 2.7 161 1 0 5.9 -2M9.3 31.6a3.1 2.7 26 1 0 5.6 2.7a3.1 2.7 26 1 0 -5.6 -2.7M13.6 -2.7a3.5 2.4 61 1 0 3.3 6.1a3.5 2.4 61 1 0 -3.3 -6.1M20.7 24.3a3.7 2.8 106 1 0 -2.1 7.1a3.7 2.8 106 1 0 2.1 -7.1" fill="#1e22cc" opacity="0.88" filter="url(#eb2)"/><g style="mix-blend-mode:screen"><g filter="url(#et1)"><path d="M13 38a9 7 0 1 0 18 0a9 7 0 1 0 -18 -0" fill="#e030e8" opacity="1.00"/><path d="M12 10a6 5 0 1 0 12 0a6 5 0 1 0 -12 -0" fill="#d428dc" opacity="0.90"/><path d="M2 40a5 5 0 1 0 10 0a5 5 0 1 0 -10 -0" fill="#d428dc" opacity="0.90"/><path d="M25 28a5 4 0 1 0 10 0a5 4 0 1 0 -10 -0" fill="#d428dc" opacity="0.80"/><path d="M32 40a4 4 0 1 0 8 0a4 4 0 1 0 -8 -0" fill="#d428dc" opacity="0.70"/><path d="M24 41.5a4.6 2.6 94 1 0 -0.6 9.2a4.6 2.6 94 1 0 0.6 -9.2" fill="#c424cc" opacity="0.32"/><path d="M32.3 10a5.4 2.7 1 1 0 10.7 0.2a5.4 2.7 1 1 0 -10.7 -0.2" fill="#c424cc" opacity="0.41"/><path d="M40 33.6a4.6 4.1 153 1 0 -8.1 4.1a4.6 4.1 153 1 0 8.1 -4.1" fill="#c424cc" opacity="0.40"/><path d="M41.4 39.4a5.5 4.3 166 1 0 -10.7 2.6a5.5 4.3 166 1 0 10.7 -2.6" fill="#c424cc" opacity="0.34"/><path d="M0.6 -1.8a4.1 4.5 17 1 0 7.8 2.5a4.1 4.5 17 1 0 -7.8 -2.5" fill="#c424cc" opacity="0.56"/><path d="M15.8 38.8a4.4 3 100 1 0 -1.6 8.6a4.4 3 100 1 0 1.6 -8.6" fill="#c424cc" opacity="0.34"/><path d="M36.9 16.8a5.2 3.7 158 1 0 -9.7 3.8a5.2 3.7 158 1 0 9.7 -3.8" fill="#c424cc" opacity="0.61"/><path d="M27.4 -1.4a4.2 3.6 46 1 0 5.7 6.1a4.2 3.6 46 1 0 -5.7 -6.1" fill="#c424cc" opacity="0.47"/><path d="M25.7 10.6a4.6 3.7 37 1 0 7.3 5.6a4.6 3.7 37 1 0 -7.3 -5.6" fill="#c424cc" opacity="0.63"/><path d="M6.4 30.5a5.7 2.6 33 1 0 9.4 6.3a5.7 2.6 33 1 0 -9.4 -6.3" fill="#c424cc" opacity="0.48"/><path d="M18.4 -3.9a4.5 3.7 132 1 0 -6 6.6a4.5 3.7 132 1 0 6 -6.6" fill="#c424cc" opacity="0.34"/><path d="M15.5 28a4.7 3.5 4 1 0 9.3 0.8a4.7 3.5 4 1 0 -9.3 -0.8" fill="#c424cc" opacity="0.45"/></g><g filter="url(#eb3)" stroke="#e040e8" fill="none" stroke-linecap="round"><path d="M20 36Q24 33 28 30" stroke-width="1.2"/><path d="M20 36Q14 39 8 41" stroke-width="1.2"/><path d="M18 9Q17 12 16 15" stroke-width="0.9"/><path d="M18 9Q22 6 27 4" stroke-width="0.7"/></g><g filter="url(#eb3)"><circle cx="19" cy="8" r="1.3" fill="#ff58ff"/><circle cx="16" cy="14" r="1.0" fill="#ff58ff"/><circle cx="21" cy="36" r="1.6" fill="#ff58ff"/><circle cx="7" cy="41" r="1.3" fill="#ff58ff"/><circle cx="24" cy="40" r="1.2" fill="#ff58ff"/><circle cx="8" cy="34" r="1.0" fill="#ff58ff"/><circle cx="30" cy="30" r="0.9" fill="#ff58ff"/></g></g></svg><svg x="162.9" y="278.0" width="47.8" height="47.4" viewBox="0 0 47.8 47.4"><rect width="47.8" height="47.4" fill="#000"/><path d="M41.3 36.5a3 2.4 29 1 0 5.3 3a3 2.4 29 1 0 -5.3 -3M10.5 19.7a3 2.8 132 1 0 -4 4.4a3 2.8 132 1 0 4 -4.4M21 29a3.4 2.4 59 1 0 3.4 5.8a3.4 2.4 59 1 0 -3.4 -5.8M10.9 24.3a3 2.9 50 1 0 3.9 4.7a3 2.9 50 1 0 -3.9 -4.7M10.8 31.4a2.9 2.7 76 1 0 1.4 5.7a2.9 2.7 76 1 0 -1.4 -5.7M40.3 25.3a3 2.6 175 1 0 -5.9 0.5a3 2.6 175 1 0 5.9 -0.5M32.6 42.6a3.2 2.5 165 1 0 -6.1 1.6a3.2 2.5 165 1 0 6.1 -1.6M9.4 27.4a3.5 2.8 163 1 0 -6.7 1.9a3.5 2.8 163 1 0 6.7 -1.9M31 17.5a3 2.6 55 1 0 3.5 5a3 2.6 55 1 0 -3.5 -5M20.4 30.2a3.2 2.8 172 1 0 -6.4 0.9a3.2 2.8 172 1 0 6.4 -0.9M17.2 41a3.2 2.4 82 1 0 0.9 6.4a3.2 2.4 82 1 0 -0.9 -6.4M11.5 9.2a3 2.3 74 1 0 1.6 5.9a3 2.3 74 1 0 -1.6 -5.9M24.8 37.7a3.6 2.9 146 1 0 -6.1 4a3.6 2.9 146 1 0 6.1 -4M45.1 -0.4a3.1 2.8 92 1 0 -0.3 6.2a3.1 2.8 92 1 0 0.3 -6.2M37.9 5.9a3.3 2.5 30 1 0 5.7 3.4a3.3 2.5 30 1 0 -5.7 -3.4M17.6 1.2a3.3 2.8 107 1 0 -1.9 6.3a3.3 2.8 107 1 0 1.9 -6.3M45.5 15a3.1 2.4 121 1 0 -3.2 5.3a3.1 2.4 121 1 0 3.2 -5.3M23 13.2a3.6 2.9 40 1 0 5.5 4.6a3.6 2.9 40 1 0 -5.5 -4.6M18.1 8.1a3 2.6 41 1 0 4.4 3.9a3 2.6 41 1 0 -4.4 -3.9M48.7 31.1a3.1 2.6 152 1 0 -5.5 2.9a3.1 2.6 152 1 0 5.5 -2.9M24 3.9a3.3 2.4 13 1 0 6.4 1.6a3.3 2.4 13 1 0 -6.4 -1.6M32.6 -2a3.1 2.7 44 1 0 4.4 4.3a3.1 2.7 44 1 0 -4.4 -4.3" fill="#1e22cc" opacity="0.88" filter="url(#eb2)"/><g style="mix-blend-mode:screen"><g filter="url(#et1)"><path d="M16.2 9.3a10 5 10 1 0 19.7 3.5a10 5 10 1 0 -19.7 -3.5" fill="#e030e8" opacity="1.00"/><path d="M28 34a6 5 0 1 0 12 0a6 5 0 1 0 -12 -0" fill="#d428dc" opacity="0.80"/><path d="M7 36a5 5 0 1 0 10 0a5 5 0 1 0 -10 -0" fill="#d428dc" opacity="0.70"/><path d="M36 20a4 4 0 1 0 8 0a4 4 0 1 0 -8 -0" fill="#d428dc" opacity="0.70"/><path d="M48.7 34.5a5.9 4.2 142 1 0 -9.5 7.2a5.9 4.2 142 1 0 9.5 -7.2" fill="#c424cc" opacity="0.52"/><path d="M2.1 21.7a5.8 4.1 22 1 0 10.7 4.4a5.8 4.1 22 1 0 -10.7 -4.4" fill="#c424cc" opacity="0.35"/><path d="M19.7 26.8a5.2 2.8 51 1 0 6.5 8.2a5.2 2.8 51 1 0 -6.5 -8.2" fill="#c424cc" opacity="0.48"/><path d="M18.1 25.3a5.9 2.8 164 1 0 -11.4 3.3a5.9 2.8 164 1 0 11.4 -3.3" fill="#c424cc" opacity="0.46"/><path d="M12.9 31.4a4.8 3.8 96 1 0 -1 9.6a4.8 3.8 96 1 0 1 -9.6" fill="#c424cc" opacity="0.51"/><path d="M40 20.7a5.2 4.4 144 1 0 -8.5 6.2a5.2 4.4 144 1 0 8.5 -6.2" fill="#c424cc" opacity="0.56"/><path d="M5.9 22.3a4.9 4.1 89 1 0 0.1 9.8a4.9 4.1 89 1 0 -0.1 -9.8" fill="#c424cc" opacity="0.27"/><path d="M30.6 16.1a4.9 3 84 1 0 1 9.7a4.9 3 84 1 0 -1 -9.7" fill="#c424cc" opacity="0.42"/><path d="M18.8 26.5a4.1 2.8 111 1 0 -3.1 7.7a4.1 2.8 111 1 0 3.1 -7.7" fill="#c424cc" opacity="0.51"/><path d="M18.5 39.1a5.1 2.9 118 1 0 -4.8 8.9a5.1 2.9 118 1 0 4.8 -8.9" fill="#c424cc" opacity="0.43"/><path d="M10.1 7.9a4.3 3.1 53 1 0 5.2 6.9a4.3 3.1 53 1 0 -5.2 -6.9" fill="#c424cc" opacity="0.29"/><path d="M20.2 33.9a4.3 2.7 93 1 0 -0.5 8.5a4.3 2.7 93 1 0 0.5 -8.5" fill="#c424cc" opacity="0.54"/><path d="M41.4 2.6a5.6 4 80 1 0 1.9 10.9a5.6 4 80 1 0 -1.9 -10.9" fill="#c424cc" opacity="0.53"/><path d="M13.2 3.9a5.4 2.7 25 1 0 9.9 4.6a5.4 2.7 25 1 0 -9.9 -4.6" fill="#c424cc" opacity="0.32"/><path d="M43.5 14.5a3.8 3.2 75 1 0 1.9 7.3a3.8 3.2 75 1 0 -1.9 -7.3" fill="#c424cc" opacity="0.43"/><path d="M29.6 10.6a4.4 3.8 120 1 0 -4.4 7.6a4.4 3.8 120 1 0 4.4 -7.6" fill="#c424cc" opacity="0.51"/><path d="M15.1 9.8a4.6 2.6 10 1 0 9 1.7a4.6 2.6 10 1 0 -9 -1.7" fill="#c424cc" opacity="0.42"/><path d="M51.1 32.2a4.8 3.5 173 1 0 -9.6 1.2a4.8 3.5 173 1 0 9.6 -1.2" fill="#c424cc" opacity="0.34"/><path d="M30.8 0.4a5.2 3.4 126 1 0 -6.1 8.3a5.2 3.4 126 1 0 6.1 -8.3" fill="#c424cc" opacity="0.54"/><path d="M39.4 -0.5a4.4 3.4 163 1 0 -8.5 2.4a4.4 3.4 163 1 0 8.5 -2.4" fill="#c424cc" opacity="0.30"/></g><g filter="url(#eb3)" stroke="#e040e8" fill="none" stroke-linecap="round"><path d="M14 8Q22 10 26 11Q30 12 38 17" stroke-width="1.2"/><path d="M30 12Q33 8 37 5" stroke-width="0.8"/><path d="M22 10Q19 15 17 20" stroke-width="0.7"/></g><g filter="url(#eb3)"><circle cx="22" cy="10" r="1.2" fill="#ff58ff"/><circle cx="28" cy="12" r="1.0" fill="#ff58ff"/><circle cx="36" cy="16" r="1.0" fill="#ff58ff"/><circle cx="12" cy="30" r="0.9" fill="#ff58ff"/><circle cx="30" cy="38" r="1.0" fill="#ff58ff"/></g></g></svg><svg x="213.5" y="278.0" width="47.8" height="47.4" viewBox="0 0 47.8 47.4"><rect width="47.8" height="47.4" fill="#000"/><path d="M-2.6 38.1a3.4 2.5 33 1 0 5.7 3.7a3.4 2.5 33 1 0 -5.7 -3.7M45.8 2.2a3.2 2.6 137 1 0 -4.7 4.3a3.2 2.6 137 1 0 4.7 -4.3M16.6 39.6a3 2.8 169 1 0 -6 1.1a3 2.8 169 1 0 6 -1.1M25.4 13.4a3.1 2.5 84 1 0 0.6 6.1a3.1 2.5 84 1 0 -0.6 -6.1M34.2 37.2a3 2.8 7 1 0 5.9 0.8a3 2.8 7 1 0 -5.9 -0.8M21 44.1a3.3 2.4 18 1 0 6.3 2a3.3 2.4 18 1 0 -6.3 -2M38.3 45.3a3.7 2.9 11 1 0 7.2 1.5a3.7 2.9 11 1 0 -7.2 -1.5M33.7 4.2a3.1 2.5 95 1 0 -0.6 6.2a3.1 2.5 95 1 0 0.6 -6.2M23.6 24.1a3 2.8 59 1 0 3 5.1a3 2.8 59 1 0 -3 -5.1M43.9 22.5a3.6 2.4 82 1 0 0.9 7.2a3.6 2.4 82 1 0 -0.9 -7.2M11.7 13.1a3.6 2.3 105 1 0 -2 7a3.6 2.3 105 1 0 2 -7M3.1 7.6a3.2 2.4 74 1 0 1.7 6.1a3.2 2.4 74 1 0 -1.7 -6.1M0.7 29.7a3.5 2.3 53 1 0 4.2 5.7a3.5 2.3 53 1 0 -4.2 -5.7" fill="#1e22cc" opacity="0.88" filter="url(#eb2)"/><g style="mix-blend-mode:screen"><g filter="url(#et1)"><path d="M18.4 13.9a6 4 20 1 0 11.3 4.1a6 4 20 1 0 -11.3 -4.1" fill="#d428dc" opacity="0.80"/><path d="M10.6 37.2a4.5 3.3 72 1 0 2.7 8.7a4.5 3.3 72 1 0 -2.7 -8.7" fill="#c424cc" opacity="0.36"/><path d="M23.1 14.2a4.3 3 52 1 0 5.2 6.8a4.3 3 52 1 0 -5.2 -6.8" fill="#c424cc" opacity="0.44"/><path d="M39.5 35.3a3.6 3.7 143 1 0 -5.8 4.3a3.6 3.7 143 1 0 5.8 -4.3" fill="#c424cc" opacity="0.23"/><path d="M25.4 43.9a3.9 3 144 1 0 -6.4 4.5a3.9 3 144 1 0 6.4 -4.5" fill="#c424cc" opacity="0.36"/><path d="M38.8 39.4a4.8 2.8 75 1 0 2.4 9.4a4.8 2.8 75 1 0 -2.4 -9.4" fill="#c424cc" opacity="0.31"/><path d="M27.7 25.8a4.2 3.3 174 1 0 -8.3 0.8a4.2 3.3 174 1 0 8.3 -0.8" fill="#c424cc" opacity="0.38"/><path d="M48.1 22.4a5.9 4.3 150 1 0 -10.3 5.8a5.9 4.3 150 1 0 10.3 -5.8" fill="#c424cc" opacity="0.34"/></g><g filter="url(#eb3)" stroke="#e040e8" fill="none" stroke-linecap="round"><path d="M18 10Q22 14 27 18" stroke-width="0.8"/><path d="M22 14Q20 19 19 24" stroke-width="0.6"/></g><g filter="url(#eb3)"><circle cx="22" cy="14" r="1.0" fill="#ff58ff"/><circle cx="26" cy="17" r="0.8" fill="#ff58ff"/><circle cx="18" cy="34" r="0.9" fill="#ff58ff"/></g></g></svg><text x="255.60" y="317.34" font-size="7.6" text-anchor="end" fill="#fff">10µm</text><rect x="249.40" y="318.90" width="5.00" height="1.70" fill="#fff"/>
<defs><filter id="fb1" x="-20%" y="-60%" width="140%" height="220%"><feGaussianBlur stdDeviation="1.0"/></filter><filter id="fb2" x="-20%" y="-60%" width="140%" height="220%"><feGaussianBlur stdDeviation="2.2"/></filter></defs><text x="276.20" y="185.98" font-size="10.5" font-weight="bold">f</text><text x="266.60" y="203.71" font-size="7.8">kDa</text><rect x="283.40" y="203.20" width="124.80" height="43.60" fill="#e6e6e6" stroke="#555" stroke-width="0.6"/><rect x="283.40" y="253.40" width="124.80" height="44.40" fill="#e6e6e6" stroke="#555" stroke-width="0.6"/><line x1="279.80" y1="211.20" x2="283.40" y2="211.20" stroke="#333" stroke-width="0.6"/><text x="279.20" y="214.01" font-size="7.8" text-anchor="end">50</text><line x1="279.80" y1="230.40" x2="283.40" y2="230.40" stroke="#333" stroke-width="0.6"/><text x="279.20" y="233.21" font-size="7.8" text-anchor="end">40</text><line x1="279.80" y1="272.40" x2="283.40" y2="272.40" stroke="#333" stroke-width="0.6"/><text x="279.20" y="275.21" font-size="7.8" text-anchor="end">20</text><line x1="279.80" y1="285.60" x2="283.40" y2="285.60" stroke="#333" stroke-width="0.6"/><text x="279.20" y="288.41" font-size="7.8" text-anchor="end">15</text><text x="410.60" y="228.01" font-size="7.8">Gfap</text><text x="410.60" y="278.41" font-size="7.8">HA</text><svg x="283.4" y="204.1" width="124.80000000000001" height="43.2" viewBox="283.4 204.1 124.80000000000001 43.2"><rect x="308.8" y="210.0" width="20.8" height="20.0" rx="1.2" fill="#111" opacity="0.45" filter="url(#fb2)"/><rect x="308.8" y="211.5" width="20.8" height="9.0" rx="1.2" fill="#111" opacity="0.5" filter="url(#fb2)"/><rect x="308.8" y="210.5" width="20.8" height="4.2" rx="1.2" fill="#111" opacity="0.95" filter="url(#fb1)"/><rect x="308.8" y="215.4" width="20.8" height="3.6" rx="1.2" fill="#111" opacity="0.55" filter="url(#fb1)"/><rect x="309.8" y="225.0" width="18.8" height="8.0" rx="1.2" fill="#111" opacity="0.2" filter="url(#fb2)"/><rect x="334.3" y="214.0" width="19.1" height="22.0" rx="1.2" fill="#111" opacity="0.42" filter="url(#fb2)"/><rect x="334.3" y="212.8" width="19.1" height="3.6" rx="1.2" fill="#111" opacity="0.3" filter="url(#fb1)"/><rect x="334.3" y="220.5" width="19.1" height="4.2" rx="1.2" fill="#111" opacity="0.85" filter="url(#fb1)"/><rect x="334.3" y="225.7" width="19.1" height="3.4" rx="1.2" fill="#111" opacity="0.45" filter="url(#fb1)"/><rect x="334.3" y="230.7" width="19.1" height="5.0" rx="1.2" fill="#111" opacity="0.85" filter="url(#fb1)"/><rect x="334.3" y="236.0" width="19.1" height="3.0" rx="1.2" fill="#111" opacity="0.3" filter="url(#fb2)"/><rect x="357.0" y="214.0" width="19.8" height="22.0" rx="1.2" fill="#111" opacity="0.32" filter="url(#fb2)"/><rect x="357.0" y="213.6" width="19.8" height="3.2" rx="1.2" fill="#111" opacity="0.28" filter="url(#fb1)"/><rect x="357.0" y="220.6" width="19.8" height="3.6" rx="1.2" fill="#111" opacity="0.55" filter="url(#fb1)"/><rect x="357.0" y="225.5" width="19.8" height="3.0" rx="1.2" fill="#111" opacity="0.3" filter="url(#fb1)"/><rect x="357.0" y="230.9" width="19.8" height="4.2" rx="1.2" fill="#111" opacity="0.5" filter="url(#fb1)"/><rect x="382.2" y="211.0" width="21.6" height="20.0" rx="1.2" fill="#111" opacity="0.45" filter="url(#fb2)"/><rect x="382.2" y="212.0" width="21.6" height="10.0" rx="1.2" fill="#111" opacity="0.5" filter="url(#fb2)"/><rect x="382.2" y="210.5" width="21.6" height="5.0" rx="1.2" fill="#111" opacity="0.95" filter="url(#fb1)"/><rect x="382.2" y="218.3" width="21.6" height="4.6" rx="1.2" fill="#111" opacity="0.8" filter="url(#fb1)"/><rect x="383.2" y="226.0" width="19.6" height="8.0" rx="1.2" fill="#111" opacity="0.22" filter="url(#fb2)"/></svg><svg x="283.4" y="253.4" width="124.80000000000001" height="44.4" viewBox="283.4 253.4 124.80000000000001 44.4"><rect x="286.5" y="272.5" width="19.7" height="9.0" rx="1.2" fill="#111" opacity="0.35" filter="url(#fb2)"/><rect x="287.0" y="275.0" width="18.7" height="4.0" rx="1.2" fill="#111" opacity="1.0" filter="url(#fb1)"/><rect x="308.8" y="273.0" width="20.8" height="8.0" rx="1.2" fill="#111" opacity="0.35" filter="url(#fb2)"/><rect x="309.3" y="275.5" width="19.8" height="3.0" rx="1.2" fill="#111" opacity="0.85" filter="url(#fb1)"/><rect x="334.3" y="273.0" width="19.1" height="8.0" rx="1.2" fill="#111" opacity="0.35" filter="url(#fb2)"/><rect x="334.8" y="275.5" width="18.1" height="3.0" rx="1.2" fill="#111" opacity="0.85" filter="url(#fb1)"/><rect x="357.0" y="272.9" width="19.8" height="8.2" rx="1.2" fill="#111" opacity="0.35" filter="url(#fb2)"/><rect x="357.5" y="275.4" width="18.8" height="3.2" rx="1.2" fill="#111" opacity="0.9" filter="url(#fb1)"/><rect x="382.2" y="273.0" width="21.6" height="8.0" rx="1.2" fill="#111" opacity="0.35" filter="url(#fb2)"/><rect x="382.7" y="275.5" width="20.6" height="3.0" rx="1.2" fill="#111" opacity="0.85" filter="url(#fb1)"/></svg><text x="286.4" y="201.0" font-size="8.2" transform="rotate(-23.5 286.4 201.0)">NPC</text><text x="287.6" y="315.2" font-size="8.2" transform="rotate(-23.5 287.6 315.2)">NPC</text><text x="308.0" y="201.0" font-size="8.2" transform="rotate(-23.5 308.0 201.0)">SPONT</text><text x="309.2" y="315.2" font-size="8.2" transform="rotate(-23.5 309.2 315.2)">SPONT</text><text x="334.8" y="201.0" font-size="8.2" transform="rotate(-23.5 334.8 201.0)">CNTF</text><text x="336.0" y="315.2" font-size="8.2" transform="rotate(-23.5 336.0 315.2)">CNTF</text><text x="360.6" y="201.0" font-size="8.2" transform="rotate(-23.5 360.6 201.0)">IGF</text><text x="361.8" y="315.2" font-size="8.2" transform="rotate(-23.5 361.8 315.2)">IGF</text><text x="379.6" y="201.0" font-size="8.2" transform="rotate(-23.5 379.6 201.0)">1%FBS</text><text x="380.8" y="315.2" font-size="8.2" transform="rotate(-23.5 380.8 315.2)">1%FBS</text>
<text x="428.40" y="183.38" font-size="10.5" font-weight="bold">g</text><text x="469.20" y="179.21" font-size="7.8" text-anchor="middle">Overlap of</text><text x="469.20" y="187.41" font-size="7.8" text-anchor="middle">Astrocyte State</text><text x="469.20" y="195.61" font-size="7.8" text-anchor="middle">Gene Panels</text><defs><clipPath id="gh"><circle cx="471.2" cy="240.0" r="40.0"/></clipPath><clipPath id="ge"><circle cx="454.2" cy="297.2" r="26.9"/></clipPath><clipPath id="gr"><circle cx="497.9" cy="295.8" r="25.0"/></clipPath></defs><circle cx="471.20" cy="240.00" r="40.00" fill="#27d9f7"/><circle cx="454.20" cy="297.20" r="26.90" fill="#8c84e8"/><circle cx="497.90" cy="295.80" r="25.00" fill="#fbb800"/><g clip-path="url(#gh)"><circle cx="454.2" cy="297.2" r="26.9" fill="#fff"/><circle cx="497.9" cy="295.8" r="25.0" fill="#fff"/></g><g clip-path="url(#ge)"><circle cx="497.9" cy="295.8" r="25.0" fill="#fff"/></g><circle cx="471.20" cy="240.00" r="40.00" fill="none" stroke="#222" stroke-width="0.45"/><circle cx="454.20" cy="297.20" r="26.90" fill="none" stroke="#222" stroke-width="0.45"/><circle cx="497.90" cy="295.80" r="25.00" fill="none" stroke="#222" stroke-width="0.45"/><text x="471.20" y="232.96" font-size="7.95" text-anchor="middle" font-weight="bold">Healthy</text><text x="471.00" y="244.21" font-size="5.85" text-anchor="middle" font-weight="bold">414 of 429</text><text x="471.00" y="250.11" font-size="5.85" text-anchor="middle" font-weight="bold">Unique Genes</text><text x="471.00" y="256.01" font-size="5.85" text-anchor="middle" font-weight="bold">(97%)</text><text x="453.00" y="287.96" font-size="7.95" text-anchor="middle" font-weight="bold">EMT</text><text x="451.60" y="297.21" font-size="5.85" text-anchor="middle" font-weight="bold">168 of 197</text><text x="451.60" y="303.16" font-size="5.85" text-anchor="middle" font-weight="bold">Unique</text><text x="451.60" y="309.11" font-size="5.85" text-anchor="middle" font-weight="bold">Genes</text><text x="451.60" y="315.06" font-size="5.85" text-anchor="middle" font-weight="bold">(85%)</text><text x="500.60" y="290.08" font-size="8.0" text-anchor="middle" font-weight="bold">Reactivity</text><text x="499.40" y="299.21" font-size="5.85" text-anchor="middle" font-weight="bold">151 of 170</text><text x="499.40" y="305.11" font-size="5.85" text-anchor="middle" font-weight="bold">Unique</text><text x="499.40" y="311.01" font-size="5.85" text-anchor="middle" font-weight="bold">Genes</text><text x="499.40" y="316.91" font-size="5.85" text-anchor="middle" font-weight="bold">(89%)</text>
<text x="552.80" y="184.78" font-size="10.5" font-weight="bold">h</text><text x="539.40" y="198.68" font-size="8" text-anchor="middle">Astrocyte State</text><text x="539.40" y="206.88" font-size="8" text-anchor="middle">Gene Panels</text><text x="574.80" y="195.08" font-size="8">Median DEG</text><text x="627.80" y="194.82" font-size="7" text-anchor="end">0</text><defs><linearGradient id="gh2"><stop offset="0" stop-color="#fff"/><stop offset="0.3" stop-color="#ffb0ff"/><stop offset="0.6" stop-color="#f000f0"/><stop offset="0.8" stop-color="#a000a0"/><stop offset="1" stop-color="#480050"/></linearGradient></defs><rect x="628.60" y="190.50" width="42.60" height="3.70" fill="url(#gh2)" stroke="#777" stroke-width="0.25"/><text x="672.20" y="195.08" font-size="8">3</text><rect x="571.60" y="200.30" width="104.90" height="104.85" fill="none" stroke="#222" stroke-width="0.7"/><line x1="571.60" y1="235.25" x2="676.50" y2="235.25" stroke="#222" stroke-width="0.7"/><line x1="571.60" y1="270.20" x2="676.50" y2="270.20" stroke="#222" stroke-width="0.7"/><text x="565.00" y="220.38" font-size="8" text-anchor="end" font-weight="bold">Healthy</text><text x="565.00" y="255.08" font-size="8" text-anchor="end" font-weight="bold">Reactivity</text><text x="565.00" y="290.98" font-size="8" text-anchor="end" font-weight="bold">EMT</text><line x1="586.90" y1="225.62" x2="586.90" y2="229.48" stroke="#f010f0" stroke-width="0.6"/><circle cx="586.90" cy="230.12" r="0.90" fill="#f010f0"/><path d="M587.22 202.82C587.44 203.01 587.86 203.72 588.02 204.10C588.19 204.49 588.08 204.86 588.35 205.39C588.61 205.92 589.33 206.82 589.79 207.64C590.25 208.45 590.87 210.08 591.40 210.85C591.93 211.62 592.79 212.29 593.32 212.77C593.85 213.26 594.93 213.67 594.93 214.06C594.93 214.44 593.68 214.91 593.32 215.34C592.96 215.78 592.76 216.52 592.52 216.95C592.28 217.38 592.03 217.82 591.72 218.23C591.40 218.64 590.87 219.10 590.43 219.68C590.00 220.26 589.24 221.37 588.83 222.09C588.42 222.81 587.94 223.97 587.70 224.50C587.46 225.03 587.39 225.45 587.22 225.62C587.05 225.79 586.75 225.79 586.58 225.62C586.41 225.45 586.34 225.03 586.10 224.50C585.86 223.97 585.38 222.81 584.97 222.09C584.56 221.37 583.80 220.26 583.37 219.68C582.93 219.10 582.40 218.64 582.08 218.23C581.77 217.82 581.52 217.38 581.28 216.95C581.04 216.52 580.84 215.78 580.48 215.34C580.12 214.91 578.87 214.44 578.87 214.06C578.87 213.67 579.95 213.26 580.48 212.77C581.01 212.29 581.87 211.62 582.40 210.85C582.93 210.08 583.55 208.45 584.01 207.64C584.47 206.82 585.19 205.92 585.45 205.39C585.72 204.86 585.61 204.49 585.78 204.10C585.94 203.72 586.36 203.01 586.58 202.82C586.80 202.63 587.00 202.63 587.22 202.82Z" fill="#f010f0" stroke="#444" stroke-width="0.15"/><line x1="611.40" y1="227.23" x2="611.40" y2="229.15" stroke="#ff82ff" stroke-width="0.6"/><circle cx="611.40" cy="229.80" r="0.90" fill="#ff82ff"/><path d="M611.72 202.82C611.91 203.06 612.22 203.89 612.36 204.42C612.51 204.95 612.49 205.63 612.68 206.35C612.88 207.07 613.26 208.33 613.65 209.24C614.03 210.16 614.72 211.49 615.25 212.45C615.78 213.42 616.65 214.99 617.18 215.67C617.71 216.34 618.45 216.64 618.79 216.95C619.12 217.26 619.53 217.46 619.43 217.75C619.33 218.04 618.77 218.35 618.14 218.88C617.52 219.41 615.98 220.56 615.25 221.29C614.53 222.01 613.78 222.97 613.33 223.69C612.87 224.42 612.44 225.57 612.20 226.10C611.96 226.63 611.89 227.06 611.72 227.23C611.55 227.40 611.25 227.40 611.08 227.23C610.91 227.06 610.84 226.63 610.60 226.10C610.36 225.57 609.93 224.42 609.47 223.69C609.02 222.97 608.27 222.01 607.55 221.29C606.82 220.56 605.28 219.41 604.66 218.88C604.03 218.35 603.47 218.04 603.37 217.75C603.27 217.46 603.68 217.26 604.01 216.95C604.35 216.64 605.09 216.34 605.62 215.67C606.15 214.99 607.02 213.42 607.55 212.45C608.08 211.49 608.77 210.16 609.15 209.24C609.54 208.33 609.92 207.07 610.12 206.35C610.31 205.63 610.29 204.95 610.44 204.42C610.58 203.89 610.89 203.06 611.08 202.82C611.27 202.58 611.53 202.58 611.72 202.82Z" fill="#ff82ff" stroke="#444" stroke-width="0.15"/><line x1="635.40" y1="224.98" x2="635.40" y2="229.15" stroke="#b600b6" stroke-width="0.6"/><circle cx="635.40" cy="229.80" r="0.90" fill="#b600b6"/><path d="M635.72 202.01C635.91 202.21 636.22 202.89 636.36 203.30C636.51 203.71 636.49 204.21 636.68 204.74C636.88 205.27 637.36 206.16 637.65 206.83C637.94 207.51 638.23 208.52 638.61 209.24C639.00 209.96 639.69 211.14 640.22 211.65C640.75 212.16 641.66 212.35 642.14 212.61C642.63 212.88 643.48 213.13 643.43 213.42C643.38 213.71 642.40 214.16 641.82 214.54C641.25 214.93 639.72 215.62 639.58 215.99C639.43 216.35 640.47 216.68 640.86 216.95C641.25 217.21 642.10 217.46 642.14 217.75C642.19 218.04 641.71 218.35 641.18 218.88C640.65 219.41 639.29 220.56 638.61 221.29C637.94 222.01 637.12 223.14 636.68 223.69C636.25 224.25 635.96 224.79 635.72 224.98C635.48 225.17 635.32 225.17 635.08 224.98C634.84 224.79 634.55 224.25 634.12 223.69C633.68 223.14 632.86 222.01 632.19 221.29C631.51 220.56 630.15 219.41 629.62 218.88C629.09 218.35 628.61 218.04 628.66 217.75C628.70 217.46 629.55 217.21 629.94 216.95C630.33 216.68 631.37 216.35 631.22 215.99C631.08 215.62 629.55 214.93 628.98 214.54C628.40 214.16 627.42 213.71 627.37 213.42C627.32 213.13 628.17 212.88 628.66 212.61C629.14 212.35 630.05 212.16 630.58 211.65C631.11 211.14 631.80 209.96 632.19 209.24C632.57 208.52 632.86 207.51 633.15 206.83C633.44 206.16 633.92 205.27 634.12 204.74C634.31 204.21 634.29 203.71 634.44 203.30C634.58 202.89 634.89 202.21 635.08 202.01C635.27 201.82 635.53 201.82 635.72 202.01Z" fill="#b600b6" stroke="#444" stroke-width="0.15"/><line x1="659.40" y1="224.66" x2="659.40" y2="227.87" stroke="#5a005e" stroke-width="0.6"/><circle cx="659.40" cy="227.39" r="0.90" fill="#5a005e"/><path d="M659.88 202.50C660.15 202.64 660.54 203.12 660.68 203.46C660.83 203.80 660.70 204.36 660.85 204.74C660.99 205.13 661.34 205.55 661.65 206.03C661.96 206.51 662.40 207.43 662.93 207.96C663.46 208.49 664.60 209.18 665.18 209.56C665.76 209.95 666.45 210.24 666.79 210.53C667.12 210.82 667.48 211.15 667.43 211.49C667.38 211.83 666.95 212.27 666.47 212.77C665.98 213.28 664.41 214.36 664.22 214.86C664.03 215.37 664.94 215.79 665.18 216.15C665.42 216.51 665.92 216.86 665.82 217.27C665.73 217.68 665.12 218.27 664.54 218.88C663.96 219.48 662.60 220.56 661.97 221.29C661.34 222.01 660.70 223.19 660.36 223.69C660.03 224.20 659.91 224.51 659.72 224.66C659.53 224.80 659.27 224.80 659.08 224.66C658.89 224.51 658.77 224.20 658.44 223.69C658.10 223.19 657.46 222.01 656.83 221.29C656.20 220.56 654.84 219.48 654.26 218.88C653.68 218.27 653.07 217.68 652.98 217.27C652.88 216.86 653.38 216.51 653.62 216.15C653.86 215.79 654.77 215.37 654.58 214.86C654.39 214.36 652.82 213.28 652.33 212.77C651.85 212.27 651.42 211.83 651.37 211.49C651.32 211.15 651.68 210.82 652.01 210.53C652.35 210.24 653.04 209.95 653.62 209.56C654.20 209.18 655.34 208.49 655.87 207.96C656.40 207.43 656.84 206.51 657.15 206.03C657.46 205.55 657.81 205.13 657.95 204.74C658.10 204.36 657.97 203.80 658.12 203.46C658.26 203.12 658.65 202.64 658.92 202.50C659.18 202.35 659.62 202.35 659.88 202.50Z" fill="#5a005e" stroke="#444" stroke-width="0.15"/><path d="M587.06 241.23C587.28 241.47 587.68 242.35 588.18 242.83C588.69 243.31 589.90 243.84 590.43 244.44C590.96 245.04 591.48 246.12 591.72 246.85C591.96 247.57 591.80 248.65 592.04 249.26C592.28 249.86 592.94 250.45 593.32 250.86C593.71 251.27 594.37 251.72 594.61 251.99C594.85 252.25 595.03 252.32 594.93 252.63C594.83 252.94 594.30 253.62 593.97 254.07C593.63 254.53 593.07 255.08 592.68 255.68C592.30 256.28 591.83 257.37 591.40 258.09C590.96 258.81 590.27 259.77 589.79 260.50C589.31 261.22 588.59 262.18 588.18 262.91C587.78 263.63 587.28 264.95 587.06 265.32C586.84 265.68 586.96 265.68 586.74 265.32C586.52 264.95 586.02 263.63 585.62 262.91C585.21 262.18 584.49 261.22 584.01 260.50C583.53 259.77 582.84 258.81 582.40 258.09C581.97 257.37 581.50 256.28 581.12 255.68C580.73 255.08 580.17 254.53 579.83 254.07C579.50 253.62 578.97 252.94 578.87 252.63C578.77 252.32 578.95 252.25 579.19 251.99C579.43 251.72 580.09 251.27 580.48 250.86C580.86 250.45 581.52 249.86 581.76 249.26C582.00 248.65 581.84 247.57 582.08 246.85C582.32 246.12 582.84 245.04 583.37 244.44C583.90 243.84 585.11 243.31 585.62 242.83C586.12 242.35 586.52 241.47 586.74 241.23C586.96 240.99 586.84 240.99 587.06 241.23Z" fill="#fff" stroke="#333" stroke-width="0.35"/><path d="M611.56 236.89C611.83 237.18 612.40 238.17 613.01 238.82C613.61 239.47 615.05 240.50 615.58 241.23C616.11 241.95 616.49 242.91 616.54 243.64C616.59 244.36 616.19 245.32 615.90 246.04C615.61 246.77 614.71 247.85 614.61 248.45C614.52 249.06 614.87 249.63 615.25 250.06C615.64 250.49 616.55 250.98 617.18 251.34C617.81 251.71 619.24 252.15 619.43 252.47C619.62 252.78 618.95 253.14 618.47 253.43C617.98 253.72 616.75 254.08 616.22 254.40C615.69 254.71 615.32 255.09 614.93 255.52C614.55 255.95 614.03 256.66 613.65 257.29C613.26 257.91 612.65 258.73 612.36 259.69C612.07 260.66 611.84 262.84 611.72 263.71C611.60 264.58 611.63 265.21 611.56 265.48C611.49 265.74 611.31 265.74 611.24 265.48C611.17 265.21 611.20 264.58 611.08 263.71C610.96 262.84 610.73 260.66 610.44 259.69C610.15 258.73 609.54 257.91 609.15 257.29C608.77 256.66 608.25 255.95 607.87 255.52C607.48 255.09 607.11 254.71 606.58 254.40C606.05 254.08 604.82 253.72 604.33 253.43C603.85 253.14 603.18 252.78 603.37 252.47C603.56 252.15 604.99 251.71 605.62 251.34C606.25 250.98 607.16 250.49 607.55 250.06C607.93 249.63 608.28 249.06 608.19 248.45C608.09 247.85 607.19 246.77 606.90 246.04C606.61 245.32 606.21 244.36 606.26 243.64C606.31 242.91 606.69 241.95 607.22 241.23C607.75 240.50 609.19 239.47 609.79 238.82C610.40 238.17 610.97 237.18 611.24 236.89C611.50 236.60 611.30 236.60 611.56 236.89Z" fill="#ff5cff" stroke="#333" stroke-width="0.35"/><path d="M635.56 239.62C635.83 239.98 636.40 241.43 637.01 242.03C637.61 242.63 639.00 243.03 639.58 243.64C640.15 244.24 640.81 245.37 640.86 246.04C640.91 246.72 639.99 247.58 639.90 248.13C639.80 248.69 639.83 249.26 640.22 249.74C640.60 250.22 641.98 250.93 642.47 251.34C642.95 251.75 643.53 252.06 643.43 252.47C643.33 252.88 642.16 253.47 641.82 254.07C641.49 254.68 641.66 255.76 641.18 256.48C640.70 257.21 639.33 258.17 638.61 258.89C637.89 259.61 636.82 260.65 636.36 261.30C635.91 261.95 635.73 262.94 635.56 263.23C635.39 263.52 635.41 263.52 635.24 263.23C635.07 262.94 634.89 261.95 634.44 261.30C633.98 260.65 632.91 259.61 632.19 258.89C631.47 258.17 630.10 257.21 629.62 256.48C629.14 255.76 629.31 254.68 628.98 254.07C628.64 253.47 627.47 252.88 627.37 252.47C627.27 252.06 627.85 251.75 628.33 251.34C628.82 250.93 630.20 250.22 630.58 249.74C630.97 249.26 631.00 248.69 630.90 248.13C630.81 247.58 629.89 246.72 629.94 246.04C629.99 245.37 630.65 244.24 631.22 243.64C631.80 243.03 633.19 242.63 633.79 242.03C634.40 241.43 634.97 239.98 635.24 239.62C635.50 239.26 635.30 239.26 635.56 239.62Z" fill="#fff" stroke="#333" stroke-width="0.35"/><path d="M659.56 237.21C659.73 237.69 659.66 239.65 660.36 240.42C661.06 241.19 663.21 241.82 664.22 242.35C665.23 242.88 666.63 243.57 667.11 243.96C667.59 244.34 667.48 244.58 667.43 244.92C667.38 245.26 667.03 245.80 666.79 246.20C666.55 246.61 666.06 247.07 665.82 247.65C665.58 248.23 665.18 249.51 665.18 250.06C665.18 250.61 665.63 250.98 665.82 251.34C666.02 251.71 666.47 252.13 666.47 252.47C666.47 252.81 666.06 253.23 665.82 253.59C665.58 253.95 665.29 254.20 664.86 254.88C664.43 255.55 663.51 257.13 662.93 258.09C662.35 259.05 661.46 260.34 661.01 261.30C660.55 262.26 660.10 263.55 659.88 264.51C659.66 265.48 659.66 267.24 659.56 267.72C659.46 268.21 659.34 268.21 659.24 267.72C659.14 267.24 659.14 265.48 658.92 264.51C658.70 263.55 658.25 262.26 657.79 261.30C657.34 260.34 656.45 259.05 655.87 258.09C655.29 257.13 654.37 255.55 653.94 254.88C653.51 254.20 653.22 253.95 652.98 253.59C652.74 253.23 652.33 252.81 652.33 252.47C652.33 252.13 652.78 251.71 652.98 251.34C653.17 250.98 653.62 250.61 653.62 250.06C653.62 249.51 653.22 248.23 652.98 247.65C652.74 247.07 652.25 246.61 652.01 246.20C651.77 245.80 651.42 245.26 651.37 244.92C651.32 244.58 651.21 244.34 651.69 243.96C652.17 243.57 653.57 242.88 654.58 242.35C655.59 241.82 657.74 241.19 658.44 240.42C659.14 239.65 659.07 237.69 659.24 237.21C659.41 236.73 659.39 236.73 659.56 237.21Z" fill="#ffd2ff" stroke="#333" stroke-width="0.35"/><path d="M587.06 274.42C587.23 275.15 587.60 278.04 587.86 279.24C588.13 280.45 588.44 281.61 588.83 282.45C589.21 283.30 589.85 284.26 590.43 284.86C591.01 285.46 592.01 286.08 592.68 286.47C593.36 286.85 594.59 287.21 594.93 287.43C595.27 287.65 595.27 287.70 594.93 287.91C594.59 288.13 593.31 288.49 592.68 288.88C592.05 289.26 591.28 289.88 590.75 290.48C590.22 291.08 589.58 292.17 589.15 292.89C588.71 293.61 588.18 294.51 587.86 295.30C587.55 296.10 587.23 297.76 587.06 298.19C586.89 298.62 586.91 298.62 586.74 298.19C586.57 297.76 586.25 296.10 585.94 295.30C585.62 294.51 585.09 293.61 584.65 292.89C584.22 292.17 583.58 291.08 583.05 290.48C582.52 289.88 581.75 289.26 581.12 288.88C580.49 288.49 579.21 288.13 578.87 287.91C578.53 287.70 578.53 287.65 578.87 287.43C579.21 287.21 580.44 286.85 581.12 286.47C581.79 286.08 582.79 285.46 583.37 284.86C583.95 284.26 584.59 283.30 584.97 282.45C585.36 281.61 585.67 280.45 585.94 279.24C586.20 278.04 586.57 275.15 586.74 274.42C586.91 273.70 586.89 273.70 587.06 274.42Z" fill="#fff" stroke="#333" stroke-width="0.35"/><path d="M611.56 272.01C611.68 272.62 611.90 275.14 612.04 276.03C612.19 276.92 612.43 277.47 612.52 277.96C612.62 278.44 612.71 278.86 612.68 279.24C612.66 279.63 612.41 280.09 612.36 280.53C612.32 280.96 612.27 281.60 612.36 282.13C612.46 282.66 612.81 283.48 613.01 284.06C613.20 284.64 612.93 285.55 613.65 285.99C614.37 286.42 616.96 286.71 617.82 286.95C618.69 287.19 619.53 287.38 619.43 287.59C619.33 287.81 618.10 288.13 617.18 288.40C616.27 288.66 614.00 288.80 613.33 289.36C612.65 289.91 612.85 291.32 612.68 292.09C612.52 292.86 612.37 293.82 612.20 294.50C612.03 295.17 611.71 296.27 611.56 296.59C611.42 296.90 611.38 296.90 611.24 296.59C611.09 296.27 610.77 295.17 610.60 294.50C610.43 293.82 610.28 292.86 610.12 292.09C609.95 291.32 610.15 289.91 609.47 289.36C608.80 288.80 606.53 288.66 605.62 288.40C604.70 288.13 603.47 287.81 603.37 287.59C603.27 287.38 604.11 287.19 604.98 286.95C605.84 286.71 608.43 286.42 609.15 285.99C609.87 285.55 609.60 284.64 609.79 284.06C609.99 283.48 610.34 282.66 610.44 282.13C610.53 281.60 610.48 280.96 610.44 280.53C610.39 280.09 610.14 279.63 610.12 279.24C610.09 278.86 610.18 278.44 610.28 277.96C610.37 277.47 610.61 276.92 610.76 276.03C610.90 275.14 611.12 272.62 611.24 272.01C611.36 271.41 611.44 271.41 611.56 272.01Z" fill="#fff" stroke="#333" stroke-width="0.35"/><path d="M635.56 276.03C635.71 276.63 635.94 278.96 636.20 280.04C636.47 281.13 636.97 282.46 637.33 283.26C637.69 284.05 638.03 284.81 638.61 285.34C639.19 285.87 640.46 286.43 641.18 286.79C641.90 287.15 643.09 287.54 643.43 287.75C643.77 287.97 643.81 288.02 643.43 288.23C643.04 288.45 641.63 288.74 640.86 289.20C640.09 289.66 638.87 290.61 638.29 291.29C637.71 291.96 637.34 292.97 637.01 293.69C636.67 294.42 636.26 295.43 636.04 296.10C635.83 296.78 635.68 297.88 635.56 298.19C635.44 298.50 635.36 298.50 635.24 298.19C635.12 297.88 634.97 296.78 634.76 296.10C634.54 295.43 634.13 294.42 633.79 293.69C633.46 292.97 633.09 291.96 632.51 291.29C631.93 290.61 630.71 289.66 629.94 289.20C629.17 288.74 627.76 288.45 627.37 288.23C626.99 288.02 627.03 287.97 627.37 287.75C627.71 287.54 628.90 287.15 629.62 286.79C630.34 286.43 631.61 285.87 632.19 285.34C632.77 284.81 633.11 284.05 633.47 283.26C633.83 282.46 634.33 281.13 634.60 280.04C634.86 278.96 635.09 276.63 635.24 276.03C635.38 275.43 635.42 275.43 635.56 276.03Z" fill="#fff" stroke="#333" stroke-width="0.35"/><path d="M659.56 273.62C659.83 273.86 660.50 274.74 661.01 275.23C661.51 275.71 662.40 276.35 662.93 276.83C663.46 277.31 664.15 278.03 664.54 278.44C664.92 278.85 665.21 279.25 665.50 279.56C665.79 279.88 666.27 280.21 666.47 280.53C666.66 280.84 666.81 281.31 666.79 281.65C666.76 281.99 666.31 282.46 666.31 282.77C666.31 283.09 666.62 283.42 666.79 283.74C666.96 284.05 667.41 284.52 667.43 284.86C667.45 285.20 666.95 285.70 666.95 285.99C666.95 286.28 667.45 286.48 667.43 286.79C667.41 287.10 667.17 287.64 666.79 288.07C666.40 288.51 665.49 289.08 664.86 289.68C664.23 290.28 663.24 291.37 662.61 292.09C661.99 292.81 661.14 293.77 660.68 294.50C660.23 295.22 659.78 296.55 659.56 296.91C659.34 297.27 659.46 297.27 659.24 296.91C659.02 296.55 658.57 295.22 658.12 294.50C657.66 293.77 656.81 292.81 656.19 292.09C655.56 291.37 654.57 290.28 653.94 289.68C653.31 289.08 652.40 288.51 652.01 288.07C651.63 287.64 651.39 287.10 651.37 286.79C651.35 286.48 651.85 286.28 651.85 285.99C651.85 285.70 651.35 285.20 651.37 284.86C651.39 284.52 651.84 284.05 652.01 283.74C652.18 283.42 652.49 283.09 652.49 282.77C652.49 282.46 652.04 281.99 652.01 281.65C651.99 281.31 652.14 280.84 652.33 280.53C652.53 280.21 653.01 279.88 653.30 279.56C653.59 279.25 653.88 278.85 654.26 278.44C654.65 278.03 655.34 277.31 655.87 276.83C656.40 276.35 657.29 275.71 657.79 275.23C658.30 274.74 658.97 273.86 659.24 273.62C659.50 273.38 659.30 273.38 659.56 273.62Z" fill="#f222f2" stroke="#333" stroke-width="0.35"/><line x1="676.50" y1="201.40" x2="678.20" y2="201.40" stroke="#222" stroke-width="0.45"/><text x="678.80" y="203.06" font-size="4.6" font-weight="bold">10</text><line x1="676.50" y1="218.20" x2="678.20" y2="218.20" stroke="#222" stroke-width="0.45"/><text x="678.80" y="219.86" font-size="4.6" font-weight="bold">0</text><line x1="676.50" y1="234.60" x2="678.20" y2="234.60" stroke="#222" stroke-width="0.45"/><text x="678.80" y="236.26" font-size="4.6" font-weight="bold">-10</text><line x1="676.50" y1="252.80" x2="678.20" y2="252.80" stroke="#222" stroke-width="0.45"/><text x="678.80" y="254.46" font-size="4.6" font-weight="bold">0</text><line x1="676.50" y1="287.70" x2="678.20" y2="287.70" stroke="#222" stroke-width="0.45"/><text x="678.80" y="289.36" font-size="4.6" font-weight="bold">0</text><line x1="676.50" y1="209.80" x2="677.70" y2="209.80" stroke="#222" stroke-width="0.4"/><line x1="676.50" y1="226.40" x2="677.70" y2="226.40" stroke="#222" stroke-width="0.4"/><line x1="676.50" y1="244.40" x2="677.70" y2="244.40" stroke="#222" stroke-width="0.4"/><line x1="676.50" y1="261.20" x2="677.70" y2="261.20" stroke="#222" stroke-width="0.4"/><line x1="676.50" y1="269.60" x2="677.70" y2="269.60" stroke="#222" stroke-width="0.4"/><line x1="676.50" y1="279.30" x2="677.70" y2="279.30" stroke="#222" stroke-width="0.4"/><line x1="676.50" y1="296.10" x2="677.70" y2="296.10" stroke="#222" stroke-width="0.4"/><line x1="676.50" y1="304.50" x2="677.70" y2="304.50" stroke="#222" stroke-width="0.4"/><line x1="586.90" y1="305.20" x2="586.90" y2="306.80" stroke="#222" stroke-width="0.5"/><text x="590.5" y="312.2" font-size="8.3" font-weight="bold" text-anchor="end" transform="rotate(-33 590.5 312.2)">SPONT</text><line x1="611.40" y1="305.20" x2="611.40" y2="306.80" stroke="#222" stroke-width="0.5"/><text x="615.0" y="312.2" font-size="8.3" font-weight="bold" text-anchor="end" transform="rotate(-33 615.0 312.2)">CNTF</text><line x1="635.40" y1="305.20" x2="635.40" y2="306.80" stroke="#222" stroke-width="0.5"/><text x="639.0" y="312.2" font-size="8.3" font-weight="bold" text-anchor="end" transform="rotate(-33 639.0 312.2)">IGF</text><line x1="659.40" y1="305.20" x2="659.40" y2="306.80" stroke="#222" stroke-width="0.5"/><text x="663.0" y="312.2" font-size="8.3" font-weight="bold" text-anchor="end" transform="rotate(-33 663.0 312.2)">1%FBS</text>
<defs><filter id="rgh" x="-5%" y="-5%" width="110%" height="110%"><feTurbulence type="fractalNoise" baseFrequency="0.35" numOctaves="2" seed="2" result="n"/><feDisplacementMap in="SourceGraphic" in2="n" scale="5" xChannelSelector="R" yChannelSelector="G"/></filter></defs><g filter="url(#rgh)"><polygon points="31.3,401.5 39.1,390.9 49.6,385.2 61.5,384.4 70.7,389.6 76.4,401.5 79.9,413.3 73.3,414.6 65.4,422.5 61.5,431.7 52.3,434.3 44.4,430.4 43.1,418.5 36.5,409.3" fill="#1010ff" opacity="0.55"/><polygon points="17.3,413.3 24.7,406.7 31.3,401.5 36.5,409.3 43.1,418.5 44.4,430.4 48.3,440.9 44.4,443.5 33.9,435.6 24.7,425.1" fill="#1010ff" opacity="0.55"/><polygon points="44.4,430.4 52.3,434.3 61.5,431.7 65.4,422.5 73.3,414.6 81.2,413.3 86.4,425.1 85.1,438.2 78.5,450.1 70.7,461.9 65.4,464.0 56.2,454.0 48.3,443.5 44.4,436.9" fill="#1010ff" opacity="0.55"/><polygon points="73.8,380.4 76.4,373.9 83.8,369.9 93.0,371.2 98.3,377.8 98.3,387.0 94.3,393.6 90.4,398.8 83.8,392.3 77.2,388.3" fill="#1010ff" opacity="0.55"/><polygon points="81.2,454.0 83.8,444.8 93.0,440.3 96.9,443.5 95.6,452.7 94.3,463.2 87.7,465.8 82.5,460.6" fill="#e03030" opacity="0.55"/><polygon points="94.3,463.2 102.2,461.9 111.4,460.6 115.3,467.1 114.0,480.3 112.7,493.4 110.1,500.0 102.2,498.7 95.6,490.8 93.0,477.7 93.0,467.1" fill="#d83838" opacity="0.55"/><polygon points="94.3,501.3 102.2,497.4 110.1,500.0 116.6,505.2 120.6,509.2 115.3,514.4 104.8,517.6 96.9,513.1 93.0,506.6" fill="#909090" opacity="0.55"/><polygon points="111.4,410.7 118.0,414.6 122.4,418.5 118.5,425.1 116.4,434.3 114.0,425.1 112.7,417.2" fill="#b06060" opacity="0.55"/><polygon points="133.5,419.8 141.4,411.9 146.6,401.4 147.9,377.8 151.9,373.8 154.5,388.3 156.6,414.5 157.9,440.8 159.2,467.1 157.1,476.3 149.3,472.4 141.4,454.0 136.1,438.2" fill="#6e6e6e" opacity="0.5"/><polygon points="153.2,372.5 159.8,373.8 161.1,388.3 167.6,401.4 174.2,414.5 176.8,430.3 176.8,451.3 171.6,467.1 162.4,476.3 158.4,475.5 159.2,467.1 157.9,440.8 156.6,414.5 154.5,388.3" fill="#ff1010" opacity="0.5"/></g><path d="M19 412.5h1m-1 2h1m-1 2h1m-.5-4h1m-1 .5h1m-1 1.5h1m-.5-5h1m-.5 2.5h1m-1 .5h1m-1 .5h1m-.5-3.5h1m-1 .5h1m-1 4.5h1m-1 1h1m-1 5.5h1m-.5-5h1m-1 3h1m-1 .5h1m-1 1.5h1m-.5-11h1m-1 .5h1m-1 2.5h1m-1 2.5h1m-.5-6.5h1m-1 1h1m-1 2h1m-1 4.5h1m-1 1h1m-1 2h1m-.5-4.5h1m-1 2.5h1m-1 .5h1m-.5-3.5h1m-1 4.5h1m-1 3h1m-.5-13.5h1m-1 .5h1m-1 4.5h1m-1 1h1m-1 2h1m-.5-6.5h1m-1 2.5h1m-1 2h1m-1 2.5h1m-1 3h1m-1 1h1m-1 3h1m-.5-16.5h1m-1 1.5h1m-1 2.5h1m-.5-6.5h1m-1 3.5h1m-1 1h1m-1 .5h1m-1 3.5h1m-1 5h1m-1 2h1m-.5-12h1m-1 1.5h1m-1 1h1m-1 1h1m-1 2.5h1m-1 2h1m-1 1h1m-1 3h1m-.5-12.5h1m-1 14.5h1m-1 2h1m-.5-20h1m-1 4h1m-1 1h1m-1 1.5h1m-1 4.5h1m-1 8h1m-.5-17.5h1m-1 .5h1m-1 8h1m-1 4.5h1m-1 5h1m-.5-19h1m-1 1h1m-1 3h1m-1 2.5h1m-1 9.5h1m-1 7h1m-.5-21.5h1m-1 1.5h1m-1 .5h1m-1 .5h1m-1 1h1m-1 6.5h1m-1 .5h1m-1 1h1m-1 .5h1m-1 1.5h1m-1 1h1m-.5-15.5h1m-1 .5h1m-1 1h1m-1 2h1m-1 1h1m-1 5.5h1m-1 3h1m-1 2h1m-1 3.5h1m-1 1.5h1m-1 2.5h1m-.5-20.5h1m-1 1.5h1m-1 7h1m-1 1h1m-1 2.5h1m-1 3h1m-1 4h1m-1 1.5h1m-1 .5h1m-1 2.5h1m-.5-30.5h1m-1 5.5h1m-1 5.5h1m-1 .5h1m-1 1h1m-1 1h1m-1 10h1m-1 3.5h1m-.5-25h1m-1 4.5h1m-1 1.5h1m-1 1h1m-1 3.5h1m-1 .5h1m-1 5.5h1m-1 1h1m-1 1h1m-1 1.5h1m-1 .5h1m-1 2h1m-1 7.5h1m-.5-29.5h1m-1 1h1m-1 1.5h1m-1 3h1m-1 8.5h1m-1 .5h1m-1 1h1m-1 1.5h1m-1 2.5h1m-1 4h1m-.5-24h1m-1 1h1m-1 .5h1m-1 13.5h1m-1 4h1m-1 3.5h1m-1 3.5h1m-.5-20h1m-1 3.5h1m-1 6.5h1m-1 .5h1m-1 7h1m-1 8.5h1m-.5-27h1m-1 2.5h1m-1 10h1m-1 5h1m-.5-21h1m-1 6.5h1m-1 1.5h1m-1 8.5h1m-.5-24h1m-1 2h1m-1 3h1m-1 6.5h1m-1 1.5h1m-1 1h1m-1 2.5h1m-1 7.5h1m-1 1h1m-1 1.5h1m-1 .5h1m-1 2.5h1m-1 1.5h1m-1 1h1m-1 2.5h1m-.5-35h1m-1 3.5h1m-1 .5h1m-1 2h1m-1 4h1m-1 1h1m-1 3.5h1m-1 2.5h1m-1 5h1m-1 5h1m-1 1h1m-1 2.5h1m-1 .5h1m-1 1h1m-1 1.5h1m-1 2.5h1m-.5-30.5h1m-1 2h1m-1 1h1m-1 1h1m-1 1h1m-1 1.5h1m-1 1.5h1m-1 5.5h1m-1 9h1m-1 2.5h1m-1 1h1m-1 .5h1m-1 .5h1m-1 5.5h1m-.5-34h1m-1 2h1m-1 1h1m-1 3.5h1m-1 5h1m-1 1.5h1m-1 .5h1m-1 .5h1m-1 2.5h1m-1 3.5h1m-1 1h1m-1 1.5h1m-1 1.5h1m-1 2h1m-1 3.5h1m-1 .5h1m-1 2h1m-1 5h1m-.5-37.5h1m-1 1h1m-1 19.5h1m-1 1.5h1m-1 3h1m-1 1h1m-1 .5h1m-1 8.5h1m-1 .5h1m-1 2h1m-.5-41.5h1m-1 2h1m-1 3.5h1m-1 2.5h1m-1 8h1m-1 .5h1m-1 2.5h1m-1 2h1m-1 1h1m-1 1h1m-1 2.5h1m-1 2h1m-1 .5h1m-1 2.5h1m-1 3h1m-1 3.5h1m-1 .5h1m-1 .5h1m-1 2.5h1m-.5-41h1m-1 2.5h1m-1 4h1m-1 1h1m-1 2.5h1m-1 7h1m-1 1.5h1m-1 1.5h1m-1 10.5h1m-1 1h1m-1 8h1m-1 1.5h1m-1 1.5h1m-.5-41h1m-1 1.5h1m-1 2.5h1m-1 3h1m-1 4.5h1m-1 3.5h1m-1 2.5h1m-1 1h1m-1 3.5h1m-1 6h1m-1 1h1m-1 2.5h1m-1 .5h1m-1 4h1m-1 .5h1m-1 3.5h1m-.5-43.5h1m-1 3h1m-1 4.5h1m-1 .5h1m-1 .5h1m-1 1.5h1m-1 3h1m-1 1h1m-1 .5h1m-1 2h1m-1 2h1m-1 4h1m-1 2h1m-1 10h1m-1 3h1m-1 4.5h1m-1 2h1m-.5-42.5h1m-1 2.5h1m-1 2.5h1m-1 1h1m-1 10h1m-1 19h1m-1 5h1m-.5-40h1m-1 1h1m-1 2h1m-1 .5h1m-1 2h1m-1 5.5h1m-1 9h1m-1 1.5h1m-1 2h1m-1 4.5h1m-1 1.5h1m-1 3.5h1m-1 1.5h1m-1 1.5h1m-1 4h1m-1 .5h1m-1 1.5h1m-1 1h1m-.5-38h1m-1 1h1m-1 10h1m-1 2h1m-1 4h1m-1 2h1m-1 2.5h1m-1 .5h1m-1 3.5h1m-1 8h1m-1 1h1m-.5-40.5h1m-1 6.5h1m-1 3h1m-1 1h1m-1 5h1m-1 4.5h1m-1 2.5h1m-1 3h1m-1 3h1m-1 5.5h1m-1 1.5h1m-1 1.5h1m-1 1.5h1m-1 1h1m-1 2.5h1m-.5-41h1m-1 1h1m-1 1.5h1m-1 3.5h1m-1 2.5h1m-1 3.5h1m-1 1h1m-1 6.5h1m-1 1h1m-1 .5h1m-1 1h1m-1 .5h1m-1 1.5h1m-1 1h1m-1 2h1m-1 2h1m-1 2h1m-1 2h1m-1 3.5h1m-1 .5h1m-1 .5h1m-.5-39.5h1m-1 2.5h1m-1 .5h1m-1 4h1m-1 2h1m-1 3h1m-1 2h1m-1 2h1m-1 10h1m-1 1h1m-1 1.5h1m-1 13.5h1m-1 2h1m-1 2.5h1m-.5-49.5h1m-1 4h1m-1 .5h1m-1 1.5h1m-1 .5h1m-1 3h1m-1 1.5h1m-1 5h1m-1 5h1m-1 15.5h1m-1 4h1m-.5-37h1m-1 .5h1m-1 3h1m-1 5h1m-1 4h1m-1 5h1m-1 2.5h1m-1 2h1m-1 2h1m-1 1h1m-1 8.5h1m-1 9.5h1m-1 2h1m-1 1.5h1m-.5-49.5h1m-1 3h1m-1 1.5h1m-1 6h1m-1 4h1m-1 4.5h1m-1 6h1m-1 3.5h1m-1 6.5h1m-1 .5h1m-1 1h1m-1 2.5h1m-1 3.5h1m-1 2h1m-1 5h1m-.5-48.5h1m-1 3.5h1m-1 5h1m-1 2h1m-1 5.5h1m-1 13.5h1m-1 3.5h1m-1 4h1m-1 1.5h1m-1 .5h1m-1 2h1m-1 2h1m-1 3.5h1m-1 2h1m-.5-44.5h1m-1 1.5h1m-1 1.5h1m-1 .5h1m-1 1.5h1m-1 11h1m-1 2.5h1m-1 .5h1m-1 .5h1m-1 3.5h1m-1 10.5h1m-1 4.5h1m-1 1h1m-1 2.5h1m-1 1h1m-1 5h1m-.5-54.5h1m-1 2h1m-1 5.5h1m-1 4h1m-1 6.5h1m-1 2.5h1m-1 .5h1m-1 1.5h1m-1 5h1m-1 2.5h1m-1 2h1m-1 5h1m-1 1h1m-1 .5h1m-1 6.5h1m-1 6.5h1m-1 .5h1m-1 1h1m-1 2h1m-.5-49h1m-1 3h1m-1 2h1m-1 2.5h1m-1 3.5h1m-1 1.5h1m-1 1h1m-1 6h1m-1 2h1m-1 3h1m-1 3h1m-1 3.5h1m-1 1h1m-1 2h1m-1 3h1m-1 1h1m-1 10.5h1m-.5-53.5h1m-1 7.5h1m-1 5.5h1m-1 .5h1m-1 2.5h1m-1 1.5h1m-1 2h1m-1 .5h1m-1 4h1m-1 9h1m-1 1h1m-1 .5h1m-1 10.5h1m-1 1h1m-1 2h1m-1 3h1m-.5-51.5h1m-1 2h1m-1 4h1m-1 1.5h1m-1 2.5h1m-1 3.5h1m-1 .5h1m-1 1h1m-1 4h1m-1 2h1m-1 1.5h1m-1 .5h1m-1 2.5h1m-1 .5h1m-1 5.5h1m-1 5h1m-1 1.5h1m-1 3h1m-1 3.5h1m-1 1.5h1m-1 2.5h1m-.5-46.5h1m-1 2h1m-1 .5h1m-1 .5h1m-1 .5h1m-1 2.5h1m-1 1h1m-1 3h1m-1 3.5h1m-1 .5h1m-1 3h1m-1 6.5h1m-1 3.5h1m-1 1.5h1m-1 2h1m-1 2h1m-1 2h1m-1 5.5h1m-1 3h1m-1 1.5h1m-1 7h1m-.5-53.5h1m-1 3.5h1m-1 .5h1m-1 2h1m-1 3.5h1m-1 1h1m-1 4h1m-1 3h1m-1 3h1m-1 8.5h1m-1 .5h1m-1 4.5h1m-1 1h1m-1 2.5h1m-1 2h1m-1 1h1m-1 2.5h1m-1 2.5h1m-1 1.5h1m-1 2.5h1m-1 1h1m-1 .5h1m-1 1.5h1m-1 1h1m-.5-50h1m-1 .5h1m-1 3h1m-1 1.5h1m-1 3h1m-1 2h1m-1 4h1m-1 2h1m-1 3.5h1m-1 1.5h1m-1 1.5h1m-1 .5h1m-1 4.5h1m-1 1.5h1m-1 3.5h1m-1 10h1m-1 3.5h1m-1 2.5h1m-1 .5h1m-1 1.5h1m-.5-56h1m-1 5h1m-1 .5h1m-1 1.5h1m-1 3.5h1m-1 16h1m-1 5.5h1m-1 2.5h1m-1 5.5h1m-1 2h1m-1 2h1m-1 5h1m-.5-46.5h1m-1 4h1m-1 1h1m-1 3.5h1m-1 .5h1m-1 1h1m-1 1.5h1m-1 6.5h1m-1 2.5h1m-1 5h1m-1 4.5h1m-1 15h1m-1 2.5h1m-1 3h1m-1 1.5h1m-1 .5h1m-.5-49.5h1m-1 6h1m-1 1h1m-1 5.5h1m-1 2h1m-1 6h1m-1 3.5h1m-1 1h1m-1 1h1m-1 1h1m-1 1h1m-1 2.5h1m-1 2h1m-1 10.5h1m-1 1h1m-1 .5h1m-1 2h1m-1 2h1m-1 1.5h1m-.5-56h1m-1 3.5h1m-1 1.5h1m-1 .5h1m-1 7.5h1m-1 1h1m-1 2h1m-1 11h1m-1 4h1m-1 3.5h1m-1 1.5h1m-1 2.5h1m-1 4h1m-1 1.5h1m-1 3.5h1m-1 5h1m-.5-53h1m-1 .5h1m-1 1.5h1m-1 2h1m-1 2h1m-1 2h1m-1 5h1m-1 7.5h1m-1 2.5h1m-1 .5h1m-1 4h1m-1 2h1m-1 1.5h1m-1 2.5h1m-1 1.5h1m-1 1.5h1m-1 3.5h1m-1 1h1m-1 2h1m-1 2h1m-1 1h1m-1 3h1m-1 5.5h1m-.5-54h1m-1 2.5h1m-1 .5h1m-1 3h1m-1 3h1m-1 .5h1m-1 1.5h1m-1 9.5h1m-1 4h1m-1 1.5h1m-1 1.5h1m-1 1h1m-1 7.5h1m-1 13.5h1m-1 1h1m-1 2h1m-1 1h1m-1 .5h1m-1 1.5h1m-1 1h1m-.5-52h1m-1 .5h1m-1 3.5h1m-1 2.5h1m-1 2h1m-1 4.5h1m-1 7.5h1m-1 2h1m-1 2.5h1m-1 3h1m-1 5h1m-1 .5h1m-1 2h1m-1 6.5h1m-1 1h1m-1 2.5h1m-1 5h1m-1 .5h1m-1 6h1m-.5-59h1m-1 1.5h1m-1 1h1m-1 .5h1m-1 1.5h1m-1 4h1m-1 5h1m-1 6.5h1m-1 5h1m-1 2h1m-1 3.5h1m-1 8h1m-1 3.5h1m-1 1h1m-1 4.5h1m-1 1h1m-1 4.5h1m-.5-49.5h1m-1 .5h1m-1 5.5h1m-1 3h1m-1 9.5h1m-1 1.5h1m-1 23h1m-.5-48h1m-1 5.5h1m-1 4h1m-1 3h1m-1 1.5h1m-1 9.5h1m-1 1.5h1m-1 .5h1m-1 1.5h1m-1 9h1m-1 2h1m-1 .5h1m-1 3h1m-1 3h1m-1 3h1m-1 5h1m-1 2h1m-1 2h1m-.5-57.5h1m-1 1h1m-1 1h1m-1 .5h1m-1 16.5h1m-1 8.5h1m-1 1.5h1m-1 .5h1m-1 5.5h1m-1 3h1m-1 8.5h1m-1 8.5h1m-1 2.5h1m-1 4.5h1m-.5-57h1m-1 2h1m-1 1.5h1m-1 4.5h1m-1 .5h1m-1 .5h1m-1 1.5h1m-1 3h1m-1 12h1m-1 9.5h1m-1 7h1m-1 1h1m-1 12h1m-1 .5h1m-1 2h1m-.5-53.5h1m-1 1h1m-1 .5h1m-1 1h1m-1 3h1m-1 2h1m-1 1h1m-1 4.5h1m-1 .5h1m-1 9h1m-1 .5h1m-1 9h1m-1 4.5h1m-1 2h1m-1 .5h1m-1 .5h1m-1 6h1m-1 4.5h1m-1 5.5h1m-.5-64h1m-1 1h1m-1 1h1m-1 3.5h1m-1 11h1m-1 1.5h1m-1 3.5h1m-1 .5h1m-1 3.5h1m-1 1.5h1m-1 1.5h1m-1 3.5h1m-1 9.5h1m-1 1.5h1m-1 9h1m-1 8.5h1m-1 1h1m-1 1h1m-1 .5h1m-.5-64h1m-1 3.5h1m-1 1h1m-1 .5h1m-1 1.5h1m-1 .5h1m-1 3h1m-1 1.5h1m-1 2h1m-1 2h1m-1 2.5h1m-1 1.5h1m-1 3.5h1m-1 3.5h1m-1 2h1m-1 4h1m-1 1.5h1m-1 1.5h1m-1 2.5h1m-1 4.5h1m-1 1h1m-1 .5h1m-1 1h1m-1 1.5h1m-1 2h1m-1 8h1m-1 1h1m-1 1h1m-1 2h1m-1 3h1m-1 1.5h1m-.5-62.5h1m-1 8.5h1m-1 6.5h1m-1 2h1m-1 .5h1m-1 .5h1m-1 .5h1m-1 1.5h1m-1 .5h1m-1 7.5h1m-1 1.5h1m-1 3h1m-1 .5h1m-1 3h1m-1 4h1m-1 1.5h1m-1 4h1m-1 2h1m-1 1.5h1m-1 1.5h1m-1 2.5h1m-1 2.5h1m-1 4.5h1m-1 1h1m-1 1.5h1m-1 1.5h1m-.5-67.5h1m-1 10.5h1m-1 9h1m-1 1h1m-1 4h1m-1 2h1m-1 1.5h1m-1 1.5h1m-1 8.5h1m-1 10h1m-1 2h1m-1 3h1m-1 9.5h1m-1 7.5h1m-.5-69.5h1m-1 1.5h1m-1 2.5h1m-1 3h1m-1 2h1m-1 4h1m-1 6.5h1m-1 1.5h1m-1 3.5h1m-1 2.5h1m-1 1.5h1m-1 1h1m-1 7h1m-1 3.5h1m-1 10h1m-1 1h1m-1 .5h1m-1 4.5h1m-1 2.5h1m-1 3.5h1m-1 1h1m-1 2h1m-.5-59h1m-1 3h1m-1 2h1m-1 3h1m-1 .5h1m-1 .5h1m-1 1.5h1m-1 1h1m-1 2.5h1m-1 2h1m-1 .5h1m-1 6h1m-1 .5h1m-1 1h1m-1 2h1m-1 11.5h1m-1 2h1m-1 2h1m-1 .5h1m-1 2.5h1m-1 1h1m-1 .5h1m-1 4h1m-1 1h1m-1 2.5h1m-1 2.5h1m-1 1h1m-1 4.5h1m-.5-63.5h1m-1 2.5h1m-1 .5h1m-1 1.5h1m-1 1h1m-1 .5h1m-1 1h1m-1 3h1m-1 2h1m-1 2h1m-1 11.5h1m-1 10.5h1m-1 3h1m-1 1h1m-1 5.5h1m-1 2.5h1m-1 5h1m-1 .5h1m-1 4h1m-1 1h1m-1 1.5h1m-1 5h1m-.5-67h1m-1 1.5h1m-1 1.5h1m-1 .5h1m-1 .5h1m-1 1h1m-1 1h1m-1 3h1m-1 6h1m-1 1.5h1m-1 8h1m-1 18h1m-1 1h1m-1 1h1m-1 .5h1m-1 .5h1m-1 5.5h1m-1 6.5h1m-1 2.5h1m-1 1h1m-1 5.5h1m-.5-68h1m-1 7.5h1m-1 .5h1m-1 3h1m-1 4.5h1m-1 7.5h1m-1 4h1m-1 1h1m-1 2h1m-1 1.5h1m-1 7h1m-1 12h1m-1 5h1m-1 2h1m-1 2.5h1m-1 2h1m-1 2.5h1m-1 1.5h1m-1 1.5h1m-.5-57.5h1m-1 13.5h1m-1 4.5h1m-1 5h1m-1 2h1m-1 6.5h1m-1 2h1m-1 2.5h1m-1 .5h1m-1 3h1m-1 2.5h1m-1 3.5h1m-1 1h1m-1 4h1m-1 9h1m-1 1h1m-.5-67.5h1m-1 10.5h1m-1 21h1m-1 1h1m-1 4h1m-1 1.5h1m-1 .5h1m-1 4.5h1m-1 .5h1m-1 7h1m-1 2.5h1m-1 5h1m-1 .5h1m-1 .5h1m-1 6h1m-.5-63.5h1m-1 3.5h1m-1 3.5h1m-1 2h1m-1 .5h1m-1 5h1m-1 6.5h1m-1 3h1m-1 1h1m-1 3.5h1m-1 1.5h1m-1 2.5h1m-1 1.5h1m-1 4.5h1m-1 1.5h1m-1 3h1m-1 4.5h1m-1 1h1m-1 4.5h1m-1 .5h1m-1 7h1m-1 .5h1m-1 .5h1m-.5-65.5h1m-1 .5h1m-1 2.5h1m-1 4h1m-1 4.5h1m-1 2h1m-1 1h1m-1 .5h1m-1 13.5h1m-1 1h1m-1 2.5h1m-1 2.5h1m-1 .5h1m-1 .5h1m-1 4h1m-1 1h1m-1 1.5h1m-1 9h1m-1 1h1m-1 3.5h1m-1 2h1m-1 1h1m-1 .5h1m-1 4.5h1m-1 1.5h1m-1 1h1m-1 1h1m-.5-65h1m-1 2h1m-1 5h1m-1 1.5h1m-1 10.5h1m-1 1.5h1m-1 3.5h1m-1 3h1m-1 13.5h1m-1 2.5h1m-1 4.5h1m-1 3.5h1m-1 4.5h1m-1 2h1m-1 3h1m-1 1h1m-1 2h1m-1 .5h1m-1 3h1m-1 1.5h1m-1 2h1m-.5-73h1m-1 1h1m-1 3.5h1m-1 1h1m-1 2h1m-1 1.5h1m-1 1.5h1m-1 7.5h1m-1 5.5h1m-1 14h1m-1 1h1m-1 1h1m-1 3.5h1m-1 9h1m-1 10h1m-1 2h1m-1 1.5h1m-.5-64.5h1m-1 6.5h1m-1 1.5h1m-1 1h1m-1 2.5h1m-1 4h1m-1 3h1m-1 2h1m-1 4h1m-1 3h1m-1 6.5h1m-1 1.5h1m-1 3h1m-1 4h1m-1 3.5h1m-1 6.5h1m-1 5h1m-1 1h1m-1 .5h1m-1 10h1m-1 2.5h1m-.5-71.5h1m-1 .5h1m-1 4.5h1m-1 4h1m-1 1.5h1m-1 .5h1m-1 6.5h1m-1 16.5h1m-1 1h1m-1 3h1m-1 .5h1m-1 4h1m-1 4.5h1m-1 3.5h1m-1 2h1m-1 2.5h1m-1 2h1m-1 1.5h1m-1 3.5h1m-1 2h1m-1 4.5h1m-.5-68.5h1m-1 3h1m-1 1.5h1m-1 5.5h1m-1 2h1m-1 2.5h1m-1 2.5h1m-1 .5h1m-1 2.5h1m-1 3.5h1m-1 2.5h1m-1 1.5h1m-1 2h1m-1 .5h1m-1 2.5h1m-1 .5h1m-1 1h1m-1 .5h1m-1 4h1m-1 .5h1m-1 2h1m-1 1h1m-1 2h1m-1 .5h1m-1 2.5h1m-1 1h1m-1 4h1m-1 4.5h1m-1 2h1m-1 8.5h1m-.5-56h1m-1 .5h1m-1 4h1m-1 1h1m-1 1.5h1m-1 1.5h1m-1 3.5h1m-1 3.5h1m-1 2h1m-1 2h1m-1 1h1m-1 1h1m-1 1.5h1m-1 1.5h1m-1 1h1m-1 .5h1m-1 .5h1m-1 .5h1m-1 1h1m-1 1h1m-1 5.5h1m-1 3h1m-1 1h1m-1 5.5h1m-1 2h1m-1 2.5h1m-1 2.5h1m-1 3h1m-1 3h1m-.5-70.5h1m-1 6h1m-1 4.5h1m-1 5h1m-1 1h1m-1 .5h1m-1 4.5h1m-1 .5h1m-1 6.5h1m-1 3.5h1m-1 5.5h1m-1 .5h1m-1 3h1m-1 4.5h1m-1 1h1m-1 10h1m-1 3h1m-1 .5h1m-1 1h1m-1 7h1m-1 4.5h1m-1 2.5h1m-.5-72.5h1m-1 2.5h1m-1 3h1m-1 2h1m-1 3h1m-1 1.5h1m-1 4h1m-1 .5h1m-1 6.5h1m-1 6.5h1m-1 1.5h1m-1 3.5h1m-1 .5h1m-1 1h1m-1 2h1m-1 .5h1m-1 3h1m-1 7.5h1m-1 16h1m-1 1h1m-1 1h1m-1 .5h1m-1 1.5h1m-1 1.5h1m-1 3.5h1m-.5-73.5h1m-1 3.5h1m-1 .5h1m-1 .5h1m-1 4.5h1m-1 1.5h1m-1 1h1m-1 3h1m-1 .5h1m-1 2.5h1m-1 1.5h1m-1 1h1m-1 2h1m-1 4.5h1m-1 6.5h1m-1 .5h1m-1 2.5h1m-1 4h1m-1 1h1m-1 2.5h1m-1 8h1m-1 .5h1m-1 4h1m-1 1.5h1m-1 .5h1m-1 4.5h1m-1 12.5h1m-.5-61h1m-1 4h1m-1 .5h1m-1 2h1m-1 8.5h1m-1 .5h1m-1 1.5h1m-1 4h1m-1 3h1m-1 3.5h1m-1 4.5h1m-1 2.5h1m-1 8h1m-1 1h1m-1 1h1m-1 1.5h1m-1 6h1m-1 2.5h1m-1 2.5h1m-.5-71.5h1m-1 6.5h1m-1 2.5h1m-1 12h1m-1 9h1m-1 3.5h1m-1 2.5h1m-1 1.5h1m-1 2h1m-1 2.5h1m-1 .5h1m-1 3.5h1m-1 3h1m-1 1.5h1m-1 .5h1m-1 1.5h1m-1 2.5h1m-1 1.5h1m-1 3.5h1m-1 1.5h1m-1 4h1m-.5-65.5h1m-1 1h1m-1 3.5h1m-1 2h1m-1 3.5h1m-1 4.5h1m-1 1h1m-1 3.5h1m-1 .5h1m-1 7.5h1m-1 5h1m-1 .5h1m-1 5h1m-1 .5h1m-1 7h1m-1 2h1m-1 .5h1m-1 1h1m-1 4.5h1m-1 4h1m-1 .5h1m-1 1h1m-1 1h1m-1 1h1m-1 1.5h1m-1 5.5h1m-1 .5h1m-1 .5h1m-1 7.5h1m-1 1h1m-.5-77h1m-1 6.5h1m-1 1h1m-1 1.5h1m-1 2.5h1m-1 6.5h1m-1 1h1m-1 9.5h1m-1 .5h1m-1 5h1m-1 .5h1m-1 2.5h1m-1 8h1m-1 8h1m-1 2.5h1m-1 7h1m-1 1h1m-1 .5h1m-1 .5h1m-1 2h1m-1 2.5h1m-.5-65h1m-1 7h1m-1 .5h1m-1 4.5h1m-1 2h1m-1 4h1m-1 .5h1m-1 1h1m-1 .5h1m-1 3h1m-1 7.5h1m-1 1h1m-1 6.5h1m-1 2.5h1m-1 15h1m-1 1h1m-1 .5h1m-1 3.5h1m-1 1h1m-1 7.5h1m-1 1h1m-.5-70h1m-1 1.5h1m-1 2h1m-1 8h1m-1 2h1m-1 3h1m-1 1h1m-1 1h1m-1 3h1m-1 9h1m-1 1h1m-1 10h1m-1 4h1m-1 3.5h1m-1 3.5h1m-1 4h1m-1 1h1m-1 5h1m-1 5h1m-1 5.5h1m-.5-74h1m-1 .5h1m-1 7h1m-1 7.5h1m-1 1h1m-1 2h1m-1 4h1m-1 .5h1m-1 .5h1m-1 3.5h1m-1 4.5h1m-1 5h1m-1 1h1m-1 13.5h1m-1 5h1m-1 2h1m-1 3h1m-1 4.5h1m-1 2h1m-1 .5h1m-1 1h1m-1 3.5h1m-.5-64h1m-1 1h1m-1 3h1m-1 14h1m-1 1.5h1m-1 8.5h1m-1 3h1m-1 .5h1m-1 2.5h1m-1 8.5h1m-1 1.5h1m-1 4.5h1m-1 3.5h1m-1 5h1m-1 1h1m-1 1h1m-1 4.5h1m-1 .5h1m-1 2.5h1m-.5-61h1m-1 4h1m-1 .5h1m-1 4.5h1m-1 .5h1m-1 3.5h1m-1 4.5h1m-1 4h1m-1 1.5h1m-1 1.5h1m-1 11.5h1m-1 2h1m-1 2h1m-1 2.5h1m-1 1h1m-1 1.5h1m-1 5h1m-1 2h1m-1 1.5h1m-1 1h1m-1 1.5h1m-.5-68.5h1m-1 1.5h1m-1 5h1m-1 3h1m-1 2h1m-1 .5h1m-1 1.5h1m-1 4h1m-1 1.5h1m-1 2h1m-1 .5h1m-1 .5h1m-1 1h1m-1 2h1m-1 4.5h1m-1 1.5h1m-1 6.5h1m-1 3.5h1m-1 4.5h1m-1 .5h1m-1 4.5h1m-1 6.5h1m-1 1.5h1m-1 1.5h1m-1 1.5h1m-1 4.5h1m-1 1h1m-1 2h1m-.5-70h1m-1 1h1m-1 .5h1m-1 5h1m-1 1h1m-1 .5h1m-1 1.5h1m-1 3h1m-1 .5h1m-1 2.5h1m-1 3h1m-1 2h1m-1 4h1m-1 4.5h1m-1 1h1m-1 3h1m-1 7h1m-1 7h1m-1 .5h1m-1 1.5h1m-1 8.5h1m-1 6.5h1m-1 6.5h1m-.5-69.5h1m-1 2h1m-1 3h1m-1 .5h1m-1 2h1m-1 .5h1m-1 3.5h1m-1 4.5h1m-1 1.5h1m-1 4h1m-1 .5h1m-1 2h1m-1 8h1m-1 1h1m-1 .5h1m-1 3h1m-1 2h1m-1 .5h1m-1 2.5h1m-1 .5h1m-1 1.5h1m-1 4.5h1m-1 1h1m-1 3h1m-1 2h1m-1 2.5h1m-1 3.5h1m-1 5h1m-1 .5h1m-1 2h1m-1 2.5h1m-.5-69.5h1m-1 11.5h1m-1 2.5h1m-1 .5h1m-1 8h1m-1 3h1m-1 1.5h1m-1 6h1m-1 2h1m-1 .5h1m-1 1.5h1m-1 5.5h1m-1 4h1m-1 5h1m-1 9h1m-1 2h1m-.5-58h1m-1 2h1m-1 1.5h1m-1 6h1m-1 5.5h1m-1 .5h1m-1 1h1m-1 .5h1m-1 3.5h1m-1 1.5h1m-1 7h1m-1 3h1m-1 2h1m-1 4h1m-1 2.5h1m-1 10h1m-1 2.5h1m-1 7h1m-1 3.5h1m-.5-68h1m-1 1h1m-1 3h1m-1 4.5h1m-1 1h1m-1 1h1m-1 2.5h1m-1 5h1m-1 5h1m-1 8h1m-1 3.5h1m-1 6.5h1m-1 .5h1m-1 16h1m-1 .5h1m-1 3.5h1m-1 3.5h1m-1 4h1m-.5-64h1m-1 1h1m-1 12h1m-1 5.5h1m-1 .5h1m-1 .5h1m-1 6h1m-1 2h1m-1 2.5h1m-1 .5h1m-1 4.5h1m-1 5.5h1m-1 3h1m-1 11h1m-1 3h1m-1 2h1m-1 1.5h1m-1 2.5h1m-.5-54.5h1m-1 3.5h1m-1 2.5h1m-1 4h1m-1 .5h1m-1 .5h1m-1 4h1m-1 4h1m-1 3.5h1m-1 1h1m-1 2h1m-1 1h1m-1 .5h1m-1 5h1m-1 6.5h1m-1 2h1m-1 6.5h1m-1 2.5h1m-1 3.5h1m-.5-62h1m-1 4.5h1m-1 2h1m-1 1h1m-1 .5h1m-1 2h1m-1 11.5h1m-1 9.5h1m-1 .5h1m-1 1.5h1m-1 9h1m-1 11.5h1m-1 6.5h1m-.5-78h1m-1 18.5h1m-1 1h1m-1 11h1m-1 2h1m-1 .5h1m-1 3.5h1m-1 .5h1m-1 .5h1m-1 7h1m-1 5h1m-1 3.5h1m-1 .5h1m-1 .5h1m-1 3h1m-1 9.5h1m-1 .5h1m-1 .5h1m-1 2.5h1m-1 1h1m-1 1h1m-1 1h1m-1 3h1m-1 3.5h1m-.5-62.5h1m-1 2.5h1m-1 2.5h1m-1 6.5h1m-1 1.5h1m-1 2h1m-1 4.5h1m-1 .5h1m-1 1h1m-1 4.5h1m-1 6h1m-1 4h1m-1 2.5h1m-1 1.5h1m-1 4.5h1m-1 3h1m-1 .5h1m-1 2.5h1m-1 1.5h1m-1 1.5h1m-1 2h1m-1 3.5h1m-.5-54h1m-1 9h1m-1 .5h1m-1 2.5h1m-1 .5h1m-1 2h1m-1 1.5h1m-1 3h1m-1 6.5h1m-1 .5h1m-1 1.5h1m-1 2.5h1m-1 .5h1m-1 2.5h1m-1 3.5h1m-1 1h1m-1 10h1m-1 6h1m-1 1.5h1m-1 .5h1m-.5-75.5h1m-1 1h1m-1 7.5h1m-1 12h1m-1 .5h1m-1 4.5h1m-1 3.5h1m-1 .5h1m-1 5h1m-1 4.5h1m-1 1.5h1m-1 2h1m-1 1.5h1m-1 .5h1m-1 6h1m-1 7.5h1m-1 5.5h1m-1 1h1m-1 1h1m-1 .5h1m-1 5h1m-1 1.5h1m-.5-76.5h1m-1 2h1m-1 1h1m-1 1h1m-1 6h1m-1 19h1m-1 1h1m-1 1.5h1m-1 1.5h1m-1 1.5h1m-1 6.5h1m-1 1h1m-1 4.5h1m-1 .5h1m-1 3h1m-1 3h1m-1 2h1m-1 1h1m-1 2.5h1m-1 2.5h1m-1 1h1m-1 12.5h1m-1 4h1m-.5-74h1m-1 2h1m-1 24h1m-1 1.5h1m-1 1h1m-1 .5h1m-1 5h1m-1 1.5h1m-1 4h1m-1 1h1m-1 1h1m-1 .5h1m-1 .5h1m-1 1h1m-1 1h1m-1 4h1m-1 1h1m-1 1.5h1m-1 2.5h1m-1 18.5h1m-1 3h1m-.5-82h1m-1 4h1m-1 1h1m-1 4h1m-1 4.5h1m-1 19h1m-1 1.5h1m-1 13h1m-1 2h1m-1 2.5h1m-1 2.5h1m-1 12h1m-1 2h1m-1 3h1m-1 5.5h1m-.5-76h1m-1 10h1m-1 20.5h1m-1 1.5h1m-1 2h1m-1 2h1m-1 2.5h1m-1 1h1m-1 7h1m-1 1.5h1m-1 2h1m-1 1h1m-1 .5h1m-1 3.5h1m-1 .5h1m-1 4.5h1m-1 2.5h1m-1 10.5h1m-.5-69h1m-1 4.5h1m-1 1.5h1m-1 21.5h1m-1 2.5h1m-1 3.5h1m-1 2.5h1m-1 1.5h1m-1 1.5h1m-1 1.5h1m-1 1.5h1m-1 2.5h1m-1 3.5h1m-1 1h1m-1 5.5h1m-1 3h1m-1 1h1m-1 4.5h1m-1 .5h1m-1 2.5h1m-1 1.5h1m-1 1.5h1m-1 1h1m-1 2.5h1m-.5-73h1m-1 2h1m-1 3h1m-1 2h1m-1 3h1m-1 16.5h1m-1 1.5h1m-1 10h1m-1 3.5h1m-1 6h1m-1 1h1m-1 2h1m-1 .5h1m-1 1h1m-1 1.5h1m-1 9h1m-1 2.5h1m-1 4h1m-1 .5h1m-1 5.5h1m-.5-78h1m-1 5.5h1m-1 6.5h1m-1 25.5h1m-1 1.5h1m-1 6.5h1m-1 2h1m-1 3.5h1m-1 1h1m-1 2h1m-1 11h1m-1 5.5h1m-1 .5h1m-1 .5h1m-1 3.5h1m-.5-74.5h1m-1 .5h1m-1 4.5h1m-1 1.5h1m-1 2h1m-1 29.5h1m-1 3h1m-1 3h1m-1 1.5h1m-1 11.5h1m-1 .5h1m-1 2h1m-1 .5h1m-1 1h1m-1 2h1m-1 10h1m-1 5.5h1m-.5-80.5h1m-1 1.5h1m-1 2h1m-1 1.5h1m-1 .5h1m-1 9.5h1m-1 3h1m-1 25h1m-1 1h1m-1 10.5h1m-1 1h1m-1 .5h1m-1 5h1m-1 5h1m-1 3h1m-1 3.5h1m-1 2.5h1m-1 .5h1m-.5-69.5h1m-1 1h1m-1 3h1m-1 6h1m-1 17h1m-1 12h1m-1 3h1m-1 1.5h1m-1 1h1m-1 1h1m-1 3h1m-1 4h1m-1 1.5h1m-.5-55.5h1m-1 .5h1m-1 8.5h1m-1 4h1m-1 1h1m-1 10h1m-1 14.5h1m-1 12h1m-1 1.5h1m-1 1h1m-1 1.5h1m-1 3h1m-1 1.5h1m-1 .5h1m-1 1.5h1m-1 .5h1m-1 3.5h1m-1 .5h1m-1 1.5h1m-1 1h1m-1 .5h1m-.5-74h1m-1 7h1m-1 1h1m-1 10.5h1m-1 1.5h1m-1 22h1m-1 1h1m-1 3.5h1m-1 3.5h1m-1 1.5h1m-1 .5h1m-1 5.5h1m-1 6h1m-.5-59h1m-1 3h1m-1 4.5h1m-1 1.5h1m-1 2h1m-1 .5h1m-1 26h1m-1 4h1m-1 1.5h1m-1 4h1m-1 7h1m-1 3.5h1m-1 1.5h1m-1 1h1m-1 2.5h1m-1 1h1m-1 1.5h1m-.5-62h1m-1 4.5h1m-1 6.5h1m-1 37h1m-1 2.5h1m-1 2h1m-1 .5h1m-1 .5h1m-1 1h1m-1 1.5h1m-1 1h1m-1 5h1m-1 1h1m-1 1h1m-.5-70.5h1m-1 1.5h1m-1 3.5h1m-1 1.5h1m-1 2.5h1m-1 3.5h1m-1 5.5h1m-1 13.5h1m-1 2h1m-1 3h1m-1 9h1m-1 4.5h1m-1 4.5h1m-.5-53h1m-1 4h1m-1 1.5h1m-1 .5h1m-1 2h1m-1 1h1m-1 1h1m-1 4h1m-1 .5h1m-1 2h1m-1 .5h1m-1 30h1m-1 .5h1m-1 8.5h1m-1 4.5h1m-1 1h1m-1 .5h1m-.5-62h1m-1 2h1m-1 2.5h1m-1 1.5h1m-1 1.5h1m-1 41h1m-1 2.5h1m-1 2h1m-1 1h1m-1 8.5h1m-1 1.5h1m-.5-67h1m-1 2h1m-1 1.5h1m-1 11.5h1m-1 .5h1m-1 1.5h1m-1 6.5h1m-1 29.5h1m-1 1h1m-1 4.5h1m-1 1.5h1m-1 .5h1m-1 1h1m-1 2h1m-1 1.5h1m-.5-55.5h1m-1 .5h1m-1 1.5h1m-1 5h1m-1 .5h1m-1 2h1m-1 2h1m-1 2.5h1m-1 13.5h1m-1 15h1m-1 .5h1m-1 .5h1m-1 5h1m-1 7.5h1m-1 2h1m-1 .5h1m-.5-67h1m-1 1.5h1m-1 1.5h1m-1 1h1m-1 2h1m-1 1h1m-1 1.5h1m-1 6h1m-1 .5h1m-1 1.5h1m-1 10.5h1m-1 20h1m-1 4h1m-1 2.5h1m-1 1h1m-1 1h1m-.5-47h1m-1 4h1m-1 1.5h1m-1 1.5h1m-1 2.5h1m-1 13h1m-1 21.5h1m-1 .5h1m-.5-52h1m-1 1h1m-1 .5h1m-1 1h1m-1 2h1m-1 8h1m-1 11.5h1m-1 11.5h1m-1 15.5h1m-.5-52h1m-1 1h1m-1 2h1m-1 1h1m-1 2h1m-1 2.5h1m-1 3.5h1m-1 43.5h1m-1 4h1m-.5-62.5h1m-1 10h1m-1 .5h1m-1 .5h1m-1 2h1m-1 1h1m-1 2.5h1m-1 3.5h1m-1 5h1m-1 15h1m-.5-37h1m-1 2.5h1m-1 1.5h1m-1 3h1m-1 2h1m-1 3.5h1m-1 1h1m-1 2h1m-1 2.5h1m-1 5h1m-1 27h1m-1 35h1m-.5-88h1m-1 2h1m-1 2h1m-1 5h1m-1 .5h1m-1 .5h1m-1 1h1m-1 2.5h1m-1 .5h1m-1 2h1m-1 10h1m-1 2.5h1m-1 13.5h1m-.5-36h1m-1 7h1m-1 3h1m-1 3.5h1m-1 3.5h1m-1 2.5h1m-1 1h1m-1 1.5h1m-1 3.5h1m-1 55.5h1m-.5-77h1m-1 1h1m-1 11.5h1m-1 .5h1m-1 .5h1m-1 2h1m-1 .5h1m-1 3h1m-1 .5h1m-.5-25.5h1m-1 1.5h1m-1 5h1m-1 2h1m-1 4.5h1m-1 4.5h1m-1 21h1m-1 36h1m-.5-73h1m-1 .5h1m-1 .5h1m-1 .5h1m-1 3h1m-1 15h1m-1 14h1m-1 54h1m-.5-91.5h1m-1 2.5h1m-1 3.5h1m-1 1h1m-1 12.5h1m-1 3h1m-1 50h1m-.5-73h1m-1 3.5h1m-1 1h1m-1 3h1m-1 .5h1m-1 1.5h1m-1 .5h1m-1 11h1m-1 1h1m-1 8h1m-1 2.5h1m-.5-27h1m-1 .5h1m-1 15.5h1m-1 6h1m-1 4.5h1m-.5-19h1m-1 5.5h1m-1 1h1m-1 2.5h1m-1 1h1m-1 20.5h1m-1 42h1m-.5-80.5h1m-1 5h1m-1 .5h1m-1 3.5h1m-1 9.5h1m-.5-24.5h1m-1 3.5h1m-1 3h1m-1 6.5h1m-1 1h1m-1 1.5h1m-1 1h1m-1 .5h1m-1 1.5h1m-.5-12.5h1m-1 1h1m-1 1.5h1m-1 1.5h1m-1 1h1m-1 5h1m-1 1.5h1m-1 5h1m-1 7.5h1m-.5-27h1m-1 6.5h1m-1 1.5h1m-1 1h1m-1 7.5h1m-1 1h1m-1 .5h1m-1 1h1m-1 2.5h1m-1 11h1m-1 43h1m-.5-64.5h1m-1 .5h1m-1 7h1m-1 3h1m-.5-14h1m-1 .5h1m-1 4.5h1m-1 3h1m-1 1.5h1m-1 7h1m-1 5.5h1m-1 10h1m-.5-35.5h1m-1 7h1m-1 3h1m-1 1.5h1m-1 2.5h1m-1 .5h1m-1 2.5h1m-1 5.5h1m-.5-22h1m-1 9.5h1m-1 1h1m-1 23.5h1m-1 .5h1m-1 60.5h1m-.5-97h1m-1 2h1m-1 9.5h1m-1 .5h1m-1 .5h1m-1 13.5h1m-1 6.5h1m-1 7h1m-.5-37h1m-1 .5h1m-1 26.5h1m-.5-26h1m-1 .5h1m-1 2.5h1m-1 1.5h1m-1 .5h1m-1 .5h1m-1 3.5h1m-1 12h1m-1 9.5h1m-1 75.5h1m-.5-103.5h1m-1 8h1m-.5 83.5h1m0-92h1m0 97.5h1m-.5 6.5h1m-.5-10.5h1m-1 1.5h1m0-1.5h1m-1 23h1m-.5 0h1m-.5-21.5h1m.5-2h1m-1 11h1m-.5-.5h1m-1 11.5h1m-.5-2h1m-.5-29.5h1m-.5 11h1m-.5-7.5h1m-1 32h1m2.5-37.5h1m-.5 4.5h1m-1 1.5h1m1 8h1m.5-5.5h1m.5-8.5h1" stroke="#0c0cff" stroke-width="1.0" fill="none"/><path d="M81 452.5h1m-.5 5h1m.5-2.5h1m-1 1.5h1m-.5-3.5h1m1 3h1m-1 4h1m0-16h1m-1 6h1m0 .5h1m-1 9h1m-.5-7h1m-1 9.5h1m-.5-5.5h1m-.5-12.5h1m-1 6.5h1m-1 2h1m-1 .5h1m-.5-3h1m-1 .5h1m-1 10.5h1m-1 .5h1m-.5-2h1m-.5-15h1m-1 12.5h1m-.5-15h1m-.5 8h1m-1 7.5h1m-.5-14h1m-1 11.5h1m-1 4h1m-1 9h1m-.5-6h1m-1 1h1m-1 17h1m-1 26.5h1m-.5-64.5h1m-1 20.5h1m-1 5.5h1m-1 7.5h1m-.5 2h1m-.5-9h1m-1 7h1m-1 32h1m-.5-53h1m-1 8h1m-1 13h1m-1 2h1m-1 3h1m-1 26.5h1m-.5-57.5h1m-1 10h1m-1 7.5h1m-1 4h1m-1 5.5h1m-.5-25h1m-1 8.5h1m-1 18.5h1m-1 24.5h1m-1 .5h1m-1 4.5h1m-1 1.5h1m-.5-66h1m-1 28h1m-.5-23.5h1m-1 31h1m-1 24h1m-1 4h1m-.5-42.5h1m-1 16.5h1m-1 20h1m-1 2.5h1m-.5-30.5h1m-1 19.5h1m-1 9.5h1m-1 4.5h1m-.5-40h1m-1 20.5h1m-1 4h1m-1 8.5h1m-1 2.5h1m-.5-36.5h1m-1 20.5h1m-1 2h1m-1 1h1m-1 16.5h1m-1 3h1m-1 2.5h1m-.5-16.5h1m-1 9h1m-1 1h1m-1 1.5h1m-.5-31h1m-1 2.5h1m-1 28.5h1m-1 .5h1m-1 2h1m-1 3.5h1m-1 4h1m-.5-46h1m-1 11h1m-1 8.5h1m-1 3.5h1m-.5-31h1m-1 40h1m-1 .5h1m-1 4.5h1m-1 8.5h1m-.5-45h1m-1 2.5h1m-1 7h1m-1 16h1m-1 1.5h1m-.5-33h1m-1 3h1m-1 7h1m-1 3h1m-1 .5h1m-.5-22h1m-1 9h1m-1 27h1m-1 2h1m-1 12.5h1m-1 1h1m-1 6.5h1m-.5-31h1m-1 15h1m-1 12.5h1m-.5-12h1m-1 1.5h1m-1 1.5h1m-1 3.5h1m-1 .5h1m-.5-24h1m-1 5h1m-1 17.5h1m-1 .5h1m-1 1h1m-1 4.5h1m-1 6h1m-1 1h1m-.5-37h1m-1 5h1m-1 10h1m-1 3h1m-.5-33.5h1m-1 2.5h1m-1 29h1m-1 7h1m-1 1h1m-1 10h1m-1 .5h1m-.5-42.5h1m-1 .5h1m-1 26.5h1m-1 14h1m-.5-21h1m-1 8h1m-1 8h1m-1 9.5h1m-.5-48h1m-1 7h1m-1 5.5h1m-1 23h1m-1 12h1m-.5-43h1m-1 2h1m-1 23.5h1m-1 1.5h1m-1 2.5h1m-1 9.5h1m-.5-42.5h1m-1 21h1m-1 1h1m-1 1.5h1m-1 8.5h1m-.5-24.5h1m-1 .5h1m-1 29h1m-1 4.5h1m-.5-51.5h1m-1 19.5h1m-1 8h1m-1 21h1m-1 2h1m-1 3.5h1m-.5-39h1m-1 13h1m-1 6h1m-1 10h1m-1 3h1m-.5-91h1m-1 68h1m-1 14h1m-1 1.5h1m-1 3h1m-1 7h1m-1 5.5h1m-.5-48h1m-1 5.5h1m-1 4h1m-1 2.5h1m-1 9h1m-1 3.5h1m-1 17h1m-1 2.5h1m-.5-95.5h1m-1 48h1m-1 8.5h1m-1 14.5h1m-1 9.5h1m-1 8h1m-1 4.5h1m-1 3h1m-1 .5h1m-1 1h1m-.5-50.5h1m-1 .5h1m-1 10.5h1m-1 2h1m-1 14h1m-1 1h1m-1 .5h1m-1 15.5h1m-1 3h1m-1 1h1m-.5-45h1m-1 1h1m-1 2.5h1m-1 15.5h1m-1 5h1m-1 9.5h1m-1 9h1m-1 2h1m-1 1h1m-.5-48.5h1m-1 1.5h1m-1 5h1m-1 41.5h1m-.5-95h1m-1 60.5h1m-1 9.5h1m-1 19h1m-1 1h1m-1 1.5h1m-1 4.5h1m-1 1.5h1m-1 1h1m-.5-32h1m-1 30.5h1m-.5-96.5h1m-1 69h1m-1 17.5h1m-1 2h1m-1 1h1m-1 5h1m-1 1.5h1m-.5-40.5h1m-1 30h1m-1 6h1m-1 .5h1m-.5-84.5h1m-1 2.5h1m-1 43.5h1m-1 7h1m-1 37.5h1m-1 1h1m-.5-96h1m-1 86h1m-1 .5h1m-1 4.5h1m-.5-99.5h1m-1 3h1m-1 13.5h1m-1 78.5h1m-1 2.5h1m-1 .5h1m-1 4h1m-.5-91.5h1m-1 88.5h1m-1 .5h1m-.5-96.5h1m-1 1h1m-1 1h1m-1 3h1m-1 5.5h1m-1 4h1m-1 43h1m-1 39.5h1m-.5-96h1m-1 7h1m-1 84.5h1m-1 4.5h1m-.5-95h1m-1 1h1m-1 .5h1m-1 89h1m-.5-88.5h1m-1 5.5h1m-.5-6h1m-1 .5h1m-1 4.5h1m-1 85.5h1m-.5-93.5h1m-1 7h1m-1 43.5h1m-1 47h1m-.5-94.5h1m-1 49.5h1m-.5-51.5h1m-1 48h1m-1 1h1m-.5-49.5h1m-.5 5.5h1m-.5-1h1m-1 1.5h1m-1 8.5h1m2-8h1m.5 3.5h1m2-2.5h1m-1 4h1m-1 4.5h1m-1 2h1m-.5-15.5h1m.5 1h1m-1 18.5h1m-.5 13h1m-.5-18.5h1m-1 15h1m-.5-15.5h1m-1 20.5h1m-1 4.5h1m-.5 .5h1m-.5-27.5h1m-.5-5.5h1m-1 4h1m-.5-9.5h1m-1 4.5h1m-1 7.5h1m-1 6.5h1m-1 3.5h1m-1 11h1m-1 1.5h1m-.5-36.5h1m-1 36.5h1m-1 4h1m-.5-38.5h1m-1 2h1m-1 1.5h1m-1 2h1m-1 11h1m-1 24h1m-.5-43.5h1m-1 5h1m-1 4h1m-1 10.5h1m-1 19h1m-.5-34h1m-1 4h1m-1 3.5h1m-1 1h1m-1 1h1m-1 2.5h1m-1 3.5h1m-1 3.5h1m-1 13.5h1m-.5-30.5h1m-1 2h1m-1 6h1m-1 2h1m-1 2h1m-1 1.5h1m-1 1h1m-1 2h1m-.5-19.5h1m-1 2h1m-1 1.5h1m-1 1.5h1m-1 .5h1m-1 6h1m-1 .5h1m-1 4h1m-1 4.5h1m-.5-21h1m-1 2.5h1m-1 2h1m-1 10h1m-1 10h1m-1 6h1m-1 9h1m-.5-40.5h1m-1 3h1m-1 1h1m-1 1.5h1m-1 1h1m-1 3h1m-1 1.5h1m-1 1h1m-1 2h1m-1 1.5h1m-1 5h1m-1 18h1m-.5-34.5h1m-1 4h1m-1 3.5h1m-1 2.5h1m-1 .5h1m-1 3.5h1m-1 16.5h1m-.5-34h1m-1 2.5h1m-1 4h1m-1 1.5h1m-1 .5h1m-1 3h1m-1 3h1m-1 6.5h1m-1 3h1m-1 .5h1m-1 2.5h1m-1 1.5h1m-.5-32h1m-1 5h1m-1 1h1m-1 12.5h1m-1 .5h1m-1 3h1m-1 1.5h1m-1 .5h1m-1 2.5h1m-1 4h1m-1 1h1m-1 3h1m-1 2h1m-1 .5h1m-.5-39h1m-1 7.5h1m-1 2h1m-1 .5h1m-1 5h1m-1 6h1m-1 1.5h1m-1 1h1m-1 7h1m-1 2.5h1m-1 1.5h1m-1 4h1m-.5-34.5h1m-1 2.5h1m-1 4h1m-1 3.5h1m-1 1.5h1m-1 .5h1m-1 5h1m-1 2.5h1m-1 9.5h1m-1 1h1m-1 6.5h1m-1 1.5h1m-.5-33.5h1m-1 2h1m-1 14h1m-1 1.5h1m-1 2.5h1m-1 5.5h1m-1 3h1m-1 .5h1m-1 1h1m-1 3.5h1m-1 5h1m-.5-44h1m-1 1.5h1m-1 5h1m-1 3.5h1m-1 2.5h1m-1 5h1m-1 2.5h1m-1 2h1m-1 3h1m-1 7h1m-1 8.5h1m-.5-42.5h1m-1 3h1m-1 11.5h1m-1 1h1m-1 .5h1m-1 4.5h1m-1 3.5h1m-1 4.5h1m-1 1h1m-1 5.5h1m-1 5.5h1m-.5-41h1m-1 1h1m-1 1h1m-1 2.5h1m-1 6h1m-1 9.5h1m-1 1.5h1m-1 4h1m-1 2.5h1m-1 7h1m-1 2.5h1m-1 1h1m-1 1h1m-1 1h1m-1 3.5h1m-.5-46h1m-1 2h1m-1 2h1m-1 1h1m-1 5h1m-1 3h1m-1 2h1m-1 3h1m-1 2h1m-1 1.5h1m-1 .5h1m-1 9h1m-1 .5h1m-1 4h1m-1 1h1m-1 5.5h1m-1 1h1m-1 2h1m-1 .5h1m-.5-46.5h1m-1 1h1m-1 9.5h1m-1 3h1m-1 1.5h1m-1 .5h1m-1 1h1m-1 .5h1m-1 1.5h1m-1 .5h1m-1 1h1m-1 1h1m-1 1.5h1m-1 8.5h1m-1 .5h1m-1 6h1m-1 1.5h1m-.5-40.5h1m-1 4h1m-1 1h1m-1 1h1m-1 1h1m-1 4.5h1m-1 1h1m-1 .5h1m-1 1.5h1m-1 3h1m-1 11h1m-1 4.5h1m-1 3h1m-1 1h1m-1 2h1m-1 4h1m-1 2.5h1m-1 1.5h1m-.5-47h1m-1 .5h1m-1 2.5h1m-1 4h1m-1 4h1m-1 1.5h1m-1 4h1m-1 2.5h1m-1 1.5h1m-1 1.5h1m-1 1h1m-1 .5h1m-1 2h1m-1 1h1m-1 10h1m-1 .5h1m-1 4h1m-1 3h1m-1 3.5h1m-1 2h1m-1 7h1m-.5-70h1m-1 13.5h1m-1 1.5h1m-1 3.5h1m-1 .5h1m-1 5h1m-1 .5h1m-1 5h1m-1 3.5h1m-1 6h1m-1 6h1m-1 .5h1m-1 4.5h1m-1 1h1m-1 2.5h1m-1 1.5h1m-1 4.5h1m-1 3.5h1m-1 7.5h1m-.5-77h1m-1 18.5h1m-1 3h1m-1 2.5h1m-1 .5h1m-1 1.5h1m-1 5.5h1m-1 4h1m-1 2h1m-1 .5h1m-1 6h1m-1 6.5h1m-1 3h1m-1 .5h1m-1 6h1m-1 5.5h1m-1 8h1m-.5-70.5h1m-1 8h1m-1 5.5h1m-1 1.5h1m-1 .5h1m-1 .5h1m-1 1h1m-1 14h1m-1 1h1m-1 6h1m-1 1.5h1m-1 2h1m-1 .5h1m-1 .5h1m-1 4.5h1m-1 11.5h1m-1 .5h1m-1 1.5h1m-1 .5h1m-1 1h1m-1 5h1m-1 2h1m-1 .5h1m-1 .5h1m-.5-71h1m-1 2h1m-1 3h1m-1 7.5h1m-1 1h1m-1 3h1m-1 2h1m-1 1h1m-1 1.5h1m-1 2.5h1m-1 5h1m-1 6.5h1m-1 .5h1m-1 2h1m-1 4h1m-1 1h1m-1 2h1m-1 .5h1m-1 .5h1m-1 9h1m-1 16.5h1m-1 3h1m-.5-81.5h1m-1 2.5h1m-1 18.5h1m-1 1.5h1m-1 7h1m-1 .5h1m-1 .5h1m-1 1h1m-1 7h1m-1 5.5h1m-1 .5h1m-1 1h1m-1 2h1m-1 1h1m-1 3h1m-1 .5h1m-1 3h1m-1 1.5h1m-1 .5h1m-1 7h1m-1 .5h1m-1 1.5h1m-1 3.5h1m-1 1h1m-1 12.5h1m-.5-84.5h1m-1 6.5h1m-1 4h1m-1 1.5h1m-1 .5h1m-1 2.5h1m-1 4.5h1m-1 3.5h1m-1 1.5h1m-1 2.5h1m-1 4h1m-1 6.5h1m-1 2.5h1m-1 4h1m-1 .5h1m-1 3.5h1m-1 10.5h1m-1 6.5h1m-1 4.5h1m-1 2.5h1m-1 1.5h1m-1 1h1m-1 5h1m-1 2h1m-1 1.5h1m-1 3h1m-.5-88h1m-1 1.5h1m-1 2.5h1m-1 10h1m-1 .5h1m-1 5.5h1m-1 1.5h1m-1 4.5h1m-1 2.5h1m-1 2h1m-1 2.5h1m-1 2.5h1m-1 4.5h1m-1 1.5h1m-1 1h1m-1 3.5h1m-1 1h1m-1 2h1m-1 5h1m-1 .5h1m-1 3.5h1m-1 3h1m-1 1.5h1m-1 1h1m-1 .5h1m-1 4.5h1m-1 1.5h1m-1 2.5h1m-1 1h1m-1 4.5h1m-1 4.5h1m-1 1h1m-1 2.5h1m-1 4h1m-.5-89h1m-1 2h1m-1 3h1m-1 3.5h1m-1 .5h1m-1 1h1m-1 .5h1m-1 2h1m-1 4.5h1m-1 3.5h1m-1 1h1m-1 1h1m-1 2h1m-1 9.5h1m-1 .5h1m-1 2.5h1m-1 .5h1m-1 3h1m-1 .5h1m-1 .5h1m-1 1.5h1m-1 2h1m-1 10.5h1m-1 4h1m-1 2.5h1m-1 4.5h1m-1 2h1m-1 1h1m-1 .5h1m-1 2.5h1m-1 .5h1m-1 2.5h1m-1 1.5h1m-1 .5h1m-1 3.5h1m-1 2h1m-1 1.5h1m-1 6.5h1m-.5-91h1m-1 1.5h1m-1 3.5h1m-1 3.5h1m-1 5h1m-1 7h1m-1 1h1m-1 .5h1m-1 5h1m-1 .5h1m-1 4h1m-1 2h1m-1 5h1m-1 11h1m-1 1.5h1m-1 .5h1m-1 3.5h1m-1 1.5h1m-1 .5h1m-1 .5h1m-1 2.5h1m-1 2h1m-1 10h1m-1 3h1m-1 1.5h1m-1 .5h1m-1 1h1m-1 .5h1m-1 4h1m-1 5h1m-1 3h1m-.5-89h1m-1 1.5h1m-1 .5h1m-1 .5h1m-1 .5h1m-1 2.5h1m-1 2.5h1m-1 5h1m-1 2h1m-1 1.5h1m-1 6.5h1m-1 3h1m-1 1.5h1m-1 1.5h1m-1 6.5h1m-1 3.5h1m-1 2.5h1m-1 6.5h1m-1 1.5h1m-1 1h1m-1 3.5h1m-1 4.5h1m-1 1h1m-1 .5h1m-1 11h1m-1 2.5h1m-1 4h1m-1 5h1m-1 1.5h1m-1 .5h1m-1 .5h1m-1 1h1m-.5-86.5h1m-1 .5h1m-1 3h1m-1 .5h1m-1 4.5h1m-1 2h1m-1 1.5h1m-1 1.5h1m-1 1.5h1m-1 1h1m-1 1.5h1m-1 2.5h1m-1 1h1m-1 8h1m-1 3.5h1m-1 3.5h1m-1 3.5h1m-1 9.5h1m-1 1h1m-1 5h1m-1 6.5h1m-1 6h1m-1 3h1m-1 5.5h1m-1 5h1m-1 1.5h1m-1 .5h1m-1 2h1m-1 4h1m-.5-94h1m-1 3h1m-1 1.5h1m-1 1h1m-1 2.5h1m-1 1h1m-1 .5h1m-1 .5h1m-1 2h1m-1 2.5h1m-1 6h1m-1 4.5h1m-1 7.5h1m-1 1.5h1m-1 8.5h1m-1 2.5h1m-1 1.5h1m-1 .5h1m-1 4h1m-1 1h1m-1 2.5h1m-1 1h1m-1 5.5h1m-1 11.5h1m-1 3h1m-1 11.5h1m-1 4.5h1m-1 1h1m-.5-91h1m-1 .5h1m-1 1h1m-1 4h1m-1 1.5h1m-1 6h1m-1 11h1m-1 .5h1m-1 2h1m-1 2h1m-1 2.5h1m-1 5h1m-1 5.5h1m-1 1.5h1m-1 2.5h1m-1 1h1m-1 10h1m-1 2.5h1m-1 2.5h1m-1 5h1m-1 7.5h1m-1 2.5h1m-1 1h1m-1 4h1m-1 1.5h1m-1 .5h1m-1 4.5h1m-1 2.5h1m-1 6h1m-.5-99h1m-1 .5h1m-1 3h1m-1 1.5h1m-1 3.5h1m-1 .5h1m-1 5.5h1m-1 5.5h1m-1 5.5h1m-1 2.5h1m-1 2.5h1m-1 1h1m-1 1.5h1m-1 .5h1m-1 2h1m-1 8.5h1m-1 .5h1m-1 9.5h1m-1 6h1m-1 4.5h1m-1 .5h1m-1 4h1m-1 1.5h1m-1 .5h1m-1 2h1m-1 2h1m-1 2h1m-1 5h1m-1 6.5h1m-1 5h1m-1 3h1m-.5-91.5h1m-1 2h1m-1 7h1m-1 9.5h1m-1 2h1m-1 6h1m-1 3h1m-1 1.5h1m-1 .5h1m-1 5.5h1m-1 2h1m-1 3h1m-1 4.5h1m-1 2.5h1m-1 3.5h1m-1 1h1m-1 3h1m-1 12h1m-1 3h1m-1 .5h1m-1 11h1m-1 10h1m-.5-96h1m-1 2.5h1m-1 12h1m-1 2.5h1m-1 2.5h1m-1 .5h1m-1 .5h1m-1 3.5h1m-1 9h1m-1 2h1m-1 .5h1m-1 .5h1m-1 1.5h1m-1 2.5h1m-1 4h1m-1 4h1m-1 7.5h1m-1 5h1m-1 .5h1m-1 .5h1m-1 2.5h1m-1 5.5h1m-1 3h1m-1 .5h1m-1 .5h1m-1 2h1m-1 3h1m-1 2.5h1m-1 1h1m-1 .5h1m-1 2.5h1m-1 2h1m-1 .5h1m-1 2.5h1m-1 4.5h1m-1 4.5h1m-.5-98.5h1m-1 4h1m-1 2h1m-1 4.5h1m-1 11h1m-1 1h1m-1 1h1m-1 4h1m-1 7h1m-1 .5h1m-1 2.5h1m-1 5h1m-1 1.5h1m-1 1h1m-1 5.5h1m-1 3h1m-1 3h1m-1 2.5h1m-1 9h1m-1 2h1m-1 4.5h1m-1 1h1m-1 .5h1m-1 2.5h1m-1 2.5h1m-1 4h1m-1 .5h1m-1 4h1m-1 4h1m-1 2.5h1m-1 1.5h1m-.5-92.5h1m-1 1.5h1m-1 .5h1m-1 3h1m-1 7.5h1m-1 6.5h1m-1 .5h1m-1 3.5h1m-1 2.5h1m-1 1h1m-1 3.5h1m-1 1.5h1m-1 1.5h1m-1 6.5h1m-1 8.5h1m-1 7h1m-1 4h1m-1 4h1m-1 2.5h1m-1 2.5h1m-1 7.5h1m-1 4h1m-1 1.5h1m-1 2h1m-1 1.5h1m-1 1h1m-1 1h1m-1 .5h1m-1 2h1m-1 .5h1m-1 1h1m-.5-93h1m-1 7.5h1m-1 2.5h1m-1 4h1m-1 5h1m-1 5.5h1m-1 5h1m-1 2h1m-1 4.5h1m-1 2h1m-1 2.5h1m-1 3.5h1m-1 1h1m-1 2h1m-1 1.5h1m-1 1h1m-1 2h1m-1 6h1m-1 2h1m-1 4.5h1m-1 4h1m-1 2.5h1m-1 3h1m-1 1h1m-1 9.5h1m-1 .5h1m-1 1.5h1m-1 6.5h1m-.5-89.5h1m-1 1h1m-1 13.5h1m-1 .5h1m-1 1h1m-1 3.5h1m-1 2.5h1m-1 4.5h1m-1 1h1m-1 4h1m-1 7h1m-1 .5h1m-1 2h1m-1 6h1m-1 .5h1m-1 1h1m-1 2.5h1m-1 1.5h1m-1 .5h1m-1 4.5h1m-1 3h1m-1 2h1m-1 2.5h1m-1 .5h1m-1 1.5h1m-1 16h1m-1 2.5h1m-1 2.5h1m-1 4h1m-.5-76.5h1m-1 5.5h1m-1 1h1m-1 .5h1m-1 1.5h1m-1 1.5h1m-1 1h1m-1 6h1m-1 1h1m-1 1h1m-1 12h1m-1 7.5h1m-1 1.5h1m-1 6h1m-1 1h1m-1 4h1m-1 2.5h1m-1 1h1m-1 6h1m-1 12h1m-.5-79.5h1m-1 1.5h1m-1 10h1m-1 3h1m-1 1.5h1m-1 2.5h1m-1 2h1m-1 5h1m-1 7h1m-1 13.5h1m-1 .5h1m-1 1h1m-1 3.5h1m-1 2h1m-1 5h1m-1 6h1m-1 2h1m-1 2h1m-1 9.5h1m-1 3h1m-1 1.5h1m-1 1h1m-.5-67.5h1m-1 1.5h1m-1 3h1m-1 6.5h1m-1 1h1m-1 .5h1m-1 7.5h1m-1 .5h1m-1 5h1m-1 2.5h1m-1 6h1m-1 11.5h1m-1 .5h1m-1 4h1m-1 2h1m-1 2h1m-1 .5h1m-1 2h1m-1 6h1m-1 1h1m-1 2h1m-.5-64.5h1m-1 .5h1m-1 6h1m-1 13h1m-1 1.5h1m-1 2.5h1m-1 1.5h1m-1 1h1m-1 10h1m-1 4h1m-1 3.5h1m-1 2h1m-1 3h1m-1 3h1m-1 2h1m-1 4.5h1m-1 1h1m-1 3.5h1m-1 1.5h1m-1 2.5h1m-1 .5h1m-.5-80h1m-1 6.5h1m-1 6.5h1m-1 16.5h1m-1 9.5h1m-1 3.5h1m-1 5h1m-1 3h1m-1 1.5h1m-1 .5h1m-1 .5h1m-1 3h1m-1 .5h1m-1 .5h1m-1 .5h1m-1 3h1m-1 .5h1m-1 2h1m-1 2.5h1m-1 4h1m-1 1h1m-1 .5h1m-1 2h1m-1 .5h1m-1 7.5h1m-.5-51h1m-1 7.5h1m-1 8.5h1m-1 4h1m-1 7.5h1m-1 2.5h1m-1 1h1m-1 6.5h1m-1 .5h1m-1 1.5h1m-1 .5h1m-1 3h1m-1 1h1m-.5-47.5h1m-1 10.5h1m-1 1h1m-1 .5h1m-1 .5h1m-1 7.5h1m-1 1.5h1m-1 .5h1m-1 2h1m-1 2.5h1m-1 4.5h1m-1 1.5h1m-1 1.5h1m-1 9h1m-1 8.5h1m-.5-31.5h1m-1 2h1m-1 3.5h1m-1 2.5h1m-1 10.5h1m-1 7.5h1m-.5-20.5h1m-1 19h1m-1 1h1m-.5-3h1m-.5 10h1" stroke="#666" stroke-width="1.0" fill="none"/><path d="M82 453h1m-1 .5h1m-1 7.5h1m0-9.5h1m-1 5.5h1m-.5-11h1m-1 7.5h1m-1 5.5h1m-1 1.5h1m-1 1.5h1m-.5-3.5h1m-1 4h1m-.5-1h1m-.5-17h1m-1 5.5h1m-1 8h1m-1 6.5h1m-.5-19h1m-1 .5h1m-.5 2.5h1m-1 7.5h1m-1 .5h1m-.5-9.5h1m-1 1h1m-1 3h1m-1 6.5h1m-1 7h1m-.5-19h1m-1 4h1m-.5-4.5h1m-1 2.5h1m-1 1.5h1m-1 8.5h1m-.5-11h1m-1 4h1m-1 1.5h1m-1 2h1m-1 1h1m-1 4.5h1m-.5-9h1m-1 1h1m-1 8h1m-1 2h1m-.5-8h1m-1 .5h1m-1 9.5h1m-.5-20h1m-1 7.5h1m-1 3h1m-1 2h1m-1 6h1m-.5-19h1m-1 3h1m-1 10.5h1m-1 3h1m-1 6h1m-.5-14h1m-1 6h1m-1 7h1m-.5-21h1m-1 9.5h1m-1 4.5h1m-1 6.5h1m-.5-16.5h1m-1 5.5h1m-1 25h1m-.5-33h1m-1 8h1m-1 5h1m-1 2h1m-1 .5h1m-1 4h1m-1 2.5h1m-.5-17.5h1m-1 2.5h1m-1 7h1m-1 12h1m-1 10h1m-.5-38h1m-1 3h1m-1 4h1m-1 5.5h1m-1 3.5h1m-.5-9.5h1m-1 9.5h1m-1 1h1m-1 3.5h1m-1 2.5h1m-1 17.5h1m-.5-42h1m-1 12h1m-1 1h1m-1 5.5h1m-1 1h1m-1 2h1m-1 6h1m-1 .5h1m-1 3h1m-1 1h1m-1 5h1m-1 9h1m-1 19h1m-.5-63h1m-1 14h1m-1 1h1m-1 2h1m-1 5h1m-1 17h1m-.5-41h1m-1 .5h1m-1 4h1m-1 1.5h1m-1 3h1m-1 4h1m-1 2h1m-1 7h1m-1 8.5h1m-1 2h1m-1 .5h1m-1 2.5h1m-1 23h1m-.5-47h1m-1 11h1m-1 1.5h1m-1 3.5h1m-1 11.5h1m-1 3.5h1m-1 1h1m-.5-35.5h1m-1 6.5h1m-1 19.5h1m-1 14h1m-1 .5h1m-1 17.5h1m-.5-34h1m-1 2.5h1m-1 5.5h1m-1 1h1m-1 5h1m-1 .5h1m-1 15.5h1m-.5-40h1m-1 .5h1m-1 .5h1m-1 3h1m-1 11.5h1m-1 1h1m-1 3.5h1m-1 .5h1m-1 .5h1m-1 6h1m-1 5h1m-1 5h1m-1 7h1m-1 5h1m-.5-52.5h1m-1 9h1m-1 1h1m-1 7.5h1m-1 4.5h1m-1 1.5h1m-1 4h1m-1 12h1m-.5-29h1m-1 2h1m-1 11h1m-1 3h1m-1 5h1m-1 8h1m-.5-31.5h1m-1 4h1m-1 .5h1m-1 7h1m-1 6.5h1m-1 2.5h1m-1 3.5h1m-1 .5h1m-1 12h1m-.5-38h1m-1 5h1m-1 1h1m-1 .5h1m-1 15h1m-.5-21.5h1m-1 1h1m-1 4h1m-1 10h1m-.5-17.5h1m-1 15.5h1m-1 4.5h1m-1 .5h1m-1 1h1m-1 4.5h1m-.5-24.5h1m-1 4.5h1m-1 3h1m-1 1.5h1m-1 1.5h1m-1 3h1m-1 2h1m-1 12.5h1m-1 14.5h1m-.5-50h1m-1 5.5h1m-1 1.5h1m-1 3.5h1m-1 2h1m-1 3.5h1m-1 6h1m-1 7.5h1m-1 5.5h1m-1 8h1m-.5-27.5h1m-1 1.5h1m-1 6.5h1m-1 5.5h1m-1 10.5h1m-1 7h1m-1 9h1m-.5-50h1m-1 6h1m-1 .5h1m-1 1.5h1m-1 3h1m-1 1.5h1m-1 1h1m-1 9.5h1m-1 1h1m-1 3h1m-1 2h1m-1 1.5h1m-1 2h1m-1 2.5h1m-.5-43.5h1m-1 9.5h1m-1 5.5h1m-1 6.5h1m-1 2h1m-1 4.5h1m-.5-19h1m-1 5.5h1m-1 5.5h1m-1 .5h1m-1 8.5h1m-1 4.5h1m-1 15h1m-1 .5h1m-.5-38h1m-1 .5h1m-1 2h1m-1 2.5h1m-1 6.5h1m-1 6h1m-1 1h1m-1 1h1m-1 2h1m-1 4.5h1m-.5-32h1m-1 4.5h1m-1 5h1m-1 .5h1m-1 9.5h1m-1 3.5h1m-1 7h1m-1 6h1m-.5-35h1m-1 2.5h1m-1 3.5h1m-1 8h1m-1 2h1m-1 3.5h1m-1 3.5h1m-1 3h1m-1 1h1m-1 1.5h1m-1 .5h1m-1 .5h1m-1 6h1m-1 14.5h1m-.5-46.5h1m-1 .5h1m-1 3.5h1m-1 .5h1m-1 3h1m-1 11h1m-1 20.5h1m-1 9.5h1m-.5-51.5h1m-1 3h1m-1 10h1m-1 5.5h1m-1 .5h1m-1 7.5h1m-1 6.5h1m-.5-33h1m-1 5h1m-1 4.5h1m-1 .5h1m-1 5h1m-1 13h1m-1 13.5h1m-1 7.5h1m-.5-36h1m-1 12.5h1m-1 3h1m-1 .5h1m-1 6h1m-1 1.5h1m-.5-37h1m-1 1h1m-1 4.5h1m-1 6.5h1m-1 2h1m-1 4.5h1m-1 2.5h1m-1 2.5h1m-1 .5h1m-1 6h1m-1 4.5h1m-1 1h1m-1 .5h1m-1 13h1m-.5-39h1m-1 .5h1m-1 8h1m-1 7h1m-1 2h1m-1 6h1m-1 3.5h1m-1 2h1m-1 16.5h1m-.5-48h1m-1 3h1m-1 9h1m-1 2.5h1m-1 2.5h1m-1 2h1m-1 .5h1m-1 3.5h1m-1 .5h1m-1 6.5h1m-1 14h1m-.5-39h1m-1 2h1m-1 8.5h1m-1 2h1m-1 1h1m-1 1.5h1m-1 1h1m-1 1h1m-1 7h1m-1 1h1m-1 18h1m-.5-85h1m-1 30h1m-1 1.5h1m-1 4h1m-1 18.5h1m-1 2.5h1m-1 1.5h1m-1 4.5h1m-1 22.5h1m-.5-53.5h1m-1 2h1m-1 2.5h1m-1 3h1m-1 1.5h1m-1 4.5h1m-1 3h1m-1 2.5h1m-1 4.5h1m-1 20.5h1m-1 9h1m-.5-54h1m-1 12h1m-1 3.5h1m-1 8.5h1m-1 13h1m-1 6h1m-1 3h1m-.5-47h1m-1 4.5h1m-1 9h1m-1 3.5h1m-1 9.5h1m-1 9h1m-.5-25h1m-1 .5h1m-1 9h1m-1 3h1m-1 2.5h1m-1 7h1m-.5 3.5h1m-1 6.5h1m-1 3.5h1m-.5-47h1m-1 2.5h1m-1 4h1m-1 6.5h1m-1 1.5h1m-1 .5h1m-1 1h1m-1 18.5h1m-1 16.5h1m-.5-95.5h1m-1 3h1m-1 47h1m-1 2.5h1m-1 3h1m-1 .5h1m-.5-57h1m-1 53.5h1m-1 2.5h1m-1 2h1m-1 3.5h1m-1 29.5h1m-1 4.5h1m-.5-47.5h1m-1 44h1m-1 3h1m-.5-93h1m-1 6.5h1m-1 48h1m-1 31h1m-1 13h1m-.5-92h1m-1 42h1m-1 4.5h1m-1 13.5h1m-1 28h1m-.5-93.5h1m-1 4.5h1m-1 44.5h1m-1 4h1m-.5-54.5h1m-1 50.5h1m-.5-50.5h1m-1 7h1m-1 3h1m-.5-5h1m-.5-1h1m-1 37.5h1m-.5-39.5h1m-1 6.5h1m-1 88h1m-.5-92.5h1m-1 5h1m-1 5.5h1m-1 30.5h1m-.5-43.5h1m-.5-5.5h1m-1 11.5h1m-1 86h1m-.5-88.5h1m-1 88h1m0-97h1m0 .5h1m-1 4h1m-.5 2h1m0-2h1m-1 1.5h1m-.5 14h1m4-13h1m-1 12h1m.5-12.5h1m-1 12h1m-1 25.5h1m-.5-18.5h1m-.5-18h1m-1 39h1m0-4h1m-.5-.5h1m-.5 4h1m.5-30h1m-1 11h1m-1 11h1m-1 9h1m0-32h1m-.5 22.5h1m0 9.5h1m-.5-6h1m-1 2.5h1m-.5-6h1m-.5 2.5h1m-.5-.5h1m-1 1h1m0 4.5h1m-.5-8.5h1m0 3h1m-1 2h1m10.5-78.5h1m-.5 1h1m-.5-2.5h1m-1 1.5h1m-1 3h1m-1 6h1m-1 12h1m-1 .5h1m-.5-21.5h1m-1 5.5h1m-1 .5h1m-1 2h1m-.5-8h1m-1 .5h1m-1 3h1m-1 5h1m-1 3h1m-1 1.5h1m-.5-14.5h1m-1 2h1m-1 1.5h1m-1 .5h1m-1 2h1m-1 4h1m-1 1.5h1m-1 1.5h1m-1 5h1m-1 3.5h1m-1 .5h1m-1 5.5h1m-1 4h1m-1 3h1m-.5-30h1m-1 3.5h1m-1 .5h1m-1 1h1m-1 2h1m-1 8.5h1m-1 1.5h1m-1 2h1m-1 .5h1m-1 .5h1m-1 10.5h1m-1 4h1m-1 4h1m-1 1h1m-1 19.5h1m-1 1h1m-1 10h1m-.5-71h1m-1 .5h1m-1 1.5h1m-1 1.5h1m-1 1.5h1m-1 2.5h1m-1 4.5h1m-1 1h1m-1 5.5h1m-1 2.5h1m-1 2h1m-1 2.5h1m-1 2.5h1m-1 4.5h1m-1 7.5h1m-1 4h1m-1 9.5h1m-1 3h1m-1 1.5h1m-.5-62.5h1m-1 1h1m-1 3h1m-1 1h1m-1 2h1m-1 .5h1m-1 4h1m-1 4h1m-1 2h1m-1 .5h1m-1 2h1m-1 1h1m-1 3h1m-1 3.5h1m-1 2.5h1m-1 2.5h1m-1 6h1m-1 5h1m-1 3.5h1m-1 2.5h1m-1 1h1m-1 2h1m-1 2.5h1m-1 3.5h1m-1 14h1m-1 11.5h1m-1 7.5h1m-.5-85.5h1m-1 2.5h1m-1 .5h1m-1 1.5h1m-1 .5h1m-1 .5h1m-1 2h1m-1 1.5h1m-1 1h1m-1 2h1m-1 4h1m-1 .5h1m-1 2h1m-1 9h1m-1 2.5h1m-1 3h1m-1 1h1m-1 7h1m-1 1h1m-1 2h1m-1 1.5h1m-1 4.5h1m-1 6.5h1m-1 1.5h1m-1 7h1m-1 5.5h1m-1 .5h1m-1 17h1m-1 1.5h1m-1 3h1m-.5-93.5h1m-1 1.5h1m-1 1h1m-1 2h1m-1 3.5h1m-1 2h1m-1 2h1m-1 .5h1m-1 2.5h1m-1 7h1m-1 1.5h1m-1 1h1m-1 .5h1m-1 1.5h1m-1 .5h1m-1 1h1m-1 2.5h1m-1 4h1m-1 6h1m-1 .5h1m-1 2.5h1m-1 1.5h1m-1 6.5h1m-1 4h1m-1 .5h1m-1 .5h1m-1 3.5h1m-1 11h1m-1 13.5h1m-1 7.5h1m-1 2h1m-.5-96.5h1m-1 4h1m-1 3h1m-1 4h1m-1 1h1m-1 3.5h1m-1 4.5h1m-1 10h1m-1 1h1m-1 .5h1m-1 2.5h1m-1 1.5h1m-1 3h1m-1 1h1m-1 5h1m-1 1.5h1m-1 4h1m-1 2.5h1m-1 1h1m-1 1.5h1m-1 4h1m-1 3h1m-1 2.5h1m-1 11h1m-1 3.5h1m-1 9.5h1m-.5-88.5h1m-1 3h1m-1 .5h1m-1 7.5h1m-1 3h1m-1 3h1m-1 1.5h1m-1 11h1m-1 3h1m-1 3.5h1m-1 1h1m-1 .5h1m-1 9.5h1m-1 5h1m-1 1.5h1m-1 .5h1m-1 4.5h1m-1 2.5h1m-1 4h1m-1 .5h1m-1 2.5h1m-1 .5h1m-1 1.5h1m-1 1h1m-1 3h1m-1 19h1m-.5-92h1m-1 10h1m-1 .5h1m-1 2h1m-1 1h1m-1 1.5h1m-1 2.5h1m-1 3.5h1m-1 5h1m-1 2h1m-1 5h1m-1 1h1m-1 1h1m-1 2.5h1m-1 4h1m-1 2.5h1m-1 8.5h1m-1 1.5h1m-1 3h1m-1 .5h1m-1 .5h1m-1 2.5h1m-1 2h1m-1 4h1m-1 .5h1m-1 1h1m-1 4.5h1m-1 8h1m-1 8.5h1m-1 3h1m-1 5h1m-.5-95h1m-1 1.5h1m-1 22h1m-1 14h1m-1 1h1m-1 2h1m-1 1h1m-1 .5h1m-1 1h1m-1 1h1m-1 1h1m-1 1h1m-1 .5h1m-1 2.5h1m-1 6.5h1m-1 4.5h1m-1 7h1m-1 .5h1m-1 .5h1m-1 2h1m-1 3h1m-1 1.5h1m-1 6.5h1m-1 1.5h1m-1 1.5h1m-1 3h1m-1 2.5h1m-1 2.5h1m-1 1.5h1m-1 .5h1m-1 1.5h1m-.5-90.5h1m-1 2.5h1m-1 3h1m-1 1h1m-1 1.5h1m-1 5.5h1m-1 1.5h1m-1 3h1m-1 .5h1m-1 1.5h1m-1 3.5h1m-1 1.5h1m-1 2h1m-1 .5h1m-1 2.5h1m-1 3h1m-1 3.5h1m-1 6.5h1m-1 1h1m-1 1.5h1m-1 1.5h1m-1 2.5h1m-1 4h1m-1 .5h1m-1 10.5h1m-1 3h1m-1 1h1m-1 1.5h1m-1 1.5h1m-1 2h1m-1 3.5h1m-1 1.5h1m-1 6h1m-1 2h1m-1 1.5h1m-1 2h1m-1 2.5h1m-.5-92h1m-1 4h1m-1 .5h1m-1 .5h1m-1 6h1m-1 1.5h1m-1 1h1m-1 1h1m-1 2.5h1m-1 2h1m-1 3.5h1m-1 1.5h1m-1 7.5h1m-1 1h1m-1 1h1m-1 7.5h1m-1 2.5h1m-1 5.5h1m-1 3.5h1m-1 1h1m-1 .5h1m-1 8h1m-1 5.5h1m-1 .5h1m-1 4h1m-1 1h1m-1 .5h1m-1 4.5h1m-1 7h1m-1 1.5h1m-1 1.5h1m-1 2h1m-.5-94.5h1m-1 10h1m-1 6h1m-1 7.5h1m-1 8.5h1m-1 .5h1m-1 1h1m-1 3h1m-1 .5h1m-1 6.5h1m-1 3.5h1m-1 7.5h1m-1 1h1m-1 1h1m-1 4h1m-1 4h1m-1 1.5h1m-1 .5h1m-1 8h1m-1 2h1m-1 6h1m-1 3h1m-1 1.5h1m-1 6.5h1m-1 .5h1m-.5-78h1m-1 2h1m-1 .5h1m-1 1.5h1m-1 4.5h1m-1 .5h1m-1 3h1m-1 1h1m-1 3h1m-1 .5h1m-1 3.5h1m-1 3h1m-1 2.5h1m-1 .5h1m-1 3.5h1m-1 .5h1m-1 2.5h1m-1 1.5h1m-1 .5h1m-1 1h1m-1 4h1m-1 4.5h1m-1 1h1m-1 2h1m-1 .5h1m-1 1h1m-1 3h1m-1 3h1m-1 .5h1m-1 1h1m-1 1h1m-1 2.5h1m-1 3.5h1m-1 1.5h1m-1 2h1m-1 2h1m-1 1.5h1m-1 3h1m-1 3h1m-1 .5h1m-1 1.5h1m-1 .5h1m-.5-82.5h1m-1 .5h1m-1 .5h1m-1 5.5h1m-1 .5h1m-1 1.5h1m-1 5.5h1m-1 1.5h1m-1 5.5h1m-1 3.5h1m-1 6.5h1m-1 3.5h1m-1 1.5h1m-1 1.5h1m-1 1.5h1m-1 .5h1m-1 1.5h1m-1 5.5h1m-1 1h1m-1 5.5h1m-1 4.5h1m-1 .5h1m-1 1.5h1m-1 4h1m-1 1h1m-1 4.5h1m-1 3.5h1m-1 5h1m-1 .5h1m-1 .5h1m-1 1h1m-.5-83.5h1m-1 10h1m-1 3.5h1m-1 3h1m-1 1.5h1m-1 5h1m-1 2h1m-1 1h1m-1 .5h1m-1 6h1m-1 1h1m-1 2h1m-1 2.5h1m-1 3h1m-1 5.5h1m-1 1h1m-1 1.5h1m-1 .5h1m-1 4h1m-1 3h1m-1 9h1m-1 6h1m-1 6.5h1m-1 2h1m-1 3.5h1m-1 2h1m-.5-77.5h1m-1 1.5h1m-1 4h1m-1 8.5h1m-1 5h1m-1 .5h1m-1 1h1m-1 15.5h1m-1 .5h1m-1 2.5h1m-1 4h1m-1 2h1m-1 11.5h1m-1 1h1m-1 1.5h1m-1 3.5h1m-1 .5h1m-1 .5h1m-1 6.5h1m-1 1.5h1m-1 1.5h1m-1 2.5h1m-1 4h1m-.5-84h1m-1 3.5h1m-1 4h1m-1 2h1m-1 1h1m-1 2h1m-1 2h1m-1 1h1m-1 9.5h1m-1 .5h1m-1 1.5h1m-1 .5h1m-1 1h1m-1 1.5h1m-1 5h1m-1 2h1m-1 .5h1m-1 3.5h1m-1 2.5h1m-1 .5h1m-1 13h1m-1 .5h1m-1 2.5h1m-1 1.5h1m-1 .5h1m-1 2h1m-1 3.5h1m-1 3h1m-1 4h1m-1 2.5h1m-1 2h1m-1 1h1m-1 2.5h1m-1 3h1m-.5-76.5h1m-1 .5h1m-1 .5h1m-1 2h1m-1 4h1m-1 1.5h1m-1 2h1m-1 2h1m-1 4.5h1m-1 .5h1m-1 1h1m-1 5.5h1m-1 3.5h1m-1 4.5h1m-1 .5h1m-1 .5h1m-1 4h1m-1 3.5h1m-1 1h1m-1 1h1m-1 .5h1m-1 2.5h1m-1 .5h1m-1 1.5h1m-1 1h1m-1 1h1m-1 1.5h1m-1 .5h1m-1 3h1m-1 2.5h1m-1 2h1m-1 1.5h1m-1 3.5h1m-1 1h1m-1 1.5h1m-1 .5h1m-1 4.5h1m-.5-78.5h1m-1 5.5h1m-1 1.5h1m-1 1.5h1m-1 1.5h1m-1 3h1m-1 2h1m-1 .5h1m-1 2.5h1m-1 7h1m-1 6.5h1m-1 1h1m-1 3.5h1m-1 1.5h1m-1 1.5h1m-1 1.5h1m-1 1h1m-1 1.5h1m-1 3h1m-1 .5h1m-1 1.5h1m-1 1h1m-1 2h1m-1 1h1m-1 3.5h1m-1 1.5h1m-1 1h1m-1 6.5h1m-1 .5h1m-1 1h1m-1 1h1m-1 7h1m-1 3.5h1m-.5-68.5h1m-1 17h1m-1 1h1m-1 6.5h1m-1 6h1m-1 2.5h1m-1 1.5h1m-1 2.5h1m-1 .5h1m-1 .5h1m-1 2h1m-1 .5h1m-1 5h1m-1 .5h1m-1 1h1m-1 .5h1m-1 1.5h1m-1 3.5h1m-1 5.5h1m-1 2h1m-1 .5h1m-1 3.5h1m-1 .5h1m-1 .5h1m-1 2h1m-.5-64h1m-1 2h1m-1 .5h1m-1 1h1m-1 1.5h1m-1 10.5h1m-1 2h1m-1 3.5h1m-1 8h1m-1 2.5h1m-1 .5h1m-1 1h1m-1 1h1m-1 .5h1m-1 3h1m-1 4.5h1m-1 3h1m-1 .5h1m-1 1h1m-1 .5h1m-1 .5h1m-1 .5h1m-1 .5h1m-1 9h1m-1 5h1m-1 2h1m-1 1.5h1m-1 1.5h1m-.5-71h1m-1 2h1m-1 2h1m-1 2h1m-1 1h1m-1 .5h1m-1 2h1m-1 1.5h1m-1 2h1m-1 2.5h1m-1 .5h1m-1 3.5h1m-1 8h1m-1 .5h1m-1 1h1m-1 .5h1m-1 1h1m-1 1.5h1m-1 2h1m-1 1.5h1m-1 .5h1m-1 3.5h1m-1 2.5h1m-1 3h1m-1 1h1m-1 .5h1m-1 5h1m-1 5.5h1m-1 .5h1m-1 2.5h1m-1 3.5h1m-1 1h1m-1 5h1m-1 2.5h1m-1 .5h1m-.5-72.5h1m-1 1h1m-1 2h1m-1 .5h1m-1 1.5h1m-1 3h1m-1 .5h1m-1 .5h1m-1 3h1m-1 1.5h1m-1 5h1m-1 2h1m-1 8h1m-1 4h1m-1 1h1m-1 4.5h1m-1 2h1m-1 1.5h1m-1 2h1m-1 3.5h1m-1 1h1m-1 1h1m-1 1h1m-1 3h1m-1 9h1m-1 8.5h1m-.5-73h1m-1 8h1m-1 1h1m-1 .5h1m-1 1h1m-1 1h1m-1 2h1m-1 2h1m-1 .5h1m-1 8h1m-1 1h1m-1 1h1m-1 1.5h1m-1 2h1m-1 .5h1m-1 1h1m-1 .5h1m-1 3.5h1m-1 .5h1m-1 2h1m-1 2h1m-1 .5h1m-1 .5h1m-1 .5h1m-1 .5h1m-1 2.5h1m-1 3h1m-1 6h1m-1 .5h1m-1 4h1m-1 1h1m-1 5.5h1m-1 1h1m-1 2h1m-1 1.5h1m-1 2h1m-.5-68h1m-1 11h1m-1 2h1m-1 1h1m-1 .5h1m-1 2.5h1m-1 7h1m-1 11h1m-1 .5h1m-1 .5h1m-1 .5h1m-1 7.5h1m-1 11.5h1m-1 .5h1m-1 1.5h1m-1 6.5h1m-.5-56.5h1m-1 2.5h1m-1 2.5h1m-1 .5h1m-1 10.5h1m-1 4.5h1m-1 3.5h1m-1 .5h1m-1 2.5h1m-1 .5h1m-1 .5h1m-1 1h1m-1 3.5h1m-1 1h1m-1 1h1m-1 3h1m-1 .5h1m-1 .5h1m-1 .5h1m-1 2.5h1m-1 6h1m-1 1h1m-1 1h1m-1 2h1m-.5-55h1m-1 3.5h1m-1 3h1m-1 1h1m-1 1.5h1m-1 1h1m-1 1h1m-1 6h1m-1 1h1m-1 1h1m-1 .5h1m-1 1h1m-1 2h1m-1 5h1m-1 1h1m-1 3.5h1m-1 6.5h1m-1 7.5h1m-1 4.5h1m-1 3.5h1m-1 1h1m-1 2.5h1m-.5-59h1m-1 20h1m-1 1.5h1m-1 .5h1m-1 4h1m-1 4.5h1m-1 1.5h1m-1 2h1m-1 2.5h1m-1 .5h1m-1 1.5h1m-1 1h1m-1 .5h1m-1 .5h1m-1 3h1m-1 4.5h1m-1 2h1m-1 6.5h1m-1 3h1m-1 1.5h1m-.5-61.5h1m-1 9.5h1m-1 3h1m-1 2.5h1m-1 .5h1m-1 2.5h1m-1 5.5h1m-1 1.5h1m-1 1.5h1m-1 4.5h1m-1 4h1m-1 3.5h1m-1 1h1m-1 2.5h1m-1 1h1m-1 .5h1m-1 2h1m-1 2h1m-1 1h1m-1 1.5h1m-1 1h1m-1 2h1m-1 .5h1m-1 2.5h1m-1 2h1m-1 2.5h1m-.5-56h1m-1 2.5h1m-1 1.5h1m-1 1h1m-1 2h1m-1 .5h1m-1 .5h1m-1 .5h1m-1 1.5h1m-1 .5h1m-1 6h1m-1 2h1m-1 1.5h1m-1 .5h1m-1 1h1m-1 2.5h1m-1 .5h1m-1 3h1m-1 .5h1m-1 .5h1m-1 1h1m-1 4h1m-1 .5h1m-1 1h1m-1 5h1m-1 .5h1m-1 2.5h1m-1 1.5h1m-1 4h1m-1 2h1m-1 1.5h1m-1 1h1m-1 2.5h1m-1 2.5h1m-1 .5h1m-1 2h1m-.5-58h1m-1 3.5h1m-1 2.5h1m-1 1.5h1m-1 6.5h1m-1 .5h1m-1 3h1m-1 .5h1m-1 6h1m-1 3h1m-1 1h1m-1 1h1m-1 1h1m-1 3h1m-1 .5h1m-1 1h1m-1 2h1m-1 1.5h1m-1 1h1m-1 4.5h1m-1 12.5h1m-1 1h1m-.5-54.5h1m-1 6.5h1m-1 4.5h1m-1 3h1m-1 7h1m-1 3h1m-1 1h1m-1 3h1m-1 2h1m-1 .5h1m-1 3h1m-1 .5h1m-1 5.5h1m-.5-45h1m-1 9h1m-1 .5h1m-1 3h1m-1 3h1m-1 .5h1m-1 1.5h1m-1 2.5h1m-1 2.5h1m-1 2.5h1m-1 2h1m-1 3h1m-1 1h1m-1 .5h1m-1 3.5h1m-1 .5h1m-1 1h1m-1 1h1m-1 3.5h1m-1 1h1m-1 2h1m-1 5.5h1m-1 .5h1m-1 4h1m-1 4.5h1m-1 1.5h1m-.5-54h1m-1 2.5h1m-1 9h1m-1 .5h1m-1 .5h1m-1 1.5h1m-1 1.5h1m-1 3h1m-1 .5h1m-1 4.5h1m-1 3.5h1m-1 3h1m-1 1h1m-1 .5h1m-1 9.5h1m-1 6.5h1m-.5-45h1m-1 3.5h1m-1 1.5h1m-1 1.5h1m-1 4h1m-1 1.5h1m-1 1h1m-1 8.5h1m-1 .5h1m-1 1h1m-1 4h1m-1 1h1m-1 5h1m-1 1.5h1m-1 4h1m-1 1.5h1m-1 7.5h1m-.5-50.5h1m-1 5h1m-1 11h1m-1 1.5h1m-1 3h1m-1 7h1m-1 1h1m-1 1.5h1m-1 2.5h1m-1 .5h1m-1 1h1m-1 6h1m-1 6.5h1m-.5-41h1m-1 7h1m-1 1.5h1m-1 5h1m-1 8h1m-1 1.5h1m-1 .5h1m-1 4.5h1m-1 .5h1m-1 9.5h1m-1 .5h1m-1 3h1m-1 4.5h1m-.5-44h1m-1 16.5h1m-1 .5h1m-1 5.5h1m-1 5h1m-1 .5h1m-1 6h1m-1 4h1m-1 1.5h1m-.5-42h1m-1 6.5h1m-1 .5h1m-1 3h1m-1 2.5h1m-1 1h1m-1 2h1m-1 12h1m-1 7h1m-1 2h1m-.5-32.5h1m-1 .5h1m-1 10.5h1m-1 1h1m-1 5h1m-1 1.5h1m-1 1.5h1m-1 1h1m-1 2h1m-1 2h1m-1 3h1m-1 3.5h1m-.5-22.5h1m-1 1.5h1m-1 5.5h1m-1 1.5h1m-1 5.5h1m-1 2h1m-1 2h1m-1 .5h1m-.5-21.5h1m-1 3.5h1m-1 1h1m-1 10h1m-1 2h1m-1 7.5h1m-1 4h1m-.5-30.5h1m-1 1h1m-1 10.5h1m-1 1.5h1m-1 3h1m-1 3h1" stroke="#ff0c0c" stroke-width="1.0" fill="none"/><rect x="14.70" y="367.30" width="165.50" height="151.60" fill="none" stroke="#000" stroke-width="0.9"/><line x1="13.10" y1="371.30" x2="14.70" y2="371.30" stroke="#000" stroke-width="0.6"/><line x1="13.10" y1="407.70" x2="14.70" y2="407.70" stroke="#000" stroke-width="0.6"/><line x1="13.10" y1="444.10" x2="14.70" y2="444.10" stroke="#000" stroke-width="0.6"/><line x1="13.10" y1="480.50" x2="14.70" y2="480.50" stroke="#000" stroke-width="0.6"/><line x1="13.10" y1="516.90" x2="14.70" y2="516.90" stroke="#000" stroke-width="0.6"/><line x1="15.20" y1="518.90" x2="15.20" y2="520.50" stroke="#000" stroke-width="0.6"/><line x1="46.50" y1="518.90" x2="46.50" y2="520.50" stroke="#000" stroke-width="0.6"/><line x1="77.80" y1="518.90" x2="77.80" y2="520.50" stroke="#000" stroke-width="0.6"/><line x1="109.10" y1="518.90" x2="109.10" y2="520.50" stroke="#000" stroke-width="0.6"/><line x1="140.40" y1="518.90" x2="140.40" y2="520.50" stroke="#000" stroke-width="0.6"/><line x1="171.70" y1="518.90" x2="171.70" y2="520.50" stroke="#000" stroke-width="0.6"/><text x="3.40" y="354.29" font-size="10.8" font-weight="bold">i</text><circle cx="33.60" cy="359.90" r="4.10" fill="#1414f5"/><text x="38.40" y="362.95" font-size="8.2">NPC</text><circle cx="79.50" cy="359.90" r="4.10" fill="#6a6a6a"/><text x="84.00" y="362.95" font-size="8.2">SPONT</text><circle cx="135.80" cy="359.90" r="4.10" fill="#f51414"/><text x="140.60" y="362.95" font-size="8.2">CNTF</text><text x="7.90" y="442.99" font-size="8.3" text-anchor="middle" font-weight="bold" transform="rotate(-90 7.90 440.00)">UMAP2</text><text x="97.50" y="531.39" font-size="8.3" text-anchor="middle" font-weight="bold">UMAP1</text><text x="28.80" y="493.08" font-size="8">Total Cells =</text><text x="28.80" y="501.88" font-size="8">16,091</text>
<g filter="url(#rgh)"><polygon points="231.3,401.5 239.1,390.9 249.6,385.2 261.5,384.4 270.7,389.6 276.4,401.5 279.9,413.3 273.3,414.6 265.4,422.5 261.5,431.7 252.3,434.3 244.4,430.4 243.1,418.5 236.5,409.3" fill="#0a0af0" opacity="0.55"/><polygon points="217.3,413.3 224.7,406.7 231.3,401.5 236.5,409.3 243.1,418.5 244.4,430.4 248.3,440.9 244.4,443.5 233.9,435.6 224.7,425.1" fill="#78b6ff" opacity="0.55"/><polygon points="244.4,430.4 252.3,434.3 261.5,431.7 265.4,422.5 273.3,414.6 281.2,413.3 286.4,425.1 285.1,438.2 278.5,450.1 270.7,461.9 265.4,464.0 256.2,454.0 248.3,443.5 244.4,436.9" fill="#12b2b2" opacity="0.55"/><polygon points="273.8,380.4 276.4,373.9 283.8,369.9 293.0,371.2 298.3,377.8 298.3,387.0 294.3,393.6 290.4,398.8 283.8,392.3 277.2,388.3" fill="#00007a" opacity="0.55"/><polygon points="281.2,454.0 283.8,444.8 293.0,440.3 296.9,443.5 295.6,452.7 294.3,463.2 287.7,465.8 282.5,460.6" fill="#a00a0a" opacity="0.55"/><polygon points="294.3,463.2 302.2,461.9 311.4,460.6 315.3,467.1 314.0,480.3 312.7,493.4 310.1,500.0 302.2,498.7 295.6,490.8 293.0,477.7 293.0,467.1" fill="#f20a0a" opacity="0.55"/><polygon points="294.3,501.3 302.2,497.4 310.1,500.0 316.6,505.2 320.6,509.2 315.3,514.4 304.8,517.6 296.9,513.1 293.0,506.6" fill="#c81ad8" opacity="0.55"/><polygon points="311.4,410.7 318.0,414.6 322.4,418.5 318.5,425.1 316.4,434.3 314.0,425.1 312.7,417.2" fill="#c81ad8" opacity="0.55"/><polygon points="331.1,421.2 336.4,414.6 342.9,406.7 345.5,397.5 349.5,393.6 356.1,396.2 357.4,409.3 358.7,422.5 357.4,438.2 352.1,446.1 342.9,447.4 337.7,440.9 332.4,431.7" fill="#ff8212" opacity="0.55"/><polygon points="356.1,396.2 360.0,393.6 365.3,401.5 371.8,412.0 375.8,425.1 375.2,438.2 370.5,446.1 360.0,446.6 352.1,446.1 357.4,438.2 358.7,422.5 357.4,409.3" fill="#c8c81a" opacity="0.55"/><polygon points="337.7,451.4 342.9,446.6 352.1,446.1 360.0,446.6 370.5,446.1 374.4,454.0 373.1,464.5 366.6,472.4 357.4,477.7 350.8,476.3 344.2,469.8 340.3,460.6" fill="#12c412" opacity="0.55"/><polygon points="346.3,373.9 352.1,372.0 357.9,373.9 357.4,380.4 355.8,388.3 351.1,391.5 349.0,384.4" fill="#0a6a0a" opacity="0.55"/></g><path d="M219 412.5h1m-1 2h1m-1 2h1m-.5-4h1m-1 .5h1m-1 1.5h1m-.5-5h1m-.5 2.5h1m-1 .5h1m-1 .5h1m-.5-3.5h1m-1 .5h1m-1 4.5h1m-1 1h1m-1 5.5h1m-.5-5h1m-1 3h1m-1 .5h1m-1 1.5h1m-.5-11h1m-1 .5h1m-1 2.5h1m-1 2.5h1m-.5-6.5h1m-1 1h1m-1 2h1m-1 4.5h1m-1 1h1m-1 2h1m-.5-4.5h1m-1 2.5h1m-1 .5h1m-.5-3.5h1m-1 4.5h1m-1 3h1m-.5-13.5h1m-1 .5h1m-1 4.5h1m-1 1h1m-1 2h1m-.5-6.5h1m-1 2.5h1m-1 2h1m-1 2.5h1m-1 3h1m-1 1h1m-1 3h1m-.5-16.5h1m-1 1.5h1m-1 2.5h1m-.5-6.5h1m-1 3.5h1m-1 1h1m-1 .5h1m-1 3.5h1m-1 5h1m-1 2h1m-.5-12h1m-1 1.5h1m-1 1h1m-1 1h1m-1 2.5h1m-1 2h1m-1 1h1m-1 3h1m-.5-12.5h1m-1 14.5h1m-1 2h1m-.5-20h1m-1 4h1m-1 1h1m-1 1.5h1m-1 4.5h1m-1 8h1m-.5-17.5h1m-1 .5h1m-1 8h1m-1 4.5h1m-1 5h1m-.5-19h1m-1 1h1m-1 3h1m-1 2.5h1m-1 9.5h1m-1 7h1m-.5-21.5h1m-1 1.5h1m-1 .5h1m-1 .5h1m-1 1h1m-1 6.5h1m-1 .5h1m-1 1h1m-1 .5h1m-1 1.5h1m-1 1h1m-.5-15.5h1m-1 .5h1m-1 1h1m-1 2h1m-1 1h1m-1 5.5h1m-1 3h1m-1 2h1m-1 3.5h1m-1 1.5h1m-1 2.5h1m-.5-20.5h1m-1 1.5h1m-1 7h1m-1 1h1m-1 2.5h1m-1 3h1m-1 4h1m-1 1.5h1m-1 .5h1m-1 2.5h1m-.5-25h1m-1 5.5h1m-1 .5h1m-1 1h1m-1 1h1m-1 10h1m-1 3.5h1m-.5-25h1m-1 4.5h1m-1 1.5h1m-1 1h1m-1 3.5h1m-1 .5h1m-1 5.5h1m-1 1h1m-1 1h1m-1 1.5h1m-1 .5h1m-1 2h1m-1 7.5h1m-.5-29.5h1m-1 1h1m-1 1.5h1m-1 3h1m-1 8.5h1m-1 .5h1m-1 1h1m-1 1.5h1m-1 2.5h1m-1 4h1m-.5-24h1m-1 1h1m-1 .5h1m-1 13.5h1m-1 4h1m-1 3.5h1m-1 3.5h1m-.5-20h1m-1 3.5h1m-1 6.5h1m-1 .5h1m-1 7h1m-1 8.5h1m-.5-27h1m-1 2.5h1m-1 10h1m-1 5h1m-.5-14.5h1m-1 1.5h1m-1 8.5h1m-.5-12.5h1m-1 1.5h1m-1 1h1m-1 2.5h1m-1 7.5h1m-1 1h1m-1 1.5h1m-1 .5h1m-1 2.5h1m-1 1.5h1m-1 1h1m-1 2.5h1m-.5-25h1m-1 1h1m-1 3.5h1m-1 2.5h1m-1 5h1m-1 5h1m-1 1h1m-1 2.5h1m-1 .5h1m-1 1h1m-1 1.5h1m-1 2.5h1m-.5-24h1m-1 7h1m-1 9h1m-1 2.5h1m-1 1h1m-1 .5h1m-1 .5h1m-1 5.5h1m-.5-27.5h1m-1 5h1m-1 1.5h1m-1 .5h1m-1 .5h1m-1 2.5h1m-1 3.5h1m-1 1h1m-1 1.5h1m-1 1.5h1m-1 2h1m-1 3.5h1m-1 .5h1m-1 2h1m-1 5h1m-.5-17h1m-1 1.5h1m-1 3h1m-1 1h1m-1 .5h1m-1 8.5h1m-1 .5h1m-1 2h1m-.5-25.5h1m-1 .5h1m-1 2.5h1m-1 2h1m-1 1h1m-1 1h1m-1 2.5h1m-1 2h1m-1 .5h1m-1 2.5h1m-1 3h1m-1 3.5h1m-1 .5h1m-1 .5h1m-1 2.5h1m-.5-24h1m-1 1.5h1m-1 1.5h1m-1 10.5h1m-1 1h1m-1 8h1m-1 1.5h1m-1 1.5h1m-.5-26h1m-1 2.5h1m-1 1h1m-1 3.5h1m-1 6h1m-1 1h1m-1 2.5h1m-1 .5h1m-1 4h1m-1 .5h1m-1 3.5h1m-.5-21h1m-1 2h1m-1 10h1m-1 3h1m-1 4.5h1m-1 2h1m-.5-7.5h1m-1 5h1m-.5-20h1m-1 1.5h1m-1 2h1m-1 4.5h1m-1 1.5h1m-1 3.5h1m-1 1.5h1m-1 1.5h1m-1 4h1m-1 .5h1m-1 1.5h1m-1 1h1m-.5-25h1m-1 4h1m-1 2h1m-1 2.5h1m-1 .5h1m-1 3.5h1m-1 8h1m-1 1h1m-.5-20.5h1m-1 2.5h1m-1 3h1m-1 3h1m-1 5.5h1m-1 1.5h1m-1 1.5h1m-1 1.5h1m-1 1h1m-1 2.5h1m-.5-21.5h1m-1 1h1m-1 .5h1m-1 1h1m-1 .5h1m-1 1.5h1m-1 1h1m-1 2h1m-1 2h1m-1 2h1m-1 2h1m-1 3.5h1m-1 .5h1m-1 .5h1m-.5-13.5h1m-1 1h1m-1 1.5h1m-1 13.5h1m-1 2h1m-1 2.5h1m-.5-13h1m-1 4h1m-.5-12h1m-1 8.5h1m-1 9.5h1m-1 2h1m-1 1.5h1m-.5-14.5h1m-1 .5h1m-1 1h1m-1 2.5h1m-1 3.5h1m-1 2h1m-1 5h1m-.5-19h1m-1 3.5h1m-1 4h1m-1 1.5h1m-1 .5h1m-1 2h1m-1 2h1m-1 3.5h1m-1 2h1m-.5-11h1m-1 4.5h1m-1 1h1m-1 2.5h1m-1 1h1m-1 5h1m-.5-17.5h1m-1 1h1m-1 13.5h1m-1 .5h1m-1 1h1m-1 2h1m-.5-18h1m-1 1h1m-1 2h1m-1 3h1m-1 1h1m-1 10.5h1m-.5-20.5h1m-1 13h1m-1 2h1m-1 3h1m-.5-3h1m-.5 5h1m-.5-14h1m-1 6h1m-1 4h1m-1 1h1m-1 .5h1m-1 1.5h1m-1 1h1m-.5-4h1m-1 2.5h1m-1 .5h1m-1 1.5h1m0-3h1m-1 2h1m-.5-3h1m-1 2h1" stroke="#78b6ff" stroke-width="1.0" fill="none"/><path d="M243.5 433h1m0 1h1m-.5-1h1m-1 1.5h1m-.5-1h1m-1 1.5h1m-.5-3.5h1m-1 4h1m-1 5.5h1m-.5-6.5h1m-.5 1h1m-.5-1.5h1m-1 2.5h1m-1 4.5h1m-.5-6h1m-1 1h1m-1 .5h1m-1 5.5h1m-.5-8.5h1m-1 5h1m-.5-4h1m-1 5.5h1m-.5-4.5h1m-1 1h1m-1 2h1m-1 1h1m-1 .5h1m-1 1.5h1m-1 1h1m-.5-6.5h1m-1 5h1m-1 .5h1m-1 6h1m-.5-11.5h1m-1 1h1m-1 4.5h1m-.5-6.5h1m-.5-.5h1m-1 5h1m-1 2h1m-1 2h1m-.5-2.5h1m-1 2.5h1m-1 4.5h1m-.5-14h1m-1 12h1m-1 .5h1m-1 2h1m-.5-15h1m-1 1h1m-1 6h1m-1 4.5h1m-1 5.5h1m-.5-12h1m-1 8.5h1m-1 1h1m-1 1h1m-1 .5h1m-.5-15.5h1m-1 8h1m-1 1h1m-1 1h1m-1 2h1m-1 3h1m-1 1.5h1m-.5-17h1m-1 2h1m-1 1.5h1m-1 1.5h1m-1 2.5h1m-1 2.5h1m-1 4.5h1m-1 1h1m-1 1.5h1m-1 1.5h1m-.5-17.5h1m-1 3h1m-1 9.5h1m-1 7.5h1m-.5-19.5h1m-1 1h1m-1 .5h1m-1 4.5h1m-1 2.5h1m-1 3.5h1m-1 1h1m-1 2h1m-.5-14.5h1m-1 1h1m-1 .5h1m-1 4h1m-1 1h1m-1 2.5h1m-1 2.5h1m-1 1h1m-1 4.5h1m-.5-18h1m-1 2.5h1m-1 5h1m-1 .5h1m-1 4h1m-1 1h1m-1 1.5h1m-1 5h1m-.5-16h1m-1 6.5h1m-1 2.5h1m-1 1h1m-1 5.5h1m-.5-17.5h1m-1 5h1m-1 2h1m-1 2.5h1m-1 2h1m-1 2.5h1m-1 1.5h1m-1 1.5h1m-.5-21h1m-1 3h1m-1 2.5h1m-1 3.5h1m-1 1h1m-1 4h1m-1 9h1m-1 1h1m-.5-17h1m-1 2.5h1m-1 5h1m-1 .5h1m-1 .5h1m-1 6h1m-.5-20.5h1m-1 4.5h1m-1 1h1m-1 4.5h1m-1 .5h1m-1 7h1m-1 .5h1m-1 .5h1m-.5-14.5h1m-1 1h1m-1 3.5h1m-1 2h1m-1 1h1m-1 .5h1m-1 4.5h1m-1 1.5h1m-1 1h1m-1 1h1m-.5-17.5h1m-1 3.5h1m-1 4.5h1m-1 2h1m-1 3h1m-1 1h1m-1 2h1m-1 .5h1m-1 3h1m-1 1.5h1m-1 2h1m-.5-21h1m-1 10h1m-1 2h1m-1 1.5h1m-.5-22h1m-1 3.5h1m-1 6.5h1m-1 5h1m-1 1h1m-1 .5h1m-1 10h1m-1 2.5h1m-.5-24.5h1m-1 3.5h1m-1 2h1m-1 2.5h1m-1 2h1m-1 1.5h1m-1 3.5h1m-1 2h1m-1 4.5h1m-.5-26.5h1m-1 2h1m-1 3h1m-1 1h1m-1 4h1m-1 4.5h1m-1 2h1m-1 8.5h1m-.5-18.5h1m-1 1h1m-1 5.5h1m-1 2h1m-1 2.5h1m-1 2.5h1m-1 3h1m-1 3h1m-.5-25h1m-1 1h1m-1 10h1m-1 3h1m-1 .5h1m-1 1h1m-1 7h1m-1 4.5h1m-1 2.5h1m-.5-34.5h1m-1 3.5h1m-1 7.5h1m-1 16h1m-1 1h1m-1 1h1m-1 .5h1m-1 1.5h1m-1 1.5h1m-1 3.5h1m-.5-37.5h1m-1 4h1m-1 1h1m-1 2.5h1m-1 8h1m-1 .5h1m-1 4h1m-1 1.5h1m-1 .5h1m-1 4.5h1m-1 12.5h1m-.5-37h1m-1 3.5h1m-1 4.5h1m-1 2.5h1m-1 8h1m-1 1h1m-1 1h1m-1 1.5h1m-1 6h1m-1 2.5h1m-1 2.5h1m-.5-32h1m-1 2.5h1m-1 .5h1m-1 3.5h1m-1 3h1m-1 1.5h1m-1 .5h1m-1 1.5h1m-1 2.5h1m-1 1.5h1m-1 3.5h1m-1 1.5h1m-1 4h1m-.5-28h1m-1 .5h1m-1 7h1m-1 2h1m-1 .5h1m-1 1h1m-1 4.5h1m-1 4h1m-1 .5h1m-1 1h1m-1 1h1m-1 1h1m-1 1.5h1m-1 5.5h1m-1 .5h1m-1 .5h1m-1 7.5h1m-1 1h1m-.5-40h1m-1 8h1m-1 8h1m-1 2.5h1m-1 7h1m-1 1h1m-1 .5h1m-1 .5h1m-1 2h1m-1 2.5h1m-.5-33.5h1m-1 6.5h1m-1 2.5h1m-1 15h1m-1 1h1m-1 .5h1m-1 3.5h1m-1 1h1m-1 7.5h1m-1 1h1m-.5-38.5h1m-1 10h1m-1 4h1m-1 3.5h1m-1 3.5h1m-1 4h1m-1 1h1m-1 5h1m-1 5h1m-1 5.5h1m-.5-38h1m-1 1h1m-1 13.5h1m-1 5h1m-1 2h1m-1 3h1m-1 4.5h1m-1 2h1m-1 .5h1m-1 1h1m-1 3.5h1m-.5-36h1m-1 3h1m-1 .5h1m-1 2.5h1m-1 8.5h1m-1 1.5h1m-1 4.5h1m-1 3.5h1m-1 5h1m-1 1h1m-1 1h1m-1 4.5h1m-1 .5h1m-1 2.5h1m-.5-43.5h1m-1 4h1m-1 1.5h1m-1 1.5h1m-1 11.5h1m-1 2h1m-1 2h1m-1 2.5h1m-1 1h1m-1 1.5h1m-1 5h1m-1 2h1m-1 1.5h1m-1 1h1m-1 1.5h1m-.5-39h1m-1 1.5h1m-1 6.5h1m-1 3.5h1m-1 4.5h1m-1 .5h1m-1 4.5h1m-1 6.5h1m-1 1.5h1m-1 1.5h1m-1 1.5h1m-1 4.5h1m-1 1h1m-1 2h1m-.5-41h1m-1 1h1m-1 3h1m-1 7h1m-1 7h1m-1 .5h1m-1 1.5h1m-1 8.5h1m-1 6.5h1m-1 6.5h1m-.5-37.5h1m-1 1h1m-1 .5h1m-1 3h1m-1 2h1m-1 .5h1m-1 2.5h1m-1 .5h1m-1 1.5h1m-1 4.5h1m-1 1h1m-1 3h1m-1 2h1m-1 2.5h1m-1 3.5h1m-1 5h1m-1 .5h1m-1 2h1m-1 2.5h1m-.5-42.5h1m-1 6h1m-1 2h1m-1 .5h1m-1 1.5h1m-1 5.5h1m-1 4h1m-1 5h1m-1 9h1m-1 2h1m-.5-29h1m-1 3h1m-1 2h1m-1 4h1m-1 2.5h1m-1 10h1m-1 2.5h1m-1 7h1m-1 3.5h1m-.5-37h1m-1 3.5h1m-1 6.5h1m-1 .5h1m-1 16h1m-1 .5h1m-1 3.5h1m-1 3.5h1m-1 4h1m-.5-38.5h1m-1 2h1m-1 2.5h1m-1 .5h1m-1 4.5h1m-1 5.5h1m-1 3h1m-1 11h1m-1 3h1m-1 2h1m-1 1.5h1m-1 2.5h1m-.5-44h1m-1 .5h1m-1 4h1m-1 4h1m-1 3.5h1m-1 1h1m-1 2h1m-1 1h1m-1 .5h1m-1 5h1m-1 6.5h1m-1 2h1m-1 6.5h1m-1 2.5h1m-1 3.5h1m-.5-40.5h1m-1 9.5h1m-1 .5h1m-1 1.5h1m-1 9h1m-1 11.5h1m-1 6.5h1m-.5-41.5h1m-1 1h1m-1 7h1m-1 5h1m-1 3.5h1m-1 .5h1m-1 .5h1m-1 3h1m-1 9.5h1m-1 .5h1m-1 .5h1m-1 2.5h1m-1 1h1m-1 1h1m-1 1h1m-1 3h1m-1 3.5h1m-.5-41.5h1m-1 4.5h1m-1 6h1m-1 4h1m-1 2.5h1m-1 1.5h1m-1 4.5h1m-1 3h1m-1 .5h1m-1 2.5h1m-1 1.5h1m-1 1.5h1m-1 2h1m-1 3.5h1m-.5-35h1m-1 6.5h1m-1 .5h1m-1 1.5h1m-1 2.5h1m-1 .5h1m-1 2.5h1m-1 3.5h1m-1 1h1m-1 10h1m-1 6h1m-1 1.5h1m-1 .5h1m-.5-36.5h1m-1 1.5h1m-1 2h1m-1 1.5h1m-1 .5h1m-1 6h1m-1 7.5h1m-1 5.5h1m-1 1h1m-1 1h1m-1 .5h1m-1 5h1m-1 1.5h1m-.5-35.5h1m-1 1h1m-1 4.5h1m-1 .5h1m-1 3h1m-1 3h1m-1 2h1m-1 1h1m-1 2.5h1m-1 2.5h1m-1 1h1m-1 12.5h1m-1 4h1m-.5-40h1m-1 1.5h1m-1 4h1m-1 1h1m-1 1h1m-1 .5h1m-1 .5h1m-1 1h1m-1 1h1m-1 4h1m-1 1h1m-1 1.5h1m-1 2.5h1m-1 18.5h1m-1 3h1m-.5-35h1m-1 2h1m-1 2.5h1m-1 2.5h1m-1 12h1m-1 2h1m-1 3h1m-1 5.5h1m-.5-29.5h1m-1 1.5h1m-1 2h1m-1 1h1m-1 .5h1m-1 3.5h1m-1 .5h1m-1 4.5h1m-1 2.5h1m-1 10.5h1m-.5-31.5h1m-1 1.5h1m-1 1.5h1m-1 1.5h1m-1 2.5h1m-1 3.5h1m-1 1h1m-1 5.5h1m-1 3h1m-1 1h1m-1 4.5h1m-1 .5h1m-1 2.5h1m-1 1.5h1m-1 1.5h1m-1 1h1m-1 2.5h1m-.5-35h1m-1 3.5h1m-1 6h1m-1 1h1m-1 2h1m-1 .5h1m-1 1h1m-1 1.5h1m-1 9h1m-1 2.5h1m-1 4h1m-1 .5h1m-1 5.5h1m-.5-39h1m-1 6.5h1m-1 2h1m-1 3.5h1m-1 1h1m-1 2h1m-1 11h1m-1 5.5h1m-1 .5h1m-1 .5h1m-1 3.5h1m-.5-33.5h1m-1 3h1m-1 1.5h1m-1 11.5h1m-1 .5h1m-1 2h1m-1 .5h1m-1 1h1m-1 2h1m-1 10h1m-1 5.5h1m-.5-37.5h1m-1 1h1m-1 10.5h1m-1 1h1m-1 .5h1m-1 5h1m-1 5h1m-1 3h1m-1 3.5h1m-1 2.5h1m-1 .5h1m-.5-30.5h1m-1 3h1m-1 1.5h1m-1 1h1m-1 1h1m-1 3h1m-1 4h1m-1 1.5h1m-.5-17h1m-1 12h1m-1 1.5h1m-1 1h1m-1 1.5h1m-1 3h1m-1 1.5h1m-1 .5h1m-1 1.5h1m-1 .5h1m-1 3.5h1m-1 .5h1m-1 1.5h1m-1 1h1m-1 .5h1m-.5-32h1m-1 1h1m-1 3.5h1m-1 3.5h1m-1 1.5h1m-1 .5h1m-1 5.5h1m-1 6h1m-.5-17.5h1m-1 1.5h1m-1 4h1m-1 7h1m-1 3.5h1m-1 1.5h1m-1 1h1m-1 2.5h1m-1 1h1m-1 1.5h1m-.5-14h1m-1 2.5h1m-1 2h1m-1 .5h1m-1 .5h1m-1 1h1m-1 1.5h1m-1 1h1m-1 5h1m-1 1h1m-1 1h1m-.5-25h1m-1 4.5h1m-1 4.5h1m-.5-6h1m-1 .5h1m-1 8.5h1m-1 4.5h1m-1 1h1m-1 .5h1m-.5-13.5h1m-1 2.5h1m-1 2h1m-1 1h1m-1 8.5h1m-1 1.5h1m-.5-14h1m-1 1h1m-1 4.5h1m-1 1.5h1m-1 .5h1m-1 1h1m-1 2h1m-1 1.5h1m-.5-13h1m-1 .5h1m-1 .5h1m-1 5h1m-1 7.5h1m-1 2h1m-1 .5h1m-.5-20h1m-1 4h1m-1 2.5h1m-1 1h1m-1 1h1m-.5-3h1m-1 .5h1m-.5-1h1m-.5 3.5h1m-1 4h1m0-9.5h1" stroke="#12b2b2" stroke-width="1.0" fill="none"/><path d="M230 400.5h1m2 3.5h1m-.5-7.5h1m-1 2h1m-1 3h1m-.5-5.5h1m-1 3.5h1m-1 .5h1m-1 2h1m-.5-.5h1m-1 2h1m-1 1h1m-1 1h1m-1 1h1m-1 3h1m-.5-9.5h1m-1 2h1m-1 1h1m-1 3.5h1m-.5-7h1m-1 1h1m-.5-5h1m-1 2h1m-1 3.5h1m-1 2.5h1m-.5-8.5h1m-1 2.5h1m-1 4h1m-1 1h1m-1 2.5h1m-.5-8.5h1m-1 1.5h1m-1 2.5h1m-1 3h1m-1 4.5h1m-.5-15h1m-1 3h1m-1 4.5h1m-1 .5h1m-1 .5h1m-1 1.5h1m-1 3h1m-1 1h1m-1 .5h1m-1 2h1m-1 2h1m-.5-17h1m-1 2.5h1m-1 2.5h1m-1 1h1m-1 10h1m-.5-16h1m-1 1h1m-1 2h1m-1 .5h1m-1 2h1m-1 5.5h1m-.5-6h1m-1 1h1m-1 10h1m-.5-17h1m-1 6.5h1m-1 3h1m-1 1h1m-1 5h1m-.5-14.5h1m-1 1h1m-1 1.5h1m-1 3.5h1m-1 2.5h1m-1 3.5h1m-1 1h1m-.5-15h1m-1 2.5h1m-1 .5h1m-1 4h1m-1 2h1m-1 3h1m-1 2h1m-1 2h1m-.5-19h1m-1 4h1m-1 .5h1m-1 1.5h1m-1 .5h1m-1 3h1m-1 1.5h1m-1 5h1m-1 5h1m-.5-17.5h1m-1 .5h1m-1 3h1m-1 5h1m-1 4h1m-1 5h1m-1 2.5h1m-1 2h1m-1 2h1m-.5-27h1m-1 3h1m-1 1.5h1m-1 6h1m-1 4h1m-1 4.5h1m-1 6h1m-1 3.5h1m-.5-27.5h1m-1 3.5h1m-1 5h1m-1 2h1m-1 5.5h1m-.5-12h1m-1 1.5h1m-1 1.5h1m-1 .5h1m-1 1.5h1m-1 11h1m-1 2.5h1m-1 .5h1m-1 .5h1m-1 3.5h1m-.5-30h1m-1 2h1m-1 5.5h1m-1 4h1m-1 6.5h1m-1 2.5h1m-1 .5h1m-1 1.5h1m-1 5h1m-1 2.5h1m-1 2h1m-1 6.5h1m-.5-32.5h1m-1 3h1m-1 2h1m-1 2.5h1m-1 3.5h1m-1 1.5h1m-1 1h1m-1 6h1m-1 2h1m-1 3h1m-1 3h1m-.5-32.5h1m-1 7.5h1m-1 5.5h1m-1 .5h1m-1 2.5h1m-1 1.5h1m-1 2h1m-1 .5h1m-1 4h1m-1 10h1m-1 .5h1m-.5-35h1m-1 2h1m-1 4h1m-1 1.5h1m-1 2.5h1m-1 3.5h1m-1 .5h1m-1 1h1m-1 4h1m-1 2h1m-1 1.5h1m-1 .5h1m-1 2.5h1m-1 .5h1m-1 5.5h1m-1 5h1m-1 1.5h1m-1 3h1m-.5-39h1m-1 2h1m-1 .5h1m-1 .5h1m-1 .5h1m-1 2.5h1m-1 1h1m-1 3h1m-1 3.5h1m-1 .5h1m-1 3h1m-1 6.5h1m-1 3.5h1m-1 1.5h1m-1 2h1m-1 2h1m-1 2h1m-1 5.5h1m-.5-42h1m-1 3.5h1m-1 .5h1m-1 2h1m-1 3.5h1m-1 1h1m-1 4h1m-1 3h1m-1 3h1m-1 8.5h1m-1 .5h1m-1 4.5h1m-1 1h1m-1 2.5h1m-1 3h1m-.5-37h1m-1 .5h1m-1 3h1m-1 1.5h1m-1 3h1m-1 2h1m-1 4h1m-1 2h1m-1 3.5h1m-1 1.5h1m-1 1.5h1m-1 .5h1m-1 4.5h1m-1 1.5h1m-1 3.5h1m-.5-38h1m-1 5h1m-1 .5h1m-1 1.5h1m-1 3.5h1m-1 16h1m-1 5.5h1m-1 2.5h1m-1 5.5h1m-1 2h1m-1 2h1m-.5-41.5h1m-1 4h1m-1 1h1m-1 3.5h1m-1 .5h1m-1 1h1m-1 1.5h1m-1 6.5h1m-1 2.5h1m-1 5h1m-1 4.5h1m-.5-27h1m-1 6h1m-1 1h1m-1 5.5h1m-1 2h1m-1 6h1m-1 3.5h1m-1 1h1m-1 1h1m-1 1h1m-1 1h1m-1 2.5h1m-1 2h1m-.5-38.5h1m-1 3.5h1m-1 1.5h1m-1 .5h1m-1 7.5h1m-1 1h1m-1 2h1m-1 11h1m-1 4h1m-1 3.5h1m-1 1.5h1m-1 2.5h1m-1 4h1m-1 1.5h1m-.5-44.5h1m-1 .5h1m-1 1.5h1m-1 2h1m-1 2h1m-1 2h1m-1 5h1m-1 7.5h1m-1 2.5h1m-1 .5h1m-1 4h1m-1 2h1m-1 1.5h1m-1 2.5h1m-1 1.5h1m-1 1.5h1m-1 3.5h1m-1 1h1m-1 2h1m-1 2h1m-1 1h1m-.5-45.5h1m-1 2.5h1m-1 .5h1m-1 3h1m-1 3h1m-1 .5h1m-1 1.5h1m-1 9.5h1m-1 4h1m-1 1.5h1m-1 1.5h1m-1 1h1m-1 7.5h1m-.5-31.5h1m-1 .5h1m-1 3.5h1m-1 2.5h1m-1 2h1m-1 4.5h1m-1 7.5h1m-1 2h1m-1 2.5h1m-1 3h1m-1 5h1m-1 .5h1m-1 2h1m-1 6.5h1m-1 1h1m-.5-45h1m-1 1.5h1m-1 1h1m-1 .5h1m-1 1.5h1m-1 4h1m-1 5h1m-1 6.5h1m-1 5h1m-1 2h1m-1 3.5h1m-1 8h1m-1 3.5h1m-1 1h1m-.5-39.5h1m-1 .5h1m-1 5.5h1m-1 3h1m-1 9.5h1m-1 1.5h1m-.5-25h1m-1 5.5h1m-1 4h1m-1 3h1m-1 1.5h1m-1 9.5h1m-1 1.5h1m-1 .5h1m-1 1.5h1m-1 9h1m-1 2h1m-1 .5h1m-1 3h1m-1 3h1m-.5-45.5h1m-1 1h1m-1 1h1m-1 .5h1m-1 16.5h1m-1 8.5h1m-1 1.5h1m-1 .5h1m-1 5.5h1m-1 3h1m-1 8.5h1m-.5-41.5h1m-1 2h1m-1 1.5h1m-1 4.5h1m-1 .5h1m-1 .5h1m-1 1.5h1m-1 3h1m-1 12h1m-1 9.5h1m-1 7h1m-.5-38h1m-1 1h1m-1 .5h1m-1 1h1m-1 3h1m-1 2h1m-1 1h1m-1 4.5h1m-1 .5h1m-1 9h1m-1 .5h1m-1 9h1m-1 4.5h1m-1 2.5h1m-.5-47.5h1m-1 1h1m-1 1h1m-1 3.5h1m-1 11h1m-1 1.5h1m-1 3.5h1m-1 .5h1m-1 3.5h1m-1 1.5h1m-1 1.5h1m-1 3.5h1m-1 9.5h1m-1 1.5h1m-.5-44h1m-1 3.5h1m-1 1h1m-1 .5h1m-1 1.5h1m-1 .5h1m-1 3h1m-1 1.5h1m-1 2h1m-1 2h1m-1 2.5h1m-1 1.5h1m-1 3.5h1m-1 3.5h1m-1 2h1m-1 4h1m-1 1.5h1m-1 1.5h1m-1 2.5h1m-1 4.5h1m-1 1h1m-1 .5h1m-1 1h1m-1 1.5h1m-.5-44h1m-1 8.5h1m-1 6.5h1m-1 2h1m-1 .5h1m-1 .5h1m-1 .5h1m-1 1.5h1m-1 .5h1m-1 7.5h1m-1 1.5h1m-1 3h1m-1 .5h1m-1 3h1m-1 4h1m-1 1.5h1m-1 4h1m-1 2h1m-.5-51h1m-1 10.5h1m-1 9h1m-1 1h1m-1 4h1m-1 2h1m-1 1.5h1m-1 1.5h1m-1 8.5h1m-1 10h1m-.5-47.5h1m-1 1.5h1m-1 2.5h1m-1 3h1m-1 2h1m-1 4h1m-1 6.5h1m-1 1.5h1m-1 3.5h1m-1 2.5h1m-1 1.5h1m-1 1h1m-1 7h1m-1 3.5h1m-.5-34h1m-1 3h1m-1 2h1m-1 3h1m-1 .5h1m-1 .5h1m-1 1.5h1m-1 1h1m-1 2.5h1m-1 2h1m-1 .5h1m-1 6h1m-1 .5h1m-1 1h1m-1 2h1m-1 11.5h1m-1 2h1m-1 2h1m-1 .5h1m-.5-44h1m-1 2.5h1m-1 .5h1m-1 1.5h1m-1 1h1m-1 .5h1m-1 1h1m-1 3h1m-1 2h1m-1 2h1m-1 11.5h1m-1 10.5h1m-1 3h1m-1 1h1m-.5-42h1m-1 1.5h1m-1 1.5h1m-1 .5h1m-1 .5h1m-1 1h1m-1 1h1m-1 3h1m-1 6h1m-1 1.5h1m-1 8h1m-1 18h1m-1 1h1m-1 1h1m-1 .5h1m-1 .5h1m-.5-47h1m-1 7.5h1m-1 .5h1m-1 3h1m-1 4.5h1m-1 7.5h1m-1 4h1m-1 1h1m-1 2h1m-1 1.5h1m-1 7h1m-.5-28.5h1m-1 13.5h1m-1 4.5h1m-1 5h1m-1 2h1m-1 6.5h1m-1 2h1m-1 2.5h1m-.5-43h1m-1 10.5h1m-1 21h1m-1 1h1m-1 4h1m-1 1.5h1m-1 .5h1m-1 4.5h1m-1 .5h1m-.5-42h1m-1 3.5h1m-1 3.5h1m-1 2h1m-1 .5h1m-1 5h1m-1 6.5h1m-1 3h1m-1 1h1m-1 3.5h1m-1 1.5h1m-1 2.5h1m-1 1.5h1m-1 4.5h1m-1 1.5h1m-.5-44h1m-1 .5h1m-1 2.5h1m-1 4h1m-1 4.5h1m-1 2h1m-1 1h1m-1 .5h1m-1 13.5h1m-1 1h1m-1 2.5h1m-1 2.5h1m-1 .5h1m-1 .5h1m-1 4h1m-1 1h1m-1 1.5h1m-.5-40h1m-1 2h1m-1 5h1m-1 1.5h1m-1 10.5h1m-1 1.5h1m-1 3.5h1m-1 3h1m-1 13.5h1m-1 2.5h1m-.5-45.5h1m-1 1h1m-1 3.5h1m-1 1h1m-1 2h1m-1 1.5h1m-1 1.5h1m-1 7.5h1m-1 5.5h1m-1 14h1m-1 1h1m-1 1h1m-1 3.5h1m-.5-42h1m-1 6.5h1m-1 1.5h1m-1 1h1m-1 2.5h1m-1 4h1m-1 3h1m-1 2h1m-1 4h1m-1 3h1m-1 6.5h1m-1 1.5h1m-1 3h1m-.5-38.5h1m-1 .5h1m-1 4.5h1m-1 4h1m-1 1.5h1m-1 .5h1m-1 6.5h1m-1 16.5h1m-1 1h1m-1 3h1m-1 .5h1m-1 4h1m-.5-42.5h1m-1 3h1m-1 1.5h1m-1 5.5h1m-1 2h1m-1 2.5h1m-1 2.5h1m-1 .5h1m-1 2.5h1m-1 3.5h1m-1 2.5h1m-1 1.5h1m-1 2h1m-1 .5h1m-1 2.5h1m-1 .5h1m-1 1h1m-1 .5h1m-1 4h1m-1 .5h1m-1 2h1m-1 3.5h1m-.5-33.5h1m-1 .5h1m-1 4h1m-1 1h1m-1 1.5h1m-1 1.5h1m-1 3.5h1m-1 3.5h1m-1 2h1m-1 2h1m-1 1h1m-1 1h1m-1 1.5h1m-1 1.5h1m-1 1h1m-1 .5h1m-1 .5h1m-1 .5h1m-1 1h1m-1 1h1m-1 5.5h1m-.5-48h1m-1 6h1m-1 4.5h1m-1 5h1m-1 1h1m-1 .5h1m-1 4.5h1m-1 .5h1m-1 6.5h1m-1 3.5h1m-1 5.5h1m-1 .5h1m-1 3h1m-.5-38.5h1m-1 2.5h1m-1 3h1m-1 2h1m-1 3h1m-1 1.5h1m-1 4h1m-1 .5h1m-1 6.5h1m-1 6.5h1m-1 1.5h1m-1 3.5h1m-1 .5h1m-1 1h1m-1 2.5h1m-.5-38h1m-1 3.5h1m-1 .5h1m-1 .5h1m-1 4.5h1m-1 1.5h1m-1 1h1m-1 3h1m-1 .5h1m-1 2.5h1m-1 1.5h1m-1 1h1m-1 2h1m-1 4.5h1m-1 6.5h1m-1 .5h1m-.5-19.5h1m-1 4h1m-1 .5h1m-1 2h1m-1 8.5h1m-1 .5h1m-1 1.5h1m-1 4h1m-.5-35.5h1m-1 6.5h1m-1 2.5h1m-1 12h1m-1 9h1m-1 3.5h1m-1 2.5h1m-1 1.5h1m-.5-37.5h1m-1 1h1m-1 3.5h1m-1 2h1m-1 3.5h1m-1 4.5h1m-1 1h1m-1 3.5h1m-1 .5h1m-1 7.5h1m-1 5h1m-1 .5h1m-.5-32.5h1m-1 6.5h1m-1 1h1m-1 1.5h1m-1 2.5h1m-1 6.5h1m-1 1h1m-1 9.5h1m-1 .5h1m-1 5h1m-1 .5h1m-.5-30.5h1m-1 7h1m-1 .5h1m-1 4.5h1m-1 2h1m-1 4h1m-1 .5h1m-1 1h1m-1 .5h1m-1 3h1m-1 7.5h1m-.5-30.5h1m-1 1.5h1m-1 2h1m-1 8h1m-1 2h1m-1 3h1m-1 1h1m-1 1h1m-1 3h1m-1 9h1m-.5-31.5h1m-1 .5h1m-1 7h1m-1 7.5h1m-1 1h1m-1 2h1m-1 4h1m-1 .5h1m-1 .5h1m-1 3.5h1m-1 4.5h1m-.5-23h1m-1 1h1m-1 3h1m-1 14h1m-1 1.5h1m-.5-14h1m-1 4h1m-1 .5h1m-1 4.5h1m-1 .5h1m-1 3.5h1m-.5-25.5h1m-1 1.5h1m-1 5h1m-1 3h1m-1 2h1m-1 .5h1m-1 1.5h1m-1 4h1m-1 1.5h1m-1 2h1m-1 .5h1m-1 .5h1m-1 1h1m-1 2h1m-.5-26h1m-1 1h1m-1 .5h1m-1 5h1m-1 1h1m-1 .5h1m-1 1.5h1m-1 3h1m-1 .5h1m-1 2.5h1m-1 3h1m-1 2h1m-1 4h1m-.5-23.5h1m-1 2h1m-1 3h1m-1 .5h1m-1 2h1m-1 .5h1m-1 3.5h1m-1 4.5h1m-1 1.5h1m-1 4h1m-1 .5h1m-1 2h1m-.5-23.5h1m-1 11.5h1m-1 2.5h1m-1 .5h1m-1 8h1m-1 3h1m-.5-21h1m-1 2h1m-1 1.5h1m-1 6h1m-1 5.5h1m-1 .5h1m-1 1h1m-1 .5h1m-1 3.5h1m-1 1.5h1m-.5-26.5h1m-1 1h1m-1 3h1m-1 4.5h1m-1 1h1m-1 1h1m-1 2.5h1m-1 5h1m-1 5h1m-.5-18h1m-1 1h1m-1 12h1m-1 5.5h1m-1 .5h1m-1 .5h1m-.5-10.5h1m-1 3.5h1m-1 2.5h1m-1 4h1m-.5-19h1m-1 4.5h1m-1 2h1m-1 1h1m-1 .5h1m-1 2h1m-.5-9.5h1m-1 1h1m-1 11h1m-1 2h1m-1 .5h1m-1 4h1m-.5-20h1m-1 2.5h1m-1 2.5h1m-1 6.5h1m-1 1.5h1m-1 2h1m-1 4.5h1m-1 .5h1m-.5-15.5h1m-1 9h1m-1 .5h1m-1 2.5h1m-1 .5h1m-1 2h1m-1 1.5h1m-.5-15.5h1m-1 .5h1m-1 4.5h1m-1 3.5h1m-1 .5h1m-1 5h1m-.5-9.5h1m-1 1h1m-1 1.5h1m-1 1.5h1m-1 1.5h1m-.5-4h1m-1 1.5h1m-1 1h1m-1 .5h1m-.5-3.5h1m-1 1.5h1m-.5-3h1m-1 1.5h1m-1 2h1m-1 2h1m-1 2.5h1m-1 1h1m-.5-8h1m-1 2.5h1m-1 3.5h1m-1 2.5h1m-.5-10h1m-1 1.5h1m-.5 6.5h1m-.5 1h1" stroke="#0a0af0" stroke-width="1.0" fill="none"/><path d="M273.5 378h1m.5 1.5h1m-1 1h1m-1 7.5h1m-.5-12.5h1m-1 2h1m-1 1h1m-1 1h1m-1 6h1m-.5-5.5h1m-1 2h1m-.5-9h1m-1 4h1m-1 1h1m-1 4h1m-1 4.5h1m-.5-13h1m-1 10h1m-.5-6h1m-1 4.5h1m-1 1.5h1m-.5-6.5h1m-1 2h1m-1 3h1m-1 2h1m-1 3h1m-.5-13h1m-1 5.5h1m-1 6.5h1m-.5-11.5h1m-1 .5h1m-1 4.5h1m-1 1.5h1m-1 2h1m-.5-10.5h1m-1 1.5h1m-1 2h1m-1 1.5h1m-1 .5h1m-1 9.5h1m-1 3h1m-.5-12h1m-1 1h1m-1 3h1m-1 6h1m-1 17h1m-.5-28.5h1m-1 .5h1m-1 8.5h1m-1 4h1m-1 1h1m-1 10h1m-.5-29.5h1m-1 7h1m-1 1h1m-1 10.5h1m-1 1.5h1m-.5-15.5h1m-1 3h1m-1 4.5h1m-1 1.5h1m-1 2h1m-1 .5h1m-1 26h1m-.5-34.5h1m-1 4.5h1m-1 6.5h1m-.5-17.5h1m-1 1.5h1m-1 3.5h1m-1 1.5h1m-1 2.5h1m-1 3.5h1m-1 5.5h1m-1 13.5h1m-1 2h1m-1 3h1m-.5-35h1m-1 4h1m-1 1.5h1m-1 .5h1m-1 2h1m-1 1h1m-1 1h1m-1 4h1m-1 .5h1m-1 2h1m-1 .5h1m-.5-17h1m-1 2h1m-1 2.5h1m-1 1.5h1m-1 1.5h1m-.5-10.5h1m-1 2h1m-1 1.5h1m-1 11.5h1m-1 .5h1m-1 1.5h1m-1 6.5h1m-.5-14h1m-1 .5h1m-1 1.5h1m-1 5h1m-1 .5h1m-1 2h1m-1 2h1m-1 2.5h1m-1 13.5h1m-.5-36h1m-1 1.5h1m-1 1.5h1m-1 1h1m-1 2h1m-1 1h1m-1 1.5h1m-1 6h1m-1 .5h1m-1 1.5h1m-1 10.5h1m-.5-18.5h1m-1 4h1m-1 1.5h1m-1 1.5h1m-1 2.5h1m-1 13h1m-.5-30h1m-1 1h1m-1 .5h1m-1 1h1m-1 2h1m-1 8h1m-1 11.5h1m-1 11.5h1m-.5-36.5h1m-1 1h1m-1 2h1m-1 1h1m-1 2h1m-1 2.5h1m-1 3.5h1m-.5-15h1m-1 10h1m-1 .5h1m-1 .5h1m-1 2h1m-1 1h1m-1 2.5h1m-1 3.5h1m-1 5h1m-1 15h1m-.5-37h1m-1 2.5h1m-1 1.5h1m-1 3h1m-1 2h1m-1 3.5h1m-1 1h1m-1 2h1m-1 2.5h1m-1 5h1m-.5-26h1m-1 2h1m-1 2h1m-1 5h1m-1 .5h1m-1 .5h1m-1 1h1m-1 2.5h1m-1 .5h1m-1 2h1m-1 10h1m-1 2.5h1m-1 13.5h1m-.5-36h1m-1 7h1m-1 3h1m-1 3.5h1m-1 3.5h1m-1 2.5h1m-1 1h1m-1 1.5h1m-1 3.5h1m-.5-21.5h1m-1 1h1m-1 11.5h1m-1 .5h1m-1 .5h1m-1 2h1m-1 .5h1m-1 3h1m-1 .5h1m-.5-25.5h1m-1 1.5h1m-1 5h1m-1 2h1m-1 4.5h1m-1 4.5h1m-1 21h1m-.5-37h1m-1 .5h1m-1 .5h1m-1 .5h1m-1 3h1m-1 15h1m-1 14h1m-.5-37.5h1m-1 2.5h1m-1 3.5h1m-1 1h1m-1 12.5h1m-1 3h1m-.5-23h1m-1 3.5h1m-1 1h1m-1 3h1m-1 .5h1m-1 1.5h1m-1 .5h1m-1 11h1m-1 1h1m-1 8h1m-1 2.5h1m-.5-27h1m-1 .5h1m-1 15.5h1m-1 6h1m-1 4.5h1m-.5-19h1m-1 5.5h1m-1 1h1m-1 2.5h1m-1 1h1m-1 20.5h1m-.5-38.5h1m-1 5h1m-1 .5h1m-1 3.5h1m-1 9.5h1m-.5-24.5h1m-1 3.5h1m-1 3h1m-1 6.5h1m-1 1h1m-1 1.5h1m-1 1h1m-1 .5h1m-1 1.5h1m-.5-12.5h1m-1 1h1m-1 1.5h1m-1 1.5h1m-1 1h1m-1 5h1m-1 1.5h1m-1 5h1m-1 7.5h1m-.5-27h1m-1 6.5h1m-1 1.5h1m-1 1h1m-1 7.5h1m-1 1h1m-1 .5h1m-1 1h1m-1 2.5h1m-1 11h1m-.5-21.5h1m-1 .5h1m-1 7h1m-1 3h1m-.5-14h1m-1 .5h1m-1 4.5h1m-1 3h1m-1 1.5h1m-1 7h1m-1 5.5h1m-1 10h1m-.5-35.5h1m-1 7h1m-1 3h1m-1 1.5h1m-1 2.5h1m-1 .5h1m-1 2.5h1m-1 5.5h1m-.5-22h1m-1 9.5h1m-1 1h1m-1 23.5h1m-1 .5h1m-.5-36.5h1m-1 2h1m-1 9.5h1m-1 .5h1m-1 .5h1m-1 13.5h1m-1 6.5h1m-1 7h1m-.5-37h1m-1 .5h1m-1 26.5h1m-.5-26h1m-1 .5h1m-1 2.5h1m-1 1.5h1m-1 .5h1m-1 .5h1m-1 3.5h1m-1 12h1m-1 9.5h1m-.5-28h1m-1 8h1m.5-8.5h1" stroke="#00007a" stroke-width="1.0" fill="none"/><path d="M292.5 506.5h1m.5 0h1m-1 1h1m-.5-.5h1m-.5-7h1m-.5 3h1m-1 .5h1m-1 4.5h1m-1 1.5h1m-.5-2h1m-.5-4.5h1m-1 .5h1m-1 3.5h1m-.5-6.5h1m-1 .5h1m-1 2.5h1m-1 4h1m-1 5h1m-.5-13h1m-1 2.5h1m-1 4.5h1m-.5-7h1m-1 2.5h1m-.5 2.5h1m-1 1h1m-1 3h1m-1 2.5h1m-.5-7.5h1m-1 1h1m-1 1.5h1m-.5 0h1m-1 .5h1m-1 2h1m-1 3.5h1m-1 4h1m0-14h1m-1 .5h1m-1 4.5h1m-1 1h1m-1 7.5h1m-.5-14.5h1m-.5 3.5h1m-1 9h1m-.5-7h1m-1 1h1m-1 6.5h1m-.5-3.5h1m-.5-12h1m-1 1.5h1m-1 1.5h1m-1 2h1m-1 .5h1m-1 1h1m-1 .5h1m-.5-1.5h1m-1 .5h1m-1 1h1m-1 4.5h1m-1 6h1m-1 1h1m0-14h1m-1 1h1m-1 7h1m-1 3h1m-1 .5h1m-.5-11h1m-1 9.5h1m-.5-13h1m-1 8h1m-1 9.5h1m-.5-14.5h1m-1 2h1m-1 5.5h1m-1 6.5h1m-.5-16h1m-1 2.5h1m-1 9.5h1m-.5-10.5h1m-1 7.5h1m-.5-10h1m-1 7.5h1m-1 4.5h1m-1 4.5h1m-.5-7.5h1m-1 2h1m-1 1.5h1m-1 2h1m-.5-10h1m-1 3h1m-1 9h1m-.5-18h1m-1 1.5h1m-1 3h1m-1 7h1m-1 5.5h1m-1 1h1m-.5-9.5h1m-1 2h1m-1 2.5h1m-1 4.5h1m-.5-11.5h1m-1 .5h1m-1 3h1m-1 1h1m-1 3h1m-1 .5h1m-1 1h1m-.5-6.5h1m-1 3h1m-1 1h1m-.5-2.5h1m-1 2h1m-1 1h1m-.5-8h1m-1 3.5h1m-1 4h1m-.5-6h1m-1 1h1m-1 1.5h1m-1 3.5h1m-1 1h1m-1 1.5h1m-1 1h1m-.5-1.5h1m-.5-10h1m-1 2h1m-1 .5h1m-1 .5h1m-1 4h1m-1 1h1m-1 1.5h1m-.5-10.5h1m-1 4.5h1m-1 1.5h1m-1 .5h1m-1 1h1m-.5-7.5h1m-1 12.5h1m-1 .5h1m-1 .5h1m-.5-10h1m-1 .5h1m-1 4.5h1m-1 .5h1m-.5-5h1m-1 2.5h1m-1 .5h1m-1 4h1m-.5-3h1m-1 .5h1m-.5 .5h1m-.5-4.5h1m-1 4.5h1m-.5-4.5h1m-.5 6h1m-.5-4.5h1m-.5 4h1m-.5-2.5h1m-.5-.5h1" stroke="#c81ad8" stroke-width="1.0" fill="none"/><path d="M291.5 478h1m-.5-20h1m-1 9h1m-1 1h1m-.5 3h1m-1 9h1m-1 1h1m-.5-13h1m-1 7.5h1m-.5-9.5h1m-1 11.5h1m-1 6h1m-.5-23.5h1m-1 8.5h1m-1 .5h1m-1 .5h1m-1 3h1m-1 1h1m-1 2h1m-1 3h1m-1 9h1m-.5-27h1m-1 5h1m-1 10h1m-1 2h1m-1 3h1m-1 2h1m-.5-26h1m-1 7h1m-1 3.5h1m-1 4h1m-1 1h1m-1 2h1m-1 .5h1m-1 2h1m-1 .5h1m-.5-13h1m-1 1.5h1m-1 3.5h1m-1 9.5h1m-1 2h1m-1 3.5h1m-1 1h1m-.5-13.5h1m-1 4h1m-1 14h1m-1 .5h1m-.5-16.5h1m-1 2.5h1m-1 3h1m-1 2.5h1m-1 1h1m-1 5h1m-1 .5h1m-.5-24.5h1m-1 .5h1m-1 .5h1m-1 3h1m-1 11.5h1m-1 1h1m-1 1h1m-1 2.5h1m-1 .5h1m-1 .5h1m-1 6h1m-1 5h1m-.5-35.5h1m-1 9h1m-1 1h1m-1 3h1m-1 4.5h1m-1 4.5h1m-1 1.5h1m-1 .5h1m-1 3.5h1m-1 5h1m-.5-26h1m-1 4h1m-1 2h1m-1 11h1m-1 3h1m-1 .5h1m-1 4h1m-1 .5h1m-.5-26h1m-1 2.5h1m-1 4h1m-1 .5h1m-1 7h1m-1 6.5h1m-1 2h1m-1 .5h1m-1 .5h1m-1 3h1m-1 .5h1m-.5-26h1m-1 5h1m-1 1h1m-1 .5h1m-1 15h1m-1 6.5h1m-.5-28h1m-1 1h1m-1 4h1m-1 3.5h1m-1 2.5h1m-1 4h1m-.5-17.5h1m-1 6h1m-1 9.5h1m-1 1.5h1m-1 3h1m-1 .5h1m-1 1h1m-1 4h1m-1 .5h1m-1 3h1m-.5-31h1m-1 3.5h1m-1 4.5h1m-1 3h1m-1 1.5h1m-1 1.5h1m-1 1.5h1m-1 1.5h1m-1 2h1m-1 12.5h1m-.5-35.5h1m-1 5.5h1m-1 1.5h1m-1 3.5h1m-1 2h1m-1 2.5h1m-1 1h1m-1 6h1m-1 4h1m-1 3.5h1m-1 5.5h1m-1 3h1m-1 1.5h1m-.5-33h1m-1 3h1m-1 6h1m-1 1h1m-1 .5h1m-1 2.5h1m-1 .5h1m-1 3.5h1m-1 5.5h1m-1 10.5h1m-.5-41.5h1m-1 7.5h1m-1 1.5h1m-1 4.5h1m-1 .5h1m-1 1.5h1m-1 3h1m-1 1.5h1m-1 1h1m-1 9.5h1m-1 1h1m-1 3h1m-1 1.5h1m-1 .5h1m-1 1.5h1m-1 2h1m-1 2.5h1m-.5-43.5h1m-1 9.5h1m-1 5.5h1m-1 3.5h1m-1 3h1m-1 2h1m-1 4.5h1m-1 13.5h1m-1 1.5h1m-.5-34h1m-1 5.5h1m-1 5.5h1m-1 .5h1m-1 8.5h1m-1 4.5h1m-1 8h1m-.5-30.5h1m-1 .5h1m-1 2h1m-1 2.5h1m-1 4h1m-1 2.5h1m-1 4h1m-1 2h1m-1 1h1m-1 1h1m-1 1h1m-1 1h1m-1 4.5h1m-.5-32h1m-1 4.5h1m-1 5h1m-1 .5h1m-1 9.5h1m-1 .5h1m-1 3h1m-1 2h1m-1 5h1m-1 5h1m-1 1h1m-1 2h1m-.5-37h1m-1 2.5h1m-1 1h1m-1 2.5h1m-1 8h1m-1 2h1m-1 3.5h1m-1 3.5h1m-1 3h1m-1 1h1m-1 1.5h1m-1 .5h1m-1 .5h1m-1 5.5h1m-1 .5h1m-.5-32h1m-1 .5h1m-1 3.5h1m-1 .5h1m-1 3h1m-1 .5h1m-1 .5h1m-1 10h1m-1 1h1m-1 15h1m-.5-37.5h1m-1 3h1m-1 10h1m-1 5.5h1m-1 .5h1m-1 3h1m-1 4.5h1m-1 4h1m-1 2.5h1m-1 .5h1m-.5-33.5h1m-1 5h1m-1 3h1m-1 1.5h1m-1 .5h1m-1 5h1m-1 5.5h1m-1 7.5h1m-1 3.5h1m-.5-29.5h1m-1 10.5h1m-1 .5h1m-1 1.5h1m-1 11h1m-1 3h1m-1 .5h1m-1 6h1m-1 1.5h1m-1 1.5h1m-.5-38.5h1m-1 1h1m-1 4.5h1m-1 4h1m-1 2.5h1m-1 1.5h1m-1 .5h1m-1 4.5h1m-1 2.5h1m-1 2.5h1m-1 .5h1m-1 6h1m-1 .5h1m-1 1h1m-1 1.5h1m-1 1.5h1m-1 1h1m-1 .5h1m-.5-30h1m-1 4h1m-1 .5h1m-1 6.5h1m-1 .5h1m-1 1h1m-1 7h1m-1 2h1m-1 6h1m-1 3.5h1m-1 1h1m-.5-38.5h1m-1 8h1m-1 3h1m-1 8.5h1m-1 .5h1m-1 2.5h1m-1 2.5h1m-1 2h1m-1 .5h1m-1 3.5h1m-1 .5h1m-1 6.5h1m-.5-25h1m-1 2h1m-1 8.5h1m-1 2h1m-1 1h1m-1 1.5h1m-1 1h1m-1 1h1m-1 4h1m-1 3h1m-1 1h1m-.5-37h1m-1 1.5h1m-1 4h1m-1 17.5h1m-1 1h1m-1 2.5h1m-1 1.5h1m-1 4.5h1m-.5-31h1m-1 2h1m-1 2.5h1m-1 3h1m-1 1.5h1m-1 1h1m-1 3.5h1m-1 .5h1m-1 2.5h1m-1 2.5h1m-1 4.5h1m-1 2h1m-1 3.5h1m-.5-30h1m-1 2h1m-1 8.5h1m-1 1.5h1m-1 3.5h1m-1 8.5h1m-1 1h1m-1 9.5h1m-1 2.5h1m-.5-38h1m-1 2h1m-1 .5h1m-1 2h1m-1 8.5h1m-1 .5h1m-1 1.5h1m-1 2h1m-1 9.5h1m-1 2.5h1m-1 1h1m-1 .5h1m-1 5h1m-.5-35h1m-1 4.5h1m-1 1h1m-1 2.5h1m-1 2h1m-1 .5h1m-1 9h1m-1 3h1m-1 1h1m-1 1.5h1m-1 3.5h1m-1 3.5h1m-1 6h1m-.5-36.5h1m-1 1.5h1m-1 1.5h1m-1 1.5h1m-1 2h1m-1 27.5h1m-.5-37h1m-1 2.5h1m-1 4h1m-1 6.5h1m-1 1.5h1m-1 .5h1m-1 1h1m-1 .5h1m-1 9.5h1m-1 8.5h1m-.5-29h1m-1 2.5h1m-1 3h1m-1 .5h1m-1 11h1m-.5-14.5h1m-1 2.5h1m-1 2h1m-1 3.5h1m-1 9.5h1m-.5-23h1m-1 9.5h1m-1 3.5h1m-.5-5.5h1m-1 1h1m-1 6h1m-.5-12h1m-1 4.5h1m-1 13.5h1m-.5-16.5h1m-1 3.5h1m-1 .5h1m-.5-4h1m-.5 5h1m-.5-10h1m-.5-4h1m0 3.5h1m-.5 4h1m-.5 2h1m-.5-3.5h1m-1 1h1" stroke="#f20a0a" stroke-width="1.0" fill="none"/><path d="M281 452.5h1m-.5 5h1m-.5-4.5h1m-1 .5h1m-1 7.5h1m0-9.5h1m-1 3.5h1m-1 1.5h1m-1 .5h1m-.5-11h1m-1 7h1m-1 .5h1m-1 5.5h1m-1 1.5h1m-1 1.5h1m-.5-3.5h1m-1 4h1m-.5-1h1m-.5-17h1m-1 5.5h1m-1 8h1m-1 6.5h1m-.5-19h1m-1 .5h1m-1 10h1m-1 4h1m-.5-11.5h1m-1 7.5h1m-1 .5h1m-.5-12.5h1m-1 3h1m-1 1h1m-1 2h1m-1 1h1m-1 6.5h1m-1 7h1m-.5-19h1m-1 4h1m-.5-4.5h1m-1 2.5h1m-1 1.5h1m-1 1.5h1m-1 6.5h1m-1 .5h1m-1 2h1m-.5-13h1m-1 4h1m-1 1.5h1m-1 .5h1m-1 1.5h1m-1 1h1m-1 4.5h1m-1 2.5h1m-.5-11.5h1m-1 1h1m-1 4.5h1m-1 .5h1m-1 3h1m-1 2h1m-.5-17.5h1m-1 6.5h1m-1 2h1m-1 .5h1m-1 .5h1m-1 .5h1m-1 9.5h1m-.5-20h1m-1 4h1m-1 2.5h1m-1 .5h1m-1 .5h1m-1 3h1m-1 2h1m-1 5h1m-1 .5h1m-1 .5h1m-.5-19h1m-1 3h1m-1 10.5h1m-1 3h1m-1 2.5h1m-1 3.5h1m-.5-22.5h1m-1 1.5h1m-1 7h1m-1 5.5h1m-1 .5h1m-1 7h1m-.5-22.5h1m-1 1.5h1m-1 9.5h1m-1 4.5h1m-1 6.5h1m-.5-16.5h1m-1 2.5h1m-1 3h1m-1 4.5h1m-.5-14h1m-1 1.5h1m-1 8h1m-1 2h1m-1 .5h1m-1 3.5h1m-1 1h1m-1 .5h1m-1 4h1m-.5-15h1m-1 2.5h1m-1 7h1m-1 3h1m-1 1h1m-.5-21h1m-1 1h1m-1 3h1m-1 4h1m-1 5.5h1m-1 3.5h1m-1 3.5h1m-.5-13h1m-1 9.5h1m-1 1h1m-1 3.5h1m-.5-22h1m-1 6h1m-1 6h1m-1 1h1m-1 6.5h1m-1 2h1m-.5-19.5h1m-1 11h1m-1 3h1m-1 1h1m-1 4h1m-.5-21h1m-1 .5h1m-1 4h1m-1 1.5h1m-1 2h1m-1 1h1m-1 4h1m-1 5h1m-.5-8h1m-1 1.5h1m-1 7h1m-.5-16.5h1m-1 6h1m-1 6.5h1m-.5-8h1" stroke="#a00a0a" stroke-width="1.0" fill="none"/><path d="M309 416.5h1m-1 15h1m0-15.5h1m1 0h1m-.5-.5h1m-1 3h1m-.5-4h1m-1 2h1m0 0h1m-1 6.5h1m-1 1h1m-1 2.5h1m-.5-7h1m-1 3.5h1m-.5-12h1m-1 3h1m-1 3.5h1m-1 4.5h1m-1 5.5h1m-.5-11.5h1m-1 5.5h1m-.5-7.5h1m-1 1h1m-1 1h1m-1 3h1m-1 4h1m-1 1.5h1m-1 1.5h1m-1 2.5h1m-.5-13.5h1m-1 6h1m-1 1h1m-.5-6h1m-1 1h1m-1 .5h1m-1 2.5h1m-.5-2h1m-1 5.5h1m-1 1h1m-.5-7h1m-1 .5h1m-1 2h1m-1 2.5h1m-1 2.5h1m-1 5.5h1m-.5-16h1m-1 3h1m-1 4h1m-.5-9.5h1m-1 5.5h1m-1 6h1m-.5-8h1m-1 5.5h1m-.5-6h1m-.5-3h1m-1 8.5h1m-.5-1h1m-1 1.5h1m-1 8.5h1m-.5-17h1m-1 4h1m-.5 2h1m0-2h1m-1 1.5h1m-.5 14h1m-.5-10.5h1m.5 3.5h1" stroke="#c81ad8" stroke-width="1.0" fill="none"/><path d="M353.5 444.5h1m-.5-2h1m-.5 1h1m-1 1h1m.5-49.5h1m-1 4.5h1m-1 1h1m-1 29h1m-1 12.5h1m-1 1.5h1m-1 3h1m-.5-44.5h1m-1 44.5h1m-.5-50h1m-1 13.5h1m-1 32.5h1m-1 2.5h1m-.5-47h1m-1 4h1m-1 .5h1m-1 35.5h1m-1 .5h1m-1 2h1m-1 5.5h1m-.5-47.5h1m-1 8.5h1m-1 3h1m-1 15.5h1m-1 3h1m-1 7h1m-1 5.5h1m-1 .5h1m-1 2h1m-.5-45.5h1m-1 6.5h1m-1 2.5h1m-1 1h1m-1 4.5h1m-1 14h1m-1 11h1m-1 2h1m-1 1.5h1m-.5-47.5h1m-1 2h1m-1 4.5h1m-1 1h1m-1 3.5h1m-1 .5h1m-1 2.5h1m-1 15h1m-1 2.5h1m-1 .5h1m-1 3h1m-1 1h1m-1 1.5h1m-1 3h1m-1 2.5h1m-1 6.5h1m-1 .5h1m-1 1h1m-.5-48h1m-1 7h1m-1 4h1m-1 2h1m-1 2.5h1m-1 3.5h1m-1 .5h1m-1 3h1m-1 4.5h1m-1 5h1m-1 .5h1m-1 1.5h1m-1 1.5h1m-1 4h1m-1 7.5h1m-.5-49.5h1m-1 3h1m-1 1.5h1m-1 1h1m-1 .5h1m-1 1.5h1m-1 5.5h1m-1 1.5h1m-1 2.5h1m-1 7.5h1m-1 10.5h1m-1 5.5h1m-1 1h1m-1 10h1m-1 .5h1m-.5-51.5h1m-1 1h1m-1 3.5h1m-1 2h1m-1 11h1m-1 2.5h1m-1 1h1m-1 .5h1m-1 3h1m-1 1.5h1m-1 4h1m-1 1.5h1m-1 .5h1m-1 4.5h1m-1 1h1m-1 3h1m-1 4.5h1m-1 5h1m-.5-45.5h1m-1 .5h1m-1 4.5h1m-1 23h1m-1 1.5h1m-1 3.5h1m-1 1.5h1m-1 2h1m-1 1.5h1m-1 3h1m-1 1h1m-1 3.5h1m-.5-49.5h1m-1 4h1m-1 5.5h1m-1 5.5h1m-1 4h1m-1 .5h1m-1 1.5h1m-1 4.5h1m-1 5.5h1m-1 8.5h1m-1 3h1m-1 5h1m-1 .5h1m-1 .5h1m-1 1.5h1m-1 1h1m-.5-49.5h1m-1 1.5h1m-1 1h1m-1 9.5h1m-1 .5h1m-1 2h1m-1 .5h1m-1 1.5h1m-1 .5h1m-1 2h1m-1 .5h1m-1 7.5h1m-1 2.5h1m-1 4h1m-1 6.5h1m-1 5.5h1m-1 4.5h1m-.5-48.5h1m-1 6.5h1m-1 8.5h1m-1 3h1m-1 5h1m-1 4.5h1m-1 4h1m-1 14.5h1m-.5-38.5h1m-1 10h1m-1 2.5h1m-1 3h1m-1 .5h1m-1 .5h1m-1 4h1m-1 3.5h1m-1 1h1m-1 1h1m-1 4.5h1m-1 1.5h1m-1 5.5h1m-.5-44h1m-1 8h1m-1 3.5h1m-1 4h1m-1 6h1m-1 10h1m-1 6.5h1m-1 3.5h1m-1 4.5h1m-.5-42h1m-1 .5h1m-1 5.5h1m-1 1h1m-1 4h1m-1 1h1m-1 20.5h1m-1 6h1m-1 2h1m-1 1.5h1m-.5-42.5h1m-1 3.5h1m-1 .5h1m-1 8h1m-1 .5h1m-1 4h1m-1 1h1m-1 .5h1m-1 3.5h1m-1 8h1m-1 1.5h1m-1 .5h1m-1 3h1m-1 3.5h1m-1 3h1m-.5-43.5h1m-1 2h1m-1 7.5h1m-1 8.5h1m-1 5.5h1m-1 5.5h1m-1 1h1m-1 1.5h1m-1 9h1m-1 .5h1m-1 .5h1m-.5-19.5h1m-1 9h1m-1 2h1m-1 5h1m-.5-33.5h1m-1 5.5h1m-1 2.5h1m-1 5.5h1m-1 9.5h1m-1 4h1m-1 3h1m-1 2h1m-1 4h1m-1 5.5h1m-.5-43.5h1m-1 7h1m-1 .5h1m-1 2.5h1m-1 1h1m-1 6h1m-1 1h1m-1 2.5h1m-1 5h1m-1 11h1m-1 3h1m-1 1h1m-.5-38h1m-1 1h1m-1 .5h1m-1 9h1m-1 11.5h1m-1 1h1m-1 3.5h1m-1 2.5h1m-1 1h1m-1 6h1m-1 2h1m-1 .5h1m-1 2h1m-.5-39.5h1m-1 6.5h1m-1 1h1m-1 1h1m-1 2h1m-1 1.5h1m-1 14h1m-1 1h1m-1 .5h1m-1 2h1m-1 10h1m-1 1h1m-.5-38h1m-1 8.5h1m-1 9h1m-1 3.5h1m-1 1.5h1m-1 2.5h1m-1 6.5h1m-1 .5h1m-1 2h1m-1 1.5h1m-.5-35h1m-1 1h1m-1 .5h1m-1 3.5h1m-1 1h1m-1 1.5h1m-1 1.5h1m-1 2h1m-1 3h1m-1 1h1m-1 .5h1m-1 3h1m-1 3h1m-1 4h1m-.5-15h1m-1 1.5h1m-1 3h1m-1 4h1m-1 .5h1m-1 .5h1m-1 5h1m-1 1h1m-1 2h1m-1 2.5h1m-1 4h1m-1 3h1m-.5-35.5h1m-1 2.5h1m-1 3h1m-1 3.5h1m-1 .5h1m-1 9h1m-1 8h1m-1 3h1m-1 2.5h1m-.5-25h1m-1 4h1m-1 2h1m-1 21h1m-.5-38h1m-1 10.5h1m-1 .5h1m-1 1h1m-1 3.5h1m-1 6h1m-1 3h1m-1 4h1m-1 1h1m-1 6h1m-1 .5h1m-1 .5h1m-1 2h1m-.5-30.5h1m-1 9h1m-1 4.5h1m-1 .5h1m-1 1h1m-.5-19h1m-1 1.5h1m-1 4h1m-1 2.5h1m-1 1.5h1m-1 16.5h1m-1 1h1m-1 1.5h1m-1 5.5h1m-.5-34h1m-1 2.5h1m-1 7h1m-1 3.5h1m-1 .5h1m-1 9h1m-1 3.5h1m-.5-16.5h1m-1 4h1m-1 .5h1m-1 3h1m-1 1.5h1m-1 2.5h1m-1 7h1m-1 1h1m-1 3.5h1m-1 2h1m-.5-25h1m-1 3h1m-1 3h1m-1 1h1m-1 6.5h1m-1 1h1m-1 3h1m-.5-11h1m-1 2h1m-1 1.5h1m-1 .5h1m-1 4h1m-.5-9.5h1m-1 2h1m-1 4.5h1m-1 2.5h1m-.5-15.5h1m-1 11.5h1m-1 2h1m-1 2.5h1m-1 2.5h1m-.5-12h1m-1 .5h1m-1 2.5h1m-1 6.5h1m.5 1.5h1" stroke="#c8c81a" stroke-width="1.0" fill="none"/><path d="M326.5 419h1m-.5 17.5h1m-.5 2.5h1m-1 11h1m-1 3h1m-.5-30.5h1m0 4h1m-1 3.5h1m-1 20.5h1m-1 1.5h1m-1 4.5h1m-.5-31h1m-1 5h1m-1 1h1m-1 7.5h1m-1 18.5h1m-.5-36h1m-1 17h1m-1 14h1m-1 3.5h1m-.5-34h1m-1 1h1m-1 32.5h1m-.5-33h1m-1 32.5h1m-.5-33h1m-1 2h1m-.5-6h1m-1 2h1m-1 .5h1m-1 .5h1m-1 .5h1m-1 4h1m-1 .5h1m-1 2h1m-1 4h1m-1 4h1m-.5-14h1m-1 10h1m-1 17.5h1m-1 6h1m-1 5h1m-.5-39.5h1m-1 8.5h1m-1 19.5h1m-.5-32h1m-1 10h1m-1 5h1m-1 7.5h1m-1 1h1m-1 11.5h1m-.5-29.5h1m-1 .5h1m-1 1.5h1m-1 1h1m-1 3h1m-1 1.5h1m-1 22h1m-1 4h1m-.5-35h1m-1 2.5h1m-1 2h1m-1 25h1m-1 4.5h1m-.5-30.5h1m-1 7h1m-1 2h1m-1 1.5h1m-1 2.5h1m-.5-21h1m-1 3.5h1m-1 4.5h1m-1 6.5h1m-1 2h1m-1 6h1m-1 .5h1m-1 10h1m-.5-33h1m-1 10h1m-1 1h1m-1 6h1m-1 5.5h1m-.5-25h1m-1 2h1m-1 5h1m-1 1h1m-1 5h1m-1 4h1m-1 .5h1m-1 6.5h1m-1 1h1m-1 17.5h1m-1 .5h1m-.5-44h1m-1 7h1m-1 3.5h1m-1 1.5h1m-1 2h1m-1 5h1m-.5-18h1m-1 11.5h1m-1 1.5h1m-1 .5h1m-1 3.5h1m-1 3.5h1m-1 3.5h1m-1 2h1m-1 2.5h1m-.5-25.5h1m-1 1.5h1m-1 14.5h1m-1 1.5h1m-1 6.5h1m-1 16.5h1m-.5-39.5h1m-1 7.5h1m-1 6.5h1m-1 .5h1m-1 26.5h1m-.5-44.5h1m-1 1h1m-1 4.5h1m-1 5.5h1m-1 3.5h1m-1 14.5h1m-1 10h1m-.5-42h1m-1 7.5h1m-1 6.5h1m-1 7h1m-1 7h1m-1 1.5h1m-.5-22.5h1m-1 4h1m-1 1h1m-1 1.5h1m-1 4h1m-1 1.5h1m-1 2h1m-1 3.5h1m-1 2.5h1m-1 3h1m-1 1.5h1m-.5-31.5h1m-1 4.5h1m-1 3.5h1m-1 1h1m-1 11.5h1m-1 6.5h1m-1 .5h1m-1 2.5h1m-.5-22h1m-1 1h1m-1 2h1m-1 .5h1m-1 3h1m-1 8h1m-1 2.5h1m-1 2.5h1m-1 2h1m-1 1h1m-1 4.5h1m-.5-38h1m-1 3.5h1m-1 1.5h1m-1 2.5h1m-1 3.5h1m-1 2.5h1m-1 2h1m-1 3.5h1m-1 4h1m-1 1h1m-1 1.5h1m-1 4h1m-1 2h1m-1 .5h1m-1 .5h1m-1 1h1m-.5-31h1m-1 4h1m-1 12.5h1m-1 4.5h1m-1 5.5h1m-1 .5h1m-1 2.5h1m-.5-29h1m-1 1h1m-1 1h1m-1 .5h1m-1 10.5h1m-1 .5h1m-1 3.5h1m-1 .5h1m-1 .5h1m-1 8.5h1m-1 5h1m-1 1.5h1m-1 1h1m-.5-39h1m-1 9.5h1m-1 1.5h1m-1 6h1m-1 .5h1m-1 1h1m-1 4h1m-1 .5h1m-1 10.5h1m-.5-33.5h1m-1 6.5h1m-1 1.5h1m-1 4.5h1m-1 .5h1m-1 2h1m-1 5h1m-1 4.5h1m-1 1.5h1m-1 5h1m-1 1h1m-1 1h1m-1 1.5h1m-1 1.5h1m-.5-27h1m-1 1h1m-1 2h1m-1 9.5h1m-1 1.5h1m-1 2h1m-1 3.5h1m-1 1h1m-1 .5h1m-1 11h1m-.5-41h1m-1 16.5h1m-1 6.5h1m-1 9.5h1m-1 4h1m-1 2.5h1m-.5-36.5h1m-1 2h1m-1 7.5h1m-1 1.5h1m-1 9.5h1m-1 6.5h1m-1 7h1m-.5-41.5h1m-1 9h1m-1 3.5h1m-1 1.5h1m-1 12.5h1m-1 2.5h1m-1 9h1m-1 4h1m-1 1h1m-1 1h1m-.5-47.5h1m-1 5.5h1m-1 6h1m-1 4.5h1m-1 9h1m-1 1.5h1m-1 1.5h1m-1 2.5h1m-1 9h1m-.5-27h1m-1 2h1m-1 5.5h1m-1 4h1m-1 4.5h1m-1 2.5h1m-1 2.5h1m-1 2.5h1m-1 2h1m-.5-33.5h1m-1 10h1m-1 3.5h1m-1 4h1m-1 7h1m-1 5.5h1m-1 3.5h1m-1 6h1m-1 .5h1m-1 1.5h1m-.5-45.5h1m-1 1h1m-1 2.5h1m-1 1h1m-1 2h1m-1 .5h1m-1 3.5h1m-1 .5h1m-1 .5h1m-1 1h1m-1 .5h1m-1 5h1m-1 11h1m-1 6.5h1m-1 4.5h1m-.5-31h1m-1 7.5h1m-1 4h1m-1 10.5h1m-1 1.5h1m-1 .5h1m-1 4h1m-1 6.5h1m-1 3.5h1m-1 2.5h1m-.5-49.5h1m-1 2.5h1m-1 3h1m-1 5h1m-1 4h1m-1 1.5h1m-1 2h1m-1 6.5h1m-1 4.5h1m-1 4h1m-1 2h1m-1 2h1m-1 3h1m-1 2h1m-.5-37.5h1m-1 1h1m-1 .5h1m-1 4.5h1m-1 7h1m-1 3.5h1m-1 1h1m-1 8.5h1m-1 5h1m-1 8.5h1m-1 2.5h1m-.5-43h1m-1 14.5h1m-1 3.5h1m-1 3.5h1m-.5-25.5h1m-1 3h1m-1 .5h1m-1 .5h1m-1 3h1m-1 3h1m-1 8.5h1m-1 1.5h1m-1 1h1m-1 2.5h1m-1 5.5h1m-1 8.5h1m-.5-39h1m-1 7.5h1m-1 2h1m-1 2.5h1m-1 3.5h1m-1 1.5h1m-1 1.5h1m-1 3h1m-1 4.5h1m-1 4.5h1m-1 3h1m-1 3h1m-1 1h1m-1 4h1m-1 5h1m-1 .5h1m-1 .5h1m-1 1h1m-.5-48.5h1m-1 2h1m-1 3h1m-1 10.5h1m-1 5h1m-1 7h1m-1 1h1m-1 .5h1m-1 2h1m-1 1.5h1m-1 1h1m-1 3.5h1m-.5-37.5h1m-1 2.5h1m-1 13.5h1m-1 5h1m-1 10h1m-1 .5h1m-1 14.5h1m-1 3.5h1m-.5-51.5h1m-1 1.5h1m-1 5.5h1m-1 3.5h1m-1 3h1m-1 2h1m-1 13h1m-1 .5h1m-1 5h1m-1 8h1m-1 .5h1m-1 5.5h1m-.5-36.5h1m-1 4h1m-1 .5h1m-1 3.5h1m-1 5.5h1m-1 11h1m-1 .5h1m-1 3.5h1m-.5-32.5h1m-1 13h1m-1 4h1m-1 2h1m-1 3.5h1m-1 .5h1m-1 .5h1m-1 13.5h1m-.5-41.5h1m-1 1h1m-1 2h1m-1 2h1m-1 2.5h1m-1 3.5h1m-1 6h1m-1 4.5h1m-1 1.5h1m-1 1.5h1m-1 1.5h1m-1 3h1m-1 2h1m-1 10.5h1m-1 6h1m-.5-49h1m-1 .5h1m-1 3h1m-1 4.5h1m-1 11.5h1m-1 3.5h1m-1 5.5h1m-1 8.5h1m-1 2h1m-1 1h1m-1 2.5h1m-.5-32.5h1m-1 6h1m-1 3h1m-1 4.5h1m-1 2h1m-1 6h1m-1 3.5h1m-1 2.5h1m-1 3h1m-1 1h1m-1 2h1m-.5-41h1m-1 6.5h1m-1 .5h1m-1 2.5h1m-1 1.5h1m-1 1.5h1m-1 1h1m-1 .5h1m-1 7.5h1m-1 6h1m-1 10.5h1m-1 5h1m-1 3h1m-.5-48.5h1m-1 5h1m-1 1.5h1m-1 1.5h1m-1 3h1m-1 2.5h1m-1 1.5h1m-1 4h1m-1 4.5h1m-1 5h1m-1 3h1m-1 .5h1m-1 1.5h1m-1 6.5h1m-1 3.5h1m-.5-40h1m-1 6.5h1m-1 .5h1m-1 7h1m-1 13h1m-1 .5h1m-1 2.5h1m-1 8.5h1m-1 3h1m-.5-41h1m-1 .5h1m-1 10.5h1m-1 .5h1m-1 2.5h1m-1 18h1m-1 6.5h1m-.5-39h1m-1 7h1m-1 2h1m-1 2h1m-1 1.5h1m-1 1.5h1m-1 5.5h1m-1 .5h1m-1 4h1m-1 1h1m-1 11.5h1m-1 2h1m-.5-29.5h1m-1 8h1m-1 1.5h1m-.5 2.5h1m-.5-4.5h1m-1 .5h1m-1 14h1m-.5-.5h1m-.5-1.5h1" stroke="#ff8212" stroke-width="1.0" fill="none"/><path d="M328.5 458.5h1m-.5-2.5h1m-.5 3h1m1.5-4h1m0-.5h1m-1 4.5h1m.5-1h1m.5-.5h1m-.5-3h1m-1 .5h1m-1 4h1m-.5-6.5h1m-1 5h1m-.5-.5h1m-.5-5h1m-.5 0h1m-1 1.5h1m-.5-3.5h1m-1 1.5h1m-1 4h1m-.5-6.5h1m-1 1.5h1m-1 1h1m-1 2h1m-1 5h1m-.5-7h1m-1 .5h1m-1 8h1m-.5-2.5h1m-1 3.5h1m-1 .5h1m-.5-11.5h1m-1 5h1m-.5-7h1m-1 3h1m-1 7h1m-1 7h1m-.5-17.5h1m-1 7h1m-1 7h1m-1 2.5h1m-.5-13.5h1m-1 3h1m-1 6.5h1m-1 2.5h1m-1 1.5h1m-.5-15.5h1m-1 4h1m-1 2h1m-1 1.5h1m-1 .5h1m-1 7.5h1m-.5-16h1m-1 7h1m-1 .5h1m-1 3h1m-1 4h1m-1 2h1m-1 2h1m-1 1h1m-.5-15.5h1m-1 3.5h1m-1 .5h1m-1 12h1m-1 .5h1m-.5-15.5h1m-1 1h1m-1 .5h1m-1 .5h1m-1 1h1m-1 .5h1m-1 9h1m-.5-14h1m-1 3.5h1m-1 1h1m-1 2.5h1m-1 7.5h1m-1 1.5h1m-.5-23h1m-1 4h1m-1 3.5h1m-1 .5h1m-.5-5.5h1m-1 2h1m-1 4.5h1m-1 .5h1m-1 4.5h1m-1 4.5h1m-1 2.5h1m-.5-13.5h1m-1 15h1m-1 3h1m-.5-9.5h1m-1 5h1m-.5-16h1m-1 2.5h1m-1 1h1m-1 .5h1m-1 3.5h1m-1 5h1m-1 2h1m-1 3.5h1m-1 5.5h1m-.5-23h1m-1 1h1m-1 4h1m-1 .5h1m-1 1h1m-1 4h1m-1 3.5h1m-1 1.5h1m-1 .5h1m-1 1.5h1m-.5-20.5h1m-1 8h1m-1 1.5h1m-1 1h1m-1 3h1m-1 .5h1m-1 2h1m-1 3.5h1m-1 .5h1m-1 7h1m-.5-16h1m-1 1h1m-1 9.5h1m-1 .5h1m-1 4.5h1m-.5-24h1m-1 .5h1m-1 6h1m-1 2.5h1m-1 8h1m-1 .5h1m-1 4.5h1m-1 1.5h1m-.5-17.5h1m-1 8.5h1m-.5-15h1m-1 1.5h1m-1 8h1m-1 2.5h1m-1 .5h1m-1 .5h1m-1 1h1m-1 1h1m-1 1h1m-1 8h1m-.5-21h1m-1 2.5h1m-1 4h1m-1 .5h1m-1 2h1m-1 6h1m-1 1h1m-1 2.5h1m-1 1.5h1m-.5-24.5h1m-1 .5h1m-1 1.5h1m-1 .5h1m-1 6h1m-1 .5h1m-1 6.5h1m-1 2.5h1m-1 .5h1m-1 3h1m-1 1h1m-1 4.5h1m-1 .5h1m-.5-23h1m-1 4.5h1m-1 5h1m-1 4h1m-1 6.5h1m-.5-24h1m-1 2.5h1m-1 1.5h1m-1 1.5h1m-1 2h1m-1 2h1m-1 2.5h1m-1 1h1m-1 1h1m-1 .5h1m-1 8h1m-1 1h1m-.5-25h1m-1 1.5h1m-1 2.5h1m-1 18h1m-1 6h1m-.5-25.5h1m-1 2.5h1m-1 1h1m-1 3h1m-1 2h1m-1 2.5h1m-1 4.5h1m-1 3.5h1m-1 4.5h1m-1 1.5h1m-1 2.5h1m-.5-25h1m-1 .5h1m-1 2h1m-1 2.5h1m-1 3h1m-1 9.5h1m-1 5h1m-1 1.5h1m-.5-24h1m-1 22.5h1m-1 1.5h1m-.5-26.5h1m-1 6h1m-1 7h1m-1 4.5h1m-1 4h1m-.5-24h1m-1 1.5h1m-1 6h1m-1 .5h1m-1 1.5h1m-1 7h1m-1 3h1m-1 2h1m-1 1h1m-1 2h1m-1 1.5h1m-1 1.5h1m-1 2h1m-1 2h1m-.5-31.5h1m-1 3h1m-1 2h1m-1 3h1m-1 1.5h1m-1 12h1m-1 2.5h1m-1 4.5h1m-1 1h1m-.5-25.5h1m-1 .5h1m-1 1h1m-1 6.5h1m-1 1h1m-1 6h1m-1 4.5h1m-1 4h1m-.5-25h1m-1 10.5h1m-1 6h1m-1 6h1m-1 3h1m-.5-27.5h1m-1 8h1m-1 3.5h1m-1 7h1m-.5-13.5h1m-1 2h1m-1 1.5h1m-1 1.5h1m-1 5h1m-1 10h1m-1 1h1m-.5-26h1m-1 10.5h1m-1 1.5h1m-1 1.5h1m-1 .5h1m-1 .5h1m-1 4h1m-1 2h1m-1 7.5h1m-.5-27.5h1m-1 2.5h1m-1 4h1m-1 2.5h1m-1 4.5h1m-1 1h1m-1 5.5h1m-1 2.5h1m-1 5h1m-1 2.5h1m-.5-29.5h1m-1 3.5h1m-1 .5h1m-1 2.5h1m-1 7h1m-1 .5h1m-1 7h1m-.5-9h1m-1 2h1m-1 1h1m-1 3h1m-1 .5h1m-1 1.5h1m-.5-14h1m-1 4.5h1m-1 1h1m-1 8.5h1m-1 7h1m-.5-23h1m-1 1h1m-1 .5h1m-1 1.5h1m-1 5.5h1m-1 1h1m-1 1h1m-1 1.5h1m-1 6h1m-1 .5h1m-.5-17h1m-1 1.5h1m-1 3.5h1m-1 4.5h1m-1 5.5h1m-.5-19.5h1m-1 1h1m-1 5h1m-1 3h1m-1 1h1m-1 1h1m-1 13h1m-.5-26.5h1m-1 8.5h1m-1 3h1m-1 2.5h1m-1 1h1m-1 2.5h1m-1 .5h1m-.5-12.5h1m-1 7.5h1m-1 4h1m-1 6.5h1m-1 2.5h1m-.5-24.5h1m-1 8.5h1m-1 1.5h1m-1 1h1m-1 7h1m-1 .5h1m-1 2.5h1m-1 1.5h1m-.5-20h1m-1 1.5h1m-1 4h1m-1 .5h1m-1 2h1m-1 3.5h1m-1 2h1m-1 .5h1m-1 1.5h1m-1 1.5h1m-1 3h1m-1 3.5h1m-.5-23.5h1m-1 1.5h1m-1 2.5h1m-1 2h1m-1 4.5h1m-1 4h1m-1 2.5h1m-1 2.5h1m-.5-21h1m-1 1.5h1m-1 6.5h1m-1 3.5h1m-1 5h1m-1 2.5h1m-1 .5h1m-.5-20h1m-1 1h1m-1 4.5h1m-1 8h1m-1 5.5h1m-1 3h1m-1 1.5h1m-.5-22h1m-1 4.5h1m-1 2h1m-1 4h1m-1 1h1m-1 3h1m-1 1.5h1m-1 3.5h1m-1 2.5h1m-.5-25h1m-1 6.5h1m-1 4h1m-1 .5h1m-1 2h1m-1 10h1m-1 3h1m-.5-26h1m-1 4h1m-1 5h1m-1 4.5h1m-1 1h1m-1 .5h1m-1 2h1m-.5-15h1m-1 1.5h1m-1 5.5h1m-1 15.5h1m-.5-25.5h1m-1 6.5h1m-1 6.5h1m-1 .5h1m-1 6.5h1m-1 1.5h1m-1 2.5h1m-1 .5h1m-.5-24h1m-1 4h1m-1 4.5h1m-1 .5h1m-1 3.5h1m-1 4h1m-1 1.5h1m-1 .5h1m-.5-16.5h1m-1 1.5h1m-1 1.5h1m-1 4h1m-1 3.5h1m-1 3h1m-1 2h1m-1 .5h1m-.5-15h1m-1 4.5h1m-1 7h1m-1 6h1m-.5-19h1m-1 7.5h1m-1 1.5h1m-1 4.5h1m-1 .5h1m-1 2h1m-1 6h1m-.5-19.5h1m-1 4.5h1m-1 4h1m-1 .5h1m-1 3h1m-1 .5h1m-1 1.5h1m-1 2h1m-.5-19h1m-1 13.5h1m-1 5.5h1m-.5-18.5h1m-1 8h1m-1 .5h1m-1 3.5h1m-.5-12h1m-1 3h1m-1 10h1m-1 2.5h1m-1 1h1m-1 1h1m-.5-15.5h1m-1 1h1m-1 1h1m-1 1.5h1m-1 4.5h1m-1 5.5h1m-.5-6.5h1m-1 3h1m-1 1h1m-1 .5h1m-.5-7h1m-.5 .5h1m-1 1.5h1m-1 7.5h1m0-2.5h1" stroke="#12c412" stroke-width="1.0" fill="none"/><path d="M344.5 376h1m.5-3h1m1.5 5h1m-1 2h1m-.5-3h1m-1 .5h1m-.5 1h1m-1 8.5h1m-.5-10h1m-1 10.5h1m-.5-9.5h1m-1 4h1m-1 9h1m-.5-17h1m-1 1.5h1m-1 7.5h1m-1 1.5h1m-1 1h1m-1 3h1m-.5-12.5h1m-1 .5h1m-1 .5h1m-1 8h1m-1 1.5h1m-.5-11.5h1m-1 4.5h1m-1 7.5h1m-.5-2h1m-1 3h1m-1 .5h1m0-6h1m-1 4h1m-1 .5h1m-1 .5h1m-.5-13h1m-1 1h1m-1 3h1m-1 3.5h1m-1 5.5h1m-.5-13.5h1m-.5 0h1m-1 5h1m-1 2.5h1m-.5-7.5h1m-1 2.5h1m-1 2.5h1m-1 1h1m-1 4.5h1m-1 2h1m-.5-8.5h1m-1 7.5h1m-.5-11h1m-1 8.5h1m-1 .5h1m-.5 2.5h1m.5-12.5h1m-1 7.5h1m0 3h1" stroke="#0a6a0a" stroke-width="1.0" fill="none"/><rect x="214.70" y="367.30" width="164.50" height="151.60" fill="none" stroke="#000" stroke-width="0.9"/><line x1="213.10" y1="371.30" x2="214.70" y2="371.30" stroke="#000" stroke-width="0.6"/><line x1="213.10" y1="407.70" x2="214.70" y2="407.70" stroke="#000" stroke-width="0.6"/><line x1="213.10" y1="444.10" x2="214.70" y2="444.10" stroke="#000" stroke-width="0.6"/><line x1="213.10" y1="480.50" x2="214.70" y2="480.50" stroke="#000" stroke-width="0.6"/><line x1="213.10" y1="516.90" x2="214.70" y2="516.90" stroke="#000" stroke-width="0.6"/><line x1="215.20" y1="518.90" x2="215.20" y2="520.50" stroke="#000" stroke-width="0.6"/><line x1="246.30" y1="518.90" x2="246.30" y2="520.50" stroke="#000" stroke-width="0.6"/><line x1="277.40" y1="518.90" x2="277.40" y2="520.50" stroke="#000" stroke-width="0.6"/><line x1="308.50" y1="518.90" x2="308.50" y2="520.50" stroke="#000" stroke-width="0.6"/><line x1="339.60" y1="518.90" x2="339.60" y2="520.50" stroke="#000" stroke-width="0.6"/><line x1="370.70" y1="518.90" x2="370.70" y2="520.50" stroke="#000" stroke-width="0.6"/><text x="206.00" y="354.49" font-size="10.8" font-weight="bold">j</text><text x="296.80" y="362.28" font-size="8" text-anchor="middle">Louvain Clustering</text><text x="206.40" y="443.59" font-size="8.3" text-anchor="middle" font-weight="bold" transform="rotate(-90 206.40 440.60)">UMAP2</text><text x="296.80" y="531.39" font-size="8.3" text-anchor="middle" font-weight="bold">UMAP1</text><text x="254.92" y="379.33" font-size="8" text-anchor="middle" fill="#0a0af0">0</text><text x="303.53" y="382.75" font-size="8" text-anchor="middle" fill="#00007a">7</text><text x="365.27" y="382.75" font-size="8" text-anchor="middle" fill="#0a6a0a">10</text><text x="373.68" y="408.23" font-size="8" text-anchor="middle" fill="#c8c81a">6</text><text x="228.12" y="439.76" font-size="8" text-anchor="middle" fill="#78b6ff">5</text><text x="329.01" y="435.82" font-size="8" text-anchor="middle" fill="#ff8212">4</text><text x="299.06" y="450.27" font-size="8" text-anchor="middle" fill="#a00a0a">9</text><text x="253.61" y="460.78" font-size="8" text-anchor="middle" fill="#12b2b2">2</text><text x="321.13" y="484.43" font-size="8" text-anchor="middle" fill="#f20a0a">3</text><text x="363.96" y="483.64" font-size="8" text-anchor="middle" fill="#12c412">1</text><text x="292.49" y="515.43" font-size="8" text-anchor="middle" fill="#c81ad8">8</text>
<text x="401.00" y="353.18" font-size="10.5" font-weight="bold">k</text><text x="457.40" y="351.28" font-size="8" text-anchor="middle">Median Expression</text><defs><linearGradient id="gk"><stop offset="0" stop-color="#f4f8fc"/><stop offset="0.35" stop-color="#a8cbe4"/><stop offset="0.7" stop-color="#3f7fbc"/><stop offset="1" stop-color="#0c3070"/></linearGradient></defs><rect x="437.40" y="355.60" width="45.00" height="5.40" fill="url(#gk)" stroke="#888" stroke-width="0.3"/><text x="437.60" y="369.43" font-size="6.2" text-anchor="middle">0.0</text><text x="461.40" y="369.43" font-size="6.2" text-anchor="middle">2.5</text><text x="482.40" y="369.43" font-size="6.2" text-anchor="middle">5.0</text><rect x="431.30" y="375.00" width="55.70" height="156.60" fill="none" stroke="#333" stroke-width="0.6"/><text x="427.60" y="390.70" font-size="8.6" text-anchor="end" fill="#22d0d8">0</text><line x1="429.50" y1="387.60" x2="431.30" y2="387.60" stroke="#333" stroke-width="0.5"/><path d="M445.70 383.10C445.91 383.33 446.47 384.42 446.90 384.83C447.33 385.23 448.38 385.81 448.90 386.12C449.42 386.43 450.52 386.93 450.84 387.16C451.16 387.38 451.39 387.59 451.30 387.80C451.21 388.01 450.60 388.44 450.14 388.71C449.68 388.98 448.32 389.52 447.82 389.82C447.32 390.12 446.68 390.57 446.40 390.93C446.12 391.29 445.85 392.29 445.70 392.50C445.55 392.71 445.45 392.71 445.30 392.50C445.15 392.29 444.88 391.29 444.60 390.93C444.32 390.57 443.68 390.12 443.18 389.82C442.68 389.52 441.32 388.98 440.86 388.71C440.40 388.44 439.79 388.01 439.70 387.80C439.61 387.59 439.84 387.38 440.16 387.16C440.48 386.93 441.58 386.43 442.10 386.12C442.62 385.81 443.67 385.23 444.10 384.83C444.53 384.42 445.09 383.33 445.30 383.10C445.51 382.87 445.49 382.87 445.70 383.10Z" fill="#2a5f9e"/><line x1="445.50" y1="391.30" x2="445.50" y2="393.70" stroke="#2a5f9e" stroke-width="0.4"/><line x1="444.30" y1="393.90" x2="446.70" y2="393.90" stroke="#2a5f9e" stroke-width="0.5"/><line x1="453.70" y1="392.40" x2="464.90" y2="392.40" stroke="#999" stroke-width="0.5"/><line x1="459.30" y1="392.40" x2="459.30" y2="385.20" stroke="#aaa" stroke-width="0.4"/><line x1="467.60" y1="392.40" x2="478.80" y2="392.40" stroke="#999" stroke-width="0.5"/><line x1="473.20" y1="392.40" x2="473.20" y2="385.20" stroke="#aaa" stroke-width="0.4"/><text x="427.60" y="403.82" font-size="8.6" text-anchor="end" fill="#e020e0">1</text><line x1="429.50" y1="400.72" x2="431.30" y2="400.72" stroke="#333" stroke-width="0.5"/><line x1="439.90" y1="405.52" x2="451.10" y2="405.52" stroke="#999" stroke-width="0.5"/><line x1="445.50" y1="405.52" x2="445.50" y2="398.32" stroke="#aaa" stroke-width="0.4"/><path d="M459.50 396.22C459.71 396.45 460.27 397.54 460.70 397.95C461.13 398.35 462.18 398.93 462.70 399.24C463.22 399.55 464.32 400.05 464.64 400.28C464.96 400.50 465.19 400.71 465.10 400.92C465.01 401.13 464.40 401.56 463.94 401.83C463.48 402.10 462.12 402.64 461.62 402.94C461.12 403.24 460.48 403.69 460.20 404.05C459.92 404.41 459.65 405.41 459.50 405.62C459.35 405.83 459.25 405.83 459.10 405.62C458.95 405.41 458.68 404.41 458.40 404.05C458.12 403.69 457.48 403.24 456.98 402.94C456.48 402.64 455.12 402.10 454.66 401.83C454.20 401.56 453.59 401.13 453.50 400.92C453.41 400.71 453.64 400.50 453.96 400.28C454.28 400.05 455.38 399.55 455.90 399.24C456.42 398.93 457.47 398.35 457.90 397.95C458.33 397.54 458.89 396.45 459.10 396.22C459.31 395.99 459.29 395.99 459.50 396.22Z" fill="#2a5f9e"/><line x1="459.30" y1="404.42" x2="459.30" y2="406.82" stroke="#2a5f9e" stroke-width="0.4"/><line x1="458.10" y1="407.02" x2="460.50" y2="407.02" stroke="#2a5f9e" stroke-width="0.5"/><line x1="467.60" y1="405.52" x2="478.80" y2="405.52" stroke="#999" stroke-width="0.5"/><line x1="473.20" y1="405.52" x2="473.20" y2="398.32" stroke="#aaa" stroke-width="0.4"/><text x="427.60" y="416.94" font-size="8.6" text-anchor="end" fill="#22d0d8">2</text><line x1="429.50" y1="413.84" x2="431.30" y2="413.84" stroke="#333" stroke-width="0.5"/><path d="M445.70 409.34C445.91 409.57 446.47 410.66 446.90 411.07C447.33 411.47 448.38 412.05 448.90 412.36C449.42 412.67 450.52 413.17 450.84 413.40C451.16 413.62 451.39 413.83 451.30 414.04C451.21 414.25 450.60 414.68 450.14 414.95C449.68 415.22 448.32 415.76 447.82 416.06C447.32 416.36 446.68 416.81 446.40 417.17C446.12 417.53 445.85 418.53 445.70 418.74C445.55 418.95 445.45 418.95 445.30 418.74C445.15 418.53 444.88 417.53 444.60 417.17C444.32 416.81 443.68 416.36 443.18 416.06C442.68 415.76 441.32 415.22 440.86 414.95C440.40 414.68 439.79 414.25 439.70 414.04C439.61 413.83 439.84 413.62 440.16 413.40C440.48 413.17 441.58 412.67 442.10 412.36C442.62 412.05 443.67 411.47 444.10 411.07C444.53 410.66 445.09 409.57 445.30 409.34C445.51 409.11 445.49 409.11 445.70 409.34Z" fill="#4a86bd"/><line x1="445.50" y1="417.54" x2="445.50" y2="419.94" stroke="#4a86bd" stroke-width="0.4"/><line x1="444.30" y1="420.14" x2="446.70" y2="420.14" stroke="#4a86bd" stroke-width="0.5"/><line x1="453.70" y1="418.64" x2="464.90" y2="418.64" stroke="#999" stroke-width="0.5"/><line x1="459.30" y1="418.64" x2="459.30" y2="411.44" stroke="#aaa" stroke-width="0.4"/><line x1="467.60" y1="418.64" x2="478.80" y2="418.64" stroke="#999" stroke-width="0.5"/><line x1="473.20" y1="418.64" x2="473.20" y2="411.44" stroke="#aaa" stroke-width="0.4"/><text x="427.60" y="430.06" font-size="8.6" text-anchor="end" fill="#ffb020">3</text><line x1="429.50" y1="426.96" x2="431.30" y2="426.96" stroke="#333" stroke-width="0.5"/><line x1="439.90" y1="431.76" x2="451.10" y2="431.76" stroke="#999" stroke-width="0.5"/><line x1="445.50" y1="431.76" x2="445.50" y2="424.56" stroke="#aaa" stroke-width="0.4"/><path d="M459.50 422.46C459.71 422.69 460.27 423.78 460.70 424.19C461.13 424.59 462.18 425.17 462.70 425.48C463.22 425.79 464.32 426.29 464.64 426.52C464.96 426.74 465.19 426.95 465.10 427.16C465.01 427.37 464.40 427.80 463.94 428.07C463.48 428.34 462.12 428.88 461.62 429.18C461.12 429.48 460.48 429.93 460.20 430.29C459.92 430.65 459.65 431.65 459.50 431.86C459.35 432.07 459.25 432.07 459.10 431.86C458.95 431.65 458.68 430.65 458.40 430.29C458.12 429.93 457.48 429.48 456.98 429.18C456.48 428.88 455.12 428.34 454.66 428.07C454.20 427.80 453.59 427.37 453.50 427.16C453.41 426.95 453.64 426.74 453.96 426.52C454.28 426.29 455.38 425.79 455.90 425.48C456.42 425.17 457.47 424.59 457.90 424.19C458.33 423.78 458.89 422.69 459.10 422.46C459.31 422.23 459.29 422.23 459.50 422.46Z" fill="#74a9cf"/><line x1="459.30" y1="430.66" x2="459.30" y2="433.06" stroke="#74a9cf" stroke-width="0.4"/><line x1="458.10" y1="433.26" x2="460.50" y2="433.26" stroke="#74a9cf" stroke-width="0.5"/><path d="M473.40 422.46C473.61 422.69 474.17 423.78 474.60 424.19C475.03 424.59 476.08 425.17 476.60 425.48C477.12 425.79 478.22 426.29 478.54 426.52C478.86 426.74 479.09 426.95 479.00 427.16C478.91 427.37 478.30 427.80 477.84 428.07C477.38 428.34 476.02 428.88 475.52 429.18C475.02 429.48 474.38 429.93 474.10 430.29C473.82 430.65 473.55 431.65 473.40 431.86C473.25 432.07 473.15 432.07 473.00 431.86C472.85 431.65 472.58 430.65 472.30 430.29C472.02 429.93 471.38 429.48 470.88 429.18C470.38 428.88 469.02 428.34 468.56 428.07C468.10 427.80 467.49 427.37 467.40 427.16C467.31 426.95 467.54 426.74 467.86 426.52C468.18 426.29 469.28 425.79 469.80 425.48C470.32 425.17 471.37 424.59 471.80 424.19C472.23 423.78 472.79 422.69 473.00 422.46C473.21 422.23 473.19 422.23 473.40 422.46Z" fill="#74a9cf"/><line x1="473.20" y1="430.66" x2="473.20" y2="433.06" stroke="#74a9cf" stroke-width="0.4"/><line x1="472.00" y1="433.26" x2="474.40" y2="433.26" stroke="#74a9cf" stroke-width="0.5"/><text x="427.60" y="443.18" font-size="8.6" text-anchor="end" fill="#e020e0">4</text><line x1="429.50" y1="440.08" x2="431.30" y2="440.08" stroke="#333" stroke-width="0.5"/><line x1="439.90" y1="444.88" x2="451.10" y2="444.88" stroke="#999" stroke-width="0.5"/><line x1="445.50" y1="444.88" x2="445.50" y2="437.68" stroke="#aaa" stroke-width="0.4"/><path d="M459.50 435.58C459.71 435.81 460.27 436.90 460.70 437.31C461.13 437.71 462.18 438.29 462.70 438.60C463.22 438.91 464.32 439.41 464.64 439.64C464.96 439.86 465.19 440.07 465.10 440.28C465.01 440.49 464.40 440.92 463.94 441.19C463.48 441.46 462.12 442.00 461.62 442.30C461.12 442.60 460.48 443.05 460.20 443.41C459.92 443.77 459.65 444.77 459.50 444.98C459.35 445.19 459.25 445.19 459.10 444.98C458.95 444.77 458.68 443.77 458.40 443.41C458.12 443.05 457.48 442.60 456.98 442.30C456.48 442.00 455.12 441.46 454.66 441.19C454.20 440.92 453.59 440.49 453.50 440.28C453.41 440.07 453.64 439.86 453.96 439.64C454.28 439.41 455.38 438.91 455.90 438.60C456.42 438.29 457.47 437.71 457.90 437.31C458.33 436.90 458.89 435.81 459.10 435.58C459.31 435.35 459.29 435.35 459.50 435.58Z" fill="#143c78"/><line x1="459.30" y1="443.78" x2="459.30" y2="446.18" stroke="#143c78" stroke-width="0.4"/><line x1="458.10" y1="446.38" x2="460.50" y2="446.38" stroke="#143c78" stroke-width="0.5"/><line x1="467.60" y1="444.88" x2="478.80" y2="444.88" stroke="#999" stroke-width="0.5"/><line x1="473.20" y1="444.88" x2="473.20" y2="437.68" stroke="#aaa" stroke-width="0.4"/><text x="427.60" y="456.30" font-size="8.6" text-anchor="end" fill="#22d0d8">5</text><line x1="429.50" y1="453.20" x2="431.30" y2="453.20" stroke="#333" stroke-width="0.5"/><path d="M445.70 448.70C445.91 448.93 446.47 450.02 446.90 450.43C447.33 450.83 448.38 451.41 448.90 451.72C449.42 452.03 450.52 452.53 450.84 452.76C451.16 452.98 451.39 453.19 451.30 453.40C451.21 453.61 450.60 454.04 450.14 454.31C449.68 454.58 448.32 455.12 447.82 455.42C447.32 455.72 446.68 456.17 446.40 456.53C446.12 456.89 445.85 457.89 445.70 458.10C445.55 458.31 445.45 458.31 445.30 458.10C445.15 457.89 444.88 456.89 444.60 456.53C444.32 456.17 443.68 455.72 443.18 455.42C442.68 455.12 441.32 454.58 440.86 454.31C440.40 454.04 439.79 453.61 439.70 453.40C439.61 453.19 439.84 452.98 440.16 452.76C440.48 452.53 441.58 452.03 442.10 451.72C442.62 451.41 443.67 450.83 444.10 450.43C444.53 450.02 445.09 448.93 445.30 448.70C445.51 448.47 445.49 448.47 445.70 448.70Z" fill="#4a86bd"/><line x1="445.50" y1="456.90" x2="445.50" y2="459.30" stroke="#4a86bd" stroke-width="0.4"/><line x1="444.30" y1="459.50" x2="446.70" y2="459.50" stroke="#4a86bd" stroke-width="0.5"/><line x1="453.70" y1="458.00" x2="464.90" y2="458.00" stroke="#999" stroke-width="0.5"/><line x1="459.30" y1="458.00" x2="459.30" y2="450.80" stroke="#aaa" stroke-width="0.4"/><line x1="467.60" y1="458.00" x2="478.80" y2="458.00" stroke="#999" stroke-width="0.5"/><line x1="473.20" y1="458.00" x2="473.20" y2="450.80" stroke="#aaa" stroke-width="0.4"/><text x="427.60" y="469.42" font-size="8.6" text-anchor="end" fill="#e020e0">6</text><line x1="429.50" y1="466.32" x2="431.30" y2="466.32" stroke="#333" stroke-width="0.5"/><line x1="439.90" y1="471.12" x2="451.10" y2="471.12" stroke="#999" stroke-width="0.5"/><line x1="445.50" y1="471.12" x2="445.50" y2="463.92" stroke="#aaa" stroke-width="0.4"/><path d="M459.50 461.82C459.71 462.05 460.27 463.14 460.70 463.55C461.13 463.95 462.18 464.53 462.70 464.84C463.22 465.15 464.32 465.65 464.64 465.88C464.96 466.10 465.19 466.31 465.10 466.52C465.01 466.73 464.40 467.16 463.94 467.43C463.48 467.70 462.12 468.24 461.62 468.54C461.12 468.84 460.48 469.29 460.20 469.65C459.92 470.01 459.65 471.01 459.50 471.22C459.35 471.43 459.25 471.43 459.10 471.22C458.95 471.01 458.68 470.01 458.40 469.65C458.12 469.29 457.48 468.84 456.98 468.54C456.48 468.24 455.12 467.70 454.66 467.43C454.20 467.16 453.59 466.73 453.50 466.52C453.41 466.31 453.64 466.10 453.96 465.88C454.28 465.65 455.38 465.15 455.90 464.84C456.42 464.53 457.47 463.95 457.90 463.55C458.33 463.14 458.89 462.05 459.10 461.82C459.31 461.59 459.29 461.59 459.50 461.82Z" fill="#2a5f9e"/><line x1="459.30" y1="470.02" x2="459.30" y2="472.42" stroke="#2a5f9e" stroke-width="0.4"/><line x1="458.10" y1="472.62" x2="460.50" y2="472.62" stroke="#2a5f9e" stroke-width="0.5"/><line x1="467.60" y1="471.12" x2="478.80" y2="471.12" stroke="#999" stroke-width="0.5"/><line x1="473.20" y1="471.12" x2="473.20" y2="463.92" stroke="#aaa" stroke-width="0.4"/><text x="427.60" y="482.54" font-size="8.6" text-anchor="end" fill="#22d0d8">7</text><line x1="429.50" y1="479.44" x2="431.30" y2="479.44" stroke="#333" stroke-width="0.5"/><path d="M445.70 474.94C445.91 475.17 446.47 476.26 446.90 476.67C447.33 477.07 448.38 477.65 448.90 477.96C449.42 478.27 450.52 478.77 450.84 479.00C451.16 479.22 451.39 479.43 451.30 479.64C451.21 479.85 450.60 480.28 450.14 480.55C449.68 480.82 448.32 481.36 447.82 481.66C447.32 481.96 446.68 482.41 446.40 482.77C446.12 483.13 445.85 484.13 445.70 484.34C445.55 484.55 445.45 484.55 445.30 484.34C445.15 484.13 444.88 483.13 444.60 482.77C444.32 482.41 443.68 481.96 443.18 481.66C442.68 481.36 441.32 480.82 440.86 480.55C440.40 480.28 439.79 479.85 439.70 479.64C439.61 479.43 439.84 479.22 440.16 479.00C440.48 478.77 441.58 478.27 442.10 477.96C442.62 477.65 443.67 477.07 444.10 476.67C444.53 476.26 445.09 475.17 445.30 474.94C445.51 474.71 445.49 474.71 445.70 474.94Z" fill="#143c78"/><line x1="445.50" y1="483.14" x2="445.50" y2="485.54" stroke="#143c78" stroke-width="0.4"/><line x1="444.30" y1="485.74" x2="446.70" y2="485.74" stroke="#143c78" stroke-width="0.5"/><line x1="453.70" y1="484.24" x2="464.90" y2="484.24" stroke="#999" stroke-width="0.5"/><line x1="459.30" y1="484.24" x2="459.30" y2="477.04" stroke="#aaa" stroke-width="0.4"/><line x1="467.60" y1="484.24" x2="478.80" y2="484.24" stroke="#999" stroke-width="0.5"/><line x1="473.20" y1="484.24" x2="473.20" y2="477.04" stroke="#aaa" stroke-width="0.4"/><text x="427.60" y="495.66" font-size="8.6" text-anchor="end" fill="#ffb020">8</text><line x1="429.50" y1="492.56" x2="431.30" y2="492.56" stroke="#333" stroke-width="0.5"/><line x1="439.90" y1="497.36" x2="451.10" y2="497.36" stroke="#999" stroke-width="0.5"/><line x1="445.50" y1="497.36" x2="445.50" y2="490.16" stroke="#aaa" stroke-width="0.4"/><path d="M459.50 488.06C459.71 488.29 460.27 489.38 460.70 489.79C461.13 490.19 462.18 490.77 462.70 491.08C463.22 491.39 464.32 491.89 464.64 492.12C464.96 492.34 465.19 492.55 465.10 492.76C465.01 492.97 464.40 493.40 463.94 493.67C463.48 493.94 462.12 494.48 461.62 494.78C461.12 495.08 460.48 495.53 460.20 495.89C459.92 496.25 459.65 497.25 459.50 497.46C459.35 497.67 459.25 497.67 459.10 497.46C458.95 497.25 458.68 496.25 458.40 495.89C458.12 495.53 457.48 495.08 456.98 494.78C456.48 494.48 455.12 493.94 454.66 493.67C454.20 493.40 453.59 492.97 453.50 492.76C453.41 492.55 453.64 492.34 453.96 492.12C454.28 491.89 455.38 491.39 455.90 491.08C456.42 490.77 457.47 490.19 457.90 489.79C458.33 489.38 458.89 488.29 459.10 488.06C459.31 487.83 459.29 487.83 459.50 488.06Z" fill="#74a9cf"/><line x1="459.30" y1="496.26" x2="459.30" y2="498.66" stroke="#74a9cf" stroke-width="0.4"/><line x1="458.10" y1="498.86" x2="460.50" y2="498.86" stroke="#74a9cf" stroke-width="0.5"/><path d="M473.40 488.06C473.61 488.29 474.17 489.38 474.60 489.79C475.03 490.19 476.08 490.77 476.60 491.08C477.12 491.39 478.22 491.89 478.54 492.12C478.86 492.34 479.09 492.55 479.00 492.76C478.91 492.97 478.30 493.40 477.84 493.67C477.38 493.94 476.02 494.48 475.52 494.78C475.02 495.08 474.38 495.53 474.10 495.89C473.82 496.25 473.55 497.25 473.40 497.46C473.25 497.67 473.15 497.67 473.00 497.46C472.85 497.25 472.58 496.25 472.30 495.89C472.02 495.53 471.38 495.08 470.88 494.78C470.38 494.48 469.02 493.94 468.56 493.67C468.10 493.40 467.49 492.97 467.40 492.76C467.31 492.55 467.54 492.34 467.86 492.12C468.18 491.89 469.28 491.39 469.80 491.08C470.32 490.77 471.37 490.19 471.80 489.79C472.23 489.38 472.79 488.29 473.00 488.06C473.21 487.83 473.19 487.83 473.40 488.06Z" fill="#4a86bd"/><line x1="473.20" y1="496.26" x2="473.20" y2="498.66" stroke="#4a86bd" stroke-width="0.4"/><line x1="472.00" y1="498.86" x2="474.40" y2="498.86" stroke="#4a86bd" stroke-width="0.5"/><text x="427.60" y="508.78" font-size="8.6" text-anchor="end" fill="#ffb020">9</text><line x1="429.50" y1="505.68" x2="431.30" y2="505.68" stroke="#333" stroke-width="0.5"/><line x1="439.90" y1="510.48" x2="451.10" y2="510.48" stroke="#999" stroke-width="0.5"/><line x1="445.50" y1="510.48" x2="445.50" y2="503.28" stroke="#aaa" stroke-width="0.4"/><path d="M459.50 501.18C459.71 501.41 460.27 502.50 460.70 502.91C461.13 503.31 462.18 503.89 462.70 504.20C463.22 504.51 464.32 505.01 464.64 505.24C464.96 505.46 465.19 505.67 465.10 505.88C465.01 506.09 464.40 506.52 463.94 506.79C463.48 507.06 462.12 507.60 461.62 507.90C461.12 508.20 460.48 508.65 460.20 509.01C459.92 509.37 459.65 510.37 459.50 510.58C459.35 510.79 459.25 510.79 459.10 510.58C458.95 510.37 458.68 509.37 458.40 509.01C458.12 508.65 457.48 508.20 456.98 507.90C456.48 507.60 455.12 507.06 454.66 506.79C454.20 506.52 453.59 506.09 453.50 505.88C453.41 505.67 453.64 505.46 453.96 505.24C454.28 505.01 455.38 504.51 455.90 504.20C456.42 503.89 457.47 503.31 457.90 502.91C458.33 502.50 458.89 501.41 459.10 501.18C459.31 500.95 459.29 500.95 459.50 501.18Z" fill="#74a9cf"/><line x1="459.30" y1="509.38" x2="459.30" y2="511.78" stroke="#74a9cf" stroke-width="0.4"/><line x1="458.10" y1="511.98" x2="460.50" y2="511.98" stroke="#74a9cf" stroke-width="0.5"/><path d="M473.40 501.18C473.61 501.41 474.17 502.50 474.60 502.91C475.03 503.31 476.08 503.89 476.60 504.20C477.12 504.51 478.22 505.01 478.54 505.24C478.86 505.46 479.09 505.67 479.00 505.88C478.91 506.09 478.30 506.52 477.84 506.79C477.38 507.06 476.02 507.60 475.52 507.90C475.02 508.20 474.38 508.65 474.10 509.01C473.82 509.37 473.55 510.37 473.40 510.58C473.25 510.79 473.15 510.79 473.00 510.58C472.85 510.37 472.58 509.37 472.30 509.01C472.02 508.65 471.38 508.20 470.88 507.90C470.38 507.60 469.02 507.06 468.56 506.79C468.10 506.52 467.49 506.09 467.40 505.88C467.31 505.67 467.54 505.46 467.86 505.24C468.18 505.01 469.28 504.51 469.80 504.20C470.32 503.89 471.37 503.31 471.80 502.91C472.23 502.50 472.79 501.41 473.00 501.18C473.21 500.95 473.19 500.95 473.40 501.18Z" fill="#9dc3dd"/><line x1="473.20" y1="509.38" x2="473.20" y2="511.78" stroke="#9dc3dd" stroke-width="0.4"/><line x1="472.00" y1="511.98" x2="474.40" y2="511.98" stroke="#9dc3dd" stroke-width="0.5"/><text x="427.60" y="521.90" font-size="8.6" text-anchor="end" fill="#e020e0">10</text><line x1="429.50" y1="518.80" x2="431.30" y2="518.80" stroke="#333" stroke-width="0.5"/><line x1="439.90" y1="523.60" x2="451.10" y2="523.60" stroke="#999" stroke-width="0.5"/><line x1="445.50" y1="523.60" x2="445.50" y2="516.40" stroke="#aaa" stroke-width="0.4"/><path d="M459.50 514.30C459.71 514.53 460.27 515.62 460.70 516.02C461.13 516.43 462.18 517.01 462.70 517.32C463.22 517.63 464.32 518.13 464.64 518.36C464.96 518.58 465.19 518.79 465.10 519.00C465.01 519.21 464.40 519.64 463.94 519.91C463.48 520.18 462.12 520.72 461.62 521.02C461.12 521.32 460.48 521.77 460.20 522.13C459.92 522.49 459.65 523.49 459.50 523.70C459.35 523.91 459.25 523.91 459.10 523.70C458.95 523.49 458.68 522.49 458.40 522.13C458.12 521.77 457.48 521.32 456.98 521.02C456.48 520.72 455.12 520.18 454.66 519.91C454.20 519.64 453.59 519.21 453.50 519.00C453.41 518.79 453.64 518.58 453.96 518.36C454.28 518.13 455.38 517.63 455.90 517.32C456.42 517.01 457.47 516.43 457.90 516.02C458.33 515.62 458.89 514.53 459.10 514.30C459.31 514.07 459.29 514.07 459.50 514.30Z" fill="#143c78"/><line x1="459.30" y1="522.50" x2="459.30" y2="524.90" stroke="#143c78" stroke-width="0.4"/><line x1="458.10" y1="525.10" x2="460.50" y2="525.10" stroke="#143c78" stroke-width="0.5"/><line x1="467.60" y1="523.60" x2="478.80" y2="523.60" stroke="#999" stroke-width="0.5"/><line x1="473.20" y1="523.60" x2="473.20" y2="516.40" stroke="#aaa" stroke-width="0.4"/><line x1="445.50" y1="531.60" x2="445.50" y2="533.40" stroke="#333" stroke-width="0.5"/><text x="445.90" y="539.57" font-size="8.8" text-anchor="end" fill="#22d0d8" transform="rotate(-90 445.90 536.40)">Igfbp2</text><line x1="445.50" y1="563.20" x2="445.50" y2="565.00" stroke="#333" stroke-width="0.5"/><line x1="459.30" y1="531.60" x2="459.30" y2="533.40" stroke="#333" stroke-width="0.5"/><text x="459.70" y="539.57" font-size="8.8" text-anchor="end" fill="#e020e0" transform="rotate(-90 459.70 536.40)">Gfap</text><line x1="459.30" y1="563.20" x2="459.30" y2="565.00" stroke="#333" stroke-width="0.5"/><line x1="473.20" y1="531.60" x2="473.20" y2="533.40" stroke="#333" stroke-width="0.5"/><text x="473.60" y="539.57" font-size="8.8" text-anchor="end" fill="#ffb020" transform="rotate(-90 473.60 536.40)">Tnr</text><line x1="473.20" y1="563.20" x2="473.20" y2="565.00" stroke="#333" stroke-width="0.5"/><rect x="431.30" y="565.00" width="55.70" height="46.80" fill="none" stroke="#333" stroke-width="0.6"/><text x="426.40" y="579.53" font-size="8.7" text-anchor="end" fill="#1414f0">NPC</text><line x1="429.50" y1="576.40" x2="431.30" y2="576.40" stroke="#333" stroke-width="0.5"/><path d="M445.70 571.40C445.91 571.65 446.47 572.81 446.90 573.25C447.33 573.69 448.35 574.37 448.90 574.72C449.45 575.07 450.67 575.65 451.02 575.90C451.37 576.15 451.60 576.36 451.50 576.60C451.40 576.84 450.78 577.35 450.30 577.66C449.82 577.97 448.42 578.58 447.90 578.92C447.38 579.26 446.69 579.80 446.40 580.18C446.11 580.56 445.85 581.58 445.70 581.80C445.55 582.02 445.45 582.02 445.30 581.80C445.15 581.58 444.89 580.56 444.60 580.18C444.31 579.80 443.62 579.26 443.10 578.92C442.58 578.58 441.18 577.97 440.70 577.66C440.22 577.35 439.60 576.84 439.50 576.60C439.40 576.36 439.63 576.15 439.98 575.90C440.33 575.65 441.55 575.07 442.10 574.72C442.65 574.37 443.67 573.69 444.10 573.25C444.53 572.81 445.09 571.65 445.30 571.40C445.51 571.15 445.49 571.15 445.70 571.40Z" fill="#143c78"/><line x1="445.50" y1="580.60" x2="445.50" y2="583.00" stroke="#143c78" stroke-width="0.4"/><line x1="444.30" y1="583.20" x2="446.70" y2="583.20" stroke="#143c78" stroke-width="0.5"/><line x1="453.70" y1="581.60" x2="464.90" y2="581.60" stroke="#999" stroke-width="0.5"/><line x1="459.30" y1="581.60" x2="459.30" y2="574.40" stroke="#aaa" stroke-width="0.4"/><line x1="467.60" y1="581.60" x2="478.80" y2="581.60" stroke="#999" stroke-width="0.5"/><line x1="473.20" y1="581.60" x2="473.20" y2="574.40" stroke="#aaa" stroke-width="0.4"/><text x="426.40" y="591.53" font-size="8.7" text-anchor="end" fill="#444">SPONT</text><line x1="429.50" y1="588.40" x2="431.30" y2="588.40" stroke="#333" stroke-width="0.5"/><line x1="439.90" y1="593.60" x2="451.10" y2="593.60" stroke="#999" stroke-width="0.5"/><line x1="445.50" y1="593.60" x2="445.50" y2="586.40" stroke="#aaa" stroke-width="0.4"/><path d="M459.50 583.40C459.71 583.65 460.27 584.81 460.70 585.25C461.13 585.69 462.15 586.37 462.70 586.72C463.25 587.07 464.47 587.65 464.82 587.90C465.17 588.15 465.40 588.36 465.30 588.60C465.20 588.84 464.58 589.35 464.10 589.66C463.62 589.97 462.22 590.58 461.70 590.92C461.18 591.26 460.49 591.80 460.20 592.18C459.91 592.56 459.65 593.58 459.50 593.80C459.35 594.02 459.25 594.02 459.10 593.80C458.95 593.58 458.69 592.56 458.40 592.18C458.11 591.80 457.42 591.26 456.90 590.92C456.38 590.58 454.98 589.97 454.50 589.66C454.02 589.35 453.40 588.84 453.30 588.60C453.20 588.36 453.43 588.15 453.78 587.90C454.13 587.65 455.35 587.07 455.90 586.72C456.45 586.37 457.47 585.69 457.90 585.25C458.33 584.81 458.89 583.65 459.10 583.40C459.31 583.15 459.29 583.15 459.50 583.40Z" fill="#143c78"/><line x1="459.30" y1="592.60" x2="459.30" y2="595.00" stroke="#143c78" stroke-width="0.4"/><line x1="458.10" y1="595.20" x2="460.50" y2="595.20" stroke="#143c78" stroke-width="0.5"/><line x1="467.60" y1="593.60" x2="478.80" y2="593.60" stroke="#999" stroke-width="0.5"/><line x1="473.20" y1="593.60" x2="473.20" y2="586.40" stroke="#aaa" stroke-width="0.4"/><text x="426.40" y="603.53" font-size="8.7" text-anchor="end" fill="#f01414">CNTF</text><line x1="429.50" y1="600.40" x2="431.30" y2="600.40" stroke="#333" stroke-width="0.5"/><line x1="439.90" y1="605.60" x2="451.10" y2="605.60" stroke="#999" stroke-width="0.5"/><line x1="445.50" y1="605.60" x2="445.50" y2="598.40" stroke="#aaa" stroke-width="0.4"/><path d="M459.50 595.40C459.71 595.65 460.27 596.81 460.70 597.25C461.13 597.69 462.15 598.37 462.70 598.72C463.25 599.07 464.47 599.65 464.82 599.90C465.17 600.15 465.40 600.36 465.30 600.60C465.20 600.84 464.58 601.35 464.10 601.66C463.62 601.97 462.22 602.58 461.70 602.92C461.18 603.26 460.49 603.80 460.20 604.18C459.91 604.56 459.65 605.58 459.50 605.80C459.35 606.02 459.25 606.02 459.10 605.80C458.95 605.58 458.69 604.56 458.40 604.18C458.11 603.80 457.42 603.26 456.90 602.92C456.38 602.58 454.98 601.97 454.50 601.66C454.02 601.35 453.40 600.84 453.30 600.60C453.20 600.36 453.43 600.15 453.78 599.90C454.13 599.65 455.35 599.07 455.90 598.72C456.45 598.37 457.47 597.69 457.90 597.25C458.33 596.81 458.89 595.65 459.10 595.40C459.31 595.15 459.29 595.15 459.50 595.40Z" fill="#143c78"/><line x1="459.30" y1="604.60" x2="459.30" y2="607.00" stroke="#143c78" stroke-width="0.4"/><line x1="458.10" y1="607.20" x2="460.50" y2="607.20" stroke="#143c78" stroke-width="0.5"/><line x1="467.60" y1="605.60" x2="478.80" y2="605.60" stroke="#999" stroke-width="0.5"/><line x1="473.20" y1="605.60" x2="473.20" y2="598.40" stroke="#aaa" stroke-width="0.4"/><rect x="438.40" y="616.40" width="42.20" height="5.60" fill="url(#gk)" stroke="#888" stroke-width="0.3"/><line x1="438.80" y1="622.00" x2="438.80" y2="623.40" stroke="#333" stroke-width="0.4"/><line x1="465.40" y1="622.00" x2="465.40" y2="623.40" stroke="#333" stroke-width="0.4"/><text x="438.80" y="629.43" font-size="6.2" text-anchor="middle">0</text><text x="465.40" y="629.43" font-size="6.2" text-anchor="middle">2</text><text x="459.40" y="638.28" font-size="8" text-anchor="middle">Median Expression</text>
<text x="25.30" y="555.78" font-size="10.5" font-weight="bold">l</text><text x="79.60" y="559.28" font-size="8" text-anchor="middle">NPC</text><text x="160.60" y="558.48" font-size="8" text-anchor="middle">SPONT</text><text x="242.60" y="558.48" font-size="8" text-anchor="middle">CNTF</text><path d="M79.6 594.0L79.60 563.00A31.0 31.0 0 0 1 98.08 618.89Z" fill="#0808f8" stroke="#0808f8" stroke-width="0.3"/><path d="M79.6 594.0L98.08 618.89A31.0 31.0 0 0 1 57.30 615.53Z" fill="#08b0b0" stroke="#08b0b0" stroke-width="0.3"/><path d="M79.6 594.0L57.30 615.53A31.0 31.0 0 0 1 52.97 578.13Z" fill="#78b6ff" stroke="#78b6ff" stroke-width="0.3"/><path d="M79.6 594.0L52.97 578.13A31.0 31.0 0 0 1 78.19 563.03Z" fill="#00007e" stroke="#00007e" stroke-width="0.3"/><path d="M79.6 594.0L78.19 563.03A31.0 31.0 0 0 1 79.60 563.00Z" fill="#e01020" stroke="#e01020" stroke-width="0.3"/><circle cx="79.60" cy="594.00" r="31.00" fill="none" stroke="#222" stroke-width="0.5"/><path d="M160.6 594.0L160.60 563.00A31.0 31.0 0 0 1 171.61 622.98Z" fill="#ff8208" stroke="#ff8208" stroke-width="0.3"/><path d="M160.6 594.0L171.61 622.98A31.0 31.0 0 0 1 135.27 611.87Z" fill="#10c410" stroke="#10c410" stroke-width="0.3"/><path d="M160.6 594.0L135.27 611.87A31.0 31.0 0 0 1 132.44 581.05Z" fill="#f80808" stroke="#f80808" stroke-width="0.3"/><path d="M160.6 594.0L132.44 581.05A31.0 31.0 0 0 1 146.24 566.53Z" fill="#c408d4" stroke="#c408d4" stroke-width="0.3"/><path d="M160.6 594.0L146.24 566.53A31.0 31.0 0 0 1 151.43 564.39Z" fill="#a00808" stroke="#a00808" stroke-width="0.3"/><path d="M160.6 594.0L151.43 564.39A31.0 31.0 0 0 1 155.75 563.38Z" fill="#0a640a" stroke="#0a640a" stroke-width="0.3"/><path d="M160.6 594.0L155.75 563.38A31.0 31.0 0 0 1 158.98 563.04Z" fill="#c8c810" stroke="#c8c810" stroke-width="0.3"/><path d="M160.6 594.0L158.98 563.04A31.0 31.0 0 0 1 159.84 563.01Z" fill="#888" stroke="#888" stroke-width="0.3"/><path d="M160.6 594.0L159.84 563.01A31.0 31.0 0 0 1 160.60 563.00Z" fill="#10b0b0" stroke="#10b0b0" stroke-width="0.3"/><circle cx="160.60" cy="594.00" r="31.00" fill="none" stroke="#222" stroke-width="0.5"/><path d="M242.6 594.0L242.60 563.00A31.0 31.0 0 0 1 273.16 599.22Z" fill="#c8c810" stroke="#c8c810" stroke-width="0.3"/><path d="M242.6 594.0L273.16 599.22A31.0 31.0 0 0 1 235.31 624.13Z" fill="#10c410" stroke="#10c410" stroke-width="0.3"/><path d="M242.6 594.0L235.31 624.13A31.0 31.0 0 0 1 212.12 588.35Z" fill="#f80808" stroke="#f80808" stroke-width="0.3"/><path d="M242.6 594.0L212.12 588.35A31.0 31.0 0 0 1 218.31 574.74Z" fill="#a00808" stroke="#a00808" stroke-width="0.3"/><path d="M242.6 594.0L218.31 574.74A31.0 31.0 0 0 1 227.10 567.15Z" fill="#c408d4" stroke="#c408d4" stroke-width="0.3"/><path d="M242.6 594.0L227.10 567.15A31.0 31.0 0 0 1 236.15 563.68Z" fill="#ff8208" stroke="#ff8208" stroke-width="0.3"/><path d="M242.6 594.0L236.15 563.68A31.0 31.0 0 0 1 242.60 563.00Z" fill="#0a640a" stroke="#0a640a" stroke-width="0.3"/><circle cx="242.60" cy="594.00" r="31.00" fill="none" stroke="#222" stroke-width="0.5"/><text x="97.20" y="591.10" font-size="6.4" text-anchor="middle" fill="#fff">0</text><text x="79.40" y="613.70" font-size="6.4" text-anchor="middle" fill="#fff">2</text><text x="61.00" y="597.90" font-size="6.4" text-anchor="middle" fill="#fff">5</text><text x="69.20" y="577.30" font-size="6.4" text-anchor="middle" fill="#fff">7</text><text x="177.80" y="592.90" font-size="6.4" text-anchor="middle" fill="#fff">4</text><text x="156.20" y="613.70" font-size="6.4" text-anchor="middle" fill="#fff">1</text><text x="140.40" y="596.50" font-size="6.4" text-anchor="middle" fill="#fff">3</text><text x="144.60" y="581.10" font-size="6.4" text-anchor="middle" fill="#fff">8</text><text x="256.60" y="586.30" font-size="6.4" text-anchor="middle" fill="#fff">6</text><text x="253.20" y="610.90" font-size="6.4" text-anchor="middle" fill="#fff">1</text><text x="226.20" y="604.90" font-size="6.4" text-anchor="middle" fill="#fff">3</text><text x="222.40" y="586.70" font-size="6.4" text-anchor="middle" fill="#fff">9</text><text x="39.60" y="628.88" font-size="8" text-anchor="middle">Total Cells</text><text x="39.60" y="637.48" font-size="8" text-anchor="middle">per condition</text><text x="80.00" y="634.48" font-size="8" text-anchor="middle">7833</text><text x="161.00" y="634.68" font-size="8" text-anchor="middle">3416</text><text x="243.00" y="634.68" font-size="8" text-anchor="middle">4842</text><text x="331.00" y="563.25" font-size="9.3" text-anchor="middle" fill="#e010e0">Astrocyte Clusters</text><text x="331.00" y="572.55" font-size="9.3" text-anchor="middle" fill="#e010e0">(1,4,6,10)</text><text x="331.00" y="591.55" font-size="9.3" text-anchor="middle" fill="#ffa820">Oligo Clusters</text><text x="331.00" y="601.15" font-size="9.3" text-anchor="middle" fill="#ffa820">(3,8,9)</text><text x="331.00" y="621.35" font-size="9.3" text-anchor="middle" fill="#18c8d0">NPC Custers</text><text x="331.00" y="630.55" font-size="9.3" text-anchor="middle" fill="#18c8d0">(0,2,5,7)</text>
<text x="509.40" y="354.09" font-size="10.8" font-weight="bold">m</text><text x="594.60" y="368.12" font-size="8.1" text-anchor="middle" font-weight="bold">Cluster 6 vs 4 Astrocytes</text><line x1="520.20" y1="466.90" x2="668.80" y2="466.90" stroke="#888" stroke-width="1.3"/><line x1="594.50" y1="377.20" x2="594.50" y2="466.90" stroke="#000" stroke-width="0.7"/><line x1="591.90" y1="385.10" x2="594.50" y2="385.10" stroke="#000" stroke-width="0.6"/><text x="590.70" y="387.55" font-size="6.8" text-anchor="end" font-weight="bold">150</text><line x1="591.90" y1="398.80" x2="594.50" y2="398.80" stroke="#000" stroke-width="0.6"/><text x="590.70" y="401.25" font-size="6.8" text-anchor="end" font-weight="bold">125</text><line x1="591.90" y1="412.40" x2="594.50" y2="412.40" stroke="#000" stroke-width="0.6"/><text x="590.70" y="414.85" font-size="6.8" text-anchor="end" font-weight="bold">100</text><line x1="591.90" y1="425.90" x2="594.50" y2="425.90" stroke="#000" stroke-width="0.6"/><text x="590.70" y="428.35" font-size="6.8" text-anchor="end" font-weight="bold">75</text><line x1="591.90" y1="439.40" x2="594.50" y2="439.40" stroke="#000" stroke-width="0.6"/><text x="590.70" y="441.85" font-size="6.8" text-anchor="end" font-weight="bold">50</text><line x1="591.90" y1="453.00" x2="594.50" y2="453.00" stroke="#000" stroke-width="0.6"/><text x="590.70" y="455.45" font-size="6.8" text-anchor="end" font-weight="bold">25</text><line x1="541.30" y1="466.90" x2="541.30" y2="469.30" stroke="#555" stroke-width="0.6"/><text x="541.30" y="477.65" font-size="6.8" text-anchor="middle" font-weight="bold">-2</text><line x1="567.80" y1="466.90" x2="567.80" y2="469.30" stroke="#555" stroke-width="0.6"/><text x="567.80" y="477.65" font-size="6.8" text-anchor="middle" font-weight="bold">-1</text><line x1="594.50" y1="466.90" x2="594.50" y2="469.30" stroke="#555" stroke-width="0.6"/><text x="594.50" y="477.65" font-size="6.8" text-anchor="middle" font-weight="bold">0</text><line x1="621.00" y1="466.90" x2="621.00" y2="469.30" stroke="#555" stroke-width="0.6"/><text x="621.00" y="477.65" font-size="6.8" text-anchor="middle" font-weight="bold">1</text><line x1="647.40" y1="466.90" x2="647.40" y2="469.30" stroke="#555" stroke-width="0.6"/><text x="647.40" y="477.65" font-size="6.8" text-anchor="middle" font-weight="bold">2</text><text x="594.60" y="489.26" font-size="8.5" text-anchor="middle" font-weight="bold">DEG (Log<tspan font-size="6" dy="1.5">2</tspan><tspan dy="-1.5">FC)</tspan></text><text x="528.20" y="424.64" font-size="8.45" text-anchor="middle" font-weight="bold" transform="rotate(-90 528.20 421.60)">-log10(p-value)</text><circle cx="551.85" cy="419.12" r="1.95" fill="#1414f5"/><text x="555.25" y="421.15" font-size="5.1">Pla2g7</text><circle cx="565.62" cy="428.30" r="1.95" fill="#1414f5"/><text x="569.02" y="430.33" font-size="5.1">Mt3</text><circle cx="558.87" cy="432.08" r="1.95" fill="#1414f5"/><text x="556.67" y="438.52" font-size="5.1" text-anchor="end">Slc4a4</text><circle cx="564.00" cy="435.86" r="1.95" fill="#1414f5"/><text x="567.40" y="437.90" font-size="5.1">Emp2</text><circle cx="569.67" cy="448.82" r="1.95" fill="#1414f5"/><text x="566.47" y="445.66" font-size="5.1" text-anchor="middle">Mt2</text><circle cx="559.95" cy="451.79" r="1.95" fill="#1414f5"/><text x="559.95" y="459.23" font-size="5.1" text-anchor="middle">Kcnn2</text><circle cx="575.07" cy="452.87" r="1.95" fill="#1414f5"/><text x="579.07" y="449.11" font-size="5.1" text-anchor="middle">Gja1</text><circle cx="578.31" cy="453.95" r="1.95" fill="#1414f5"/><text x="578.31" y="461.39" font-size="5.1" text-anchor="middle">Apt</text><circle cx="659.33" cy="380.23" r="1.95" fill="#f51414"/><circle cx="643.40" cy="409.94" r="1.95" fill="#f51414"/><circle cx="633.14" cy="421.82" r="1.95" fill="#f51414"/><circle cx="639.89" cy="428.30" r="1.95" fill="#f51414"/><circle cx="653.93" cy="428.84" r="1.95" fill="#f51414"/><circle cx="617.47" cy="442.07" r="1.95" fill="#f51414"/><circle cx="640.43" cy="442.07" r="1.95" fill="#f51414"/><circle cx="645.83" cy="440.72" r="1.95" fill="#f51414"/><circle cx="620.71" cy="448.82" r="1.95" fill="#f51414"/><circle cx="647.18" cy="444.77" r="1.95" fill="#f51414"/><circle cx="646.64" cy="448.01" r="1.95" fill="#f51414"/><text x="661.49" y="388.01" font-size="5.1" text-anchor="middle">Adamtsl1</text><text x="647.45" y="411.77" font-size="5.1">Col4a5</text><text x="636.92" y="423.65" font-size="5.1">4930578M01Rik</text><text x="637.19" y="428.51" font-size="5.1" text-anchor="end">A2m</text><text x="657.71" y="430.67" font-size="5.1">Cp</text><text x="616.12" y="439.05" font-size="5.1" text-anchor="middle">Clu</text><text x="633.41" y="437.43" font-size="5.1" text-anchor="middle">C4b</text><text x="652.04" y="438.78" font-size="5.1" text-anchor="middle">C3</text><text x="625.84" y="456.87" font-size="5.1" text-anchor="middle">Cd109</text><text x="651.23" y="443.64" font-size="5.1">Serpina3n</text><text x="650.15" y="452.82" font-size="5.1">Emp3</text><circle cx="615.58" cy="450.17" r="1.10" fill="#200808"/><circle cx="620.98" cy="440.18" r="1.10" fill="#200808"/><circle cx="623.68" cy="438.56" r="1.10" fill="#200808"/><circle cx="627.46" cy="440.18" r="1.10" fill="#200808"/><circle cx="624.76" cy="448.82" r="1.10" fill="#200808"/><circle cx="629.08" cy="444.77" r="1.10" fill="#200808"/><circle cx="631.24" cy="446.66" r="1.10" fill="#200808"/><circle cx="631.79" cy="447.47" r="1.10" fill="#200808"/><circle cx="633.68" cy="440.72" r="1.10" fill="#200808"/><circle cx="636.38" cy="441.26" r="1.10" fill="#200808"/><circle cx="638.27" cy="441.26" r="1.10" fill="#200808"/><circle cx="639.35" cy="448.82" r="1.10" fill="#200808"/><circle cx="640.43" cy="434.78" r="1.10" fill="#200808"/><circle cx="642.59" cy="433.70" r="1.10" fill="#200808"/><circle cx="644.48" cy="435.86" r="1.10" fill="#200808"/><circle cx="647.99" cy="446.66" r="1.10" fill="#200808"/><circle cx="649.34" cy="444.50" r="1.10" fill="#200808"/><circle cx="657.98" cy="437.21" r="1.10" fill="#200808"/><circle cx="662.84" cy="436.67" r="1.10" fill="#200808"/><circle cx="628.54" cy="446.12" r="1.10" fill="#200808"/>
<text x="509.30" y="520.29" font-size="10.8" font-weight="bold">n</text><text x="550.80" y="537.10" font-size="8.6" text-anchor="middle" font-weight="bold">Single Cell DEG</text><text x="550.80" y="547.30" font-size="8.6" text-anchor="middle" font-weight="bold">(Cluster 6 vs 4)</text><text x="548.00" y="577.35" font-size="9.3" font-weight="bold">r = 0.88</text><circle cx="596.14" cy="556.96" r="1.60" fill="#999"/><circle cx="596.14" cy="565.88" r="1.60" fill="#999"/><circle cx="596.68" cy="573.17" r="1.60" fill="#999"/><circle cx="596.68" cy="606.38" r="1.60" fill="#999"/><circle cx="610.18" cy="553.45" r="1.60" fill="#999"/><circle cx="608.56" cy="562.37" r="1.60" fill="#999"/><circle cx="607.48" cy="566.96" r="1.60" fill="#999"/><circle cx="614.77" cy="560.48" r="1.60" fill="#999"/><circle cx="615.58" cy="564.26" r="1.60" fill="#999"/><circle cx="618.82" cy="571.82" r="1.60" fill="#999"/><circle cx="622.06" cy="569.12" r="1.60" fill="#999"/><circle cx="616.93" cy="563.72" r="1.60" fill="#999"/><circle cx="623.68" cy="553.45" r="1.60" fill="#999"/><circle cx="624.76" cy="553.45" r="1.60" fill="#999"/><circle cx="627.46" cy="560.48" r="1.60" fill="#999"/><circle cx="632.33" cy="556.96" r="1.60" fill="#999"/><circle cx="634.22" cy="563.18" r="1.60" fill="#999"/><circle cx="630.16" cy="542.65" r="1.60" fill="#999"/><circle cx="631.51" cy="550.75" r="1.60" fill="#999"/><circle cx="639.35" cy="549.13" r="1.60" fill="#999"/><circle cx="642.32" cy="546.16" r="1.60" fill="#999"/><circle cx="640.97" cy="555.61" r="1.60" fill="#999"/><circle cx="640.43" cy="558.85" r="1.60" fill="#999"/><circle cx="643.13" cy="556.15" r="1.60" fill="#999"/><circle cx="644.48" cy="550.75" r="1.60" fill="#999"/><circle cx="648.53" cy="556.96" r="1.60" fill="#999"/><circle cx="653.39" cy="551.56" r="1.60" fill="#999"/><circle cx="655.01" cy="543.46" r="1.60" fill="#999"/><circle cx="664.73" cy="551.29" r="1.60" fill="#999"/><circle cx="670.13" cy="539.68" r="1.60" fill="#999"/><circle cx="552.12" cy="612.87" r="1.60" fill="#999"/><circle cx="561.57" cy="619.08" r="1.60" fill="#999"/><circle cx="563.73" cy="609.62" r="1.60" fill="#999"/><circle cx="564.27" cy="612.33" r="1.60" fill="#999"/><circle cx="575.07" cy="602.06" r="1.60" fill="#999"/><circle cx="579.40" cy="596.66" r="1.60" fill="#999"/><circle cx="579.94" cy="599.36" r="1.60" fill="#999"/><line x1="522.10" y1="588.00" x2="670.70" y2="588.00" stroke="#000" stroke-width="0.7"/><line x1="596.70" y1="531.30" x2="596.70" y2="625.80" stroke="#000" stroke-width="0.7"/><line x1="594.30" y1="532.10" x2="596.70" y2="532.10" stroke="#000" stroke-width="0.6"/><text x="593.30" y="534.26" font-size="6.0" text-anchor="end" font-weight="bold">3</text><line x1="594.30" y1="550.70" x2="596.70" y2="550.70" stroke="#000" stroke-width="0.6"/><text x="593.30" y="552.86" font-size="6.0" text-anchor="end" font-weight="bold">2</text><line x1="594.30" y1="569.20" x2="596.70" y2="569.20" stroke="#000" stroke-width="0.6"/><text x="593.30" y="571.36" font-size="6.0" text-anchor="end" font-weight="bold">1</text><line x1="594.30" y1="606.80" x2="596.70" y2="606.80" stroke="#000" stroke-width="0.6"/><text x="593.30" y="608.96" font-size="6.0" text-anchor="end" font-weight="bold">-1</text><line x1="594.30" y1="625.40" x2="596.70" y2="625.40" stroke="#000" stroke-width="0.6"/><text x="593.30" y="627.56" font-size="6.0" text-anchor="end" font-weight="bold">-2</text><line x1="525.70" y1="588.00" x2="525.70" y2="590.40" stroke="#000" stroke-width="0.6"/><text x="525.70" y="596.76" font-size="6.0" text-anchor="middle" font-weight="bold">-4</text><line x1="543.30" y1="588.00" x2="543.30" y2="590.40" stroke="#000" stroke-width="0.6"/><text x="543.30" y="596.76" font-size="6.0" text-anchor="middle" font-weight="bold">-3</text><line x1="561.00" y1="588.00" x2="561.00" y2="590.40" stroke="#000" stroke-width="0.6"/><text x="561.00" y="596.76" font-size="6.0" text-anchor="middle" font-weight="bold">-2</text><line x1="578.70" y1="588.00" x2="578.70" y2="590.40" stroke="#000" stroke-width="0.6"/><text x="578.70" y="596.76" font-size="6.0" text-anchor="middle" font-weight="bold">-1</text><line x1="614.00" y1="588.00" x2="614.00" y2="590.40" stroke="#000" stroke-width="0.6"/><text x="614.00" y="596.76" font-size="6.0" text-anchor="middle" font-weight="bold">1</text><line x1="631.60" y1="588.00" x2="631.60" y2="590.40" stroke="#000" stroke-width="0.6"/><text x="631.60" y="596.76" font-size="6.0" text-anchor="middle" font-weight="bold">2</text><line x1="649.30" y1="588.00" x2="649.30" y2="590.40" stroke="#000" stroke-width="0.6"/><text x="649.30" y="596.76" font-size="6.0" text-anchor="middle" font-weight="bold">3</text><line x1="667.00" y1="588.00" x2="667.00" y2="590.40" stroke="#000" stroke-width="0.6"/><text x="667.00" y="596.76" font-size="6.0" text-anchor="middle" font-weight="bold">4</text><line x1="551.30" y1="612.90" x2="670.10" y2="533.20" stroke="#000" stroke-width="0.7"/><text x="609.40" y="609.50" font-size="8.6" font-weight="bold">Bulk RiboTag DEG</text><text x="610.60" y="619.50" font-size="8.6" font-weight="bold">(CNTF vs SPONT)</text></svg></body></html>
